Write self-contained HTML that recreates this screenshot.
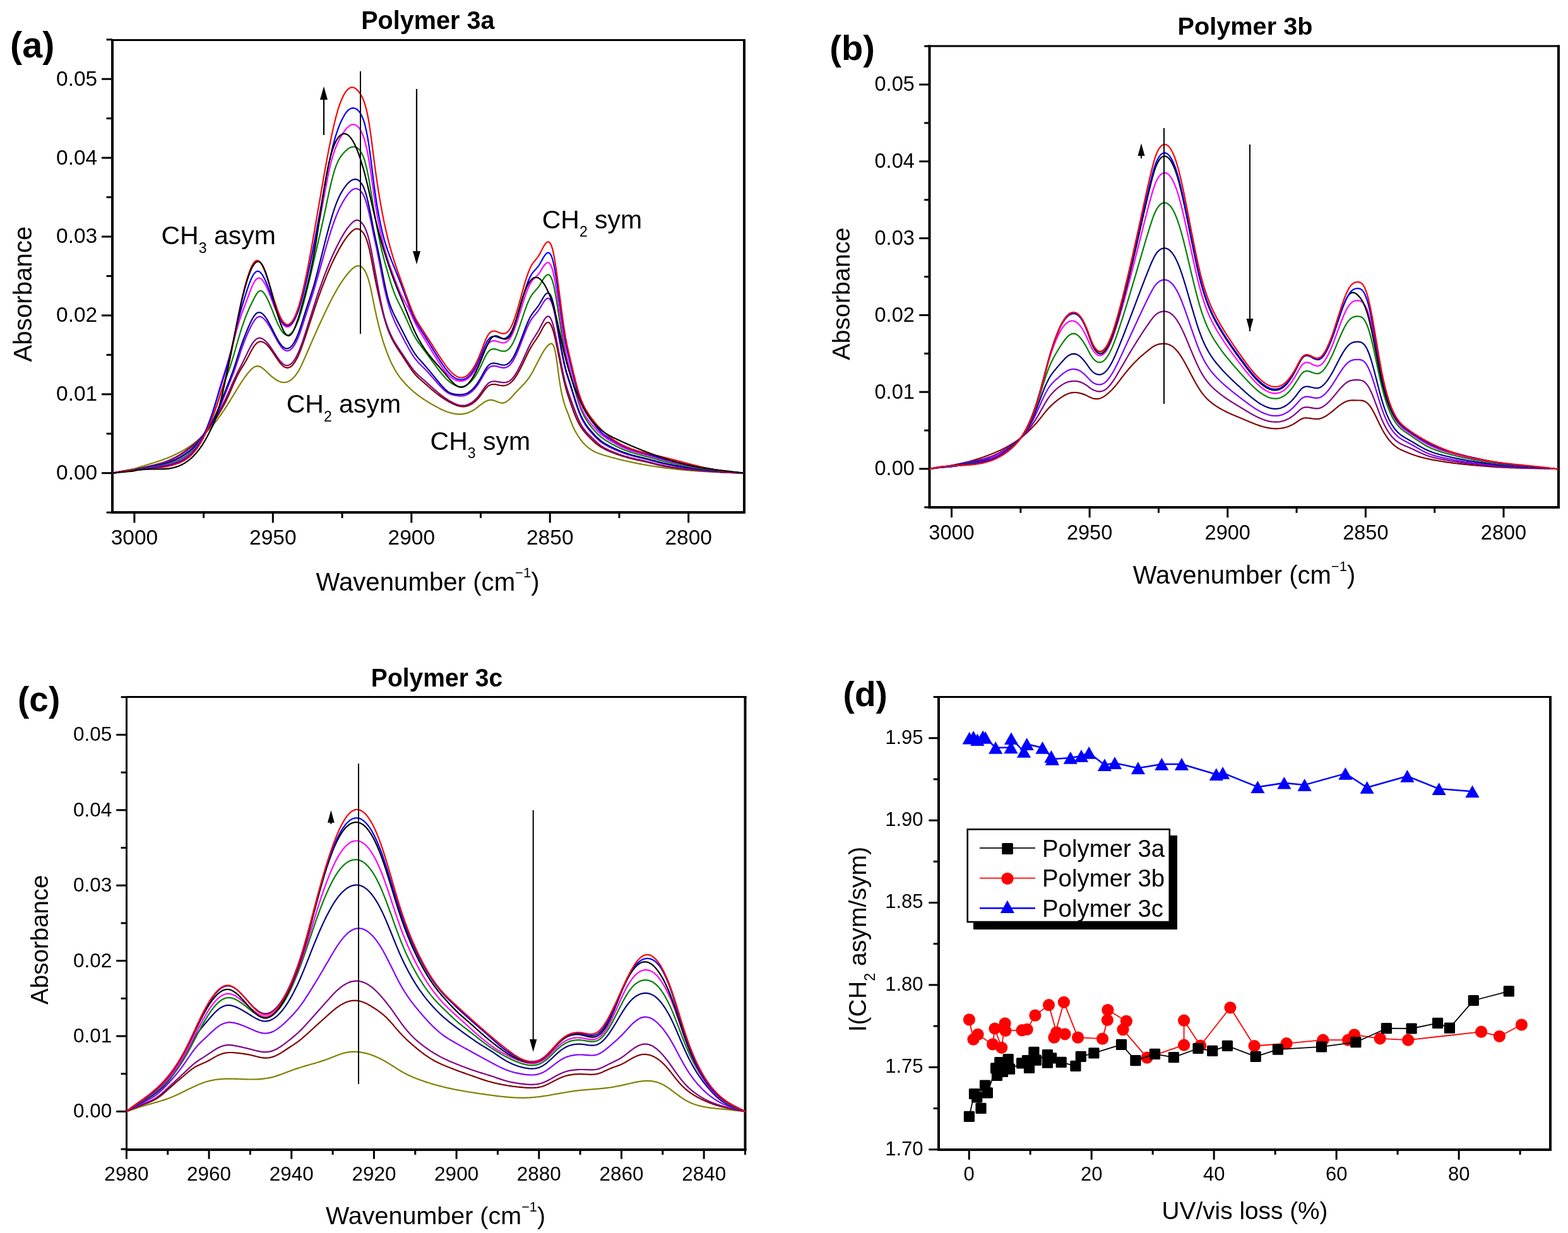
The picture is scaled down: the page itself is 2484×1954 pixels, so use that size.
<!DOCTYPE html><html><head><meta charset="utf-8"><title>Figure</title><style>html,body{margin:0;padding:0;background:#fff;}svg{display:block;}</style></head><body><svg xmlns="http://www.w3.org/2000/svg" width="2484" height="1954" viewBox="0 0 2484 1954" font-family='"Liberation Sans", Arial, Helvetica, sans-serif'><rect width="100%" height="100%" fill="#fff"/><line x1="1090.70" y1="812.00" x2="1090.70" y2="828.50" stroke="#000" stroke-width="3" stroke-linecap="butt"/>
<line x1="980.98" y1="812.00" x2="980.98" y2="821.00" stroke="#000" stroke-width="3" stroke-linecap="butt"/>
<line x1="871.25" y1="812.00" x2="871.25" y2="828.50" stroke="#000" stroke-width="3" stroke-linecap="butt"/>
<line x1="761.52" y1="812.00" x2="761.52" y2="821.00" stroke="#000" stroke-width="3" stroke-linecap="butt"/>
<line x1="651.80" y1="812.00" x2="651.80" y2="828.50" stroke="#000" stroke-width="3" stroke-linecap="butt"/>
<line x1="542.08" y1="812.00" x2="542.08" y2="821.00" stroke="#000" stroke-width="3" stroke-linecap="butt"/>
<line x1="432.35" y1="812.00" x2="432.35" y2="828.50" stroke="#000" stroke-width="3" stroke-linecap="butt"/>
<line x1="322.62" y1="812.00" x2="322.62" y2="821.00" stroke="#000" stroke-width="3" stroke-linecap="butt"/>
<line x1="212.90" y1="812.00" x2="212.90" y2="828.50" stroke="#000" stroke-width="3" stroke-linecap="butt"/>
<line x1="168.60" y1="812.15" x2="178.00" y2="812.15" stroke="#000" stroke-width="3" stroke-linecap="butt"/>
<line x1="161.00" y1="749.70" x2="178.00" y2="749.70" stroke="#000" stroke-width="3" stroke-linecap="butt"/>
<line x1="168.60" y1="687.25" x2="178.00" y2="687.25" stroke="#000" stroke-width="3" stroke-linecap="butt"/>
<line x1="161.00" y1="624.80" x2="178.00" y2="624.80" stroke="#000" stroke-width="3" stroke-linecap="butt"/>
<line x1="168.60" y1="562.35" x2="178.00" y2="562.35" stroke="#000" stroke-width="3" stroke-linecap="butt"/>
<line x1="161.00" y1="499.90" x2="178.00" y2="499.90" stroke="#000" stroke-width="3" stroke-linecap="butt"/>
<line x1="168.60" y1="437.45" x2="178.00" y2="437.45" stroke="#000" stroke-width="3" stroke-linecap="butt"/>
<line x1="161.00" y1="375.00" x2="178.00" y2="375.00" stroke="#000" stroke-width="3" stroke-linecap="butt"/>
<line x1="168.60" y1="312.55" x2="178.00" y2="312.55" stroke="#000" stroke-width="3" stroke-linecap="butt"/>
<line x1="161.00" y1="250.10" x2="178.00" y2="250.10" stroke="#000" stroke-width="3" stroke-linecap="butt"/>
<line x1="168.60" y1="187.65" x2="178.00" y2="187.65" stroke="#000" stroke-width="3" stroke-linecap="butt"/>
<line x1="161.00" y1="125.20" x2="178.00" y2="125.20" stroke="#000" stroke-width="3" stroke-linecap="butt"/>
<line x1="168.60" y1="62.75" x2="178.00" y2="62.75" stroke="#000" stroke-width="3" stroke-linecap="butt"/>
<line x1="176.00" y1="63.50" x2="1181.00" y2="63.50" stroke="#000" stroke-width="3" stroke-linecap="butt"/>
<line x1="176.00" y1="812.00" x2="1181.00" y2="812.00" stroke="#000" stroke-width="4" stroke-linecap="butt"/>
<line x1="178.00" y1="62.00" x2="178.00" y2="814.00" stroke="#000" stroke-width="4" stroke-linecap="butt"/>
<line x1="1179.00" y1="62.00" x2="1179.00" y2="814.00" stroke="#000" stroke-width="4" stroke-linecap="butt"/>
<text transform="translate(1090.70,863.40)" font-size="33.5" text-anchor="middle" fill="#000">2800</text>
<text transform="translate(871.25,863.40)" font-size="33.5" text-anchor="middle" fill="#000">2850</text>
<text transform="translate(651.80,863.40)" font-size="33.5" text-anchor="middle" fill="#000">2900</text>
<text transform="translate(432.35,863.40)" font-size="33.5" text-anchor="middle" fill="#000">2950</text>
<text transform="translate(212.90,863.40)" font-size="33.5" text-anchor="middle" fill="#000">3000</text>
<text transform="translate(154.20,760.10)" font-size="33.5" text-anchor="end" fill="#000">0.00</text>
<text transform="translate(154.20,635.20)" font-size="33.5" text-anchor="end" fill="#000">0.01</text>
<text transform="translate(154.20,510.30)" font-size="33.5" text-anchor="end" fill="#000">0.02</text>
<text transform="translate(154.20,385.40)" font-size="33.5" text-anchor="end" fill="#000">0.03</text>
<text transform="translate(154.20,260.50)" font-size="33.5" text-anchor="end" fill="#000">0.04</text>
<text transform="translate(154.20,135.60)" font-size="33.5" text-anchor="end" fill="#000">0.05</text>
<line x1="2382.00" y1="804.00" x2="2382.00" y2="820.20" stroke="#000" stroke-width="3" stroke-linecap="butt"/>
<line x1="2272.69" y1="804.00" x2="2272.69" y2="812.80" stroke="#000" stroke-width="3" stroke-linecap="butt"/>
<line x1="2163.38" y1="804.00" x2="2163.38" y2="820.20" stroke="#000" stroke-width="3" stroke-linecap="butt"/>
<line x1="2054.06" y1="804.00" x2="2054.06" y2="812.80" stroke="#000" stroke-width="3" stroke-linecap="butt"/>
<line x1="1944.75" y1="804.00" x2="1944.75" y2="820.20" stroke="#000" stroke-width="3" stroke-linecap="butt"/>
<line x1="1835.44" y1="804.00" x2="1835.44" y2="812.80" stroke="#000" stroke-width="3" stroke-linecap="butt"/>
<line x1="1726.12" y1="804.00" x2="1726.12" y2="820.20" stroke="#000" stroke-width="3" stroke-linecap="butt"/>
<line x1="1616.81" y1="804.00" x2="1616.81" y2="812.80" stroke="#000" stroke-width="3" stroke-linecap="butt"/>
<line x1="1507.50" y1="804.00" x2="1507.50" y2="820.20" stroke="#000" stroke-width="3" stroke-linecap="butt"/>
<line x1="1464.20" y1="803.90" x2="1472.50" y2="803.90" stroke="#000" stroke-width="3" stroke-linecap="butt"/>
<line x1="1456.20" y1="743.00" x2="1472.50" y2="743.00" stroke="#000" stroke-width="3" stroke-linecap="butt"/>
<line x1="1464.20" y1="682.10" x2="1472.50" y2="682.10" stroke="#000" stroke-width="3" stroke-linecap="butt"/>
<line x1="1456.20" y1="621.20" x2="1472.50" y2="621.20" stroke="#000" stroke-width="3" stroke-linecap="butt"/>
<line x1="1464.20" y1="560.30" x2="1472.50" y2="560.30" stroke="#000" stroke-width="3" stroke-linecap="butt"/>
<line x1="1456.20" y1="499.40" x2="1472.50" y2="499.40" stroke="#000" stroke-width="3" stroke-linecap="butt"/>
<line x1="1464.20" y1="438.50" x2="1472.50" y2="438.50" stroke="#000" stroke-width="3" stroke-linecap="butt"/>
<line x1="1456.20" y1="377.60" x2="1472.50" y2="377.60" stroke="#000" stroke-width="3" stroke-linecap="butt"/>
<line x1="1464.20" y1="316.70" x2="1472.50" y2="316.70" stroke="#000" stroke-width="3" stroke-linecap="butt"/>
<line x1="1456.20" y1="255.80" x2="1472.50" y2="255.80" stroke="#000" stroke-width="3" stroke-linecap="butt"/>
<line x1="1464.20" y1="194.90" x2="1472.50" y2="194.90" stroke="#000" stroke-width="3" stroke-linecap="butt"/>
<line x1="1456.20" y1="134.00" x2="1472.50" y2="134.00" stroke="#000" stroke-width="3" stroke-linecap="butt"/>
<line x1="1464.20" y1="73.10" x2="1472.50" y2="73.10" stroke="#000" stroke-width="3" stroke-linecap="butt"/>
<line x1="1470.50" y1="73.00" x2="2471.00" y2="73.00" stroke="#000" stroke-width="3" stroke-linecap="butt"/>
<line x1="1470.50" y1="804.00" x2="2471.00" y2="804.00" stroke="#000" stroke-width="4" stroke-linecap="butt"/>
<line x1="1472.50" y1="71.50" x2="1472.50" y2="806.00" stroke="#000" stroke-width="4" stroke-linecap="butt"/>
<line x1="2469.00" y1="71.50" x2="2469.00" y2="806.00" stroke="#000" stroke-width="4" stroke-linecap="butt"/>
<text transform="translate(2382.00,855.00)" font-size="32.5" text-anchor="middle" fill="#000">2800</text>
<text transform="translate(2163.38,855.00)" font-size="32.5" text-anchor="middle" fill="#000">2850</text>
<text transform="translate(1944.75,855.00)" font-size="32.5" text-anchor="middle" fill="#000">2900</text>
<text transform="translate(1726.12,855.00)" font-size="32.5" text-anchor="middle" fill="#000">2950</text>
<text transform="translate(1507.50,855.00)" font-size="32.5" text-anchor="middle" fill="#000">3000</text>
<text transform="translate(1448.80,753.30)" font-size="32.5" text-anchor="end" fill="#000">0.00</text>
<text transform="translate(1448.80,631.50)" font-size="32.5" text-anchor="end" fill="#000">0.01</text>
<text transform="translate(1448.80,509.70)" font-size="32.5" text-anchor="end" fill="#000">0.02</text>
<text transform="translate(1448.80,387.90)" font-size="32.5" text-anchor="end" fill="#000">0.03</text>
<text transform="translate(1448.80,266.10)" font-size="32.5" text-anchor="end" fill="#000">0.04</text>
<text transform="translate(1448.80,144.30)" font-size="32.5" text-anchor="end" fill="#000">0.05</text>
<line x1="1180.50" y1="1822.00" x2="1180.50" y2="1830.00" stroke="#000" stroke-width="3" stroke-linecap="butt"/>
<line x1="1115.16" y1="1822.00" x2="1115.16" y2="1836.70" stroke="#000" stroke-width="3" stroke-linecap="butt"/>
<line x1="1049.82" y1="1822.00" x2="1049.82" y2="1830.00" stroke="#000" stroke-width="3" stroke-linecap="butt"/>
<line x1="984.48" y1="1822.00" x2="984.48" y2="1836.70" stroke="#000" stroke-width="3" stroke-linecap="butt"/>
<line x1="919.14" y1="1822.00" x2="919.14" y2="1830.00" stroke="#000" stroke-width="3" stroke-linecap="butt"/>
<line x1="853.80" y1="1822.00" x2="853.80" y2="1836.70" stroke="#000" stroke-width="3" stroke-linecap="butt"/>
<line x1="788.46" y1="1822.00" x2="788.46" y2="1830.00" stroke="#000" stroke-width="3" stroke-linecap="butt"/>
<line x1="723.12" y1="1822.00" x2="723.12" y2="1836.70" stroke="#000" stroke-width="3" stroke-linecap="butt"/>
<line x1="657.78" y1="1822.00" x2="657.78" y2="1830.00" stroke="#000" stroke-width="3" stroke-linecap="butt"/>
<line x1="592.44" y1="1822.00" x2="592.44" y2="1836.70" stroke="#000" stroke-width="3" stroke-linecap="butt"/>
<line x1="527.10" y1="1822.00" x2="527.10" y2="1830.00" stroke="#000" stroke-width="3" stroke-linecap="butt"/>
<line x1="461.76" y1="1822.00" x2="461.76" y2="1836.70" stroke="#000" stroke-width="3" stroke-linecap="butt"/>
<line x1="396.42" y1="1822.00" x2="396.42" y2="1830.00" stroke="#000" stroke-width="3" stroke-linecap="butt"/>
<line x1="331.08" y1="1822.00" x2="331.08" y2="1836.70" stroke="#000" stroke-width="3" stroke-linecap="butt"/>
<line x1="265.74" y1="1822.00" x2="265.74" y2="1830.00" stroke="#000" stroke-width="3" stroke-linecap="butt"/>
<line x1="200.40" y1="1822.00" x2="200.40" y2="1836.70" stroke="#000" stroke-width="3" stroke-linecap="butt"/>
<line x1="191.60" y1="1821.10" x2="200.50" y2="1821.10" stroke="#000" stroke-width="3" stroke-linecap="butt"/>
<line x1="184.20" y1="1761.40" x2="200.50" y2="1761.40" stroke="#000" stroke-width="3" stroke-linecap="butt"/>
<line x1="191.60" y1="1701.70" x2="200.50" y2="1701.70" stroke="#000" stroke-width="3" stroke-linecap="butt"/>
<line x1="184.20" y1="1642.00" x2="200.50" y2="1642.00" stroke="#000" stroke-width="3" stroke-linecap="butt"/>
<line x1="191.60" y1="1582.30" x2="200.50" y2="1582.30" stroke="#000" stroke-width="3" stroke-linecap="butt"/>
<line x1="184.20" y1="1522.60" x2="200.50" y2="1522.60" stroke="#000" stroke-width="3" stroke-linecap="butt"/>
<line x1="191.60" y1="1462.90" x2="200.50" y2="1462.90" stroke="#000" stroke-width="3" stroke-linecap="butt"/>
<line x1="184.20" y1="1403.20" x2="200.50" y2="1403.20" stroke="#000" stroke-width="3" stroke-linecap="butt"/>
<line x1="191.60" y1="1343.50" x2="200.50" y2="1343.50" stroke="#000" stroke-width="3" stroke-linecap="butt"/>
<line x1="184.20" y1="1283.80" x2="200.50" y2="1283.80" stroke="#000" stroke-width="3" stroke-linecap="butt"/>
<line x1="191.60" y1="1224.10" x2="200.50" y2="1224.10" stroke="#000" stroke-width="3" stroke-linecap="butt"/>
<line x1="184.20" y1="1164.40" x2="200.50" y2="1164.40" stroke="#000" stroke-width="3" stroke-linecap="butt"/>
<line x1="191.60" y1="1104.70" x2="200.50" y2="1104.70" stroke="#000" stroke-width="3" stroke-linecap="butt"/>
<line x1="199.00" y1="1104.50" x2="1182.50" y2="1104.50" stroke="#000" stroke-width="3" stroke-linecap="butt"/>
<line x1="199.00" y1="1822.00" x2="1182.50" y2="1822.00" stroke="#000" stroke-width="4" stroke-linecap="butt"/>
<line x1="200.50" y1="1103.00" x2="200.50" y2="1824.00" stroke="#000" stroke-width="3" stroke-linecap="butt"/>
<line x1="1180.50" y1="1103.00" x2="1180.50" y2="1824.00" stroke="#000" stroke-width="4" stroke-linecap="butt"/>
<text transform="translate(1115.16,1871.00)" font-size="31.5" text-anchor="middle" fill="#000">2840</text>
<text transform="translate(984.48,1871.00)" font-size="31.5" text-anchor="middle" fill="#000">2860</text>
<text transform="translate(853.80,1871.00)" font-size="31.5" text-anchor="middle" fill="#000">2880</text>
<text transform="translate(723.12,1871.00)" font-size="31.5" text-anchor="middle" fill="#000">2900</text>
<text transform="translate(592.44,1871.00)" font-size="31.5" text-anchor="middle" fill="#000">2920</text>
<text transform="translate(461.76,1871.00)" font-size="31.5" text-anchor="middle" fill="#000">2940</text>
<text transform="translate(331.08,1871.00)" font-size="31.5" text-anchor="middle" fill="#000">2960</text>
<text transform="translate(200.40,1871.00)" font-size="31.5" text-anchor="middle" fill="#000">2980</text>
<text transform="translate(177.30,1771.30)" font-size="31.5" text-anchor="end" fill="#000">0.00</text>
<text transform="translate(177.30,1651.90)" font-size="31.5" text-anchor="end" fill="#000">0.01</text>
<text transform="translate(177.30,1532.50)" font-size="31.5" text-anchor="end" fill="#000">0.02</text>
<text transform="translate(177.30,1413.10)" font-size="31.5" text-anchor="end" fill="#000">0.03</text>
<text transform="translate(177.30,1293.70)" font-size="31.5" text-anchor="end" fill="#000">0.04</text>
<text transform="translate(177.30,1174.30)" font-size="31.5" text-anchor="end" fill="#000">0.05</text>
<line x1="1535.20" y1="1822.00" x2="1535.20" y2="1837.80" stroke="#000" stroke-width="3" stroke-linecap="butt"/>
<line x1="1632.19" y1="1822.00" x2="1632.19" y2="1829.90" stroke="#000" stroke-width="3" stroke-linecap="butt"/>
<line x1="1729.18" y1="1822.00" x2="1729.18" y2="1837.80" stroke="#000" stroke-width="3" stroke-linecap="butt"/>
<line x1="1826.17" y1="1822.00" x2="1826.17" y2="1829.90" stroke="#000" stroke-width="3" stroke-linecap="butt"/>
<line x1="1923.16" y1="1822.00" x2="1923.16" y2="1837.80" stroke="#000" stroke-width="3" stroke-linecap="butt"/>
<line x1="2020.15" y1="1822.00" x2="2020.15" y2="1829.90" stroke="#000" stroke-width="3" stroke-linecap="butt"/>
<line x1="2117.14" y1="1822.00" x2="2117.14" y2="1837.80" stroke="#000" stroke-width="3" stroke-linecap="butt"/>
<line x1="2214.13" y1="1822.00" x2="2214.13" y2="1829.90" stroke="#000" stroke-width="3" stroke-linecap="butt"/>
<line x1="2311.12" y1="1822.00" x2="2311.12" y2="1837.80" stroke="#000" stroke-width="3" stroke-linecap="butt"/>
<line x1="2408.11" y1="1822.00" x2="2408.11" y2="1829.90" stroke="#000" stroke-width="3" stroke-linecap="butt"/>
<line x1="1471.30" y1="1821.70" x2="1487.00" y2="1821.70" stroke="#000" stroke-width="3" stroke-linecap="butt"/>
<line x1="1478.70" y1="1756.50" x2="1487.00" y2="1756.50" stroke="#000" stroke-width="3" stroke-linecap="butt"/>
<line x1="1471.30" y1="1691.30" x2="1487.00" y2="1691.30" stroke="#000" stroke-width="3" stroke-linecap="butt"/>
<line x1="1478.70" y1="1626.10" x2="1487.00" y2="1626.10" stroke="#000" stroke-width="3" stroke-linecap="butt"/>
<line x1="1471.30" y1="1560.90" x2="1487.00" y2="1560.90" stroke="#000" stroke-width="3" stroke-linecap="butt"/>
<line x1="1478.70" y1="1495.70" x2="1487.00" y2="1495.70" stroke="#000" stroke-width="3" stroke-linecap="butt"/>
<line x1="1471.30" y1="1430.50" x2="1487.00" y2="1430.50" stroke="#000" stroke-width="3" stroke-linecap="butt"/>
<line x1="1478.70" y1="1365.30" x2="1487.00" y2="1365.30" stroke="#000" stroke-width="3" stroke-linecap="butt"/>
<line x1="1471.30" y1="1300.10" x2="1487.00" y2="1300.10" stroke="#000" stroke-width="3" stroke-linecap="butt"/>
<line x1="1478.70" y1="1234.90" x2="1487.00" y2="1234.90" stroke="#000" stroke-width="3" stroke-linecap="butt"/>
<line x1="1471.30" y1="1169.70" x2="1487.00" y2="1169.70" stroke="#000" stroke-width="3" stroke-linecap="butt"/>
<line x1="1478.70" y1="1104.50" x2="1487.00" y2="1104.50" stroke="#000" stroke-width="3" stroke-linecap="butt"/>
<line x1="1485.00" y1="1104.50" x2="2458.00" y2="1104.50" stroke="#000" stroke-width="3" stroke-linecap="butt"/>
<line x1="1485.00" y1="1822.00" x2="2458.00" y2="1822.00" stroke="#000" stroke-width="4" stroke-linecap="butt"/>
<line x1="1487.00" y1="1103.00" x2="1487.00" y2="1824.00" stroke="#000" stroke-width="4" stroke-linecap="butt"/>
<line x1="2456.00" y1="1103.00" x2="2456.00" y2="1824.00" stroke="#000" stroke-width="4" stroke-linecap="butt"/>
<text transform="translate(1535.20,1870.80)" font-size="31" text-anchor="middle" fill="#000">0</text>
<text transform="translate(1729.18,1870.80)" font-size="31" text-anchor="middle" fill="#000">20</text>
<text transform="translate(1923.16,1870.80)" font-size="31" text-anchor="middle" fill="#000">40</text>
<text transform="translate(2117.14,1870.80)" font-size="31" text-anchor="middle" fill="#000">60</text>
<text transform="translate(2311.12,1870.80)" font-size="31" text-anchor="middle" fill="#000">80</text>
<text transform="translate(1462.60,1830.60)" font-size="31" text-anchor="end" fill="#000">1.70</text>
<text transform="translate(1462.60,1700.20)" font-size="31" text-anchor="end" fill="#000">1.75</text>
<text transform="translate(1462.60,1569.80)" font-size="31" text-anchor="end" fill="#000">1.80</text>
<text transform="translate(1462.60,1439.40)" font-size="31" text-anchor="end" fill="#000">1.85</text>
<text transform="translate(1462.60,1309.00)" font-size="31" text-anchor="end" fill="#000">1.90</text>
<text transform="translate(1462.60,1178.60)" font-size="31" text-anchor="end" fill="#000">1.95</text>
<path d="M178.6,749.7 L180.1,749.4 L181.6,749.1 L183.1,748.8 L184.6,748.5 L186.1,748.2 L187.6,747.9 L189.1,747.6 L190.6,747.3 L192.1,747.0 L193.6,746.7 L195.1,746.4 L196.7,746.1 L198.2,745.8 L199.7,745.5 L201.2,745.2 L202.7,744.9 L204.2,744.6 L205.7,744.3 L207.2,744.0 L208.7,743.7 L210.2,743.4 L211.7,743.2 L213.2,742.7 L214.7,742.2 L216.2,741.7 L217.7,741.3 L219.2,740.8 L220.7,740.3 L222.2,739.9 L223.7,739.4 L225.2,739.0 L226.7,738.5 L228.2,738.1 L229.7,737.6 L231.3,737.2 L232.8,736.7 L234.3,736.3 L235.8,735.8 L237.3,735.3 L238.8,734.9 L240.3,734.4 L241.8,734.0 L243.3,733.5 L244.8,733.0 L246.3,732.5 L247.8,732.0 L249.3,731.6 L250.8,731.1 L252.3,730.5 L253.8,730.0 L255.3,729.5 L256.8,729.0 L258.3,728.4 L259.8,727.9 L261.3,727.3 L262.8,726.8 L264.3,726.2 L265.9,725.6 L267.4,725.0 L268.9,724.3 L270.4,723.7 L271.9,723.1 L273.4,722.4 L274.9,721.7 L276.4,721.0 L277.9,720.3 L279.4,719.6 L280.9,718.8 L282.4,718.1 L283.9,717.3 L285.4,716.5 L286.9,715.7 L288.4,714.8 L289.9,714.0 L291.4,713.1 L292.9,712.2 L294.4,711.3 L295.9,710.3 L297.4,709.4 L298.9,708.4 L300.5,707.4 L302.0,706.3 L303.5,705.3 L305.0,704.2 L306.5,703.1 L308.0,701.9 L309.5,700.7 L311.0,699.5 L312.5,698.3 L314.0,697.1 L315.5,695.8 L317.0,694.5 L318.5,693.1 L320.0,691.7 L321.5,690.3 L323.0,688.9 L324.5,687.4 L326.0,685.9 L327.5,684.4 L329.0,682.8 L330.5,681.2 L332.0,679.6 L333.5,677.9 L335.1,676.2 L336.6,674.5 L338.1,672.7 L339.6,670.8 L341.1,669.0 L342.6,667.1 L344.1,665.2 L345.6,663.2 L347.1,661.2 L348.6,659.1 L350.1,657.0 L351.6,654.9 L353.1,652.7 L354.6,650.5 L356.1,648.2 L357.6,645.9 L359.1,643.5 L360.6,641.1 L362.1,638.7 L363.6,636.3 L365.1,633.8 L366.6,631.3 L368.1,628.9 L369.7,626.4 L371.2,623.9 L372.7,621.4 L374.2,618.9 L375.7,616.5 L377.2,614.0 L378.7,611.6 L380.2,609.3 L381.7,606.9 L383.2,604.6 L384.7,602.4 L386.2,600.2 L387.7,598.0 L389.2,596.0 L390.7,594.0 L392.2,592.0 L393.7,590.2 L395.2,588.4 L396.7,586.8 L398.2,585.2 L399.7,583.9 L401.2,582.7 L402.7,581.7 L404.3,581.0 L405.8,580.5 L407.3,580.2 L408.8,580.3 L410.3,580.6 L411.8,581.1 L413.3,581.8 L414.8,582.7 L416.3,583.8 L417.8,585.0 L419.3,586.3 L420.8,587.7 L422.3,589.1 L423.8,590.6 L425.3,592.0 L426.8,593.4 L428.3,594.8 L429.8,596.1 L431.3,597.4 L432.8,598.6 L434.3,599.7 L435.8,600.8 L437.4,601.8 L438.9,602.7 L440.4,603.5 L441.9,604.2 L443.4,604.8 L444.9,605.3 L446.4,605.7 L447.9,605.9 L449.4,606.1 L450.9,606.0 L452.4,605.9 L453.9,605.6 L455.4,605.1 L456.9,604.5 L458.4,603.8 L459.9,602.9 L461.4,601.8 L462.9,600.5 L464.4,599.1 L465.9,597.5 L467.4,595.8 L468.9,593.8 L470.4,591.7 L472.0,589.4 L473.5,586.8 L475.0,584.1 L476.5,581.2 L478.0,578.1 L479.5,574.8 L481.0,571.4 L482.5,568.0 L484.0,564.5 L485.5,561.1 L487.0,557.7 L488.5,554.2 L490.0,550.8 L491.5,547.3 L493.0,543.9 L494.5,540.4 L496.0,537.0 L497.5,533.6 L499.0,530.2 L500.5,526.8 L502.0,523.4 L503.5,520.0 L505.0,516.7 L506.6,513.3 L508.1,510.0 L509.6,506.7 L511.1,503.5 L512.6,500.3 L514.1,497.1 L515.6,493.9 L517.1,490.8 L518.6,487.7 L520.1,484.6 L521.6,481.6 L523.1,478.6 L524.6,475.7 L526.1,472.8 L527.6,469.9 L529.1,467.2 L530.6,464.4 L532.1,461.7 L533.6,459.1 L535.1,456.5 L536.6,454.0 L538.1,451.6 L539.6,449.2 L541.2,446.9 L542.7,444.7 L544.2,442.5 L545.7,440.4 L547.2,438.3 L548.7,436.4 L550.2,434.5 L551.7,432.7 L553.2,431.0 L554.7,429.4 L556.2,427.8 L557.7,426.4 L559.2,425.1 L560.7,423.9 L562.2,423.0 L563.7,422.2 L565.2,421.6 L566.7,421.3 L568.2,421.3 L569.7,421.5 L571.2,422.0 L572.7,422.9 L574.2,424.2 L575.8,425.8 L577.3,427.9 L578.8,430.5 L580.3,433.6 L581.8,437.3 L583.3,441.7 L584.8,446.9 L586.3,452.8 L587.8,459.6 L589.3,466.9 L590.8,474.4 L592.3,481.9 L593.8,489.1 L595.3,496.1 L596.8,502.7 L598.3,509.2 L599.8,515.3 L601.3,521.2 L602.8,526.8 L604.3,532.2 L605.8,537.3 L607.3,542.2 L608.8,546.9 L610.4,551.4 L611.9,555.6 L613.4,559.6 L614.9,563.5 L616.4,567.1 L617.9,570.6 L619.4,573.9 L620.9,577.0 L622.4,580.0 L623.9,582.8 L625.4,585.5 L626.9,588.1 L628.4,590.5 L629.9,592.8 L631.4,595.0 L632.9,597.1 L634.4,599.1 L635.9,601.0 L637.4,602.9 L638.9,604.6 L640.4,606.3 L641.9,608.0 L643.4,609.6 L645.0,611.1 L646.5,612.7 L648.0,614.1 L649.5,615.6 L651.0,617.0 L652.5,618.3 L654.0,619.7 L655.5,621.0 L657.0,622.2 L658.5,623.4 L660.0,624.6 L661.5,625.8 L663.0,626.9 L664.5,628.1 L666.0,629.1 L667.5,630.2 L669.0,631.2 L670.5,632.3 L672.0,633.2 L673.5,634.2 L675.0,635.2 L676.5,636.1 L678.0,637.0 L679.6,638.0 L681.1,638.9 L682.6,639.7 L684.1,640.6 L685.6,641.5 L687.1,642.3 L688.6,643.2 L690.1,644.0 L691.6,644.8 L693.1,645.6 L694.6,646.4 L696.1,647.2 L697.6,648.0 L699.1,648.7 L700.6,649.4 L702.1,650.1 L703.6,650.7 L705.1,651.3 L706.6,651.9 L708.1,652.5 L709.6,653.0 L711.1,653.5 L712.6,654.0 L714.2,654.4 L715.7,654.8 L717.2,655.2 L718.7,655.5 L720.2,655.7 L721.7,656.0 L723.2,656.1 L724.7,656.3 L726.2,656.4 L727.7,656.4 L729.2,656.4 L730.7,656.3 L732.2,656.2 L733.7,656.0 L735.2,655.7 L736.7,655.4 L738.2,655.1 L739.7,654.6 L741.2,654.2 L742.7,653.6 L744.2,653.0 L745.7,652.3 L747.2,651.5 L748.8,650.7 L750.3,649.8 L751.8,648.8 L753.3,647.8 L754.8,646.7 L756.3,645.5 L757.8,644.4 L759.3,643.2 L760.8,642.0 L762.3,640.9 L763.8,639.8 L765.3,638.7 L766.8,637.7 L768.3,636.8 L769.8,635.9 L771.3,635.2 L772.8,634.6 L774.3,634.2 L775.8,633.9 L777.3,633.8 L778.8,633.8 L780.3,634.1 L781.8,634.5 L783.4,634.9 L784.9,635.5 L786.4,636.1 L787.9,636.7 L789.4,637.3 L790.9,637.8 L792.4,638.2 L793.9,638.5 L795.4,638.7 L796.9,638.6 L798.4,638.4 L799.9,637.8 L801.4,637.1 L802.9,636.2 L804.4,635.0 L805.9,633.8 L807.4,632.4 L808.9,630.9 L810.4,629.3 L811.9,627.7 L813.4,626.0 L814.9,624.3 L816.4,622.6 L818.0,621.0 L819.5,619.4 L821.0,617.8 L822.5,616.3 L824.0,614.8 L825.5,613.3 L827.0,611.8 L828.5,610.2 L830.0,608.6 L831.5,606.9 L833.0,605.2 L834.5,603.4 L836.0,601.4 L837.5,599.4 L839.0,597.2 L840.5,594.8 L842.0,592.3 L843.5,589.7 L845.0,586.9 L846.5,584.1 L848.0,581.2 L849.5,578.2 L851.0,575.3 L852.6,572.3 L854.1,569.4 L855.6,566.5 L857.1,563.6 L858.6,560.9 L860.1,558.3 L861.6,555.9 L863.1,553.6 L864.6,551.5 L866.1,549.6 L867.6,547.9 L869.1,546.5 L870.6,545.4 L872.1,544.7 L873.6,544.5 L875.1,545.3 L876.6,547.4 L878.1,551.2 L879.6,557.1 L881.1,565.5 L882.6,575.9 L884.1,587.4 L885.6,598.8 L887.2,609.0 L888.7,617.8 L890.2,625.3 L891.7,631.6 L893.2,637.1 L894.7,641.8 L896.2,646.1 L897.7,650.0 L899.2,653.8 L900.7,657.7 L902.2,661.8 L903.7,665.9 L905.2,669.9 L906.7,673.6 L908.2,677.0 L909.7,680.2 L911.2,683.1 L912.7,685.8 L914.2,688.3 L915.7,690.8 L917.2,693.0 L918.7,695.2 L920.2,697.2 L921.8,699.2 L923.3,701.0 L924.8,702.7 L926.3,704.3 L927.8,705.8 L929.3,707.2 L930.8,708.5 L932.3,709.7 L933.8,710.8 L935.3,711.9 L936.8,712.9 L938.3,713.8 L939.8,714.7 L941.3,715.5 L942.8,716.2 L944.3,716.9 L945.8,717.6 L947.3,718.2 L948.8,718.7 L950.3,719.3 L951.8,719.8 L953.3,720.3 L954.9,720.8 L956.4,721.2 L957.9,721.7 L959.4,722.1 L960.9,722.5 L962.4,723.0 L963.9,723.4 L965.4,723.8 L966.9,724.2 L968.4,724.7 L969.9,725.1 L971.4,725.5 L972.9,725.9 L974.4,726.3 L975.9,726.7 L977.4,727.0 L978.9,727.4 L980.4,727.8 L981.9,728.2 L983.4,728.6 L984.9,728.9 L986.4,729.3 L987.9,729.6 L989.5,730.0 L991.0,730.3 L992.5,730.7 L994.0,731.0 L995.5,731.4 L997.0,731.7 L998.5,732.0 L1000.0,732.4 L1001.5,732.7 L1003.0,733.0 L1004.5,733.3 L1006.0,733.6 L1007.5,733.9 L1009.0,734.2 L1010.5,734.5 L1012.0,734.8 L1013.5,735.1 L1015.0,735.4 L1016.5,735.7 L1018.0,736.0 L1019.5,736.2 L1021.0,736.5 L1022.5,736.8 L1024.1,737.0 L1025.6,737.3 L1027.1,737.5 L1028.6,737.8 L1030.1,738.0 L1031.6,738.3 L1033.1,738.5 L1034.6,738.8 L1036.1,739.0 L1037.6,739.2 L1039.1,739.5 L1040.6,739.7 L1042.1,739.9 L1043.6,740.1 L1045.1,740.4 L1046.6,740.6 L1048.1,740.8 L1049.6,741.0 L1051.1,741.2 L1052.6,741.4 L1054.1,741.6 L1055.6,741.8 L1057.1,742.0 L1058.7,742.1 L1060.2,742.3 L1061.7,742.5 L1063.2,742.7 L1064.7,742.9 L1066.2,743.0 L1067.7,743.2 L1069.2,743.4 L1070.7,743.5 L1072.2,743.7 L1073.7,743.8 L1075.2,744.0 L1076.7,744.2 L1078.2,744.3 L1079.7,744.4 L1081.2,744.6 L1082.7,744.7 L1084.2,744.9 L1085.7,745.0 L1087.2,745.1 L1088.7,745.3 L1090.2,745.4 L1091.7,745.5 L1093.3,745.6 L1094.8,745.8 L1096.3,745.9 L1097.8,746.0 L1099.3,746.1 L1100.8,746.2 L1102.3,746.3 L1103.8,746.4 L1105.3,746.5 L1106.8,746.6 L1108.3,746.7 L1109.8,746.8 L1111.3,746.9 L1112.8,747.0 L1114.3,747.1 L1115.8,747.2 L1117.3,747.2 L1118.8,747.3 L1120.3,747.4 L1121.8,747.5 L1123.3,747.6 L1124.8,747.6 L1126.3,747.7 L1127.9,747.8 L1129.4,747.8 L1130.9,747.9 L1132.4,748.0 L1133.9,748.0 L1135.4,748.1 L1136.9,748.1 L1138.4,748.2 L1139.9,748.2 L1141.4,748.3 L1142.9,748.3 L1144.4,748.4 L1145.9,748.5 L1147.4,748.6 L1148.9,748.6 L1150.4,748.7 L1151.9,748.7 L1153.4,748.8 L1154.9,748.9 L1156.4,748.9 L1157.9,749.0 L1159.4,749.0 L1160.9,749.1 L1162.5,749.1 L1164.0,749.2 L1165.5,749.2 L1167.0,749.3 L1168.5,749.3 L1170.0,749.4 L1171.5,749.4 L1173.0,749.5 L1174.5,749.5 L1176.0,749.6 L1177.5,749.6 L1179.0,749.7" fill="none" stroke="#808000" stroke-width="2.2" stroke-linejoin="round"/>
<path d="M178.6,749.8 L180.1,749.5 L181.6,749.1 L183.1,748.8 L184.6,748.4 L186.1,748.1 L187.6,747.8 L189.1,747.5 L190.6,747.3 L192.1,747.0 L193.6,746.7 L195.1,746.5 L196.7,746.3 L198.2,746.1 L199.7,745.9 L201.2,745.7 L202.7,745.5 L204.2,745.3 L205.7,745.1 L207.2,744.9 L208.7,744.7 L210.2,744.5 L211.7,744.2 L213.2,744.0 L214.7,743.7 L216.2,743.4 L217.7,743.1 L219.2,742.8 L220.7,742.4 L222.2,742.1 L223.7,741.8 L225.2,741.4 L226.7,741.1 L228.2,740.7 L229.7,740.4 L231.3,740.0 L232.8,739.7 L234.3,739.3 L235.8,738.9 L237.3,738.6 L238.8,738.2 L240.3,737.9 L241.8,737.5 L243.3,737.1 L244.8,736.8 L246.3,736.4 L247.8,736.0 L249.3,735.6 L250.8,735.2 L252.3,734.8 L253.8,734.4 L255.3,733.9 L256.8,733.5 L258.3,733.0 L259.8,732.5 L261.3,732.0 L262.8,731.4 L264.3,730.8 L265.9,730.2 L267.4,729.6 L268.9,728.9 L270.4,728.3 L271.9,727.6 L273.4,726.8 L274.9,726.1 L276.4,725.4 L277.9,724.6 L279.4,723.8 L280.9,723.0 L282.4,722.1 L283.9,721.3 L285.4,720.4 L286.9,719.4 L288.4,718.5 L289.9,717.4 L291.4,716.4 L292.9,715.3 L294.4,714.2 L295.9,713.1 L297.4,711.9 L298.9,710.8 L300.5,709.6 L302.0,708.5 L303.5,707.3 L305.0,706.1 L306.5,704.9 L308.0,703.6 L309.5,702.3 L311.0,700.9 L312.5,699.5 L314.0,698.0 L315.5,696.5 L317.0,694.9 L318.5,693.2 L320.0,691.5 L321.5,689.8 L323.0,688.0 L324.5,686.2 L326.0,684.4 L327.5,682.5 L329.0,680.7 L330.5,678.9 L332.0,677.0 L333.5,675.1 L335.1,673.1 L336.6,671.1 L338.1,669.1 L339.6,666.9 L341.1,664.7 L342.6,662.4 L344.1,660.1 L345.6,657.6 L347.1,655.2 L348.6,652.7 L350.1,650.1 L351.6,647.5 L353.1,644.8 L354.6,642.1 L356.1,639.2 L357.6,636.3 L359.1,633.2 L360.6,630.1 L362.1,626.8 L363.6,623.5 L365.1,620.1 L366.6,616.6 L368.1,613.0 L369.7,609.4 L371.2,605.9 L372.7,602.5 L374.2,599.2 L375.7,596.0 L377.2,593.1 L378.7,590.2 L380.2,587.5 L381.7,585.0 L383.2,582.6 L384.7,580.2 L386.2,577.8 L387.7,575.3 L389.2,572.7 L390.7,570.0 L392.2,567.2 L393.7,564.4 L395.2,561.5 L396.7,558.6 L398.2,555.8 L399.7,553.2 L401.2,550.7 L402.7,548.4 L404.3,546.4 L405.8,544.8 L407.3,543.4 L408.8,542.4 L410.3,541.7 L411.8,541.3 L413.3,541.3 L414.8,541.5 L416.3,542.0 L417.8,542.7 L419.3,543.6 L420.8,544.7 L422.3,546.0 L423.8,547.5 L425.3,549.2 L426.8,551.0 L428.3,553.0 L429.8,555.0 L431.3,557.2 L432.8,559.4 L434.3,561.7 L435.8,564.0 L437.4,566.3 L438.9,568.5 L440.4,570.7 L441.9,572.8 L443.4,574.8 L444.9,576.6 L446.4,578.2 L447.9,579.6 L449.4,580.8 L450.9,581.7 L452.4,582.4 L453.9,582.7 L455.4,582.9 L456.9,582.7 L458.4,582.2 L459.9,581.5 L461.4,580.4 L462.9,579.1 L464.4,577.4 L465.9,575.5 L467.4,573.3 L468.9,570.8 L470.4,568.0 L472.0,565.0 L473.5,561.6 L475.0,558.0 L476.5,554.2 L478.0,550.2 L479.5,546.0 L481.0,541.7 L482.5,537.3 L484.0,532.8 L485.5,528.3 L487.0,523.7 L488.5,519.1 L490.0,514.5 L491.5,509.9 L493.0,505.3 L494.5,500.8 L496.0,496.2 L497.5,491.6 L499.0,487.1 L500.5,482.6 L502.0,478.1 L503.5,473.8 L505.0,469.5 L506.6,465.3 L508.1,461.2 L509.6,457.2 L511.1,453.2 L512.6,449.3 L514.1,445.4 L515.6,441.6 L517.1,437.9 L518.6,434.2 L520.1,430.5 L521.6,427.0 L523.1,423.5 L524.6,420.2 L526.1,416.9 L527.6,413.8 L529.1,410.7 L530.6,407.7 L532.1,404.7 L533.6,401.8 L535.1,398.9 L536.6,396.1 L538.1,393.4 L539.6,390.7 L541.2,388.1 L542.7,385.6 L544.2,383.2 L545.7,380.9 L547.2,378.6 L548.7,376.6 L550.2,374.6 L551.7,372.8 L553.2,371.0 L554.7,369.4 L556.2,367.9 L557.7,366.4 L559.2,365.2 L560.7,364.1 L562.2,363.3 L563.7,362.7 L565.2,362.5 L566.7,362.6 L568.2,363.0 L569.7,363.8 L571.2,364.8 L572.7,366.0 L574.2,367.6 L575.8,369.5 L577.3,372.0 L578.8,374.9 L580.3,378.6 L581.8,382.9 L583.3,388.0 L584.8,393.8 L586.3,400.5 L587.8,407.9 L589.3,415.7 L590.8,423.7 L592.3,431.7 L593.8,439.5 L595.3,447.0 L596.8,454.2 L598.3,461.1 L599.8,467.8 L601.3,474.4 L602.8,480.7 L604.3,487.0 L605.8,493.1 L607.3,498.9 L608.8,504.5 L610.4,509.8 L611.9,514.7 L613.4,519.2 L614.9,523.3 L616.4,527.1 L617.9,530.6 L619.4,533.9 L620.9,536.9 L622.4,539.8 L623.9,542.5 L625.4,545.1 L626.9,547.6 L628.4,550.1 L629.9,552.5 L631.4,554.8 L632.9,557.1 L634.4,559.3 L635.9,561.6 L637.4,563.9 L638.9,566.2 L640.4,568.6 L641.9,570.9 L643.4,573.3 L645.0,575.7 L646.5,578.0 L648.0,580.3 L649.5,582.5 L651.0,584.7 L652.5,586.9 L654.0,588.9 L655.5,590.8 L657.0,592.6 L658.5,594.3 L660.0,595.9 L661.5,597.4 L663.0,598.9 L664.5,600.2 L666.0,601.6 L667.5,602.9 L669.0,604.2 L670.5,605.4 L672.0,606.7 L673.5,608.1 L675.0,609.4 L676.5,610.7 L678.0,612.0 L679.6,613.4 L681.1,614.7 L682.6,616.0 L684.1,617.3 L685.6,618.6 L687.1,619.9 L688.6,621.1 L690.1,622.3 L691.6,623.5 L693.1,624.7 L694.6,625.8 L696.1,626.9 L697.6,628.0 L699.1,629.0 L700.6,630.0 L702.1,631.1 L703.6,632.0 L705.1,633.0 L706.6,634.0 L708.1,634.9 L709.6,635.8 L711.1,636.7 L712.6,637.5 L714.2,638.3 L715.7,639.1 L717.2,639.9 L718.7,640.6 L720.2,641.2 L721.7,641.8 L723.2,642.4 L724.7,642.9 L726.2,643.3 L727.7,643.7 L729.2,644.0 L730.7,644.2 L732.2,644.3 L733.7,644.4 L735.2,644.3 L736.7,644.2 L738.2,643.9 L739.7,643.5 L741.2,643.1 L742.7,642.5 L744.2,641.9 L745.7,641.1 L747.2,640.2 L748.8,639.2 L750.3,638.1 L751.8,636.9 L753.3,635.6 L754.8,634.2 L756.3,632.7 L757.8,631.0 L759.3,629.2 L760.8,627.3 L762.3,625.3 L763.8,623.3 L765.3,621.2 L766.8,619.2 L768.3,617.2 L769.8,615.4 L771.3,613.8 L772.8,612.4 L774.3,611.2 L775.8,610.4 L777.3,609.7 L778.8,609.3 L780.3,609.1 L781.8,609.0 L783.4,609.1 L784.9,609.2 L786.4,609.5 L787.9,609.8 L789.4,610.2 L790.9,610.5 L792.4,610.8 L793.9,611.0 L795.4,611.2 L796.9,611.2 L798.4,611.1 L799.9,610.9 L801.4,610.5 L802.9,610.0 L804.4,609.4 L805.9,608.6 L807.4,607.6 L808.9,606.5 L810.4,605.2 L811.9,603.7 L813.4,602.0 L814.9,600.0 L816.4,597.9 L818.0,595.6 L819.5,593.1 L821.0,590.5 L822.5,587.8 L824.0,585.0 L825.5,582.0 L827.0,579.0 L828.5,575.9 L830.0,572.7 L831.5,569.5 L833.0,566.3 L834.5,563.2 L836.0,560.0 L837.5,557.0 L839.0,554.1 L840.5,551.4 L842.0,548.9 L843.5,546.5 L845.0,544.2 L846.5,542.0 L848.0,539.8 L849.5,537.6 L851.0,535.4 L852.6,533.0 L854.1,530.4 L855.6,527.7 L857.1,524.9 L858.6,522.1 L860.1,519.3 L861.6,516.8 L863.1,514.6 L864.6,512.8 L866.1,511.5 L867.6,510.9 L869.1,511.0 L870.6,511.9 L872.1,513.7 L873.6,516.5 L875.1,520.3 L876.6,525.0 L878.1,530.7 L879.6,537.1 L881.1,544.0 L882.6,551.2 L884.1,558.7 L885.6,566.2 L887.2,573.7 L888.7,581.2 L890.2,588.6 L891.7,595.7 L893.2,602.5 L894.7,608.8 L896.2,614.6 L897.7,619.9 L899.2,624.7 L900.7,629.3 L902.2,633.7 L903.7,638.1 L905.2,642.5 L906.7,646.7 L908.2,650.9 L909.7,654.8 L911.2,658.6 L912.7,662.2 L914.2,665.5 L915.7,668.7 L917.2,671.6 L918.7,674.2 L920.2,676.7 L921.8,678.9 L923.3,681.0 L924.8,683.0 L926.3,684.8 L927.8,686.6 L929.3,688.3 L930.8,689.9 L932.3,691.5 L933.8,693.0 L935.3,694.5 L936.8,696.0 L938.3,697.5 L939.8,698.9 L941.3,700.3 L942.8,701.6 L944.3,702.9 L945.8,704.1 L947.3,705.2 L948.8,706.3 L950.3,707.3 L951.8,708.3 L953.3,709.2 L954.9,710.1 L956.4,710.9 L957.9,711.7 L959.4,712.5 L960.9,713.2 L962.4,713.9 L963.9,714.6 L965.4,715.2 L966.9,715.9 L968.4,716.5 L969.9,717.1 L971.4,717.7 L972.9,718.3 L974.4,718.8 L975.9,719.4 L977.4,719.9 L978.9,720.5 L980.4,721.0 L981.9,721.5 L983.4,722.0 L984.9,722.5 L986.4,723.0 L987.9,723.5 L989.5,723.9 L991.0,724.3 L992.5,724.8 L994.0,725.2 L995.5,725.6 L997.0,726.0 L998.5,726.4 L1000.0,726.7 L1001.5,727.1 L1003.0,727.5 L1004.5,727.8 L1006.0,728.1 L1007.5,728.5 L1009.0,728.8 L1010.5,729.1 L1012.0,729.4 L1013.5,729.7 L1015.0,730.1 L1016.5,730.4 L1018.0,730.7 L1019.5,731.0 L1021.0,731.4 L1022.5,731.7 L1024.1,732.1 L1025.6,732.4 L1027.1,732.8 L1028.6,733.2 L1030.1,733.6 L1031.6,734.0 L1033.1,734.4 L1034.6,734.7 L1036.1,735.1 L1037.6,735.5 L1039.1,735.9 L1040.6,736.3 L1042.1,736.6 L1043.6,737.0 L1045.1,737.3 L1046.6,737.7 L1048.1,738.0 L1049.6,738.3 L1051.1,738.6 L1052.6,738.9 L1054.1,739.1 L1055.6,739.4 L1057.1,739.6 L1058.7,739.9 L1060.2,740.1 L1061.7,740.4 L1063.2,740.6 L1064.7,740.8 L1066.2,741.0 L1067.7,741.3 L1069.2,741.5 L1070.7,741.7 L1072.2,741.9 L1073.7,742.1 L1075.2,742.3 L1076.7,742.5 L1078.2,742.7 L1079.7,742.9 L1081.2,743.1 L1082.7,743.2 L1084.2,743.4 L1085.7,743.6 L1087.2,743.8 L1088.7,743.9 L1090.2,744.1 L1091.7,744.2 L1093.3,744.4 L1094.8,744.5 L1096.3,744.7 L1097.8,744.8 L1099.3,745.0 L1100.8,745.1 L1102.3,745.2 L1103.8,745.4 L1105.3,745.5 L1106.8,745.6 L1108.3,745.8 L1109.8,745.9 L1111.3,746.0 L1112.8,746.2 L1114.3,746.3 L1115.8,746.4 L1117.3,746.5 L1118.8,746.7 L1120.3,746.8 L1121.8,746.9 L1123.3,747.0 L1124.8,747.1 L1126.3,747.2 L1127.9,747.4 L1129.4,747.5 L1130.9,747.6 L1132.4,747.7 L1133.9,747.8 L1135.4,747.9 L1136.9,748.0 L1138.4,748.1 L1139.9,748.2 L1141.4,748.3 L1142.9,748.4 L1144.4,748.4 L1145.9,748.5 L1147.4,748.6 L1148.9,748.7 L1150.4,748.8 L1151.9,748.8 L1153.4,748.9 L1154.9,749.0 L1156.4,749.0 L1157.9,749.1 L1159.4,749.1 L1160.9,749.2 L1162.5,749.2 L1164.0,749.3 L1165.5,749.3 L1167.0,749.3 L1168.5,749.4 L1170.0,749.4 L1171.5,749.4 L1173.0,749.4 L1174.5,749.4 L1176.0,749.5 L1177.5,749.5 L1179.0,749.5" fill="none" stroke="#800000" stroke-width="2.2" stroke-linejoin="round"/>
<path d="M178.6,749.8 L180.1,749.5 L181.6,749.1 L183.1,748.8 L184.6,748.5 L186.1,748.1 L187.6,747.9 L189.1,747.6 L190.6,747.3 L192.1,747.0 L193.6,746.8 L195.1,746.6 L196.7,746.3 L198.2,746.1 L199.7,745.9 L201.2,745.7 L202.7,745.5 L204.2,745.3 L205.7,745.2 L207.2,745.0 L208.7,744.8 L210.2,744.6 L211.7,744.3 L213.2,744.1 L214.7,743.8 L216.2,743.5 L217.7,743.2 L219.2,742.9 L220.7,742.6 L222.2,742.3 L223.7,741.9 L225.2,741.6 L226.7,741.3 L228.2,740.9 L229.7,740.6 L231.3,740.2 L232.8,739.9 L234.3,739.5 L235.8,739.2 L237.3,738.8 L238.8,738.5 L240.3,738.1 L241.8,737.8 L243.3,737.4 L244.8,737.1 L246.3,736.7 L247.8,736.4 L249.3,736.0 L250.8,735.6 L252.3,735.2 L253.8,734.8 L255.3,734.4 L256.8,733.9 L258.3,733.5 L259.8,733.0 L261.3,732.5 L262.8,731.9 L264.3,731.4 L265.9,730.8 L267.4,730.2 L268.9,729.6 L270.4,728.9 L271.9,728.2 L273.4,727.5 L274.9,726.8 L276.4,726.1 L277.9,725.3 L279.4,724.6 L280.9,723.8 L282.4,722.9 L283.9,722.1 L285.4,721.2 L286.9,720.3 L288.4,719.3 L289.9,718.3 L291.4,717.3 L292.9,716.2 L294.4,715.1 L295.9,714.0 L297.4,712.9 L298.9,711.7 L300.5,710.6 L302.0,709.4 L303.5,708.2 L305.0,707.0 L306.5,705.7 L308.0,704.4 L309.5,703.0 L311.0,701.6 L312.5,700.1 L314.0,698.5 L315.5,696.8 L317.0,695.1 L318.5,693.3 L320.0,691.5 L321.5,689.6 L323.0,687.7 L324.5,685.8 L326.0,683.9 L327.5,682.0 L329.0,680.1 L330.5,678.2 L332.0,676.2 L333.5,674.2 L335.1,672.2 L336.6,670.1 L338.1,667.9 L339.6,665.6 L341.1,663.1 L342.6,660.6 L344.1,658.0 L345.6,655.3 L347.1,652.6 L348.6,649.8 L350.1,646.9 L351.6,644.0 L353.1,641.0 L354.6,638.0 L356.1,634.9 L357.6,631.7 L359.1,628.4 L360.6,625.1 L362.1,621.8 L363.6,618.4 L365.1,614.9 L366.6,611.5 L368.1,608.0 L369.7,604.5 L371.2,601.2 L372.7,597.9 L374.2,594.7 L375.7,591.6 L377.2,588.6 L378.7,585.6 L380.2,582.7 L381.7,579.8 L383.2,576.9 L384.7,574.0 L386.2,571.0 L387.7,568.0 L389.2,564.8 L390.7,561.7 L392.2,558.5 L393.7,555.4 L395.2,552.4 L396.7,549.6 L398.2,547.0 L399.7,544.6 L401.2,542.4 L402.7,540.5 L404.3,538.9 L405.8,537.6 L407.3,536.7 L408.8,536.0 L410.3,535.7 L411.8,535.7 L413.3,535.9 L414.8,536.5 L416.3,537.2 L417.8,538.1 L419.3,539.3 L420.8,540.6 L422.3,542.2 L423.8,543.8 L425.3,545.7 L426.8,547.6 L428.3,549.7 L429.8,551.8 L431.3,554.0 L432.8,556.3 L434.3,558.6 L435.8,560.9 L437.4,563.2 L438.9,565.5 L440.4,567.6 L441.9,569.7 L443.4,571.6 L444.9,573.4 L446.4,574.9 L447.9,576.3 L449.4,577.4 L450.9,578.2 L452.4,578.8 L453.9,579.1 L455.4,579.1 L456.9,578.8 L458.4,578.3 L459.9,577.4 L461.4,576.3 L462.9,574.9 L464.4,573.1 L465.9,571.1 L467.4,568.8 L468.9,566.2 L470.4,563.3 L472.0,560.1 L473.5,556.6 L475.0,552.9 L476.5,549.0 L478.0,544.8 L479.5,540.5 L481.0,536.0 L482.5,531.5 L484.0,526.9 L485.5,522.2 L487.0,517.5 L488.5,512.7 L490.0,508.0 L491.5,503.2 L493.0,498.5 L494.5,493.7 L496.0,489.0 L497.5,484.2 L499.0,479.5 L500.5,474.9 L502.0,470.3 L503.5,465.8 L505.0,461.4 L506.6,457.0 L508.1,452.8 L509.6,448.6 L511.1,444.4 L512.6,440.4 L514.1,436.4 L515.6,432.4 L517.1,428.5 L518.6,424.6 L520.1,420.8 L521.6,417.1 L523.1,413.5 L524.6,410.0 L526.1,406.6 L527.6,403.2 L529.1,400.0 L530.6,396.8 L532.1,393.7 L533.6,390.7 L535.1,387.7 L536.6,384.8 L538.1,381.9 L539.6,379.1 L541.2,376.3 L542.7,373.7 L544.2,371.1 L545.7,368.6 L547.2,366.3 L548.7,364.0 L550.2,361.9 L551.7,360.0 L553.2,358.1 L554.7,356.3 L556.2,354.7 L557.7,353.2 L559.2,351.9 L560.7,350.7 L562.2,349.8 L563.7,349.2 L565.2,348.9 L566.7,349.0 L568.2,349.4 L569.7,350.2 L571.2,351.3 L572.7,352.7 L574.2,354.5 L575.8,356.6 L577.3,359.2 L578.8,362.3 L580.3,366.0 L581.8,370.3 L583.3,375.3 L584.8,381.1 L586.3,387.7 L587.8,395.0 L589.3,402.8 L590.8,410.9 L592.3,419.2 L593.8,427.4 L595.3,435.5 L596.8,443.6 L598.3,451.7 L599.8,459.7 L601.3,467.6 L602.8,475.2 L604.3,482.5 L605.8,489.4 L607.3,495.8 L608.8,501.7 L610.4,507.0 L611.9,511.9 L613.4,516.4 L614.9,520.5 L616.4,524.3 L617.9,527.8 L619.4,531.1 L620.9,534.1 L622.4,537.0 L623.9,539.7 L625.4,542.3 L626.9,544.8 L628.4,547.2 L629.9,549.5 L631.4,551.8 L632.9,554.1 L634.4,556.3 L635.9,558.5 L637.4,560.7 L638.9,563.0 L640.4,565.2 L641.9,567.5 L643.4,569.8 L645.0,572.1 L646.5,574.4 L648.0,576.6 L649.5,578.8 L651.0,581.0 L652.5,583.0 L654.0,585.0 L655.5,586.9 L657.0,588.7 L658.5,590.3 L660.0,591.9 L661.5,593.4 L663.0,594.8 L664.5,596.2 L666.0,597.5 L667.5,598.8 L669.0,600.1 L670.5,601.3 L672.0,602.7 L673.5,604.0 L675.0,605.3 L676.5,606.7 L678.0,608.1 L679.6,609.4 L681.1,610.8 L682.6,612.2 L684.1,613.5 L685.6,614.9 L687.1,616.3 L688.6,617.6 L690.1,618.9 L691.6,620.2 L693.1,621.5 L694.6,622.7 L696.1,624.0 L697.6,625.1 L699.1,626.3 L700.6,627.5 L702.1,628.6 L703.6,629.7 L705.1,630.7 L706.6,631.7 L708.1,632.7 L709.6,633.7 L711.1,634.7 L712.6,635.6 L714.2,636.4 L715.7,637.2 L717.2,638.0 L718.7,638.8 L720.2,639.5 L721.7,640.1 L723.2,640.7 L724.7,641.2 L726.2,641.6 L727.7,642.0 L729.2,642.3 L730.7,642.5 L732.2,642.6 L733.7,642.6 L735.2,642.5 L736.7,642.3 L738.2,642.0 L739.7,641.5 L741.2,641.0 L742.7,640.4 L744.2,639.7 L745.7,638.8 L747.2,637.9 L748.8,636.8 L750.3,635.6 L751.8,634.3 L753.3,632.9 L754.8,631.4 L756.3,629.7 L757.8,627.9 L759.3,626.0 L760.8,624.0 L762.3,621.9 L763.8,619.7 L765.3,617.5 L766.8,615.4 L768.3,613.3 L769.8,611.4 L771.3,609.6 L772.8,608.1 L774.3,606.9 L775.8,606.0 L777.3,605.3 L778.8,604.8 L780.3,604.5 L781.8,604.3 L783.4,604.3 L784.9,604.4 L786.4,604.6 L787.9,604.8 L789.4,605.1 L790.9,605.3 L792.4,605.6 L793.9,605.9 L795.4,606.1 L796.9,606.2 L798.4,606.3 L799.9,606.2 L801.4,606.0 L802.9,605.6 L804.4,605.1 L805.9,604.4 L807.4,603.5 L808.9,602.4 L810.4,601.0 L811.9,599.4 L813.4,597.6 L814.9,595.6 L816.4,593.3 L818.0,590.8 L819.5,588.2 L821.0,585.5 L822.5,582.6 L824.0,579.6 L825.5,576.5 L827.0,573.3 L828.5,570.1 L830.0,566.8 L831.5,563.4 L833.0,560.1 L834.5,556.8 L836.0,553.5 L837.5,550.3 L839.0,547.3 L840.5,544.4 L842.0,541.8 L843.5,539.2 L845.0,536.8 L846.5,534.5 L848.0,532.1 L849.5,529.8 L851.0,527.4 L852.6,524.8 L854.1,522.1 L855.6,519.2 L857.1,516.2 L858.6,513.2 L860.1,510.4 L861.6,507.7 L863.1,505.4 L864.6,503.4 L866.1,502.1 L867.6,501.4 L869.1,501.4 L870.6,502.3 L872.1,504.2 L873.6,507.2 L875.1,511.2 L876.6,516.2 L878.1,522.3 L879.6,529.0 L881.1,536.3 L882.6,543.9 L884.1,551.6 L885.6,559.4 L887.2,567.2 L888.7,574.9 L890.2,582.4 L891.7,589.6 L893.2,596.4 L894.7,602.8 L896.2,608.5 L897.7,613.7 L899.2,618.4 L900.7,622.8 L902.2,627.0 L903.7,631.3 L905.2,635.5 L906.7,639.8 L908.2,643.9 L909.7,648.0 L911.2,652.0 L912.7,655.8 L914.2,659.5 L915.7,663.0 L917.2,666.3 L918.7,669.4 L920.2,672.3 L921.8,674.9 L923.3,677.3 L924.8,679.5 L926.3,681.5 L927.8,683.4 L929.3,685.2 L930.8,686.8 L932.3,688.3 L933.8,689.8 L935.3,691.3 L936.8,692.7 L938.3,694.2 L939.8,695.6 L941.3,697.1 L942.8,698.5 L944.3,699.9 L945.8,701.3 L947.3,702.7 L948.8,703.9 L950.3,705.1 L951.8,706.3 L953.3,707.3 L954.9,708.3 L956.4,709.2 L957.9,710.0 L959.4,710.8 L960.9,711.6 L962.4,712.3 L963.9,713.0 L965.4,713.7 L966.9,714.3 L968.4,715.0 L969.9,715.6 L971.4,716.2 L972.9,716.8 L974.4,717.4 L975.9,718.0 L977.4,718.6 L978.9,719.1 L980.4,719.7 L981.9,720.2 L983.4,720.7 L984.9,721.3 L986.4,721.7 L987.9,722.2 L989.5,722.7 L991.0,723.2 L992.5,723.6 L994.0,724.0 L995.5,724.4 L997.0,724.9 L998.5,725.3 L1000.0,725.6 L1001.5,726.0 L1003.0,726.4 L1004.5,726.7 L1006.0,727.1 L1007.5,727.4 L1009.0,727.8 L1010.5,728.1 L1012.0,728.4 L1013.5,728.7 L1015.0,729.0 L1016.5,729.4 L1018.0,729.7 L1019.5,730.0 L1021.0,730.4 L1022.5,730.7 L1024.1,731.1 L1025.6,731.5 L1027.1,731.8 L1028.6,732.2 L1030.1,732.6 L1031.6,733.0 L1033.1,733.4 L1034.6,733.8 L1036.1,734.2 L1037.6,734.6 L1039.1,735.0 L1040.6,735.3 L1042.1,735.7 L1043.6,736.1 L1045.1,736.4 L1046.6,736.8 L1048.1,737.1 L1049.6,737.4 L1051.1,737.7 L1052.6,738.0 L1054.1,738.3 L1055.6,738.6 L1057.1,738.8 L1058.7,739.1 L1060.2,739.3 L1061.7,739.6 L1063.2,739.8 L1064.7,740.1 L1066.2,740.3 L1067.7,740.5 L1069.2,740.8 L1070.7,741.0 L1072.2,741.2 L1073.7,741.4 L1075.2,741.6 L1076.7,741.8 L1078.2,742.1 L1079.7,742.3 L1081.2,742.5 L1082.7,742.6 L1084.2,742.8 L1085.7,743.0 L1087.2,743.2 L1088.7,743.4 L1090.2,743.5 L1091.7,743.7 L1093.3,743.9 L1094.8,744.0 L1096.3,744.2 L1097.8,744.3 L1099.3,744.5 L1100.8,744.7 L1102.3,744.8 L1103.8,744.9 L1105.3,745.1 L1106.8,745.2 L1108.3,745.4 L1109.8,745.5 L1111.3,745.7 L1112.8,745.8 L1114.3,745.9 L1115.8,746.1 L1117.3,746.2 L1118.8,746.3 L1120.3,746.4 L1121.8,746.6 L1123.3,746.7 L1124.8,746.8 L1126.3,746.9 L1127.9,747.0 L1129.4,747.2 L1130.9,747.3 L1132.4,747.4 L1133.9,747.5 L1135.4,747.6 L1136.9,747.7 L1138.4,747.9 L1139.9,748.0 L1141.4,748.1 L1142.9,748.2 L1144.4,748.3 L1145.9,748.4 L1147.4,748.5 L1148.9,748.5 L1150.4,748.6 L1151.9,748.7 L1153.4,748.8 L1154.9,748.9 L1156.4,748.9 L1157.9,749.0 L1159.4,749.1 L1160.9,749.1 L1162.5,749.2 L1164.0,749.2 L1165.5,749.3 L1167.0,749.3 L1168.5,749.3 L1170.0,749.4 L1171.5,749.4 L1173.0,749.4 L1174.5,749.4 L1176.0,749.4 L1177.5,749.4 L1179.0,749.4" fill="none" stroke="#800080" stroke-width="2.2" stroke-linejoin="round"/>
<path d="M178.6,749.8 L180.1,749.5 L181.6,749.1 L183.1,748.8 L184.6,748.5 L186.1,748.2 L187.6,748.0 L189.1,747.7 L190.6,747.4 L192.1,747.2 L193.6,747.0 L195.1,746.8 L196.7,746.5 L198.2,746.3 L199.7,746.2 L201.2,746.0 L202.7,745.8 L204.2,745.6 L205.7,745.4 L207.2,745.3 L208.7,745.1 L210.2,744.9 L211.7,744.7 L213.2,744.4 L214.7,744.2 L216.2,743.9 L217.7,743.7 L219.2,743.4 L220.7,743.1 L222.2,742.8 L223.7,742.5 L225.2,742.2 L226.7,741.9 L228.2,741.6 L229.7,741.3 L231.3,741.0 L232.8,740.7 L234.3,740.4 L235.8,740.1 L237.3,739.8 L238.8,739.5 L240.3,739.1 L241.8,738.8 L243.3,738.5 L244.8,738.2 L246.3,737.9 L247.8,737.5 L249.3,737.2 L250.8,736.9 L252.3,736.5 L253.8,736.1 L255.3,735.8 L256.8,735.4 L258.3,735.0 L259.8,734.5 L261.3,734.1 L262.8,733.6 L264.3,733.1 L265.9,732.6 L267.4,732.1 L268.9,731.6 L270.4,731.0 L271.9,730.4 L273.4,729.8 L274.9,729.2 L276.4,728.5 L277.9,727.9 L279.4,727.2 L280.9,726.5 L282.4,725.7 L283.9,724.9 L285.4,724.1 L286.9,723.3 L288.4,722.4 L289.9,721.4 L291.4,720.4 L292.9,719.4 L294.4,718.3 L295.9,717.2 L297.4,716.1 L298.9,714.9 L300.5,713.8 L302.0,712.5 L303.5,711.3 L305.0,709.9 L306.5,708.5 L308.0,707.1 L309.5,705.5 L311.0,703.9 L312.5,702.2 L314.0,700.3 L315.5,698.4 L317.0,696.4 L318.5,694.3 L320.0,692.2 L321.5,690.1 L323.0,687.9 L324.5,685.8 L326.0,683.8 L327.5,681.8 L329.0,679.9 L330.5,678.0 L332.0,676.1 L333.5,674.2 L335.1,672.1 L336.6,669.8 L338.1,667.4 L339.6,664.7 L341.1,661.8 L342.6,658.7 L344.1,655.4 L345.6,652.0 L347.1,648.5 L348.6,644.8 L350.1,641.2 L351.6,637.4 L353.1,633.6 L354.6,629.7 L356.1,625.9 L357.6,622.0 L359.1,618.2 L360.6,614.3 L362.1,610.6 L363.6,606.8 L365.1,603.1 L366.6,599.3 L368.1,595.4 L369.7,591.4 L371.2,587.3 L372.7,583.1 L374.2,578.8 L375.7,574.3 L377.2,569.7 L378.7,565.1 L380.2,560.5 L381.7,556.0 L383.2,551.6 L384.7,547.5 L386.2,543.5 L387.7,539.6 L389.2,535.8 L390.7,532.2 L392.2,528.7 L393.7,525.3 L395.2,522.0 L396.7,518.9 L398.2,515.9 L399.7,513.1 L401.2,510.6 L402.7,508.2 L404.3,506.2 L405.8,504.5 L407.3,503.2 L408.8,502.4 L410.3,501.9 L411.8,501.8 L413.3,502.1 L414.8,502.8 L416.3,503.7 L417.8,505.0 L419.3,506.5 L420.8,508.2 L422.3,510.1 L423.8,512.3 L425.3,514.6 L426.8,517.1 L428.3,519.7 L429.8,522.4 L431.3,525.2 L432.8,528.0 L434.3,530.9 L435.8,533.7 L437.4,536.5 L438.9,539.3 L440.4,541.9 L441.9,544.4 L443.4,546.7 L444.9,548.8 L446.4,550.7 L447.9,552.3 L449.4,553.6 L450.9,554.6 L452.4,555.4 L453.9,555.8 L455.4,556.0 L456.9,555.8 L458.4,555.3 L459.9,554.4 L461.4,553.2 L462.9,551.7 L464.4,549.9 L465.9,547.7 L467.4,545.2 L468.9,542.4 L470.4,539.3 L472.0,535.8 L473.5,532.1 L475.0,528.1 L476.5,523.9 L478.0,519.4 L479.5,514.9 L481.0,510.2 L482.5,505.5 L484.0,500.9 L485.5,496.2 L487.0,491.6 L488.5,487.1 L490.0,482.5 L491.5,478.0 L493.0,473.4 L494.5,468.7 L496.0,463.9 L497.5,459.0 L499.0,453.9 L500.5,448.8 L502.0,443.5 L503.5,438.2 L505.0,432.8 L506.6,427.4 L508.1,421.9 L509.6,416.5 L511.1,411.1 L512.6,405.7 L514.1,400.3 L515.6,395.0 L517.1,389.7 L518.6,384.6 L520.1,379.5 L521.6,374.5 L523.1,369.7 L524.6,364.9 L526.1,360.4 L527.6,356.0 L529.1,351.7 L530.6,347.6 L532.1,343.6 L533.6,339.9 L535.1,336.3 L536.6,332.8 L538.1,329.6 L539.6,326.6 L541.2,323.7 L542.7,320.9 L544.2,318.3 L545.7,315.9 L547.2,313.5 L548.7,311.3 L550.2,309.2 L551.7,307.2 L553.2,305.4 L554.7,303.7 L556.2,302.3 L557.7,301.1 L559.2,300.2 L560.7,299.5 L562.2,299.0 L563.7,298.9 L565.2,299.0 L566.7,299.5 L568.2,300.2 L569.7,301.2 L571.2,302.6 L572.7,304.4 L574.2,306.6 L575.8,309.3 L577.3,312.6 L578.8,316.5 L580.3,321.1 L581.8,326.2 L583.3,332.0 L584.8,338.2 L586.3,345.0 L587.8,352.1 L589.3,359.4 L590.8,366.7 L592.3,373.8 L593.8,380.9 L595.3,387.8 L596.8,394.8 L598.3,402.0 L599.8,409.5 L601.3,417.2 L602.8,425.1 L604.3,433.1 L605.8,440.9 L607.3,448.6 L608.8,455.9 L610.4,462.8 L611.9,469.3 L613.4,475.2 L614.9,480.7 L616.4,485.8 L617.9,490.5 L619.4,494.8 L620.9,498.9 L622.4,502.7 L623.9,506.4 L625.4,509.8 L626.9,513.1 L628.4,516.2 L629.9,519.2 L631.4,522.2 L632.9,525.1 L634.4,528.0 L635.9,530.8 L637.4,533.6 L638.9,536.5 L640.4,539.3 L641.9,542.2 L643.4,545.0 L645.0,547.8 L646.5,550.6 L648.0,553.3 L649.5,555.9 L651.0,558.5 L652.5,561.0 L654.0,563.3 L655.5,565.5 L657.0,567.6 L658.5,569.5 L660.0,571.3 L661.5,573.0 L663.0,574.7 L664.5,576.2 L666.0,577.7 L667.5,579.2 L669.0,580.7 L670.5,582.2 L672.0,583.7 L673.5,585.3 L675.0,586.9 L676.5,588.5 L678.0,590.1 L679.6,591.8 L681.1,593.5 L682.6,595.2 L684.1,596.9 L685.6,598.6 L687.1,600.4 L688.6,602.1 L690.1,603.8 L691.6,605.5 L693.1,607.2 L694.6,608.9 L696.1,610.5 L697.6,612.2 L699.1,613.7 L700.6,615.3 L702.1,616.8 L703.6,618.1 L705.1,619.4 L706.6,620.6 L708.1,621.7 L709.6,622.6 L711.1,623.5 L712.6,624.2 L714.2,624.8 L715.7,625.4 L717.2,625.8 L718.7,626.2 L720.2,626.5 L721.7,626.8 L723.2,627.0 L724.7,627.2 L726.2,627.4 L727.7,627.5 L729.2,627.6 L730.7,627.6 L732.2,627.5 L733.7,627.3 L735.2,627.1 L736.7,626.7 L738.2,626.2 L739.7,625.6 L741.2,624.9 L742.7,624.0 L744.2,623.0 L745.7,621.9 L747.2,620.7 L748.8,619.3 L750.3,617.9 L751.8,616.2 L753.3,614.5 L754.8,612.6 L756.3,610.5 L757.8,608.4 L759.3,606.1 L760.8,603.6 L762.3,601.0 L763.8,598.4 L765.3,595.7 L766.8,593.1 L768.3,590.6 L769.8,588.3 L771.3,586.2 L772.8,584.4 L774.3,582.9 L775.8,581.8 L777.3,581.0 L778.8,580.4 L780.3,580.1 L781.8,579.9 L783.4,579.9 L784.9,580.1 L786.4,580.4 L787.9,580.7 L789.4,581.1 L790.9,581.6 L792.4,582.0 L793.9,582.3 L795.4,582.6 L796.9,582.8 L798.4,582.8 L799.9,582.7 L801.4,582.3 L802.9,581.8 L804.4,581.0 L805.9,580.0 L807.4,578.7 L808.9,577.1 L810.4,575.3 L811.9,573.1 L813.4,570.6 L814.9,567.9 L816.4,564.9 L818.0,561.7 L819.5,558.3 L821.0,554.8 L822.5,551.1 L824.0,547.3 L825.5,543.5 L827.0,539.6 L828.5,535.7 L830.0,531.8 L831.5,528.0 L833.0,524.2 L834.5,520.6 L836.0,517.2 L837.5,514.0 L839.0,511.0 L840.5,508.3 L842.0,506.0 L843.5,503.8 L845.0,501.9 L846.5,500.1 L848.0,498.3 L849.5,496.5 L851.0,494.7 L852.6,492.7 L854.1,490.5 L855.6,488.1 L857.1,485.6 L858.6,483.0 L860.1,480.5 L861.6,478.2 L863.1,476.1 L864.6,474.5 L866.1,473.3 L867.6,472.7 L869.1,472.8 L870.6,473.8 L872.1,475.7 L873.6,478.7 L875.1,482.9 L876.6,488.2 L878.1,494.7 L879.6,502.1 L881.1,510.2 L882.6,518.7 L884.1,527.3 L885.6,536.0 L887.2,544.5 L888.7,552.8 L890.2,560.7 L891.7,568.2 L893.2,575.2 L894.7,581.7 L896.2,587.5 L897.7,592.7 L899.2,597.5 L900.7,602.1 L902.2,606.7 L903.7,611.5 L905.2,616.3 L906.7,621.2 L908.2,626.1 L909.7,631.0 L911.2,635.8 L912.7,640.4 L914.2,644.8 L915.7,649.1 L917.2,653.1 L918.7,656.9 L920.2,660.4 L921.8,663.6 L923.3,666.6 L924.8,669.3 L926.3,671.8 L927.8,674.1 L929.3,676.3 L930.8,678.3 L932.3,680.3 L933.8,682.1 L935.3,683.9 L936.8,685.6 L938.3,687.3 L939.8,689.0 L941.3,690.6 L942.8,692.2 L944.3,693.7 L945.8,695.1 L947.3,696.5 L948.8,697.9 L950.3,699.1 L951.8,700.3 L953.3,701.4 L954.9,702.5 L956.4,703.4 L957.9,704.4 L959.4,705.3 L960.9,706.1 L962.4,706.9 L963.9,707.7 L965.4,708.5 L966.9,709.2 L968.4,709.9 L969.9,710.6 L971.4,711.3 L972.9,712.0 L974.4,712.7 L975.9,713.3 L977.4,714.0 L978.9,714.6 L980.4,715.2 L981.9,715.8 L983.4,716.4 L984.9,717.0 L986.4,717.6 L987.9,718.1 L989.5,718.6 L991.0,719.1 L992.5,719.6 L994.0,720.1 L995.5,720.6 L997.0,721.0 L998.5,721.5 L1000.0,721.9 L1001.5,722.3 L1003.0,722.7 L1004.5,723.1 L1006.0,723.5 L1007.5,723.9 L1009.0,724.2 L1010.5,724.6 L1012.0,724.9 L1013.5,725.3 L1015.0,725.6 L1016.5,726.0 L1018.0,726.3 L1019.5,726.7 L1021.0,727.1 L1022.5,727.4 L1024.1,727.8 L1025.6,728.2 L1027.1,728.6 L1028.6,729.0 L1030.1,729.4 L1031.6,729.8 L1033.1,730.2 L1034.6,730.6 L1036.1,731.0 L1037.6,731.4 L1039.1,731.8 L1040.6,732.2 L1042.1,732.6 L1043.6,733.0 L1045.1,733.4 L1046.6,733.8 L1048.1,734.1 L1049.6,734.5 L1051.1,734.8 L1052.6,735.1 L1054.1,735.4 L1055.6,735.7 L1057.1,736.0 L1058.7,736.3 L1060.2,736.6 L1061.7,736.9 L1063.2,737.2 L1064.7,737.5 L1066.2,737.8 L1067.7,738.0 L1069.2,738.3 L1070.7,738.6 L1072.2,738.9 L1073.7,739.1 L1075.2,739.4 L1076.7,739.6 L1078.2,739.9 L1079.7,740.1 L1081.2,740.4 L1082.7,740.6 L1084.2,740.9 L1085.7,741.1 L1087.2,741.3 L1088.7,741.5 L1090.2,741.7 L1091.7,742.0 L1093.3,742.2 L1094.8,742.4 L1096.3,742.6 L1097.8,742.8 L1099.3,742.9 L1100.8,743.1 L1102.3,743.3 L1103.8,743.5 L1105.3,743.6 L1106.8,743.8 L1108.3,744.0 L1109.8,744.1 L1111.3,744.3 L1112.8,744.5 L1114.3,744.6 L1115.8,744.8 L1117.3,744.9 L1118.8,745.1 L1120.3,745.2 L1121.8,745.4 L1123.3,745.5 L1124.8,745.7 L1126.3,745.8 L1127.9,746.0 L1129.4,746.1 L1130.9,746.3 L1132.4,746.5 L1133.9,746.6 L1135.4,746.8 L1136.9,746.9 L1138.4,747.1 L1139.9,747.3 L1141.4,747.4 L1142.9,747.5 L1144.4,747.7 L1145.9,747.8 L1147.4,747.9 L1148.9,748.1 L1150.4,748.2 L1151.9,748.3 L1153.4,748.4 L1154.9,748.5 L1156.4,748.6 L1157.9,748.7 L1159.4,748.8 L1160.9,748.9 L1162.5,748.9 L1164.0,749.0 L1165.5,749.1 L1167.0,749.1 L1168.5,749.2 L1170.0,749.2 L1171.5,749.2 L1173.0,749.3 L1174.5,749.3 L1176.0,749.3 L1177.5,749.3 L1179.0,749.3" fill="none" stroke="#8000ff" stroke-width="2.2" stroke-linejoin="round"/>
<path d="M178.6,749.8 L180.1,749.5 L181.6,749.2 L183.1,748.8 L184.6,748.6 L186.1,748.3 L187.6,748.0 L189.1,747.7 L190.6,747.5 L192.1,747.3 L193.6,747.0 L195.1,746.8 L196.7,746.6 L198.2,746.4 L199.7,746.2 L201.2,746.0 L202.7,745.9 L204.2,745.7 L205.7,745.5 L207.2,745.3 L208.7,745.2 L210.2,745.0 L211.7,744.8 L213.2,744.6 L214.7,744.3 L216.2,744.1 L217.7,743.8 L219.2,743.5 L220.7,743.3 L222.2,743.0 L223.7,742.7 L225.2,742.4 L226.7,742.1 L228.2,741.8 L229.7,741.5 L231.3,741.3 L232.8,741.0 L234.3,740.7 L235.8,740.4 L237.3,740.1 L238.8,739.8 L240.3,739.5 L241.8,739.2 L243.3,738.9 L244.8,738.5 L246.3,738.2 L247.8,737.9 L249.3,737.6 L250.8,737.3 L252.3,736.9 L253.8,736.6 L255.3,736.2 L256.8,735.8 L258.3,735.4 L259.8,735.0 L261.3,734.6 L262.8,734.2 L264.3,733.7 L265.9,733.2 L267.4,732.7 L268.9,732.2 L270.4,731.6 L271.9,731.1 L273.4,730.5 L274.9,729.9 L276.4,729.3 L277.9,728.7 L279.4,728.0 L280.9,727.3 L282.4,726.6 L283.9,725.8 L285.4,725.0 L286.9,724.2 L288.4,723.3 L289.9,722.4 L291.4,721.4 L292.9,720.4 L294.4,719.3 L295.9,718.2 L297.4,717.1 L298.9,715.9 L300.5,714.7 L302.0,713.5 L303.5,712.2 L305.0,710.8 L306.5,709.4 L308.0,707.9 L309.5,706.3 L311.0,704.6 L312.5,702.8 L314.0,700.9 L315.5,699.0 L317.0,696.9 L318.5,694.7 L320.0,692.5 L321.5,690.2 L323.0,688.0 L324.5,685.7 L326.0,683.5 L327.5,681.4 L329.0,679.2 L330.5,677.1 L332.0,674.8 L333.5,672.5 L335.1,670.1 L336.6,667.5 L338.1,664.7 L339.6,661.7 L341.1,658.5 L342.6,655.2 L344.1,651.7 L345.6,648.1 L347.1,644.4 L348.6,640.7 L350.1,636.9 L351.6,633.1 L353.1,629.3 L354.6,625.4 L356.1,621.6 L357.6,617.8 L359.1,614.0 L360.6,610.2 L362.1,606.4 L363.6,602.6 L365.1,598.7 L366.6,594.7 L368.1,590.5 L369.7,586.2 L371.2,581.7 L372.7,577.1 L374.2,572.4 L375.7,567.6 L377.2,562.8 L378.7,558.0 L380.2,553.3 L381.7,548.9 L383.2,544.6 L384.7,540.5 L386.2,536.5 L387.7,532.7 L389.2,528.9 L390.7,525.2 L392.2,521.5 L393.7,518.0 L395.2,514.6 L396.7,511.3 L398.2,508.2 L399.7,505.4 L401.2,502.8 L402.7,500.5 L404.3,498.6 L405.8,497.0 L407.3,495.9 L408.8,495.2 L410.3,495.0 L411.8,495.1 L413.3,495.7 L414.8,496.5 L416.3,497.7 L417.8,499.2 L419.3,501.0 L420.8,503.0 L422.3,505.2 L423.8,507.6 L425.3,510.2 L426.8,512.9 L428.3,515.7 L429.8,518.6 L431.3,521.6 L432.8,524.6 L434.3,527.6 L435.8,530.6 L437.4,533.5 L438.9,536.3 L440.4,539.0 L441.9,541.6 L443.4,543.9 L444.9,546.0 L446.4,547.8 L447.9,549.3 L449.4,550.6 L450.9,551.5 L452.4,552.1 L453.9,552.4 L455.4,552.4 L456.9,552.0 L458.4,551.3 L459.9,550.3 L461.4,548.9 L462.9,547.2 L464.4,545.2 L465.9,542.8 L467.4,540.1 L468.9,537.0 L470.4,533.6 L472.0,529.9 L473.5,525.9 L475.0,521.7 L476.5,517.2 L478.0,512.5 L479.5,507.8 L481.0,502.9 L482.5,498.1 L484.0,493.4 L485.5,488.7 L487.0,484.1 L488.5,479.6 L490.0,475.1 L491.5,470.6 L493.0,465.9 L494.5,461.2 L496.0,456.3 L497.5,451.2 L499.0,445.8 L500.5,440.3 L502.0,434.6 L503.5,428.8 L505.0,422.8 L506.6,416.8 L508.1,410.8 L509.6,404.7 L511.1,398.7 L512.6,392.7 L514.1,386.7 L515.6,380.8 L517.1,375.0 L518.6,369.2 L520.1,363.6 L521.6,358.0 L523.1,352.7 L524.6,347.4 L526.1,342.4 L527.6,337.5 L529.1,332.9 L530.6,328.4 L532.1,324.2 L533.6,320.3 L535.1,316.6 L536.6,313.2 L538.1,310.0 L539.6,307.1 L541.2,304.4 L542.7,301.9 L544.2,299.5 L545.7,297.3 L547.2,295.3 L548.7,293.4 L550.2,291.6 L551.7,290.0 L553.2,288.6 L554.7,287.3 L556.2,286.2 L557.7,285.3 L559.2,284.7 L560.7,284.3 L562.2,284.1 L563.7,284.1 L565.2,284.4 L566.7,285.0 L568.2,285.9 L569.7,287.2 L571.2,288.8 L572.7,290.8 L574.2,293.3 L575.8,296.3 L577.3,300.0 L578.8,304.4 L580.3,309.4 L581.8,315.0 L583.3,321.2 L584.8,328.0 L586.3,335.3 L587.8,343.0 L589.3,350.8 L590.8,358.6 L592.3,366.1 L593.8,373.4 L595.3,380.4 L596.8,387.3 L598.3,394.3 L599.8,401.3 L601.3,408.6 L602.8,416.1 L604.3,423.8 L605.8,431.6 L607.3,439.4 L608.8,447.1 L610.4,454.5 L611.9,461.4 L613.4,467.8 L614.9,473.5 L616.4,478.6 L617.9,483.1 L619.4,487.2 L620.9,490.9 L622.4,494.4 L623.9,497.6 L625.4,500.8 L626.9,503.8 L628.4,506.8 L629.9,509.7 L631.4,512.6 L632.9,515.4 L634.4,518.3 L635.9,521.2 L637.4,524.0 L638.9,527.0 L640.4,529.9 L641.9,532.9 L643.4,535.9 L645.0,538.9 L646.5,541.8 L648.0,544.7 L649.5,547.5 L651.0,550.3 L652.5,552.9 L654.0,555.5 L655.5,557.9 L657.0,560.1 L658.5,562.2 L660.0,564.2 L661.5,566.1 L663.0,567.9 L664.5,569.6 L666.0,571.3 L667.5,573.0 L669.0,574.6 L670.5,576.3 L672.0,578.0 L673.5,579.7 L675.0,581.4 L676.5,583.2 L678.0,585.0 L679.6,586.8 L681.1,588.6 L682.6,590.4 L684.1,592.3 L685.6,594.1 L687.1,595.9 L688.6,597.8 L690.1,599.6 L691.6,601.5 L693.1,603.3 L694.6,605.1 L696.1,606.9 L697.6,608.7 L699.1,610.4 L700.6,612.1 L702.1,613.8 L703.6,615.3 L705.1,616.8 L706.6,618.2 L708.1,619.5 L709.6,620.6 L711.1,621.6 L712.6,622.4 L714.2,623.1 L715.7,623.6 L717.2,624.1 L718.7,624.4 L720.2,624.7 L721.7,624.9 L723.2,625.1 L724.7,625.2 L726.2,625.3 L727.7,625.4 L729.2,625.4 L730.7,625.3 L732.2,625.2 L733.7,625.0 L735.2,624.7 L736.7,624.3 L738.2,623.8 L739.7,623.2 L741.2,622.4 L742.7,621.5 L744.2,620.5 L745.7,619.3 L747.2,618.0 L748.8,616.6 L750.3,615.0 L751.8,613.3 L753.3,611.5 L754.8,609.5 L756.3,607.4 L757.8,605.1 L759.3,602.7 L760.8,600.2 L762.3,597.5 L763.8,594.7 L765.3,592.0 L766.8,589.3 L768.3,586.7 L769.8,584.3 L771.3,582.1 L772.8,580.2 L774.3,578.7 L775.8,577.5 L777.3,576.6 L778.8,576.0 L780.3,575.7 L781.8,575.5 L783.4,575.6 L784.9,575.8 L786.4,576.1 L787.9,576.4 L789.4,576.9 L790.9,577.3 L792.4,577.7 L793.9,578.1 L795.4,578.4 L796.9,578.5 L798.4,578.5 L799.9,578.4 L801.4,578.0 L802.9,577.4 L804.4,576.5 L805.9,575.4 L807.4,574.1 L808.9,572.4 L810.4,570.5 L811.9,568.2 L813.4,565.7 L814.9,562.9 L816.4,559.8 L818.0,556.5 L819.5,553.0 L821.0,549.4 L822.5,545.6 L824.0,541.7 L825.5,537.8 L827.0,533.8 L828.5,529.8 L830.0,525.8 L831.5,521.9 L833.0,518.0 L834.5,514.3 L836.0,510.8 L837.5,507.4 L839.0,504.3 L840.5,501.5 L842.0,499.1 L843.5,496.8 L845.0,494.8 L846.5,492.9 L848.0,491.0 L849.5,489.1 L851.0,487.2 L852.6,485.1 L854.1,482.8 L855.6,480.3 L857.1,477.6 L858.6,475.0 L860.1,472.4 L861.6,470.0 L863.1,467.8 L864.6,466.1 L866.1,464.9 L867.6,464.3 L869.1,464.5 L870.6,465.6 L872.1,467.7 L873.6,470.9 L875.1,475.3 L876.6,481.0 L878.1,487.8 L879.6,495.6 L881.1,504.0 L882.6,512.9 L884.1,522.0 L885.6,531.1 L887.2,540.0 L888.7,548.7 L890.2,557.0 L891.7,564.8 L893.2,572.1 L894.7,578.8 L896.2,584.8 L897.7,590.2 L899.2,595.1 L900.7,599.8 L902.2,604.4 L903.7,609.2 L905.2,614.1 L906.7,619.0 L908.2,624.0 L909.7,628.9 L911.2,633.7 L912.7,638.3 L914.2,642.8 L915.7,647.1 L917.2,651.1 L918.7,654.9 L920.2,658.4 L921.8,661.6 L923.3,664.6 L924.8,667.3 L926.3,669.8 L927.8,672.2 L929.3,674.3 L930.8,676.3 L932.3,678.3 L933.8,680.1 L935.3,681.9 L936.8,683.6 L938.3,685.3 L939.8,687.0 L941.3,688.6 L942.8,690.2 L944.3,691.7 L945.8,693.2 L947.3,694.6 L948.8,695.9 L950.3,697.2 L951.8,698.4 L953.3,699.6 L954.9,700.6 L956.4,701.6 L957.9,702.6 L959.4,703.5 L960.9,704.4 L962.4,705.2 L963.9,706.0 L965.4,706.8 L966.9,707.6 L968.4,708.3 L969.9,709.1 L971.4,709.8 L972.9,710.5 L974.4,711.2 L975.9,711.8 L977.4,712.5 L978.9,713.2 L980.4,713.8 L981.9,714.4 L983.4,715.1 L984.9,715.7 L986.4,716.2 L987.9,716.8 L989.5,717.4 L991.0,717.9 L992.5,718.4 L994.0,718.9 L995.5,719.4 L997.0,719.8 L998.5,720.3 L1000.0,720.7 L1001.5,721.2 L1003.0,721.6 L1004.5,722.0 L1006.0,722.4 L1007.5,722.8 L1009.0,723.1 L1010.5,723.5 L1012.0,723.9 L1013.5,724.2 L1015.0,724.6 L1016.5,724.9 L1018.0,725.3 L1019.5,725.6 L1021.0,726.0 L1022.5,726.4 L1024.1,726.8 L1025.6,727.2 L1027.1,727.6 L1028.6,728.0 L1030.1,728.4 L1031.6,728.8 L1033.1,729.2 L1034.6,729.6 L1036.1,730.0 L1037.6,730.4 L1039.1,730.8 L1040.6,731.3 L1042.1,731.6 L1043.6,732.0 L1045.1,732.4 L1046.6,732.8 L1048.1,733.2 L1049.6,733.5 L1051.1,733.9 L1052.6,734.2 L1054.1,734.5 L1055.6,734.9 L1057.1,735.2 L1058.7,735.5 L1060.2,735.8 L1061.7,736.1 L1063.2,736.4 L1064.7,736.7 L1066.2,737.0 L1067.7,737.3 L1069.2,737.6 L1070.7,737.8 L1072.2,738.1 L1073.7,738.4 L1075.2,738.7 L1076.7,738.9 L1078.2,739.2 L1079.7,739.5 L1081.2,739.7 L1082.7,740.0 L1084.2,740.2 L1085.7,740.5 L1087.2,740.7 L1088.7,741.0 L1090.2,741.2 L1091.7,741.4 L1093.3,741.6 L1094.8,741.8 L1096.3,742.0 L1097.8,742.3 L1099.3,742.5 L1100.8,742.6 L1102.3,742.8 L1103.8,743.0 L1105.3,743.2 L1106.8,743.4 L1108.3,743.5 L1109.8,743.7 L1111.3,743.9 L1112.8,744.0 L1114.3,744.2 L1115.8,744.4 L1117.3,744.5 L1118.8,744.7 L1120.3,744.9 L1121.8,745.0 L1123.3,745.2 L1124.8,745.3 L1126.3,745.5 L1127.9,745.7 L1129.4,745.8 L1130.9,746.0 L1132.4,746.2 L1133.9,746.3 L1135.4,746.5 L1136.9,746.7 L1138.4,746.9 L1139.9,747.0 L1141.4,747.2 L1142.9,747.3 L1144.4,747.5 L1145.9,747.6 L1147.4,747.8 L1148.9,747.9 L1150.4,748.0 L1151.9,748.2 L1153.4,748.3 L1154.9,748.4 L1156.4,748.5 L1157.9,748.6 L1159.4,748.7 L1160.9,748.8 L1162.5,748.9 L1164.0,748.9 L1165.5,749.0 L1167.0,749.1 L1168.5,749.1 L1170.0,749.2 L1171.5,749.2 L1173.0,749.2 L1174.5,749.3 L1176.0,749.3 L1177.5,749.3 L1179.0,749.3" fill="none" stroke="#000080" stroke-width="2.2" stroke-linejoin="round"/>
<path d="M178.6,749.8 L180.1,749.5 L181.6,749.2 L183.1,748.9 L184.6,748.6 L186.1,748.4 L187.6,748.1 L189.1,747.9 L190.6,747.6 L192.1,747.4 L193.6,747.2 L195.1,747.0 L196.7,746.8 L198.2,746.6 L199.7,746.5 L201.2,746.3 L202.7,746.1 L204.2,746.0 L205.7,745.8 L207.2,745.6 L208.7,745.5 L210.2,745.3 L211.7,745.1 L213.2,744.9 L214.7,744.7 L216.2,744.5 L217.7,744.3 L219.2,744.0 L220.7,743.8 L222.2,743.6 L223.7,743.3 L225.2,743.1 L226.7,742.8 L228.2,742.6 L229.7,742.3 L231.3,742.1 L232.8,741.8 L234.3,741.5 L235.8,741.3 L237.3,741.0 L238.8,740.8 L240.3,740.5 L241.8,740.2 L243.3,740.0 L244.8,739.7 L246.3,739.4 L247.8,739.2 L249.3,738.9 L250.8,738.6 L252.3,738.3 L253.8,738.0 L255.3,737.7 L256.8,737.3 L258.3,737.0 L259.8,736.7 L261.3,736.3 L262.8,735.9 L264.3,735.5 L265.9,735.1 L267.4,734.7 L268.9,734.3 L270.4,733.8 L271.9,733.4 L273.4,732.9 L274.9,732.4 L276.4,731.8 L277.9,731.3 L279.4,730.7 L280.9,730.1 L282.4,729.4 L283.9,728.7 L285.4,728.0 L286.9,727.2 L288.4,726.4 L289.9,725.5 L291.4,724.6 L292.9,723.6 L294.4,722.6 L295.9,721.6 L297.4,720.4 L298.9,719.2 L300.5,718.0 L302.0,716.7 L303.5,715.3 L305.0,713.9 L306.5,712.3 L308.0,710.7 L309.5,708.9 L311.0,707.1 L312.5,705.1 L314.0,703.0 L315.5,700.8 L317.0,698.4 L318.5,696.0 L320.0,693.5 L321.5,690.9 L323.0,688.3 L324.5,685.7 L326.0,683.1 L327.5,680.4 L329.0,677.7 L330.5,674.9 L332.0,672.0 L333.5,668.9 L335.1,665.5 L336.6,661.9 L338.1,658.0 L339.6,653.8 L341.1,649.4 L342.6,644.8 L344.1,640.0 L345.6,635.2 L347.1,630.5 L348.6,625.7 L350.1,621.1 L351.6,616.7 L353.1,612.3 L354.6,608.1 L356.1,604.1 L357.6,600.1 L359.1,596.1 L360.6,592.1 L362.1,588.0 L363.6,583.8 L365.1,579.3 L366.6,574.6 L368.1,569.7 L369.7,564.7 L371.2,559.5 L372.7,554.3 L374.2,549.0 L375.7,543.8 L377.2,538.6 L378.7,533.5 L380.2,528.5 L381.7,523.7 L383.2,519.0 L384.7,514.6 L386.2,510.3 L387.7,506.1 L389.2,502.1 L390.7,498.3 L392.2,494.6 L393.7,491.1 L395.2,487.8 L396.7,484.6 L398.2,481.5 L399.7,478.5 L401.2,475.5 L402.7,472.5 L404.3,469.6 L405.8,466.9 L407.3,464.6 L408.8,462.8 L410.3,461.5 L411.8,460.9 L413.3,460.9 L414.8,461.4 L416.3,462.5 L417.8,464.1 L419.3,466.1 L420.8,468.5 L422.3,471.1 L423.8,474.1 L425.3,477.3 L426.8,480.7 L428.3,484.2 L429.8,487.9 L431.3,491.7 L432.8,495.5 L434.3,499.3 L435.8,503.0 L437.4,506.7 L438.9,510.3 L440.4,513.7 L441.9,516.8 L443.4,519.8 L444.9,522.4 L446.4,524.8 L447.9,526.7 L449.4,528.4 L450.9,529.6 L452.4,530.5 L453.9,531.0 L455.4,531.2 L456.9,531.0 L458.4,530.5 L459.9,529.5 L461.4,528.2 L462.9,526.6 L464.4,524.6 L465.9,522.2 L467.4,519.5 L468.9,516.4 L470.4,512.9 L472.0,509.1 L473.5,505.0 L475.0,500.5 L476.5,495.8 L478.0,490.8 L479.5,485.5 L481.0,480.1 L482.5,474.4 L484.0,468.7 L485.5,462.8 L487.0,456.8 L488.5,450.7 L490.0,444.5 L491.5,438.2 L493.0,431.8 L494.5,425.4 L496.0,418.9 L497.5,412.3 L499.0,405.7 L500.5,399.1 L502.0,392.4 L503.5,385.8 L505.0,379.1 L506.6,372.4 L508.1,365.7 L509.6,359.0 L511.1,352.2 L512.6,345.4 L514.1,338.4 L515.6,331.4 L517.1,324.2 L518.6,317.1 L520.1,310.0 L521.6,303.1 L523.1,296.3 L524.6,289.8 L526.1,283.7 L527.6,278.0 L529.1,272.8 L530.6,268.0 L532.1,263.7 L533.6,259.9 L535.1,256.5 L536.6,253.5 L538.1,250.8 L539.6,248.5 L541.2,246.3 L542.7,244.4 L544.2,242.6 L545.7,241.0 L547.2,239.5 L548.7,238.1 L550.2,236.8 L551.7,235.7 L553.2,234.7 L554.7,233.9 L556.2,233.3 L557.7,232.9 L559.2,232.7 L560.7,232.6 L562.2,232.9 L563.7,233.3 L565.2,234.0 L566.7,234.9 L568.2,236.2 L569.7,237.8 L571.2,239.7 L572.7,242.2 L574.2,245.2 L575.8,248.8 L577.3,253.2 L578.8,258.4 L580.3,264.3 L581.8,270.9 L583.3,278.3 L584.8,286.3 L586.3,295.1 L587.8,304.4 L589.3,313.9 L590.8,323.5 L592.3,332.8 L593.8,341.7 L595.3,350.1 L596.8,358.2 L598.3,366.0 L599.8,373.5 L601.3,380.7 L602.8,387.7 L604.3,394.4 L605.8,400.7 L607.3,406.8 L608.8,412.6 L610.4,418.2 L611.9,423.6 L613.4,428.9 L614.9,434.2 L616.4,439.3 L617.9,444.3 L619.4,449.2 L620.9,453.8 L622.4,458.2 L623.9,462.3 L625.4,466.2 L626.9,469.8 L628.4,473.2 L629.9,476.4 L631.4,479.5 L632.9,482.5 L634.4,485.5 L635.9,488.5 L637.4,491.6 L638.9,494.7 L640.4,498.0 L641.9,501.3 L643.4,504.7 L645.0,508.1 L646.5,511.5 L648.0,514.9 L649.5,518.3 L651.0,521.6 L652.5,524.8 L654.0,527.9 L655.5,530.8 L657.0,533.6 L658.5,536.1 L660.0,538.6 L661.5,540.9 L663.0,543.0 L664.5,545.1 L666.0,547.2 L667.5,549.2 L669.0,551.1 L670.5,553.1 L672.0,555.1 L673.5,557.1 L675.0,559.2 L676.5,561.2 L678.0,563.2 L679.6,565.3 L681.1,567.4 L682.6,569.4 L684.1,571.5 L685.6,573.6 L687.1,575.6 L688.6,577.7 L690.1,579.7 L691.6,581.8 L693.1,583.8 L694.6,585.8 L696.1,587.7 L697.6,589.6 L699.1,591.5 L700.6,593.4 L702.1,595.1 L703.6,596.8 L705.1,598.4 L706.6,600.0 L708.1,601.5 L709.6,602.9 L711.1,604.2 L712.6,605.4 L714.2,606.6 L715.7,607.6 L717.2,608.6 L718.7,609.5 L720.2,610.2 L721.7,610.9 L723.2,611.5 L724.7,612.0 L726.2,612.4 L727.7,612.7 L729.2,612.8 L730.7,612.8 L732.2,612.7 L733.7,612.5 L735.2,612.1 L736.7,611.6 L738.2,610.9 L739.7,610.0 L741.2,609.1 L742.7,607.9 L744.2,606.7 L745.7,605.2 L747.2,603.6 L748.8,601.9 L750.3,599.9 L751.8,597.9 L753.3,595.6 L754.8,593.3 L756.3,590.7 L757.8,588.0 L759.3,585.1 L760.8,582.0 L762.3,578.9 L763.8,575.6 L765.3,572.3 L766.8,569.2 L768.3,566.1 L769.8,563.3 L771.3,560.7 L772.8,558.5 L774.3,556.7 L775.8,555.3 L777.3,554.3 L778.8,553.6 L780.3,553.2 L781.8,553.1 L783.4,553.1 L784.9,553.4 L786.4,553.7 L787.9,554.2 L789.4,554.7 L790.9,555.2 L792.4,555.7 L793.9,556.2 L795.4,556.5 L796.9,556.7 L798.4,556.7 L799.9,556.6 L801.4,556.1 L802.9,555.4 L804.4,554.4 L805.9,553.2 L807.4,551.6 L808.9,549.7 L810.4,547.5 L811.9,544.9 L813.4,541.9 L814.9,538.7 L816.4,535.2 L818.0,531.4 L819.5,527.4 L821.0,523.2 L822.5,518.9 L824.0,514.5 L825.5,510.0 L827.0,505.5 L828.5,501.0 L830.0,496.5 L831.5,492.2 L833.0,487.9 L834.5,483.9 L836.0,480.1 L837.5,476.6 L839.0,473.4 L840.5,470.6 L842.0,468.2 L843.5,466.0 L845.0,464.2 L846.5,462.4 L848.0,460.8 L849.5,459.1 L851.0,457.4 L852.6,455.5 L854.1,453.4 L855.6,451.0 L857.1,448.5 L858.6,445.9 L860.1,443.4 L861.6,441.0 L863.1,438.9 L864.6,437.2 L866.1,435.9 L867.6,435.2 L869.1,435.2 L870.6,436.1 L872.1,437.9 L873.6,440.8 L875.1,444.9 L876.6,450.3 L878.1,457.0 L879.6,464.8 L881.1,473.4 L882.6,482.8 L884.1,492.6 L885.6,502.6 L887.2,512.7 L888.7,522.7 L890.2,532.5 L891.7,541.8 L893.2,550.6 L894.7,558.6 L896.2,565.9 L897.7,572.2 L899.2,577.9 L900.7,583.3 L902.2,588.5 L903.7,593.7 L905.2,599.1 L906.7,604.5 L908.2,609.9 L909.7,615.2 L911.2,620.5 L912.7,625.7 L914.2,630.7 L915.7,635.5 L917.2,640.1 L918.7,644.4 L920.2,648.3 L921.8,652.0 L923.3,655.3 L924.8,658.4 L926.3,661.3 L927.8,663.9 L929.3,666.3 L930.8,668.6 L932.3,670.8 L933.8,672.8 L935.3,674.7 L936.8,676.6 L938.3,678.5 L939.8,680.2 L941.3,681.9 L942.8,683.6 L944.3,685.2 L945.8,686.7 L947.3,688.2 L948.8,689.6 L950.3,690.9 L951.8,692.2 L953.3,693.5 L954.9,694.6 L956.4,695.7 L957.9,696.8 L959.4,697.8 L960.9,698.7 L962.4,699.6 L963.9,700.5 L965.4,701.4 L966.9,702.2 L968.4,703.1 L969.9,703.9 L971.4,704.7 L972.9,705.4 L974.4,706.2 L975.9,707.0 L977.4,707.7 L978.9,708.5 L980.4,709.2 L981.9,709.9 L983.4,710.6 L984.9,711.3 L986.4,711.9 L987.9,712.5 L989.5,713.1 L991.0,713.7 L992.5,714.3 L994.0,714.8 L995.5,715.4 L997.0,715.9 L998.5,716.4 L1000.0,716.9 L1001.5,717.3 L1003.0,717.8 L1004.5,718.2 L1006.0,718.7 L1007.5,719.1 L1009.0,719.5 L1010.5,719.9 L1012.0,720.3 L1013.5,720.6 L1015.0,721.0 L1016.5,721.4 L1018.0,721.8 L1019.5,722.2 L1021.0,722.6 L1022.5,723.0 L1024.1,723.4 L1025.6,723.8 L1027.1,724.2 L1028.6,724.6 L1030.1,725.0 L1031.6,725.5 L1033.1,725.9 L1034.6,726.3 L1036.1,726.7 L1037.6,727.2 L1039.1,727.6 L1040.6,728.0 L1042.1,728.4 L1043.6,728.9 L1045.1,729.3 L1046.6,729.7 L1048.1,730.1 L1049.6,730.5 L1051.1,730.8 L1052.6,731.2 L1054.1,731.6 L1055.6,731.9 L1057.1,732.3 L1058.7,732.6 L1060.2,733.0 L1061.7,733.3 L1063.2,733.7 L1064.7,734.0 L1066.2,734.4 L1067.7,734.7 L1069.2,735.0 L1070.7,735.4 L1072.2,735.7 L1073.7,736.0 L1075.2,736.3 L1076.7,736.7 L1078.2,737.0 L1079.7,737.3 L1081.2,737.6 L1082.7,737.9 L1084.2,738.2 L1085.7,738.5 L1087.2,738.8 L1088.7,739.0 L1090.2,739.3 L1091.7,739.6 L1093.3,739.9 L1094.8,740.1 L1096.3,740.4 L1097.8,740.6 L1099.3,740.8 L1100.8,741.1 L1102.3,741.3 L1103.8,741.5 L1105.3,741.7 L1106.8,741.9 L1108.3,742.1 L1109.8,742.3 L1111.3,742.5 L1112.8,742.7 L1114.3,742.9 L1115.8,743.0 L1117.3,743.2 L1118.8,743.4 L1120.3,743.6 L1121.8,743.8 L1123.3,744.0 L1124.8,744.2 L1126.3,744.4 L1127.9,744.6 L1129.4,744.8 L1130.9,745.0 L1132.4,745.2 L1133.9,745.4 L1135.4,745.6 L1136.9,745.9 L1138.4,746.1 L1139.9,746.3 L1141.4,746.5 L1142.9,746.7 L1144.4,746.9 L1145.9,747.1 L1147.4,747.3 L1148.9,747.4 L1150.4,747.6 L1151.9,747.7 L1153.4,747.9 L1154.9,748.0 L1156.4,748.2 L1157.9,748.3 L1159.4,748.4 L1160.9,748.5 L1162.5,748.6 L1164.0,748.7 L1165.5,748.8 L1167.0,748.9 L1168.5,749.0 L1170.0,749.0 L1171.5,749.1 L1173.0,749.1 L1174.5,749.1 L1176.0,749.2 L1177.5,749.2 L1179.0,749.2" fill="none" stroke="#008000" stroke-width="2.2" stroke-linejoin="round"/>
<path d="M178.6,749.8 L180.1,749.5 L181.6,749.2 L183.1,748.9 L184.6,748.7 L186.1,748.4 L187.6,748.2 L189.1,748.0 L190.6,747.7 L192.1,747.5 L193.6,747.3 L195.1,747.1 L196.7,747.0 L198.2,746.8 L199.7,746.6 L201.2,746.5 L202.7,746.3 L204.2,746.2 L205.7,746.0 L207.2,745.9 L208.7,745.7 L210.2,745.5 L211.7,745.4 L213.2,745.2 L214.7,745.0 L216.2,744.8 L217.7,744.6 L219.2,744.4 L220.7,744.2 L222.2,744.0 L223.7,743.7 L225.2,743.5 L226.7,743.3 L228.2,743.1 L229.7,742.8 L231.3,742.6 L232.8,742.4 L234.3,742.2 L235.8,741.9 L237.3,741.7 L238.8,741.5 L240.3,741.2 L241.8,741.0 L243.3,740.8 L244.8,740.5 L246.3,740.3 L247.8,740.0 L249.3,739.8 L250.8,739.5 L252.3,739.2 L253.8,739.0 L255.3,738.7 L256.8,738.4 L258.3,738.1 L259.8,737.8 L261.3,737.5 L262.8,737.2 L264.3,736.9 L265.9,736.5 L267.4,736.2 L268.9,735.8 L270.4,735.4 L271.9,735.0 L273.4,734.5 L274.9,734.1 L276.4,733.6 L277.9,733.1 L279.4,732.6 L280.9,732.0 L282.4,731.4 L283.9,730.8 L285.4,730.1 L286.9,729.4 L288.4,728.6 L289.9,727.8 L291.4,726.9 L292.9,725.9 L294.4,724.9 L295.9,723.9 L297.4,722.8 L298.9,721.6 L300.5,720.3 L302.0,719.0 L303.5,717.5 L305.0,716.0 L306.5,714.4 L308.0,712.7 L309.5,710.8 L311.0,708.8 L312.5,706.7 L314.0,704.5 L315.5,702.1 L317.0,699.6 L318.5,696.9 L320.0,694.2 L321.5,691.4 L323.0,688.4 L324.5,685.5 L326.0,682.4 L327.5,679.3 L329.0,676.0 L330.5,672.6 L332.0,668.9 L333.5,665.0 L335.1,660.7 L336.6,656.1 L338.1,651.1 L339.6,645.9 L341.1,640.4 L342.6,634.9 L344.1,629.3 L345.6,623.8 L347.1,618.4 L348.6,613.3 L350.1,608.3 L351.6,603.4 L353.1,598.6 L354.6,593.9 L356.1,589.2 L357.6,584.4 L359.1,579.5 L360.6,574.6 L362.1,569.6 L363.6,564.5 L365.1,559.2 L366.6,553.8 L368.1,548.2 L369.7,542.6 L371.2,537.0 L372.7,531.4 L374.2,525.8 L375.7,520.4 L377.2,515.1 L378.7,510.1 L380.2,505.3 L381.7,500.8 L383.2,496.5 L384.7,492.5 L386.2,488.6 L387.7,484.7 L389.2,480.7 L390.7,476.7 L392.2,472.6 L393.7,468.5 L395.2,464.4 L396.7,460.4 L398.2,456.6 L399.7,453.1 L401.2,449.9 L402.7,447.1 L404.3,444.7 L405.8,442.8 L407.3,441.4 L408.8,440.7 L410.3,440.5 L411.8,440.9 L413.3,441.7 L414.8,443.0 L416.3,444.8 L417.8,446.9 L419.3,449.3 L420.8,452.1 L422.3,455.1 L423.8,458.4 L425.3,461.9 L426.8,465.6 L428.3,469.4 L429.8,473.3 L431.3,477.2 L432.8,481.2 L434.3,485.2 L435.8,489.1 L437.4,492.9 L438.9,496.6 L440.4,500.1 L441.9,503.4 L443.4,506.4 L444.9,509.1 L446.4,511.5 L447.9,513.5 L449.4,515.2 L450.9,516.5 L452.4,517.4 L453.9,517.9 L455.4,518.0 L456.9,517.8 L458.4,517.1 L459.9,516.1 L461.4,514.7 L462.9,512.9 L464.4,510.7 L465.9,508.1 L467.4,505.1 L468.9,501.7 L470.4,497.9 L472.0,493.8 L473.5,489.2 L475.0,484.4 L476.5,479.2 L478.0,473.7 L479.5,468.0 L481.0,462.1 L482.5,456.0 L484.0,449.8 L485.5,443.5 L487.0,437.1 L488.5,430.6 L490.0,424.0 L491.5,417.4 L493.0,410.7 L494.5,403.9 L496.0,397.1 L497.5,390.2 L499.0,383.2 L500.5,376.2 L502.0,369.1 L503.5,362.0 L505.0,354.7 L506.6,347.3 L508.1,339.7 L509.6,332.0 L511.1,324.1 L512.6,316.0 L514.1,307.9 L515.6,299.8 L517.1,291.7 L518.6,283.9 L520.1,276.4 L521.6,269.3 L523.1,262.7 L524.6,256.7 L526.1,251.1 L527.6,246.0 L529.1,241.4 L530.6,237.2 L532.1,233.2 L533.6,229.6 L535.1,226.2 L536.6,223.0 L538.1,220.0 L539.6,217.2 L541.2,214.6 L542.7,212.1 L544.2,209.8 L545.7,207.7 L547.2,205.8 L548.7,204.0 L550.2,202.3 L551.7,200.9 L553.2,199.7 L554.7,198.7 L556.2,197.9 L557.7,197.5 L559.2,197.3 L560.7,197.3 L562.2,197.7 L563.7,198.3 L565.2,199.3 L566.7,200.5 L568.2,202.1 L569.7,204.1 L571.2,206.4 L572.7,209.2 L574.2,212.5 L575.8,216.5 L577.3,221.2 L578.8,226.7 L580.3,232.9 L581.8,239.8 L583.3,247.6 L584.8,256.2 L586.3,265.7 L587.8,275.9 L589.3,286.6 L590.8,297.4 L592.3,308.0 L593.8,318.2 L595.3,327.7 L596.8,336.7 L598.3,345.2 L599.8,353.1 L601.3,360.6 L602.8,367.7 L604.3,374.4 L605.8,380.8 L607.3,386.8 L608.8,392.6 L610.4,398.1 L611.9,403.4 L613.4,408.4 L614.9,413.2 L616.4,417.8 L617.9,422.1 L619.4,426.3 L620.9,430.4 L622.4,434.5 L623.9,438.5 L625.4,442.4 L626.9,446.4 L628.4,450.4 L629.9,454.2 L631.4,458.0 L632.9,461.5 L634.4,464.9 L635.9,468.0 L637.4,471.0 L638.9,473.8 L640.4,476.5 L641.9,479.1 L643.4,481.9 L645.0,484.7 L646.5,487.6 L648.0,490.7 L649.5,493.9 L651.0,497.2 L652.5,500.6 L654.0,503.9 L655.5,507.2 L657.0,510.3 L658.5,513.3 L660.0,516.2 L661.5,518.9 L663.0,521.5 L664.5,524.1 L666.0,526.6 L667.5,529.0 L669.0,531.4 L670.5,533.9 L672.0,536.3 L673.5,538.8 L675.0,541.3 L676.5,543.8 L678.0,546.3 L679.6,548.8 L681.1,551.3 L682.6,553.9 L684.1,556.4 L685.6,558.9 L687.1,561.3 L688.6,563.8 L690.1,566.2 L691.6,568.6 L693.1,571.0 L694.6,573.4 L696.1,575.7 L697.6,577.9 L699.1,580.2 L700.6,582.3 L702.1,584.5 L703.6,586.5 L705.1,588.5 L706.6,590.3 L708.1,592.1 L709.6,593.7 L711.1,595.2 L712.6,596.6 L714.2,597.9 L715.7,599.0 L717.2,600.0 L718.7,600.9 L720.2,601.7 L721.7,602.4 L723.2,602.9 L724.7,603.4 L726.2,603.7 L727.7,603.9 L729.2,604.0 L730.7,604.0 L732.2,603.9 L733.7,603.6 L735.2,603.2 L736.7,602.6 L738.2,601.9 L739.7,601.0 L741.2,599.9 L742.7,598.7 L744.2,597.3 L745.7,595.8 L747.2,594.1 L748.8,592.2 L750.3,590.2 L751.8,588.0 L753.3,585.6 L754.8,583.0 L756.3,580.3 L757.8,577.4 L759.3,574.3 L760.8,571.1 L762.3,567.7 L763.8,564.2 L765.3,560.7 L766.8,557.3 L768.3,554.1 L769.8,551.1 L771.3,548.3 L772.8,546.0 L774.3,544.0 L775.8,542.5 L777.3,541.4 L778.8,540.7 L780.3,540.3 L781.8,540.1 L783.4,540.1 L784.9,540.3 L786.4,540.7 L787.9,541.1 L789.4,541.6 L790.9,542.0 L792.4,542.5 L793.9,542.9 L795.4,543.2 L796.9,543.3 L798.4,543.2 L799.9,542.9 L801.4,542.4 L802.9,541.5 L804.4,540.3 L805.9,538.8 L807.4,536.9 L808.9,534.7 L810.4,532.1 L811.9,529.0 L813.4,525.6 L814.9,521.8 L816.4,517.8 L818.0,513.5 L819.5,508.9 L821.0,504.2 L822.5,499.4 L824.0,494.5 L825.5,489.6 L827.0,484.7 L828.5,479.8 L830.0,475.1 L831.5,470.5 L833.0,466.1 L834.5,461.9 L836.0,458.1 L837.5,454.5 L839.0,451.4 L840.5,448.6 L842.0,446.3 L843.5,444.3 L845.0,442.6 L846.5,441.1 L848.0,439.6 L849.5,438.2 L851.0,436.7 L852.6,435.0 L854.1,433.0 L855.6,430.8 L857.1,428.4 L858.6,425.9 L860.1,423.5 L861.6,421.2 L863.1,419.3 L864.6,417.7 L866.1,416.5 L867.6,416.0 L869.1,416.2 L870.6,417.3 L872.1,419.3 L873.6,422.4 L875.1,426.8 L876.6,432.6 L878.1,439.7 L879.6,448.0 L881.1,457.2 L882.6,467.1 L884.1,477.5 L885.6,488.3 L887.2,499.1 L888.7,509.8 L890.2,520.3 L891.7,530.5 L893.2,540.1 L894.7,549.1 L896.2,557.2 L897.7,564.4 L899.2,570.9 L900.7,577.0 L902.2,582.8 L903.7,588.7 L905.2,594.6 L906.7,600.4 L908.2,606.1 L909.7,611.7 L911.2,617.1 L912.7,622.3 L914.2,627.4 L915.7,632.2 L917.2,636.7 L918.7,640.9 L920.2,644.8 L921.8,648.3 L923.3,651.6 L924.8,654.6 L926.3,657.3 L927.8,659.8 L929.3,662.2 L930.8,664.3 L932.3,666.4 L933.8,668.4 L935.3,670.3 L936.8,672.1 L938.3,673.9 L939.8,675.6 L941.3,677.3 L942.8,679.0 L944.3,680.6 L945.8,682.2 L947.3,683.7 L948.8,685.1 L950.3,686.5 L951.8,687.9 L953.3,689.1 L954.9,690.4 L956.4,691.5 L957.9,692.7 L959.4,693.7 L960.9,694.8 L962.4,695.7 L963.9,696.7 L965.4,697.6 L966.9,698.5 L968.4,699.4 L969.9,700.2 L971.4,701.1 L972.9,701.9 L974.4,702.7 L975.9,703.6 L977.4,704.4 L978.9,705.2 L980.4,705.9 L981.9,706.7 L983.4,707.4 L984.9,708.2 L986.4,708.9 L987.9,709.5 L989.5,710.2 L991.0,710.8 L992.5,711.4 L994.0,712.0 L995.5,712.6 L997.0,713.1 L998.5,713.7 L1000.0,714.2 L1001.5,714.7 L1003.0,715.1 L1004.5,715.6 L1006.0,716.1 L1007.5,716.5 L1009.0,716.9 L1010.5,717.3 L1012.0,717.8 L1013.5,718.2 L1015.0,718.5 L1016.5,718.9 L1018.0,719.3 L1019.5,719.7 L1021.0,720.1 L1022.5,720.5 L1024.1,721.0 L1025.6,721.4 L1027.1,721.8 L1028.6,722.2 L1030.1,722.7 L1031.6,723.1 L1033.1,723.5 L1034.6,724.0 L1036.1,724.4 L1037.6,724.9 L1039.1,725.3 L1040.6,725.7 L1042.1,726.2 L1043.6,726.6 L1045.1,727.0 L1046.6,727.5 L1048.1,727.9 L1049.6,728.3 L1051.1,728.7 L1052.6,729.1 L1054.1,729.5 L1055.6,729.9 L1057.1,730.3 L1058.7,730.6 L1060.2,731.0 L1061.7,731.4 L1063.2,731.8 L1064.7,732.1 L1066.2,732.5 L1067.7,732.9 L1069.2,733.3 L1070.7,733.6 L1072.2,734.0 L1073.7,734.3 L1075.2,734.7 L1076.7,735.0 L1078.2,735.4 L1079.7,735.7 L1081.2,736.1 L1082.7,736.4 L1084.2,736.7 L1085.7,737.1 L1087.2,737.4 L1088.7,737.7 L1090.2,738.0 L1091.7,738.3 L1093.3,738.6 L1094.8,738.9 L1096.3,739.2 L1097.8,739.4 L1099.3,739.7 L1100.8,739.9 L1102.3,740.2 L1103.8,740.4 L1105.3,740.6 L1106.8,740.9 L1108.3,741.1 L1109.8,741.3 L1111.3,741.5 L1112.8,741.7 L1114.3,741.9 L1115.8,742.1 L1117.3,742.3 L1118.8,742.5 L1120.3,742.7 L1121.8,742.9 L1123.3,743.1 L1124.8,743.4 L1126.3,743.6 L1127.9,743.8 L1129.4,744.0 L1130.9,744.3 L1132.4,744.5 L1133.9,744.8 L1135.4,745.0 L1136.9,745.3 L1138.4,745.5 L1139.9,745.8 L1141.4,746.0 L1142.9,746.2 L1144.4,746.5 L1145.9,746.7 L1147.4,746.9 L1148.9,747.1 L1150.4,747.3 L1151.9,747.5 L1153.4,747.6 L1154.9,747.8 L1156.4,747.9 L1157.9,748.1 L1159.4,748.2 L1160.9,748.4 L1162.5,748.5 L1164.0,748.6 L1165.5,748.7 L1167.0,748.8 L1168.5,748.8 L1170.0,748.9 L1171.5,749.0 L1173.0,749.0 L1174.5,749.1 L1176.0,749.1 L1177.5,749.1 L1179.0,749.1" fill="none" stroke="#ff00ff" stroke-width="2.2" stroke-linejoin="round"/>
<path d="M178.6,749.8 L180.1,749.5 L181.6,749.2 L183.1,749.0 L184.6,748.7 L186.1,748.5 L187.6,748.3 L189.1,748.0 L190.6,747.8 L192.1,747.6 L193.6,747.4 L195.1,747.2 L196.7,747.1 L198.2,746.9 L199.7,746.7 L201.2,746.6 L202.7,746.4 L204.2,746.3 L205.7,746.1 L207.2,746.0 L208.7,745.9 L210.2,745.7 L211.7,745.5 L213.2,745.4 L214.7,745.2 L216.2,745.0 L217.7,744.8 L219.2,744.6 L220.7,744.4 L222.2,744.2 L223.7,744.0 L225.2,743.8 L226.7,743.6 L228.2,743.4 L229.7,743.2 L231.3,743.0 L232.8,742.8 L234.3,742.6 L235.8,742.4 L237.3,742.2 L238.8,742.0 L240.3,741.8 L241.8,741.5 L243.3,741.3 L244.8,741.1 L246.3,740.9 L247.8,740.6 L249.3,740.4 L250.8,740.2 L252.3,739.9 L253.8,739.7 L255.3,739.4 L256.8,739.2 L258.3,738.9 L259.8,738.7 L261.3,738.4 L262.8,738.1 L264.3,737.8 L265.9,737.5 L267.4,737.2 L268.9,736.8 L270.4,736.5 L271.9,736.1 L273.4,735.7 L274.9,735.3 L276.4,734.9 L277.9,734.4 L279.4,733.9 L280.9,733.4 L282.4,732.8 L283.9,732.2 L285.4,731.6 L286.9,730.9 L288.4,730.1 L289.9,729.3 L291.4,728.5 L292.9,727.5 L294.4,726.5 L295.9,725.5 L297.4,724.4 L298.9,723.2 L300.5,721.9 L302.0,720.5 L303.5,719.0 L305.0,717.5 L306.5,715.8 L308.0,714.0 L309.5,712.1 L311.0,710.1 L312.5,707.9 L314.0,705.7 L315.5,703.2 L317.0,700.7 L318.5,698.0 L320.0,695.2 L321.5,692.2 L323.0,689.0 L324.5,685.7 L326.0,682.3 L327.5,678.6 L329.0,674.9 L330.5,670.9 L332.0,666.9 L333.5,662.6 L335.1,658.3 L336.6,653.8 L338.1,649.1 L339.6,644.4 L341.1,639.7 L342.6,634.8 L344.1,630.0 L345.6,625.1 L347.1,620.3 L348.6,615.6 L350.1,610.8 L351.6,606.2 L353.1,601.5 L354.6,596.8 L356.1,592.0 L357.6,587.1 L359.1,582.1 L360.6,576.9 L362.1,571.4 L363.6,565.7 L365.1,559.7 L366.6,553.4 L368.1,546.9 L369.7,540.2 L371.2,533.5 L372.7,526.9 L374.2,520.4 L375.7,514.1 L377.2,508.0 L378.7,502.2 L380.2,496.6 L381.7,491.2 L383.2,486.1 L384.7,481.1 L386.2,476.3 L387.7,471.4 L389.2,466.6 L390.7,461.9 L392.2,457.3 L393.7,452.9 L395.2,448.8 L396.7,445.0 L398.2,441.5 L399.7,438.4 L401.2,435.7 L402.7,433.5 L404.3,431.8 L405.8,430.6 L407.3,429.9 L408.8,429.8 L410.3,430.3 L411.8,431.2 L413.3,432.6 L414.8,434.5 L416.3,436.7 L417.8,439.4 L419.3,442.3 L420.8,445.5 L422.3,449.0 L423.8,452.7 L425.3,456.6 L426.8,460.6 L428.3,464.8 L429.8,469.0 L431.3,473.3 L432.8,477.5 L434.3,481.7 L435.8,485.9 L437.4,489.9 L438.9,493.8 L440.4,497.5 L441.9,500.9 L443.4,504.1 L444.9,506.9 L446.4,509.4 L447.9,511.5 L449.4,513.2 L450.9,514.6 L452.4,515.5 L453.9,516.1 L455.4,516.3 L456.9,516.1 L458.4,515.6 L459.9,514.6 L461.4,513.3 L462.9,511.7 L464.4,509.6 L465.9,507.2 L467.4,504.4 L468.9,501.3 L470.4,497.8 L472.0,493.9 L473.5,489.6 L475.0,485.1 L476.5,480.2 L478.0,474.9 L479.5,469.4 L481.0,463.7 L482.5,457.6 L484.0,451.4 L485.5,444.9 L487.0,438.1 L488.5,431.2 L490.0,424.2 L491.5,416.9 L493.0,409.5 L494.5,402.0 L496.0,394.3 L497.5,386.5 L499.0,378.6 L500.5,370.6 L502.0,362.5 L503.5,354.3 L505.0,346.0 L506.6,337.7 L508.1,329.4 L509.6,321.0 L511.1,312.5 L512.6,304.1 L514.1,295.8 L515.6,287.6 L517.1,279.5 L518.6,271.6 L520.1,263.9 L521.6,256.5 L523.1,249.4 L524.6,242.7 L526.1,236.3 L527.6,230.3 L529.1,224.7 L530.6,219.4 L532.1,214.4 L533.6,209.8 L535.1,205.5 L536.6,201.5 L538.1,197.7 L539.6,194.1 L541.2,190.8 L542.7,187.7 L544.2,184.9 L545.7,182.2 L547.2,179.9 L548.7,177.8 L550.2,176.1 L551.7,174.6 L553.2,173.4 L554.7,172.5 L556.2,171.8 L557.7,171.4 L559.2,171.2 L560.7,171.3 L562.2,171.7 L563.7,172.3 L565.2,173.2 L566.7,174.4 L568.2,176.0 L569.7,177.9 L571.2,180.1 L572.7,182.9 L574.2,186.2 L575.8,190.2 L577.3,194.9 L578.8,200.5 L580.3,207.1 L581.8,214.6 L583.3,223.1 L584.8,232.8 L586.3,243.5 L587.8,255.1 L589.3,267.1 L590.8,279.3 L592.3,291.1 L593.8,302.2 L595.3,312.6 L596.8,322.3 L598.3,331.3 L599.8,339.7 L601.3,347.6 L602.8,355.0 L604.3,362.0 L605.8,368.4 L607.3,374.5 L608.8,380.1 L610.4,385.3 L611.9,390.1 L613.4,394.7 L614.9,399.0 L616.4,403.1 L617.9,407.0 L619.4,410.9 L620.9,414.6 L622.4,418.3 L623.9,422.0 L625.4,425.6 L626.9,429.3 L628.4,433.0 L629.9,436.8 L631.4,440.5 L632.9,444.4 L634.4,448.2 L635.9,452.1 L637.4,456.1 L638.9,460.1 L640.4,464.2 L641.9,468.3 L643.4,472.4 L645.0,476.5 L646.5,480.6 L648.0,484.6 L649.5,488.5 L651.0,492.3 L652.5,495.9 L654.0,499.4 L655.5,502.8 L657.0,505.9 L658.5,508.9 L660.0,511.6 L661.5,514.3 L663.0,516.8 L664.5,519.3 L666.0,521.7 L667.5,524.0 L669.0,526.3 L670.5,528.7 L672.0,531.0 L673.5,533.4 L675.0,535.9 L676.5,538.3 L678.0,540.8 L679.6,543.2 L681.1,545.7 L682.6,548.2 L684.1,550.6 L685.6,553.1 L687.1,555.6 L688.6,558.0 L690.1,560.5 L691.6,562.9 L693.1,565.3 L694.6,567.7 L696.1,570.0 L697.6,572.4 L699.1,574.6 L700.6,576.9 L702.1,579.1 L703.6,581.2 L705.1,583.3 L706.6,585.3 L708.1,587.2 L709.6,589.1 L711.1,590.8 L712.6,592.4 L714.2,593.9 L715.7,595.3 L717.2,596.5 L718.7,597.6 L720.2,598.6 L721.7,599.4 L723.2,600.2 L724.7,600.7 L726.2,601.2 L727.7,601.5 L729.2,601.7 L730.7,601.7 L732.2,601.6 L733.7,601.3 L735.2,600.8 L736.7,600.2 L738.2,599.4 L739.7,598.5 L741.2,597.3 L742.7,596.0 L744.2,594.6 L745.7,592.9 L747.2,591.0 L748.8,589.0 L750.3,586.8 L751.8,584.4 L753.3,581.9 L754.8,579.1 L756.3,576.2 L757.8,573.1 L759.3,569.8 L760.8,566.3 L762.3,562.7 L763.8,559.0 L765.3,555.2 L766.8,551.6 L768.3,548.1 L769.8,544.9 L771.3,541.9 L772.8,539.4 L774.3,537.3 L775.8,535.7 L777.3,534.5 L778.8,533.7 L780.3,533.2 L781.8,533.0 L783.4,533.0 L784.9,533.2 L786.4,533.6 L787.9,534.1 L789.4,534.6 L790.9,535.1 L792.4,535.7 L793.9,536.1 L795.4,536.4 L796.9,536.6 L798.4,536.6 L799.9,536.3 L801.4,535.7 L802.9,534.8 L804.4,533.6 L805.9,532.0 L807.4,530.1 L808.9,527.7 L810.4,525.0 L811.9,521.9 L813.4,518.3 L814.9,514.4 L816.4,510.2 L818.0,505.6 L819.5,500.9 L821.0,496.0 L822.5,491.0 L824.0,485.9 L825.5,480.7 L827.0,475.6 L828.5,470.5 L830.0,465.5 L831.5,460.7 L833.0,456.0 L834.5,451.6 L836.0,447.5 L837.5,443.7 L839.0,440.4 L840.5,437.4 L842.0,434.9 L843.5,432.7 L845.0,430.8 L846.5,429.1 L848.0,427.4 L849.5,425.8 L851.0,424.1 L852.6,422.2 L854.1,420.0 L855.6,417.5 L857.1,414.8 L858.6,412.1 L860.1,409.4 L861.6,406.9 L863.1,404.6 L864.6,402.7 L866.1,401.3 L867.6,400.5 L869.1,400.4 L870.6,401.2 L872.1,403.0 L873.6,406.0 L875.1,410.2 L876.6,415.8 L878.1,422.9 L879.6,431.2 L881.1,440.5 L882.6,450.5 L884.1,461.1 L885.6,472.1 L887.2,483.2 L888.7,494.3 L890.2,505.2 L891.7,515.7 L893.2,525.8 L894.7,535.1 L896.2,543.6 L897.7,551.2 L899.2,558.0 L900.7,564.4 L902.2,570.7 L903.7,576.9 L905.2,583.1 L906.7,589.3 L908.2,595.3 L909.7,601.3 L911.2,607.1 L912.7,612.7 L914.2,618.1 L915.7,623.2 L917.2,628.1 L918.7,632.6 L920.2,636.8 L921.8,640.6 L923.3,644.1 L924.8,647.3 L926.3,650.3 L927.8,653.0 L929.3,655.6 L930.8,657.9 L932.3,660.2 L933.8,662.3 L935.3,664.4 L936.8,666.5 L938.3,668.5 L939.8,670.5 L941.3,672.4 L942.8,674.3 L944.3,676.2 L945.8,678.0 L947.3,679.8 L948.8,681.4 L950.3,683.0 L951.8,684.6 L953.3,686.0 L954.9,687.3 L956.4,688.6 L957.9,689.8 L959.4,690.9 L960.9,692.0 L962.4,693.0 L963.9,694.0 L965.4,694.9 L966.9,695.9 L968.4,696.8 L969.9,697.7 L971.4,698.6 L972.9,699.4 L974.4,700.3 L975.9,701.2 L977.4,702.0 L978.9,702.8 L980.4,703.6 L981.9,704.4 L983.4,705.2 L984.9,705.9 L986.4,706.7 L987.9,707.4 L989.5,708.0 L991.0,708.7 L992.5,709.3 L994.0,709.9 L995.5,710.5 L997.0,711.1 L998.5,711.7 L1000.0,712.2 L1001.5,712.7 L1003.0,713.2 L1004.5,713.7 L1006.0,714.2 L1007.5,714.6 L1009.0,715.1 L1010.5,715.5 L1012.0,716.0 L1013.5,716.4 L1015.0,716.8 L1016.5,717.2 L1018.0,717.6 L1019.5,718.0 L1021.0,718.4 L1022.5,718.9 L1024.1,719.3 L1025.6,719.7 L1027.1,720.2 L1028.6,720.6 L1030.1,721.0 L1031.6,721.5 L1033.1,721.9 L1034.6,722.4 L1036.1,722.8 L1037.6,723.3 L1039.1,723.7 L1040.6,724.2 L1042.1,724.6 L1043.6,725.0 L1045.1,725.5 L1046.6,725.9 L1048.1,726.4 L1049.6,726.8 L1051.1,727.2 L1052.6,727.6 L1054.1,728.0 L1055.6,728.4 L1057.1,728.8 L1058.7,729.2 L1060.2,729.6 L1061.7,730.0 L1063.2,730.4 L1064.7,730.8 L1066.2,731.2 L1067.7,731.6 L1069.2,732.0 L1070.7,732.4 L1072.2,732.8 L1073.7,733.2 L1075.2,733.5 L1076.7,733.9 L1078.2,734.3 L1079.7,734.6 L1081.2,735.0 L1082.7,735.4 L1084.2,735.7 L1085.7,736.1 L1087.2,736.4 L1088.7,736.8 L1090.2,737.1 L1091.7,737.4 L1093.3,737.7 L1094.8,738.0 L1096.3,738.3 L1097.8,738.6 L1099.3,738.9 L1100.8,739.2 L1102.3,739.4 L1103.8,739.7 L1105.3,739.9 L1106.8,740.1 L1108.3,740.4 L1109.8,740.6 L1111.3,740.8 L1112.8,741.0 L1114.3,741.2 L1115.8,741.5 L1117.3,741.7 L1118.8,741.9 L1120.3,742.1 L1121.8,742.3 L1123.3,742.5 L1124.8,742.8 L1126.3,743.0 L1127.9,743.3 L1129.4,743.5 L1130.9,743.8 L1132.4,744.0 L1133.9,744.3 L1135.4,744.6 L1136.9,744.9 L1138.4,745.1 L1139.9,745.4 L1141.4,745.7 L1142.9,745.9 L1144.4,746.2 L1145.9,746.4 L1147.4,746.6 L1148.9,746.8 L1150.4,747.0 L1151.9,747.2 L1153.4,747.4 L1154.9,747.6 L1156.4,747.8 L1157.9,747.9 L1159.4,748.1 L1160.9,748.2 L1162.5,748.4 L1164.0,748.5 L1165.5,748.6 L1167.0,748.7 L1168.5,748.8 L1170.0,748.8 L1171.5,748.9 L1173.0,749.0 L1174.5,749.0 L1176.0,749.0 L1177.5,749.0 L1179.0,749.0" fill="none" stroke="#0000ff" stroke-width="2.2" stroke-linejoin="round"/>
<path d="M178.6,749.8 L180.1,749.5 L181.6,749.2 L183.1,748.9 L184.6,748.7 L186.1,748.4 L187.6,748.2 L189.1,747.9 L190.6,747.7 L192.1,747.5 L193.6,747.3 L195.1,747.1 L196.7,746.9 L198.2,746.7 L199.7,746.6 L201.2,746.4 L202.7,746.2 L204.2,746.1 L205.7,745.9 L207.2,745.8 L208.7,745.7 L210.2,745.5 L211.7,745.4 L213.2,745.3 L214.7,745.2 L216.2,745.0 L217.7,744.9 L219.2,744.8 L220.7,744.7 L222.2,744.6 L223.7,744.5 L225.2,744.3 L226.7,744.2 L228.2,744.1 L229.7,744.0 L231.3,743.9 L232.8,743.7 L234.3,743.6 L235.8,743.5 L237.3,743.3 L238.8,743.2 L240.3,743.0 L241.8,742.9 L243.3,742.7 L244.8,742.5 L246.3,742.3 L247.8,742.1 L249.3,742.0 L250.8,741.7 L252.3,741.5 L253.8,741.3 L255.3,741.1 L256.8,740.8 L258.3,740.5 L259.8,740.3 L261.3,740.0 L262.8,739.7 L264.3,739.4 L265.9,739.0 L267.4,738.7 L268.9,738.3 L270.4,738.0 L271.9,737.6 L273.4,737.2 L274.9,736.7 L276.4,736.3 L277.9,735.8 L279.4,735.3 L280.9,734.8 L282.4,734.3 L283.9,733.7 L285.4,733.0 L286.9,732.4 L288.4,731.6 L289.9,730.9 L291.4,730.0 L292.9,729.1 L294.4,728.2 L295.9,727.1 L297.4,726.0 L298.9,724.8 L300.5,723.6 L302.0,722.2 L303.5,720.8 L305.0,719.3 L306.5,717.6 L308.0,715.9 L309.5,714.1 L311.0,712.1 L312.5,710.1 L314.0,707.9 L315.5,705.6 L317.0,703.2 L318.5,700.7 L320.0,698.0 L321.5,695.2 L323.0,692.3 L324.5,689.3 L326.0,686.1 L327.5,682.8 L329.0,679.4 L330.5,676.0 L332.0,672.4 L333.5,668.7 L335.1,664.9 L336.6,661.0 L338.1,657.0 L339.6,652.9 L341.1,648.8 L342.6,644.5 L344.1,640.2 L345.6,635.8 L347.1,631.4 L348.6,626.8 L350.1,622.2 L351.6,617.5 L353.1,612.6 L354.6,607.6 L356.1,602.4 L357.6,597.0 L359.1,591.3 L360.6,585.4 L362.1,579.1 L363.6,572.6 L365.1,565.7 L366.6,558.4 L368.1,550.8 L369.7,543.0 L371.2,535.0 L372.7,526.9 L374.2,518.7 L375.7,510.6 L377.2,502.6 L378.7,494.9 L380.2,487.3 L381.7,480.2 L383.2,473.4 L384.7,466.9 L386.2,460.9 L387.7,455.1 L389.2,449.6 L390.7,444.3 L392.2,439.4 L393.7,434.8 L395.2,430.5 L396.7,426.6 L398.2,423.2 L399.7,420.1 L401.2,417.6 L402.7,415.6 L404.3,414.0 L405.8,413.1 L407.3,412.7 L408.8,413.0 L410.3,413.8 L411.8,415.2 L413.3,417.2 L414.8,419.6 L416.3,422.5 L417.8,425.7 L419.3,429.3 L420.8,433.2 L422.3,437.4 L423.8,441.8 L425.3,446.4 L426.8,451.1 L428.3,456.0 L429.8,460.9 L431.3,465.8 L432.8,470.7 L434.3,475.5 L435.8,480.2 L437.4,484.8 L438.9,489.2 L440.4,493.3 L441.9,497.1 L443.4,500.7 L444.9,503.9 L446.4,506.6 L447.9,509.0 L449.4,510.9 L450.9,512.4 L452.4,513.4 L453.9,514.1 L455.4,514.3 L456.9,514.1 L458.4,513.5 L459.9,512.4 L461.4,511.0 L462.9,509.1 L464.4,506.8 L465.9,504.1 L467.4,501.0 L468.9,497.5 L470.4,493.5 L472.0,489.2 L473.5,484.5 L475.0,479.4 L476.5,473.9 L478.0,468.1 L479.5,462.0 L481.0,455.5 L482.5,448.8 L484.0,441.8 L485.5,434.6 L487.0,427.1 L488.5,419.4 L490.0,411.5 L491.5,403.4 L493.0,395.2 L494.5,386.8 L496.0,378.3 L497.5,369.7 L499.0,361.0 L500.5,352.3 L502.0,343.5 L503.5,334.7 L505.0,325.8 L506.6,317.0 L508.1,308.2 L509.6,299.5 L511.1,290.8 L512.6,282.1 L514.1,273.6 L515.6,265.2 L517.1,257.0 L518.6,248.9 L520.1,240.9 L521.6,233.2 L523.1,225.7 L524.6,218.3 L526.1,211.3 L527.6,204.5 L529.1,197.9 L530.6,191.7 L532.1,185.8 L533.6,180.2 L535.1,175.0 L536.6,170.2 L538.1,165.7 L539.6,161.6 L541.2,157.8 L542.7,154.4 L544.2,151.3 L545.7,148.6 L547.2,146.2 L548.7,144.1 L550.2,142.4 L551.7,141.0 L553.2,139.9 L554.7,139.1 L556.2,138.6 L557.7,138.4 L559.2,138.5 L560.7,138.9 L562.2,139.6 L563.7,140.6 L565.2,141.8 L566.7,143.3 L568.2,145.1 L569.7,147.1 L571.2,149.4 L572.7,152.0 L574.2,155.1 L575.8,158.6 L577.3,162.7 L578.8,167.6 L580.3,173.2 L581.8,179.8 L583.3,187.3 L584.8,196.0 L586.3,205.8 L587.8,216.6 L589.3,228.1 L590.8,240.0 L592.3,251.8 L593.8,263.2 L595.3,274.2 L596.8,284.6 L598.3,294.6 L599.8,304.2 L601.3,313.4 L602.8,322.2 L604.3,330.5 L605.8,338.6 L607.3,346.3 L608.8,353.6 L610.4,360.6 L611.9,367.3 L613.4,373.7 L614.9,379.9 L616.4,385.7 L617.9,391.4 L619.4,396.8 L620.9,401.9 L622.4,406.9 L623.9,411.7 L625.4,416.3 L626.9,420.9 L628.4,425.3 L629.9,429.6 L631.4,433.8 L632.9,438.0 L634.4,442.2 L635.9,446.4 L637.4,450.6 L638.9,454.8 L640.4,459.1 L641.9,463.3 L643.4,467.6 L645.0,471.8 L646.5,476.0 L648.0,480.1 L649.5,484.1 L651.0,488.0 L652.5,491.7 L654.0,495.3 L655.5,498.7 L657.0,501.9 L658.5,504.9 L660.0,507.7 L661.5,510.4 L663.0,512.9 L664.5,515.3 L666.0,517.7 L667.5,520.0 L669.0,522.2 L670.5,524.5 L672.0,526.8 L673.5,529.1 L675.0,531.5 L676.5,533.8 L678.0,536.2 L679.6,538.6 L681.1,541.0 L682.6,543.3 L684.1,545.7 L685.6,548.1 L687.1,550.5 L688.6,552.9 L690.1,555.3 L691.6,557.6 L693.1,560.0 L694.6,562.3 L696.1,564.6 L697.6,566.9 L699.1,569.2 L700.6,571.4 L702.1,573.6 L703.6,575.7 L705.1,577.8 L706.6,579.9 L708.1,581.9 L709.6,583.8 L711.1,585.6 L712.6,587.3 L714.2,588.9 L715.7,590.5 L717.2,591.9 L718.7,593.2 L720.2,594.4 L721.7,595.4 L723.2,596.3 L724.7,597.1 L726.2,597.7 L727.7,598.1 L729.2,598.4 L730.7,598.5 L732.2,598.4 L733.7,598.1 L735.2,597.6 L736.7,597.0 L738.2,596.1 L739.7,595.1 L741.2,593.9 L742.7,592.4 L744.2,590.8 L745.7,589.0 L747.2,587.1 L748.8,584.9 L750.3,582.5 L751.8,579.9 L753.3,577.2 L754.8,574.2 L756.3,571.1 L757.8,567.7 L759.3,564.2 L760.8,560.5 L762.3,556.6 L763.8,552.6 L765.3,548.6 L766.8,544.7 L768.3,541.0 L769.8,537.5 L771.3,534.3 L772.8,531.6 L774.3,529.3 L775.8,527.6 L777.3,526.3 L778.8,525.4 L780.3,524.8 L781.8,524.6 L783.4,524.6 L784.9,524.9 L786.4,525.3 L787.9,525.8 L789.4,526.4 L790.9,527.0 L792.4,527.6 L793.9,528.1 L795.4,528.5 L796.9,528.7 L798.4,528.7 L799.9,528.5 L801.4,527.9 L802.9,527.0 L804.4,525.7 L805.9,524.0 L807.4,522.0 L808.9,519.5 L810.4,516.7 L811.9,513.3 L813.4,509.6 L814.9,505.5 L816.4,501.0 L818.0,496.2 L819.5,491.2 L821.0,486.0 L822.5,480.7 L824.0,475.3 L825.5,469.8 L827.0,464.3 L828.5,458.9 L830.0,453.6 L831.5,448.4 L833.0,443.5 L834.5,438.8 L836.0,434.4 L837.5,430.3 L839.0,426.6 L840.5,423.4 L842.0,420.6 L843.5,418.2 L845.0,416.1 L846.5,414.2 L848.0,412.3 L849.5,410.5 L851.0,408.6 L852.6,406.5 L854.1,404.1 L855.6,401.4 L857.1,398.5 L858.6,395.6 L860.1,392.7 L861.6,390.0 L863.1,387.5 L864.6,385.5 L866.1,384.1 L867.6,383.3 L869.1,383.3 L870.6,384.2 L872.1,386.2 L873.6,389.5 L875.1,394.1 L876.6,400.3 L878.1,407.9 L879.6,416.9 L881.1,426.8 L882.6,437.6 L884.1,448.9 L885.6,460.6 L887.2,472.4 L888.7,484.1 L890.2,495.6 L891.7,506.7 L893.2,517.3 L894.7,527.0 L896.2,535.9 L897.7,543.8 L899.2,550.9 L900.7,557.5 L902.2,564.0 L903.7,570.4 L905.2,576.8 L906.7,583.2 L908.2,589.5 L909.7,595.6 L911.2,601.6 L912.7,607.4 L914.2,612.9 L915.7,618.2 L917.2,623.2 L918.7,627.9 L920.2,632.2 L921.8,636.1 L923.3,639.7 L924.8,642.9 L926.3,646.0 L927.8,648.8 L929.3,651.3 L930.8,653.7 L932.3,656.0 L933.8,658.2 L935.3,660.3 L936.8,662.3 L938.3,664.3 L939.8,666.2 L941.3,668.1 L942.8,670.0 L944.3,671.8 L945.8,673.5 L947.3,675.2 L948.8,676.8 L950.3,678.4 L951.8,680.0 L953.3,681.5 L954.9,683.0 L956.4,684.4 L957.9,685.8 L959.4,687.1 L960.9,688.5 L962.4,689.7 L963.9,691.0 L965.4,692.2 L966.9,693.3 L968.4,694.4 L969.9,695.5 L971.4,696.6 L972.9,697.6 L974.4,698.6 L975.9,699.5 L977.4,700.5 L978.9,701.4 L980.4,702.2 L981.9,703.1 L983.4,703.9 L984.9,704.6 L986.4,705.4 L987.9,706.1 L989.5,706.8 L991.0,707.5 L992.5,708.2 L994.0,708.8 L995.5,709.4 L997.0,710.0 L998.5,710.6 L1000.0,711.2 L1001.5,711.7 L1003.0,712.2 L1004.5,712.7 L1006.0,713.2 L1007.5,713.7 L1009.0,714.2 L1010.5,714.6 L1012.0,715.0 L1013.5,715.5 L1015.0,715.9 L1016.5,716.3 L1018.0,716.7 L1019.5,717.1 L1021.0,717.4 L1022.5,717.8 L1024.1,718.2 L1025.6,718.5 L1027.1,718.9 L1028.6,719.2 L1030.1,719.6 L1031.6,719.9 L1033.1,720.3 L1034.6,720.6 L1036.1,720.9 L1037.6,721.3 L1039.1,721.6 L1040.6,722.0 L1042.1,722.3 L1043.6,722.7 L1045.1,723.0 L1046.6,723.4 L1048.1,723.8 L1049.6,724.1 L1051.1,724.5 L1052.6,724.9 L1054.1,725.3 L1055.6,725.6 L1057.1,726.0 L1058.7,726.4 L1060.2,726.8 L1061.7,727.2 L1063.2,727.6 L1064.7,728.0 L1066.2,728.4 L1067.7,728.7 L1069.2,729.1 L1070.7,729.5 L1072.2,729.9 L1073.7,730.3 L1075.2,730.7 L1076.7,731.1 L1078.2,731.5 L1079.7,731.9 L1081.2,732.3 L1082.7,732.7 L1084.2,733.1 L1085.7,733.5 L1087.2,733.9 L1088.7,734.3 L1090.2,734.7 L1091.7,735.1 L1093.3,735.5 L1094.8,735.9 L1096.3,736.3 L1097.8,736.6 L1099.3,737.0 L1100.8,737.4 L1102.3,737.8 L1103.8,738.1 L1105.3,738.5 L1106.8,738.9 L1108.3,739.2 L1109.8,739.6 L1111.3,739.9 L1112.8,740.3 L1114.3,740.6 L1115.8,741.0 L1117.3,741.3 L1118.8,741.7 L1120.3,742.0 L1121.8,742.3 L1123.3,742.6 L1124.8,742.9 L1126.3,743.2 L1127.9,743.5 L1129.4,743.8 L1130.9,744.1 L1132.4,744.4 L1133.9,744.7 L1135.4,745.0 L1136.9,745.2 L1138.4,745.5 L1139.9,745.7 L1141.4,746.0 L1142.9,746.2 L1144.4,746.4 L1145.9,746.6 L1147.4,746.8 L1148.9,747.0 L1150.4,747.2 L1151.9,747.4 L1153.4,747.6 L1154.9,747.8 L1156.4,747.9 L1157.9,748.1 L1159.4,748.2 L1160.9,748.3 L1162.5,748.5 L1164.0,748.6 L1165.5,748.7 L1167.0,748.8 L1168.5,748.8 L1170.0,748.9 L1171.5,749.0 L1173.0,749.0 L1174.5,749.0 L1176.0,749.1 L1177.5,749.1 L1179.0,749.1" fill="none" stroke="#ff0000" stroke-width="2.2" stroke-linejoin="round"/>
<path d="M178.6,749.7 L180.1,749.6 L181.6,749.4 L183.1,749.3 L184.6,749.1 L186.1,749.0 L187.6,748.8 L189.1,748.7 L190.6,748.5 L192.1,748.4 L193.6,748.2 L195.1,748.1 L196.7,747.9 L198.2,747.8 L199.7,747.6 L201.2,747.5 L202.7,747.3 L204.2,747.2 L205.7,747.1 L207.2,746.9 L208.7,746.8 L210.2,746.6 L211.7,746.4 L213.2,746.0 L214.7,745.6 L216.2,745.3 L217.7,745.0 L219.2,744.7 L220.7,744.5 L222.2,744.3 L223.7,744.2 L225.2,744.0 L226.7,743.9 L228.2,743.8 L229.7,743.7 L231.3,743.6 L232.8,743.6 L234.3,743.5 L235.8,743.5 L237.3,743.5 L238.8,743.5 L240.3,743.5 L241.8,743.5 L243.3,743.5 L244.8,743.5 L246.3,743.5 L247.8,743.5 L249.3,743.5 L250.8,743.5 L252.3,743.5 L253.8,743.5 L255.3,743.5 L256.8,743.4 L258.3,743.4 L259.8,743.3 L261.3,743.2 L262.8,743.1 L264.3,742.9 L265.9,742.8 L267.4,742.6 L268.9,742.3 L270.4,742.1 L271.9,741.8 L273.4,741.5 L274.9,741.2 L276.4,740.8 L277.9,740.4 L279.4,739.9 L280.9,739.4 L282.4,738.9 L283.9,738.3 L285.4,737.6 L286.9,736.9 L288.4,736.2 L289.9,735.4 L291.4,734.6 L292.9,733.7 L294.4,732.7 L295.9,731.7 L297.4,730.6 L298.9,729.4 L300.5,728.2 L302.0,727.0 L303.5,725.6 L305.0,724.2 L306.5,722.7 L308.0,721.1 L309.5,719.5 L311.0,717.8 L312.5,716.0 L314.0,714.1 L315.5,712.2 L317.0,710.1 L318.5,708.0 L320.0,705.8 L321.5,703.4 L323.0,701.0 L324.5,698.5 L326.0,695.9 L327.5,693.3 L329.0,690.5 L330.5,687.6 L332.0,684.7 L333.5,681.6 L335.1,678.5 L336.6,675.4 L338.1,672.0 L339.6,668.4 L341.1,664.4 L342.6,660.1 L344.1,655.4 L345.6,650.3 L347.1,644.9 L348.6,639.2 L350.1,633.2 L351.6,626.9 L353.1,620.5 L354.6,613.8 L356.1,606.9 L357.6,599.8 L359.1,592.6 L360.6,585.2 L362.1,577.8 L363.6,570.3 L365.1,562.7 L366.6,555.1 L368.1,547.5 L369.7,539.9 L371.2,532.3 L372.7,524.8 L374.2,517.3 L375.7,510.0 L377.2,502.8 L378.7,495.7 L380.2,488.8 L381.7,482.1 L383.2,475.6 L384.7,469.4 L386.2,463.4 L387.7,457.6 L389.2,452.2 L390.7,447.0 L392.2,442.2 L393.7,437.6 L395.2,433.5 L396.7,429.7 L398.2,426.3 L399.7,423.2 L401.2,420.6 L402.7,418.5 L404.3,416.8 L405.8,415.5 L407.3,414.7 L408.8,414.5 L410.3,414.7 L411.8,415.5 L413.3,416.8 L414.8,418.7 L416.3,421.2 L417.8,424.3 L419.3,427.8 L420.8,431.7 L422.3,436.1 L423.8,440.8 L425.3,445.8 L426.8,451.0 L428.3,456.4 L429.8,461.9 L431.3,467.6 L432.8,473.2 L434.3,478.9 L435.8,484.5 L437.4,489.9 L438.9,495.3 L440.4,500.4 L441.9,505.2 L443.4,509.8 L444.9,514.0 L446.4,517.9 L447.9,521.4 L449.4,524.5 L450.9,527.1 L452.4,529.2 L453.9,530.8 L455.4,531.8 L456.9,532.2 L458.4,531.9 L459.9,531.0 L461.4,529.5 L462.9,527.5 L464.4,525.0 L465.9,521.9 L467.4,518.5 L468.9,514.7 L470.4,510.5 L472.0,506.0 L473.5,501.2 L475.0,496.2 L476.5,491.1 L478.0,485.7 L479.5,480.3 L481.0,474.8 L482.5,469.3 L484.0,463.6 L485.5,457.8 L487.0,451.8 L488.5,445.6 L490.0,439.1 L491.5,432.4 L493.0,425.3 L494.5,417.9 L496.0,410.1 L497.5,401.9 L499.0,393.2 L500.5,384.1 L502.0,374.6 L503.5,364.8 L505.0,354.7 L506.6,344.6 L508.1,334.5 L509.6,324.4 L511.1,314.4 L512.6,304.7 L514.1,295.4 L515.6,286.4 L517.1,277.9 L518.6,270.1 L520.1,262.8 L521.6,256.1 L523.1,250.0 L524.6,244.4 L526.1,239.4 L527.6,234.9 L529.1,230.8 L530.6,227.2 L532.1,224.0 L533.6,221.3 L535.1,218.9 L536.6,217.0 L538.1,215.3 L539.6,214.1 L541.2,213.1 L542.7,212.4 L544.2,212.0 L545.7,211.9 L547.2,212.1 L548.7,212.6 L550.2,213.4 L551.7,214.4 L553.2,215.8 L554.7,217.4 L556.2,219.3 L557.7,221.4 L559.2,223.8 L560.7,226.6 L562.2,229.5 L563.7,232.8 L565.2,236.3 L566.7,240.1 L568.2,244.1 L569.7,248.4 L571.2,252.9 L572.7,257.7 L574.2,262.7 L575.8,268.0 L577.3,273.5 L578.8,279.3 L580.3,285.2 L581.8,291.4 L583.3,297.8 L584.8,304.3 L586.3,310.8 L587.8,317.4 L589.3,324.0 L590.8,330.6 L592.3,337.0 L593.8,343.4 L595.3,349.5 L596.8,355.6 L598.3,361.5 L599.8,367.2 L601.3,372.8 L602.8,378.3 L604.3,383.6 L605.8,388.9 L607.3,394.0 L608.8,399.0 L610.4,403.9 L611.9,408.6 L613.4,413.3 L614.9,417.9 L616.4,422.3 L617.9,426.7 L619.4,431.0 L620.9,435.2 L622.4,439.3 L623.9,443.3 L625.4,447.3 L626.9,451.2 L628.4,455.0 L629.9,458.8 L631.4,462.5 L632.9,466.2 L634.4,469.8 L635.9,473.4 L637.4,477.0 L638.9,480.7 L640.4,484.4 L641.9,488.2 L643.4,492.0 L645.0,495.8 L646.5,499.7 L648.0,503.5 L649.5,507.3 L651.0,511.1 L652.5,514.7 L654.0,518.3 L655.5,521.7 L657.0,525.0 L658.5,528.2 L660.0,531.2 L661.5,534.2 L663.0,537.0 L664.5,539.8 L666.0,542.4 L667.5,544.9 L669.0,547.4 L670.5,549.7 L672.0,552.0 L673.5,554.2 L675.0,556.4 L676.5,558.4 L678.0,560.4 L679.6,562.4 L681.1,564.3 L682.6,566.2 L684.1,568.0 L685.6,569.8 L687.1,571.6 L688.6,573.3 L690.1,575.0 L691.6,576.7 L693.1,578.4 L694.6,580.1 L696.1,581.8 L697.6,583.5 L699.1,585.2 L700.6,586.9 L702.1,588.6 L703.6,590.4 L705.1,592.2 L706.6,594.0 L708.1,595.8 L709.6,597.6 L711.1,599.4 L712.6,601.2 L714.2,602.8 L715.7,604.5 L717.2,606.0 L718.7,607.5 L720.2,608.8 L721.7,610.0 L723.2,611.1 L724.7,612.0 L726.2,612.7 L727.7,613.3 L729.2,613.6 L730.7,613.7 L732.2,613.6 L733.7,613.3 L735.2,612.8 L736.7,612.0 L738.2,611.0 L739.7,609.8 L741.2,608.4 L742.7,606.8 L744.2,605.0 L745.7,603.0 L747.2,600.8 L748.8,598.5 L750.3,595.9 L751.8,593.3 L753.3,590.4 L754.8,587.4 L756.3,584.2 L757.8,580.9 L759.3,577.5 L760.8,573.9 L762.3,570.2 L763.8,566.4 L765.3,562.6 L766.8,558.9 L768.3,555.2 L769.8,551.6 L771.3,548.3 L772.8,545.1 L774.3,542.2 L775.8,539.5 L777.3,537.3 L778.8,535.4 L780.3,534.0 L781.8,533.0 L783.4,532.5 L784.9,532.3 L786.4,532.4 L787.9,532.8 L789.4,533.3 L790.9,534.0 L792.4,534.7 L793.9,535.5 L795.4,536.2 L796.9,536.8 L798.4,537.2 L799.9,537.4 L801.4,537.3 L802.9,536.9 L804.4,536.1 L805.9,534.9 L807.4,533.1 L808.9,530.7 L810.4,527.8 L811.9,524.2 L813.4,520.3 L814.9,515.9 L816.4,511.1 L818.0,506.2 L819.5,501.0 L821.0,495.7 L822.5,490.4 L824.0,485.1 L825.5,479.9 L827.0,474.9 L828.5,470.2 L830.0,465.8 L831.5,461.7 L833.0,458.0 L834.5,454.6 L836.0,451.6 L837.5,448.9 L839.0,446.6 L840.5,444.6 L842.0,443.0 L843.5,441.6 L845.0,440.6 L846.5,440.0 L848.0,439.6 L849.5,439.6 L851.0,439.8 L852.6,440.4 L854.1,441.2 L855.6,442.4 L857.1,443.8 L858.6,445.4 L860.1,447.4 L861.6,449.6 L863.1,452.0 L864.6,454.7 L866.1,457.6 L867.6,460.7 L869.1,464.0 L870.6,467.6 L872.1,471.4 L873.6,475.5 L875.1,480.0 L876.6,484.8 L878.1,490.2 L879.6,495.9 L881.1,502.2 L882.6,508.8 L884.1,515.7 L885.6,522.7 L887.2,529.8 L888.7,536.9 L890.2,543.8 L891.7,550.5 L893.2,556.9 L894.7,563.1 L896.2,569.0 L897.7,574.7 L899.2,580.1 L900.7,585.3 L902.2,590.3 L903.7,595.2 L905.2,599.8 L906.7,604.3 L908.2,608.6 L909.7,612.8 L911.2,616.8 L912.7,620.6 L914.2,624.4 L915.7,627.9 L917.2,631.4 L918.7,634.7 L920.2,637.9 L921.8,641.0 L923.3,643.9 L924.8,646.8 L926.3,649.5 L927.8,652.1 L929.3,654.6 L930.8,657.0 L932.3,659.3 L933.8,661.5 L935.3,663.6 L936.8,665.6 L938.3,667.5 L939.8,669.3 L941.3,671.0 L942.8,672.7 L944.3,674.3 L945.8,675.8 L947.3,677.2 L948.8,678.6 L950.3,679.9 L951.8,681.2 L953.3,682.4 L954.9,683.5 L956.4,684.6 L957.9,685.6 L959.4,686.6 L960.9,687.6 L962.4,688.5 L963.9,689.4 L965.4,690.2 L966.9,691.0 L968.4,691.8 L969.9,692.6 L971.4,693.4 L972.9,694.1 L974.4,694.8 L975.9,695.5 L977.4,696.2 L978.9,696.9 L980.4,697.6 L981.9,698.3 L983.4,699.0 L984.9,699.7 L986.4,700.4 L987.9,701.1 L989.5,701.7 L991.0,702.4 L992.5,703.1 L994.0,703.7 L995.5,704.4 L997.0,705.1 L998.5,705.7 L1000.0,706.4 L1001.5,707.0 L1003.0,707.7 L1004.5,708.3 L1006.0,708.9 L1007.5,709.6 L1009.0,710.2 L1010.5,710.8 L1012.0,711.4 L1013.5,712.0 L1015.0,712.6 L1016.5,713.3 L1018.0,713.9 L1019.5,714.4 L1021.0,715.0 L1022.5,715.6 L1024.1,716.2 L1025.6,716.8 L1027.1,717.4 L1028.6,717.9 L1030.1,718.5 L1031.6,719.1 L1033.1,719.6 L1034.6,720.2 L1036.1,720.7 L1037.6,721.2 L1039.1,721.8 L1040.6,722.3 L1042.1,722.8 L1043.6,723.4 L1045.1,723.9 L1046.6,724.4 L1048.1,724.9 L1049.6,725.4 L1051.1,725.9 L1052.6,726.4 L1054.1,726.9 L1055.6,727.3 L1057.1,727.8 L1058.7,728.3 L1060.2,728.8 L1061.7,729.2 L1063.2,729.7 L1064.7,730.1 L1066.2,730.6 L1067.7,731.0 L1069.2,731.4 L1070.7,731.8 L1072.2,732.3 L1073.7,732.7 L1075.2,733.1 L1076.7,733.5 L1078.2,733.9 L1079.7,734.3 L1081.2,734.7 L1082.7,735.0 L1084.2,735.4 L1085.7,735.8 L1087.2,736.1 L1088.7,736.5 L1090.2,736.9 L1091.7,737.2 L1093.3,737.5 L1094.8,737.9 L1096.3,738.2 L1097.8,738.5 L1099.3,738.8 L1100.8,739.1 L1102.3,739.4 L1103.8,739.7 L1105.3,740.0 L1106.8,740.3 L1108.3,740.6 L1109.8,740.8 L1111.3,741.1 L1112.8,741.3 L1114.3,741.6 L1115.8,741.8 L1117.3,742.1 L1118.8,742.3 L1120.3,742.5 L1121.8,742.7 L1123.3,742.9 L1124.8,743.1 L1126.3,743.3 L1127.9,743.5 L1129.4,743.7 L1130.9,744.1 L1132.4,744.3 L1133.9,744.5 L1135.4,744.6 L1136.9,744.8 L1138.4,745.0 L1139.9,745.2 L1141.4,745.3 L1142.9,745.5 L1144.4,745.7 L1145.9,745.9 L1147.4,746.0 L1148.9,746.2 L1150.4,746.4 L1151.9,746.6 L1153.4,746.7 L1154.9,746.9 L1156.4,747.1 L1157.9,747.3 L1159.4,747.4 L1160.9,747.6 L1162.5,747.8 L1164.0,748.0 L1165.5,748.1 L1167.0,748.3 L1168.5,748.5 L1170.0,748.7 L1171.5,748.8 L1173.0,749.0 L1174.5,749.2 L1176.0,749.4 L1177.5,749.5 L1179.0,749.7" fill="none" stroke="#000000" stroke-width="2.2" stroke-linejoin="round"/>
<path d="M1472.6,743.0 L1474.1,742.8 L1475.6,742.6 L1477.1,742.4 L1478.6,742.3 L1480.1,742.1 L1481.6,741.9 L1483.1,741.7 L1484.6,741.4 L1486.1,741.2 L1487.6,741.0 L1489.1,740.8 L1490.6,740.6 L1492.1,740.3 L1493.6,740.1 L1495.1,739.9 L1496.6,739.6 L1498.1,739.4 L1499.6,739.1 L1501.2,738.8 L1502.7,738.6 L1504.2,738.3 L1505.7,738.0 L1507.2,737.7 L1508.7,737.4 L1510.2,737.2 L1511.7,736.8 L1513.2,736.5 L1514.7,736.2 L1516.2,735.9 L1517.7,735.6 L1519.2,735.3 L1520.7,734.9 L1522.2,734.6 L1523.7,734.2 L1525.2,733.9 L1526.7,733.5 L1528.2,733.1 L1529.7,732.7 L1531.2,732.4 L1532.7,732.0 L1534.2,731.6 L1535.7,731.2 L1537.2,730.7 L1538.7,730.3 L1540.2,729.9 L1541.7,729.5 L1543.2,729.0 L1544.7,728.6 L1546.2,728.1 L1547.7,727.6 L1549.2,727.2 L1550.7,726.7 L1552.2,726.2 L1553.7,725.7 L1555.2,725.2 L1556.8,724.7 L1558.3,724.2 L1559.8,723.6 L1561.3,723.1 L1562.8,722.5 L1564.3,722.0 L1565.8,721.4 L1567.3,720.8 L1568.8,720.3 L1570.3,719.7 L1571.8,719.1 L1573.3,718.4 L1574.8,717.8 L1576.3,717.2 L1577.8,716.6 L1579.3,715.9 L1580.8,715.2 L1582.3,714.6 L1583.8,713.9 L1585.3,713.2 L1586.8,712.5 L1588.3,711.7 L1589.8,711.0 L1591.3,710.2 L1592.8,709.5 L1594.3,708.7 L1595.8,707.8 L1597.3,707.0 L1598.8,706.2 L1600.3,705.3 L1601.8,704.4 L1603.3,703.5 L1604.8,702.5 L1606.3,701.6 L1607.8,700.6 L1609.3,699.6 L1610.8,698.6 L1612.4,697.5 L1613.9,696.4 L1615.4,695.3 L1616.9,694.1 L1618.4,693.0 L1619.9,691.8 L1621.4,690.5 L1622.9,689.3 L1624.4,687.9 L1625.9,686.6 L1627.4,685.2 L1628.9,683.8 L1630.4,682.3 L1631.9,680.9 L1633.4,679.4 L1634.9,677.8 L1636.4,676.2 L1637.9,674.7 L1639.4,673.0 L1640.9,671.4 L1642.4,669.7 L1643.9,668.0 L1645.4,666.2 L1646.9,664.4 L1648.4,662.5 L1649.9,660.6 L1651.4,658.7 L1652.9,656.7 L1654.4,654.9 L1655.9,653.0 L1657.4,651.2 L1658.9,649.5 L1660.4,647.8 L1661.9,646.1 L1663.4,644.6 L1664.9,643.1 L1666.5,641.6 L1668.0,640.2 L1669.5,638.9 L1671.0,637.6 L1672.5,636.3 L1674.0,635.1 L1675.5,633.9 L1677.0,632.8 L1678.5,631.7 L1680.0,630.6 L1681.5,629.6 L1683.0,628.6 L1684.5,627.7 L1686.0,626.8 L1687.5,626.0 L1689.0,625.2 L1690.5,624.6 L1692.0,624.0 L1693.5,623.4 L1695.0,623.0 L1696.5,622.7 L1698.0,622.4 L1699.5,622.2 L1701.0,622.1 L1702.5,622.0 L1704.0,622.0 L1705.5,622.1 L1707.0,622.3 L1708.5,622.5 L1710.0,622.8 L1711.5,623.2 L1713.0,623.6 L1714.5,624.1 L1716.0,624.6 L1717.5,625.1 L1719.0,625.8 L1720.5,626.4 L1722.1,627.1 L1723.6,627.9 L1725.1,628.7 L1726.6,629.4 L1728.1,630.1 L1729.6,630.8 L1731.1,631.3 L1732.6,631.7 L1734.1,631.9 L1735.6,632.1 L1737.1,632.2 L1738.6,632.1 L1740.1,631.9 L1741.6,631.6 L1743.1,631.2 L1744.6,630.6 L1746.1,629.9 L1747.6,629.1 L1749.1,628.2 L1750.6,627.2 L1752.1,626.1 L1753.6,624.9 L1755.1,623.6 L1756.6,622.3 L1758.1,620.9 L1759.6,619.5 L1761.1,618.0 L1762.6,616.5 L1764.1,614.8 L1765.6,613.2 L1767.1,611.4 L1768.6,609.6 L1770.1,607.7 L1771.6,605.8 L1773.1,603.8 L1774.6,601.8 L1776.1,599.8 L1777.7,597.8 L1779.2,595.8 L1780.7,593.9 L1782.2,592.0 L1783.7,590.1 L1785.2,588.2 L1786.7,586.4 L1788.2,584.6 L1789.7,582.9 L1791.2,581.2 L1792.7,579.5 L1794.2,577.9 L1795.7,576.3 L1797.2,574.7 L1798.7,573.2 L1800.2,571.7 L1801.7,570.3 L1803.2,568.8 L1804.7,567.4 L1806.2,566.0 L1807.7,564.7 L1809.2,563.4 L1810.7,562.1 L1812.2,560.8 L1813.7,559.5 L1815.2,558.3 L1816.7,557.1 L1818.2,555.9 L1819.7,554.7 L1821.2,553.5 L1822.7,552.4 L1824.2,551.2 L1825.7,550.1 L1827.2,549.1 L1828.7,548.2 L1830.2,547.4 L1831.7,546.7 L1833.3,546.2 L1834.8,545.7 L1836.3,545.4 L1837.8,545.1 L1839.3,544.9 L1840.8,544.8 L1842.3,544.7 L1843.8,544.7 L1845.3,544.7 L1846.8,544.9 L1848.3,545.1 L1849.8,545.5 L1851.3,545.9 L1852.8,546.5 L1854.3,547.2 L1855.8,548.1 L1857.3,549.1 L1858.8,550.2 L1860.3,551.5 L1861.8,552.9 L1863.3,554.5 L1864.8,556.2 L1866.3,558.0 L1867.8,560.0 L1869.3,562.2 L1870.8,564.4 L1872.3,566.8 L1873.8,569.3 L1875.3,571.8 L1876.8,574.5 L1878.3,577.2 L1879.8,580.0 L1881.3,582.8 L1882.8,585.6 L1884.3,588.5 L1885.8,591.4 L1887.3,594.2 L1888.9,597.1 L1890.4,599.9 L1891.9,602.7 L1893.4,605.5 L1894.9,608.2 L1896.4,610.8 L1897.9,613.3 L1899.4,615.7 L1900.9,618.0 L1902.4,620.2 L1903.9,622.3 L1905.4,624.3 L1906.9,626.1 L1908.4,627.9 L1909.9,629.6 L1911.4,631.2 L1912.9,632.7 L1914.4,634.1 L1915.9,635.5 L1917.4,636.7 L1918.9,638.0 L1920.4,639.1 L1921.9,640.3 L1923.4,641.3 L1924.9,642.4 L1926.4,643.4 L1927.9,644.3 L1929.4,645.3 L1930.9,646.2 L1932.4,647.1 L1933.9,648.0 L1935.4,648.8 L1936.9,649.6 L1938.4,650.4 L1939.9,651.2 L1941.4,652.0 L1942.9,652.7 L1944.5,653.5 L1946.0,654.2 L1947.5,654.9 L1949.0,655.5 L1950.5,656.2 L1952.0,656.9 L1953.5,657.5 L1955.0,658.2 L1956.5,658.8 L1958.0,659.4 L1959.5,660.1 L1961.0,660.7 L1962.5,661.3 L1964.0,661.9 L1965.5,662.6 L1967.0,663.2 L1968.5,663.8 L1970.0,664.5 L1971.5,665.1 L1973.0,665.7 L1974.5,666.4 L1976.0,667.0 L1977.5,667.6 L1979.0,668.3 L1980.5,668.9 L1982.0,669.5 L1983.5,670.1 L1985.0,670.7 L1986.5,671.3 L1988.0,671.9 L1989.5,672.5 L1991.0,673.0 L1992.5,673.6 L1994.0,674.1 L1995.5,674.6 L1997.0,675.1 L1998.6,675.5 L2000.1,676.0 L2001.6,676.4 L2003.1,676.8 L2004.6,677.2 L2006.1,677.5 L2007.6,677.8 L2009.1,678.1 L2010.6,678.4 L2012.1,678.6 L2013.6,678.8 L2015.1,679.0 L2016.6,679.1 L2018.1,679.2 L2019.6,679.3 L2021.1,679.3 L2022.6,679.3 L2024.1,679.2 L2025.6,679.1 L2027.1,679.0 L2028.6,678.9 L2030.1,678.7 L2031.6,678.4 L2033.1,678.1 L2034.6,677.8 L2036.1,677.4 L2037.6,677.0 L2039.1,676.5 L2040.6,676.0 L2042.1,675.4 L2043.6,674.8 L2045.1,674.1 L2046.6,673.4 L2048.1,672.6 L2049.6,671.7 L2051.1,670.8 L2052.6,669.9 L2054.2,668.8 L2055.7,667.8 L2057.2,666.8 L2058.7,665.8 L2060.2,664.8 L2061.7,664.0 L2063.2,663.4 L2064.7,662.9 L2066.2,662.5 L2067.7,662.4 L2069.2,662.3 L2070.7,662.3 L2072.2,662.5 L2073.7,662.6 L2075.2,662.8 L2076.7,663.0 L2078.2,663.3 L2079.7,663.5 L2081.2,663.7 L2082.7,663.8 L2084.2,664.0 L2085.7,664.0 L2087.2,664.0 L2088.7,663.9 L2090.2,663.6 L2091.7,663.3 L2093.2,662.8 L2094.7,662.2 L2096.2,661.6 L2097.7,660.8 L2099.2,660.0 L2100.7,659.1 L2102.2,658.2 L2103.7,657.1 L2105.2,656.1 L2106.7,654.9 L2108.2,653.8 L2109.8,652.6 L2111.3,651.3 L2112.8,650.1 L2114.3,648.8 L2115.8,647.5 L2117.3,646.3 L2118.8,645.1 L2120.3,643.9 L2121.8,642.7 L2123.3,641.6 L2124.8,640.6 L2126.3,639.6 L2127.8,638.7 L2129.3,637.8 L2130.8,637.1 L2132.3,636.4 L2133.8,635.8 L2135.3,635.3 L2136.8,635.0 L2138.3,634.7 L2139.8,634.5 L2141.3,634.4 L2142.8,634.4 L2144.3,634.3 L2145.8,634.4 L2147.3,634.4 L2148.8,634.5 L2150.3,634.5 L2151.8,634.5 L2153.3,634.5 L2154.8,634.5 L2156.3,634.6 L2157.8,634.8 L2159.3,635.1 L2160.8,635.5 L2162.3,636.2 L2163.8,637.1 L2165.4,638.2 L2166.9,639.6 L2168.4,641.2 L2169.9,643.0 L2171.4,645.1 L2172.9,647.4 L2174.4,650.0 L2175.9,652.7 L2177.4,655.5 L2178.9,658.5 L2180.4,661.6 L2181.9,664.7 L2183.4,667.9 L2184.9,671.0 L2186.4,674.1 L2187.9,677.1 L2189.4,680.0 L2190.9,682.7 L2192.4,685.3 L2193.9,687.8 L2195.4,690.2 L2196.9,692.4 L2198.4,694.5 L2199.9,696.5 L2201.4,698.3 L2202.9,700.1 L2204.4,701.7 L2205.9,703.2 L2207.4,704.6 L2208.9,705.9 L2210.4,707.1 L2211.9,708.2 L2213.4,709.3 L2214.9,710.2 L2216.4,711.1 L2217.9,711.9 L2219.4,712.7 L2221.0,713.5 L2222.5,714.1 L2224.0,714.8 L2225.5,715.5 L2227.0,716.1 L2228.5,716.7 L2230.0,717.3 L2231.5,717.9 L2233.0,718.5 L2234.5,719.1 L2236.0,719.7 L2237.5,720.2 L2239.0,720.8 L2240.5,721.3 L2242.0,721.8 L2243.5,722.3 L2245.0,722.8 L2246.5,723.2 L2248.0,723.6 L2249.5,724.1 L2251.0,724.5 L2252.5,724.9 L2254.0,725.2 L2255.5,725.6 L2257.0,726.0 L2258.5,726.3 L2260.0,726.7 L2261.5,727.0 L2263.0,727.3 L2264.5,727.6 L2266.0,728.0 L2267.5,728.3 L2269.0,728.6 L2270.5,728.9 L2272.0,729.1 L2273.5,729.4 L2275.0,729.7 L2276.6,730.0 L2278.1,730.2 L2279.6,730.5 L2281.1,730.7 L2282.6,731.0 L2284.1,731.2 L2285.6,731.5 L2287.1,731.7 L2288.6,731.9 L2290.1,732.1 L2291.6,732.4 L2293.1,732.6 L2294.6,732.8 L2296.1,733.0 L2297.6,733.2 L2299.1,733.4 L2300.6,733.6 L2302.1,733.8 L2303.6,734.0 L2305.1,734.2 L2306.6,734.4 L2308.1,734.5 L2309.6,734.7 L2311.1,734.9 L2312.6,735.1 L2314.1,735.2 L2315.6,735.4 L2317.1,735.6 L2318.6,735.7 L2320.1,735.9 L2321.6,736.0 L2323.1,736.2 L2324.6,736.3 L2326.1,736.5 L2327.6,736.6 L2329.1,736.8 L2330.7,736.9 L2332.2,737.1 L2333.7,737.2 L2335.2,737.3 L2336.7,737.5 L2338.2,737.6 L2339.7,737.7 L2341.2,737.8 L2342.7,738.0 L2344.2,738.1 L2345.7,738.2 L2347.2,738.4 L2348.7,738.5 L2350.2,738.6 L2351.7,738.7 L2353.2,738.9 L2354.7,739.0 L2356.2,739.1 L2357.7,739.2 L2359.2,739.3 L2360.7,739.4 L2362.2,739.6 L2363.7,739.7 L2365.2,739.8 L2366.7,739.9 L2368.2,740.0 L2369.7,740.1 L2371.2,740.2 L2372.7,740.3 L2374.2,740.3 L2375.7,740.4 L2377.2,740.5 L2378.7,740.6 L2380.2,740.7 L2381.7,740.7 L2383.2,740.8 L2384.7,740.9 L2386.3,741.0 L2387.8,741.0 L2389.3,741.1 L2390.8,741.1 L2392.3,741.2 L2393.8,741.3 L2395.3,741.3 L2396.8,741.4 L2398.3,741.4 L2399.8,741.5 L2401.3,741.6 L2402.8,741.6 L2404.3,741.7 L2405.8,741.7 L2407.3,741.7 L2408.8,741.8 L2410.3,741.8 L2411.8,741.9 L2413.3,741.9 L2414.8,741.9 L2416.3,742.0 L2417.8,742.0 L2419.3,742.0 L2420.8,742.1 L2422.3,742.1 L2423.8,742.1 L2425.3,742.1 L2426.8,742.2 L2428.3,742.2 L2429.8,742.2 L2431.3,742.3 L2432.8,742.3 L2434.3,742.3 L2435.8,742.4 L2437.3,742.4 L2438.8,742.4 L2440.3,742.4 L2441.9,742.5 L2443.4,742.5 L2444.9,742.5 L2446.4,742.6 L2447.9,742.6 L2449.4,742.6 L2450.9,742.7 L2452.4,742.7 L2453.9,742.7 L2455.4,742.8 L2456.9,742.8 L2458.4,742.9 L2459.9,742.9 L2461.4,742.9 L2462.9,743.0 L2464.4,743.0 L2465.9,743.0 L2467.4,743.1 L2468.9,743.1" fill="none" stroke="#800000" stroke-width="2.2" stroke-linejoin="round"/>
<path d="M1472.6,743.4 L1474.1,743.0 L1475.6,742.6 L1477.1,742.2 L1478.6,741.9 L1480.1,741.6 L1481.6,741.2 L1483.1,740.9 L1484.6,740.7 L1486.1,740.4 L1487.6,740.2 L1489.1,739.9 L1490.6,739.7 L1492.1,739.5 L1493.6,739.4 L1495.1,739.2 L1496.6,739.0 L1498.1,738.8 L1499.6,738.7 L1501.2,738.5 L1502.7,738.3 L1504.2,738.1 L1505.7,737.9 L1507.2,737.6 L1508.7,737.4 L1510.2,737.1 L1511.7,736.8 L1513.2,736.5 L1514.7,736.1 L1516.2,735.8 L1517.7,735.5 L1519.2,735.2 L1520.7,734.9 L1522.2,734.6 L1523.7,734.3 L1525.2,734.0 L1526.7,733.7 L1528.2,733.4 L1529.7,733.1 L1531.2,732.8 L1532.7,732.6 L1534.2,732.3 L1535.7,732.0 L1537.2,731.7 L1538.7,731.4 L1540.2,731.1 L1541.7,730.9 L1543.2,730.6 L1544.7,730.3 L1546.2,730.0 L1547.7,729.7 L1549.2,729.3 L1550.7,729.0 L1552.2,728.7 L1553.7,728.3 L1555.2,727.9 L1556.8,727.6 L1558.3,727.2 L1559.8,726.7 L1561.3,726.3 L1562.8,725.9 L1564.3,725.4 L1565.8,724.9 L1567.3,724.4 L1568.8,723.8 L1570.3,723.3 L1571.8,722.7 L1573.3,722.1 L1574.8,721.4 L1576.3,720.8 L1577.8,720.1 L1579.3,719.4 L1580.8,718.6 L1582.3,717.9 L1583.8,717.1 L1585.3,716.3 L1586.8,715.5 L1588.3,714.7 L1589.8,713.8 L1591.3,712.9 L1592.8,712.1 L1594.3,711.2 L1595.8,710.2 L1597.3,709.3 L1598.8,708.3 L1600.3,707.4 L1601.8,706.4 L1603.3,705.3 L1604.8,704.3 L1606.3,703.2 L1607.8,702.0 L1609.3,700.8 L1610.8,699.6 L1612.4,698.3 L1613.9,697.0 L1615.4,695.6 L1616.9,694.2 L1618.4,692.8 L1619.9,691.2 L1621.4,689.7 L1622.9,688.0 L1624.4,686.4 L1625.9,684.7 L1627.4,682.9 L1628.9,681.1 L1630.4,679.2 L1631.9,677.3 L1633.4,675.3 L1634.9,673.3 L1636.4,671.2 L1637.9,669.0 L1639.4,666.8 L1640.9,664.5 L1642.4,662.1 L1643.9,659.7 L1645.4,657.1 L1646.9,654.5 L1648.4,651.8 L1649.9,649.1 L1651.4,646.4 L1652.9,643.7 L1654.4,641.1 L1655.9,638.5 L1657.4,636.1 L1658.9,633.7 L1660.4,631.4 L1661.9,629.3 L1663.4,627.2 L1664.9,625.4 L1666.5,623.6 L1668.0,622.0 L1669.5,620.4 L1671.0,618.9 L1672.5,617.6 L1674.0,616.2 L1675.5,615.0 L1677.0,613.8 L1678.5,612.6 L1680.0,611.6 L1681.5,610.5 L1683.0,609.6 L1684.5,608.6 L1686.0,607.8 L1687.5,607.1 L1689.0,606.4 L1690.5,605.8 L1692.0,605.3 L1693.5,604.9 L1695.0,604.6 L1696.5,604.3 L1698.0,604.1 L1699.5,604.0 L1701.0,604.0 L1702.5,604.0 L1704.0,604.0 L1705.5,604.2 L1707.0,604.4 L1708.5,604.7 L1710.0,605.1 L1711.5,605.6 L1713.0,606.1 L1714.5,606.8 L1716.0,607.5 L1717.5,608.3 L1719.0,609.2 L1720.5,610.1 L1722.1,611.2 L1723.6,612.3 L1725.1,613.5 L1726.6,614.6 L1728.1,615.7 L1729.6,616.7 L1731.1,617.5 L1732.6,618.2 L1734.1,618.8 L1735.6,619.3 L1737.1,619.7 L1738.6,620.1 L1740.1,620.3 L1741.6,620.4 L1743.1,620.4 L1744.6,620.2 L1746.1,619.8 L1747.6,619.3 L1749.1,618.6 L1750.6,617.8 L1752.1,616.7 L1753.6,615.5 L1755.1,614.1 L1756.6,612.6 L1758.1,610.8 L1759.6,609.0 L1761.1,607.0 L1762.6,604.9 L1764.1,602.7 L1765.6,600.3 L1767.1,598.0 L1768.6,595.5 L1770.1,593.0 L1771.6,590.4 L1773.1,587.8 L1774.6,585.2 L1776.1,582.6 L1777.7,580.0 L1779.2,577.4 L1780.7,574.8 L1782.2,572.2 L1783.7,569.6 L1785.2,567.0 L1786.7,564.5 L1788.2,561.9 L1789.7,559.4 L1791.2,556.9 L1792.7,554.5 L1794.2,552.0 L1795.7,549.5 L1797.2,547.1 L1798.7,544.7 L1800.2,542.3 L1801.7,539.9 L1803.2,537.5 L1804.7,535.2 L1806.2,532.8 L1807.7,530.5 L1809.2,528.2 L1810.7,525.9 L1812.2,523.6 L1813.7,521.4 L1815.2,519.2 L1816.7,517.0 L1818.2,514.8 L1819.7,512.6 L1821.2,510.5 L1822.7,508.4 L1824.2,506.4 L1825.7,504.4 L1827.2,502.5 L1828.7,500.8 L1830.2,499.3 L1831.7,498.0 L1833.3,496.9 L1834.8,496.0 L1836.3,495.2 L1837.8,494.6 L1839.3,494.1 L1840.8,493.8 L1842.3,493.5 L1843.8,493.4 L1845.3,493.4 L1846.8,493.6 L1848.3,493.9 L1849.8,494.3 L1851.3,494.9 L1852.8,495.6 L1854.3,496.5 L1855.8,497.6 L1857.3,498.9 L1858.8,500.3 L1860.3,501.9 L1861.8,503.7 L1863.3,505.7 L1864.8,507.9 L1866.3,510.3 L1867.8,512.8 L1869.3,515.5 L1870.8,518.4 L1872.3,521.4 L1873.8,524.6 L1875.3,527.8 L1876.8,531.2 L1878.3,534.6 L1879.8,538.1 L1881.3,541.7 L1882.8,545.3 L1884.3,549.0 L1885.8,552.6 L1887.3,556.3 L1888.9,559.9 L1890.4,563.5 L1891.9,567.0 L1893.4,570.5 L1894.9,573.9 L1896.4,577.3 L1897.9,580.5 L1899.4,583.5 L1900.9,586.5 L1902.4,589.3 L1903.9,591.9 L1905.4,594.4 L1906.9,596.8 L1908.4,599.1 L1909.9,601.2 L1911.4,603.3 L1912.9,605.2 L1914.4,607.0 L1915.9,608.8 L1917.4,610.4 L1918.9,612.0 L1920.4,613.5 L1921.9,615.0 L1923.4,616.4 L1924.9,617.7 L1926.4,619.0 L1927.9,620.3 L1929.4,621.5 L1930.9,622.7 L1932.4,623.9 L1933.9,625.1 L1935.4,626.2 L1936.9,627.3 L1938.4,628.4 L1939.9,629.5 L1941.4,630.5 L1942.9,631.6 L1944.5,632.6 L1946.0,633.6 L1947.5,634.6 L1949.0,635.6 L1950.5,636.5 L1952.0,637.5 L1953.5,638.4 L1955.0,639.3 L1956.5,640.3 L1958.0,641.2 L1959.5,642.1 L1961.0,643.0 L1962.5,643.9 L1964.0,644.9 L1965.5,645.8 L1967.0,646.7 L1968.5,647.6 L1970.0,648.5 L1971.5,649.4 L1973.0,650.3 L1974.5,651.2 L1976.0,652.1 L1977.5,653.0 L1979.0,653.9 L1980.5,654.8 L1982.0,655.6 L1983.5,656.5 L1985.0,657.3 L1986.5,658.1 L1988.0,658.9 L1989.5,659.7 L1991.0,660.4 L1992.5,661.2 L1994.0,661.9 L1995.5,662.6 L1997.0,663.2 L1998.6,663.8 L2000.1,664.4 L2001.6,665.0 L2003.1,665.5 L2004.6,666.0 L2006.1,666.5 L2007.6,666.9 L2009.1,667.3 L2010.6,667.6 L2012.1,667.9 L2013.6,668.2 L2015.1,668.4 L2016.6,668.5 L2018.1,668.6 L2019.6,668.7 L2021.1,668.7 L2022.6,668.7 L2024.1,668.6 L2025.6,668.5 L2027.1,668.3 L2028.6,668.0 L2030.1,667.7 L2031.6,667.4 L2033.1,667.0 L2034.6,666.5 L2036.1,665.9 L2037.6,665.3 L2039.1,664.6 L2040.6,663.9 L2042.1,663.1 L2043.6,662.2 L2045.1,661.3 L2046.6,660.2 L2048.1,659.2 L2049.6,658.0 L2051.1,656.8 L2052.6,655.5 L2054.2,654.1 L2055.7,652.8 L2057.2,651.4 L2058.7,650.0 L2060.2,648.8 L2061.7,647.7 L2063.2,646.8 L2064.7,646.1 L2066.2,645.7 L2067.7,645.4 L2069.2,645.3 L2070.7,645.3 L2072.2,645.4 L2073.7,645.6 L2075.2,645.8 L2076.7,646.1 L2078.2,646.4 L2079.7,646.7 L2081.2,646.9 L2082.7,647.1 L2084.2,647.3 L2085.7,647.4 L2087.2,647.3 L2088.7,647.2 L2090.2,646.9 L2091.7,646.4 L2093.2,645.8 L2094.7,645.1 L2096.2,644.2 L2097.7,643.2 L2099.2,642.1 L2100.7,640.9 L2102.2,639.6 L2103.7,638.2 L2105.2,636.7 L2106.7,635.1 L2108.2,633.5 L2109.8,631.8 L2111.3,630.1 L2112.8,628.3 L2114.3,626.4 L2115.8,624.6 L2117.3,622.7 L2118.8,620.9 L2120.3,619.1 L2121.8,617.3 L2123.3,615.6 L2124.8,614.0 L2126.3,612.4 L2127.8,610.9 L2129.3,609.5 L2130.8,608.2 L2132.3,607.0 L2133.8,606.0 L2135.3,605.0 L2136.8,604.3 L2138.3,603.6 L2139.8,603.1 L2141.3,602.8 L2142.8,602.5 L2144.3,602.3 L2145.8,602.2 L2147.3,602.2 L2148.8,602.2 L2150.3,602.2 L2151.8,602.2 L2153.3,602.3 L2154.8,602.5 L2156.3,602.8 L2157.8,603.2 L2159.3,603.8 L2160.8,604.7 L2162.3,605.9 L2163.8,607.4 L2165.4,609.2 L2166.9,611.3 L2168.4,613.8 L2169.9,616.5 L2171.4,619.5 L2172.9,622.8 L2174.4,626.3 L2175.9,630.0 L2177.4,633.9 L2178.9,637.9 L2180.4,642.0 L2181.9,646.0 L2183.4,650.1 L2184.9,654.1 L2186.4,658.1 L2187.9,661.8 L2189.4,665.4 L2190.9,668.8 L2192.4,672.0 L2193.9,674.9 L2195.4,677.8 L2196.9,680.4 L2198.4,682.9 L2199.9,685.2 L2201.4,687.3 L2202.9,689.3 L2204.4,691.2 L2205.9,692.9 L2207.4,694.5 L2208.9,696.0 L2210.4,697.3 L2211.9,698.6 L2213.4,699.7 L2214.9,700.8 L2216.4,701.8 L2217.9,702.7 L2219.4,703.5 L2221.0,704.3 L2222.5,705.0 L2224.0,705.7 L2225.5,706.4 L2227.0,707.0 L2228.5,707.6 L2230.0,708.3 L2231.5,708.9 L2233.0,709.6 L2234.5,710.3 L2236.0,710.9 L2237.5,711.6 L2239.0,712.3 L2240.5,713.0 L2242.0,713.8 L2243.5,714.5 L2245.0,715.2 L2246.5,715.9 L2248.0,716.6 L2249.5,717.3 L2251.0,718.0 L2252.5,718.6 L2254.0,719.3 L2255.5,719.9 L2257.0,720.5 L2258.5,721.1 L2260.0,721.7 L2261.5,722.2 L2263.0,722.7 L2264.5,723.2 L2266.0,723.7 L2267.5,724.1 L2269.0,724.5 L2270.5,724.9 L2272.0,725.3 L2273.5,725.6 L2275.0,726.0 L2276.6,726.3 L2278.1,726.6 L2279.6,727.0 L2281.1,727.3 L2282.6,727.6 L2284.1,727.9 L2285.6,728.1 L2287.1,728.4 L2288.6,728.7 L2290.1,729.0 L2291.6,729.2 L2293.1,729.5 L2294.6,729.8 L2296.1,730.0 L2297.6,730.3 L2299.1,730.5 L2300.6,730.8 L2302.1,731.0 L2303.6,731.2 L2305.1,731.5 L2306.6,731.7 L2308.1,731.9 L2309.6,732.1 L2311.1,732.3 L2312.6,732.5 L2314.1,732.8 L2315.6,733.0 L2317.1,733.2 L2318.6,733.4 L2320.1,733.6 L2321.6,733.8 L2323.1,733.9 L2324.6,734.1 L2326.1,734.3 L2327.6,734.5 L2329.1,734.7 L2330.7,734.9 L2332.2,735.0 L2333.7,735.2 L2335.2,735.4 L2336.7,735.5 L2338.2,735.7 L2339.7,735.8 L2341.2,736.0 L2342.7,736.2 L2344.2,736.3 L2345.7,736.5 L2347.2,736.6 L2348.7,736.8 L2350.2,737.0 L2351.7,737.1 L2353.2,737.3 L2354.7,737.4 L2356.2,737.6 L2357.7,737.7 L2359.2,737.9 L2360.7,738.0 L2362.2,738.1 L2363.7,738.3 L2365.2,738.4 L2366.7,738.6 L2368.2,738.7 L2369.7,738.8 L2371.2,738.9 L2372.7,739.1 L2374.2,739.2 L2375.7,739.3 L2377.2,739.4 L2378.7,739.5 L2380.2,739.6 L2381.7,739.7 L2383.2,739.8 L2384.7,739.9 L2386.3,740.0 L2387.8,740.1 L2389.3,740.1 L2390.8,740.2 L2392.3,740.3 L2393.8,740.4 L2395.3,740.5 L2396.8,740.5 L2398.3,740.6 L2399.8,740.7 L2401.3,740.8 L2402.8,740.8 L2404.3,740.9 L2405.8,741.0 L2407.3,741.0 L2408.8,741.1 L2410.3,741.2 L2411.8,741.2 L2413.3,741.3 L2414.8,741.3 L2416.3,741.4 L2417.8,741.4 L2419.3,741.5 L2420.8,741.5 L2422.3,741.6 L2423.8,741.6 L2425.3,741.6 L2426.8,741.7 L2428.3,741.7 L2429.8,741.8 L2431.3,741.8 L2432.8,741.9 L2434.3,741.9 L2435.8,742.0 L2437.3,742.0 L2438.8,742.1 L2440.3,742.1 L2441.9,742.2 L2443.4,742.2 L2444.9,742.3 L2446.4,742.3 L2447.9,742.4 L2449.4,742.4 L2450.9,742.5 L2452.4,742.5 L2453.9,742.6 L2455.4,742.6 L2456.9,742.7 L2458.4,742.8 L2459.9,742.8 L2461.4,742.9 L2462.9,742.9 L2464.4,743.0 L2465.9,743.1 L2467.4,743.1 L2468.9,743.2" fill="none" stroke="#800080" stroke-width="2.2" stroke-linejoin="round"/>
<path d="M1472.6,743.4 L1474.1,743.0 L1475.6,742.6 L1477.1,742.3 L1478.6,741.9 L1480.1,741.6 L1481.6,741.3 L1483.1,741.1 L1484.6,740.8 L1486.1,740.5 L1487.6,740.3 L1489.1,740.1 L1490.6,739.9 L1492.1,739.7 L1493.6,739.5 L1495.1,739.4 L1496.6,739.2 L1498.1,739.1 L1499.6,738.9 L1501.2,738.7 L1502.7,738.5 L1504.2,738.4 L1505.7,738.1 L1507.2,737.9 L1508.7,737.6 L1510.2,737.4 L1511.7,737.1 L1513.2,736.8 L1514.7,736.5 L1516.2,736.2 L1517.7,735.9 L1519.2,735.6 L1520.7,735.3 L1522.2,735.1 L1523.7,734.8 L1525.2,734.5 L1526.7,734.2 L1528.2,734.0 L1529.7,733.7 L1531.2,733.4 L1532.7,733.2 L1534.2,732.9 L1535.7,732.7 L1537.2,732.4 L1538.7,732.2 L1540.2,731.9 L1541.7,731.6 L1543.2,731.4 L1544.7,731.1 L1546.2,730.9 L1547.7,730.6 L1549.2,730.4 L1550.7,730.1 L1552.2,729.8 L1553.7,729.5 L1555.2,729.3 L1556.8,729.0 L1558.3,728.7 L1559.8,728.3 L1561.3,728.0 L1562.8,727.7 L1564.3,727.3 L1565.8,726.9 L1567.3,726.5 L1568.8,726.0 L1570.3,725.6 L1571.8,725.1 L1573.3,724.5 L1574.8,723.9 L1576.3,723.3 L1577.8,722.6 L1579.3,721.9 L1580.8,721.2 L1582.3,720.4 L1583.8,719.6 L1585.3,718.7 L1586.8,717.8 L1588.3,716.9 L1589.8,715.9 L1591.3,714.9 L1592.8,713.9 L1594.3,712.9 L1595.8,711.8 L1597.3,710.7 L1598.8,709.6 L1600.3,708.5 L1601.8,707.3 L1603.3,706.2 L1604.8,705.0 L1606.3,703.8 L1607.8,702.5 L1609.3,701.3 L1610.8,699.9 L1612.4,698.6 L1613.9,697.2 L1615.4,695.7 L1616.9,694.2 L1618.4,692.6 L1619.9,690.9 L1621.4,689.2 L1622.9,687.3 L1624.4,685.3 L1625.9,683.3 L1627.4,681.1 L1628.9,678.8 L1630.4,676.4 L1631.9,673.9 L1633.4,671.2 L1634.9,668.5 L1636.4,665.7 L1637.9,662.7 L1639.4,659.7 L1640.9,656.5 L1642.4,653.3 L1643.9,650.1 L1645.4,646.7 L1646.9,643.4 L1648.4,640.0 L1649.9,636.6 L1651.4,633.3 L1652.9,630.1 L1654.4,627.0 L1655.9,624.0 L1657.4,621.2 L1658.9,618.5 L1660.4,616.0 L1661.9,613.7 L1663.4,611.6 L1664.9,609.7 L1666.5,607.9 L1668.0,606.3 L1669.5,604.8 L1671.0,603.3 L1672.5,601.9 L1674.0,600.6 L1675.5,599.3 L1677.0,598.0 L1678.5,596.7 L1680.0,595.4 L1681.5,594.2 L1683.0,592.9 L1684.5,591.7 L1686.0,590.6 L1687.5,589.6 L1689.0,588.6 L1690.5,587.8 L1692.0,587.0 L1693.5,586.4 L1695.0,585.9 L1696.5,585.5 L1698.0,585.2 L1699.5,585.0 L1701.0,585.0 L1702.5,585.1 L1704.0,585.3 L1705.5,585.6 L1707.0,586.1 L1708.5,586.6 L1710.0,587.4 L1711.5,588.2 L1713.0,589.2 L1714.5,590.3 L1716.0,591.5 L1717.5,592.8 L1719.0,594.2 L1720.5,595.7 L1722.1,597.2 L1723.6,598.9 L1725.1,600.5 L1726.6,602.1 L1728.1,603.6 L1729.6,604.9 L1731.1,606.1 L1732.6,607.0 L1734.1,607.8 L1735.6,608.4 L1737.1,608.9 L1738.6,609.2 L1740.1,609.4 L1741.6,609.4 L1743.1,609.3 L1744.6,609.1 L1746.1,608.6 L1747.6,607.9 L1749.1,607.1 L1750.6,606.0 L1752.1,604.8 L1753.6,603.3 L1755.1,601.7 L1756.6,599.8 L1758.1,597.7 L1759.6,595.5 L1761.1,593.2 L1762.6,590.7 L1764.1,588.0 L1765.6,585.2 L1767.1,582.4 L1768.6,579.4 L1770.1,576.4 L1771.6,573.3 L1773.1,570.1 L1774.6,566.9 L1776.1,563.7 L1777.7,560.4 L1779.2,557.2 L1780.7,553.9 L1782.2,550.7 L1783.7,547.4 L1785.2,544.1 L1786.7,540.8 L1788.2,537.6 L1789.7,534.3 L1791.2,531.0 L1792.7,527.8 L1794.2,524.5 L1795.7,521.3 L1797.2,518.0 L1798.7,514.8 L1800.2,511.5 L1801.7,508.3 L1803.2,505.0 L1804.7,501.8 L1806.2,498.6 L1807.7,495.4 L1809.2,492.2 L1810.7,489.0 L1812.2,485.9 L1813.7,482.8 L1815.2,479.7 L1816.7,476.6 L1818.2,473.6 L1819.7,470.6 L1821.2,467.6 L1822.7,464.7 L1824.2,461.8 L1825.7,459.1 L1827.2,456.5 L1828.7,454.1 L1830.2,452.0 L1831.7,450.2 L1833.3,448.6 L1834.8,447.2 L1836.3,446.1 L1837.8,445.2 L1839.3,444.5 L1840.8,444.0 L1842.3,443.6 L1843.8,443.5 L1845.3,443.4 L1846.8,443.6 L1848.3,443.9 L1849.8,444.5 L1851.3,445.2 L1852.8,446.1 L1854.3,447.3 L1855.8,448.6 L1857.3,450.2 L1858.8,452.0 L1860.3,454.0 L1861.8,456.2 L1863.3,458.7 L1864.8,461.4 L1866.3,464.3 L1867.8,467.4 L1869.3,470.8 L1870.8,474.3 L1872.3,478.0 L1873.8,481.8 L1875.3,485.8 L1876.8,489.9 L1878.3,494.2 L1879.8,498.5 L1881.3,502.8 L1882.8,507.2 L1884.3,511.7 L1885.8,516.1 L1887.3,520.6 L1888.9,525.0 L1890.4,529.4 L1891.9,533.7 L1893.4,538.0 L1894.9,542.1 L1896.4,546.1 L1897.9,550.0 L1899.4,553.8 L1900.9,557.4 L1902.4,560.8 L1903.9,564.0 L1905.4,567.1 L1906.9,570.0 L1908.4,572.8 L1909.9,575.4 L1911.4,577.9 L1912.9,580.2 L1914.4,582.5 L1915.9,584.6 L1917.4,586.7 L1918.9,588.6 L1920.4,590.5 L1921.9,592.2 L1923.4,594.0 L1924.9,595.6 L1926.4,597.2 L1927.9,598.8 L1929.4,600.3 L1930.9,601.8 L1932.4,603.3 L1933.9,604.7 L1935.4,606.1 L1936.9,607.5 L1938.4,608.9 L1939.9,610.2 L1941.4,611.6 L1942.9,612.9 L1944.5,614.1 L1946.0,615.4 L1947.5,616.7 L1949.0,617.9 L1950.5,619.1 L1952.0,620.3 L1953.5,621.5 L1955.0,622.7 L1956.5,623.9 L1958.0,625.0 L1959.5,626.2 L1961.0,627.4 L1962.5,628.5 L1964.0,629.7 L1965.5,630.8 L1967.0,632.0 L1968.5,633.1 L1970.0,634.3 L1971.5,635.4 L1973.0,636.5 L1974.5,637.7 L1976.0,638.8 L1977.5,639.9 L1979.0,641.0 L1980.5,642.1 L1982.0,643.1 L1983.5,644.2 L1985.0,645.2 L1986.5,646.2 L1988.0,647.1 L1989.5,648.1 L1991.0,649.0 L1992.5,649.9 L1994.0,650.8 L1995.5,651.6 L1997.0,652.4 L1998.6,653.2 L2000.1,653.9 L2001.6,654.6 L2003.1,655.2 L2004.6,655.8 L2006.1,656.3 L2007.6,656.8 L2009.1,657.3 L2010.6,657.7 L2012.1,658.1 L2013.6,658.4 L2015.1,658.6 L2016.6,658.8 L2018.1,658.9 L2019.6,659.0 L2021.1,659.0 L2022.6,658.9 L2024.1,658.8 L2025.6,658.6 L2027.1,658.3 L2028.6,658.0 L2030.1,657.6 L2031.6,657.1 L2033.1,656.5 L2034.6,655.9 L2036.1,655.1 L2037.6,654.3 L2039.1,653.4 L2040.6,652.5 L2042.1,651.4 L2043.6,650.3 L2045.1,649.0 L2046.6,647.7 L2048.1,646.3 L2049.6,644.9 L2051.1,643.3 L2052.6,641.7 L2054.2,640.0 L2055.7,638.2 L2057.2,636.5 L2058.7,634.8 L2060.2,633.3 L2061.7,631.9 L2063.2,630.7 L2064.7,629.9 L2066.2,629.2 L2067.7,628.8 L2069.2,628.6 L2070.7,628.6 L2072.2,628.7 L2073.7,628.9 L2075.2,629.1 L2076.7,629.4 L2078.2,629.8 L2079.7,630.1 L2081.2,630.4 L2082.7,630.6 L2084.2,630.7 L2085.7,630.8 L2087.2,630.7 L2088.7,630.5 L2090.2,630.2 L2091.7,629.6 L2093.2,628.9 L2094.7,627.9 L2096.2,626.8 L2097.7,625.6 L2099.2,624.2 L2100.7,622.7 L2102.2,621.0 L2103.7,619.2 L2105.2,617.3 L2106.7,615.3 L2108.2,613.2 L2109.8,611.0 L2111.3,608.8 L2112.8,606.4 L2114.3,604.0 L2115.8,601.6 L2117.3,599.2 L2118.8,596.7 L2120.3,594.3 L2121.8,591.9 L2123.3,589.6 L2124.8,587.4 L2126.3,585.2 L2127.8,583.1 L2129.3,581.1 L2130.8,579.3 L2132.3,577.6 L2133.8,576.1 L2135.3,574.7 L2136.8,573.5 L2138.3,572.5 L2139.8,571.7 L2141.3,571.1 L2142.8,570.6 L2144.3,570.3 L2145.8,570.0 L2147.3,569.8 L2148.8,569.8 L2150.3,569.8 L2151.8,569.8 L2153.3,569.9 L2154.8,570.1 L2156.3,570.4 L2157.8,571.0 L2159.3,571.8 L2160.8,572.9 L2162.3,574.4 L2163.8,576.3 L2165.4,578.6 L2166.9,581.3 L2168.4,584.4 L2169.9,587.8 L2171.4,591.6 L2172.9,595.7 L2174.4,600.1 L2175.9,604.7 L2177.4,609.5 L2178.9,614.5 L2180.4,619.5 L2181.9,624.6 L2183.4,629.7 L2184.9,634.6 L2186.4,639.5 L2187.9,644.1 L2189.4,648.6 L2190.9,652.7 L2192.4,656.6 L2193.9,660.3 L2195.4,663.8 L2196.9,667.0 L2198.4,670.1 L2199.9,672.9 L2201.4,675.6 L2202.9,678.0 L2204.4,680.3 L2205.9,682.4 L2207.4,684.4 L2208.9,686.2 L2210.4,687.8 L2211.9,689.4 L2213.4,690.8 L2214.9,692.1 L2216.4,693.3 L2217.9,694.4 L2219.4,695.4 L2221.0,696.4 L2222.5,697.2 L2224.0,698.1 L2225.5,698.9 L2227.0,699.7 L2228.5,700.4 L2230.0,701.2 L2231.5,702.0 L2233.0,702.8 L2234.5,703.6 L2236.0,704.5 L2237.5,705.3 L2239.0,706.2 L2240.5,707.0 L2242.0,707.9 L2243.5,708.8 L2245.0,709.7 L2246.5,710.5 L2248.0,711.4 L2249.5,712.2 L2251.0,713.1 L2252.5,713.9 L2254.0,714.7 L2255.5,715.4 L2257.0,716.2 L2258.5,716.9 L2260.0,717.6 L2261.5,718.2 L2263.0,718.9 L2264.5,719.4 L2266.0,720.0 L2267.5,720.5 L2269.0,721.0 L2270.5,721.5 L2272.0,721.9 L2273.5,722.4 L2275.0,722.8 L2276.6,723.1 L2278.1,723.5 L2279.6,723.9 L2281.1,724.2 L2282.6,724.6 L2284.1,724.9 L2285.6,725.2 L2287.1,725.6 L2288.6,725.9 L2290.1,726.2 L2291.6,726.5 L2293.1,726.8 L2294.6,727.1 L2296.1,727.4 L2297.6,727.7 L2299.1,728.0 L2300.6,728.2 L2302.1,728.5 L2303.6,728.8 L2305.1,729.1 L2306.6,729.3 L2308.1,729.6 L2309.6,729.9 L2311.1,730.1 L2312.6,730.4 L2314.1,730.6 L2315.6,730.8 L2317.1,731.1 L2318.6,731.3 L2320.1,731.6 L2321.6,731.8 L2323.1,732.0 L2324.6,732.2 L2326.1,732.4 L2327.6,732.6 L2329.1,732.9 L2330.7,733.1 L2332.2,733.3 L2333.7,733.5 L2335.2,733.6 L2336.7,733.8 L2338.2,734.0 L2339.7,734.2 L2341.2,734.4 L2342.7,734.6 L2344.2,734.8 L2345.7,735.0 L2347.2,735.1 L2348.7,735.3 L2350.2,735.5 L2351.7,735.7 L2353.2,735.9 L2354.7,736.0 L2356.2,736.2 L2357.7,736.4 L2359.2,736.6 L2360.7,736.8 L2362.2,736.9 L2363.7,737.1 L2365.2,737.3 L2366.7,737.4 L2368.2,737.6 L2369.7,737.7 L2371.2,737.9 L2372.7,738.0 L2374.2,738.1 L2375.7,738.3 L2377.2,738.4 L2378.7,738.5 L2380.2,738.6 L2381.7,738.8 L2383.2,738.9 L2384.7,739.0 L2386.3,739.1 L2387.8,739.2 L2389.3,739.3 L2390.8,739.4 L2392.3,739.5 L2393.8,739.6 L2395.3,739.7 L2396.8,739.8 L2398.3,739.9 L2399.8,740.0 L2401.3,740.1 L2402.8,740.2 L2404.3,740.3 L2405.8,740.3 L2407.3,740.4 L2408.8,740.5 L2410.3,740.6 L2411.8,740.6 L2413.3,740.7 L2414.8,740.8 L2416.3,740.8 L2417.8,740.9 L2419.3,741.0 L2420.8,741.0 L2422.3,741.1 L2423.8,741.2 L2425.3,741.2 L2426.8,741.3 L2428.3,741.3 L2429.8,741.4 L2431.3,741.5 L2432.8,741.5 L2434.3,741.6 L2435.8,741.6 L2437.3,741.7 L2438.8,741.8 L2440.3,741.8 L2441.9,741.9 L2443.4,742.0 L2444.9,742.0 L2446.4,742.1 L2447.9,742.2 L2449.4,742.2 L2450.9,742.3 L2452.4,742.4 L2453.9,742.5 L2455.4,742.5 L2456.9,742.6 L2458.4,742.7 L2459.9,742.8 L2461.4,742.8 L2462.9,742.9 L2464.4,743.0 L2465.9,743.1 L2467.4,743.2 L2468.9,743.3" fill="none" stroke="#8000ff" stroke-width="2.2" stroke-linejoin="round"/>
<path d="M1472.6,743.4 L1474.1,743.0 L1475.6,742.7 L1477.1,742.3 L1478.6,742.0 L1480.1,741.7 L1481.6,741.4 L1483.1,741.2 L1484.6,740.9 L1486.1,740.7 L1487.6,740.5 L1489.1,740.3 L1490.6,740.1 L1492.1,740.0 L1493.6,739.8 L1495.1,739.6 L1496.6,739.5 L1498.1,739.3 L1499.6,739.2 L1501.2,739.0 L1502.7,738.9 L1504.2,738.7 L1505.7,738.5 L1507.2,738.3 L1508.7,738.0 L1510.2,737.8 L1511.7,737.5 L1513.2,737.3 L1514.7,737.0 L1516.2,736.7 L1517.7,736.5 L1519.2,736.2 L1520.7,736.0 L1522.2,735.7 L1523.7,735.4 L1525.2,735.2 L1526.7,735.0 L1528.2,734.7 L1529.7,734.5 L1531.2,734.2 L1532.7,734.0 L1534.2,733.8 L1535.7,733.5 L1537.2,733.3 L1538.7,733.1 L1540.2,732.8 L1541.7,732.6 L1543.2,732.4 L1544.7,732.2 L1546.2,732.0 L1547.7,731.7 L1549.2,731.5 L1550.7,731.3 L1552.2,731.1 L1553.7,730.9 L1555.2,730.6 L1556.8,730.4 L1558.3,730.2 L1559.8,729.9 L1561.3,729.6 L1562.8,729.3 L1564.3,729.0 L1565.8,728.7 L1567.3,728.3 L1568.8,727.9 L1570.3,727.5 L1571.8,727.0 L1573.3,726.4 L1574.8,725.9 L1576.3,725.2 L1577.8,724.6 L1579.3,723.9 L1580.8,723.1 L1582.3,722.3 L1583.8,721.4 L1585.3,720.5 L1586.8,719.6 L1588.3,718.6 L1589.8,717.6 L1591.3,716.6 L1592.8,715.5 L1594.3,714.4 L1595.8,713.2 L1597.3,712.1 L1598.8,710.9 L1600.3,709.7 L1601.8,708.4 L1603.3,707.1 L1604.8,705.8 L1606.3,704.5 L1607.8,703.2 L1609.3,701.8 L1610.8,700.4 L1612.4,698.9 L1613.9,697.4 L1615.4,695.8 L1616.9,694.1 L1618.4,692.4 L1619.9,690.5 L1621.4,688.6 L1622.9,686.5 L1624.4,684.3 L1625.9,682.0 L1627.4,679.5 L1628.9,676.9 L1630.4,674.1 L1631.9,671.2 L1633.4,668.1 L1634.9,665.0 L1636.4,661.6 L1637.9,658.2 L1639.4,654.6 L1640.9,650.9 L1642.4,647.1 L1643.9,643.2 L1645.4,639.2 L1646.9,635.2 L1648.4,631.2 L1649.9,627.1 L1651.4,623.2 L1652.9,619.3 L1654.4,615.5 L1655.9,612.0 L1657.4,608.6 L1658.9,605.4 L1660.4,602.4 L1661.9,599.6 L1663.4,597.0 L1664.9,594.6 L1666.5,592.5 L1668.0,590.4 L1669.5,588.5 L1671.0,586.7 L1672.5,584.9 L1674.0,583.1 L1675.5,581.4 L1677.0,579.6 L1678.5,577.9 L1680.0,576.1 L1681.5,574.4 L1683.0,572.7 L1684.5,571.0 L1686.0,569.4 L1687.5,567.8 L1689.0,566.4 L1690.5,565.2 L1692.0,564.0 L1693.5,563.0 L1695.0,562.2 L1696.5,561.6 L1698.0,561.1 L1699.5,560.8 L1701.0,560.7 L1702.5,560.8 L1704.0,561.1 L1705.5,561.6 L1707.0,562.3 L1708.5,563.1 L1710.0,564.2 L1711.5,565.4 L1713.0,566.8 L1714.5,568.3 L1716.0,570.0 L1717.5,571.8 L1719.0,573.7 L1720.5,575.7 L1722.1,577.8 L1723.6,580.0 L1725.1,582.1 L1726.6,584.2 L1728.1,586.1 L1729.6,587.8 L1731.1,589.3 L1732.6,590.5 L1734.1,591.5 L1735.6,592.3 L1737.1,592.9 L1738.6,593.3 L1740.1,593.6 L1741.6,593.7 L1743.1,593.6 L1744.6,593.3 L1746.1,592.7 L1747.6,592.0 L1749.1,591.0 L1750.6,589.8 L1752.1,588.3 L1753.6,586.6 L1755.1,584.7 L1756.6,582.6 L1758.1,580.2 L1759.6,577.6 L1761.1,574.9 L1762.6,572.0 L1764.1,568.9 L1765.6,565.7 L1767.1,562.4 L1768.6,558.9 L1770.1,555.4 L1771.6,551.7 L1773.1,548.0 L1774.6,544.3 L1776.1,540.5 L1777.7,536.6 L1779.2,532.8 L1780.7,528.9 L1782.2,525.0 L1783.7,521.1 L1785.2,517.2 L1786.7,513.3 L1788.2,509.3 L1789.7,505.4 L1791.2,501.4 L1792.7,497.5 L1794.2,493.5 L1795.7,489.6 L1797.2,485.6 L1798.7,481.7 L1800.2,477.7 L1801.7,473.7 L1803.2,469.7 L1804.7,465.8 L1806.2,461.8 L1807.7,457.8 L1809.2,453.9 L1810.7,450.0 L1812.2,446.1 L1813.7,442.2 L1815.2,438.4 L1816.7,434.6 L1818.2,430.8 L1819.7,427.1 L1821.2,423.4 L1822.7,419.8 L1824.2,416.3 L1825.7,412.9 L1827.2,409.7 L1828.7,406.8 L1830.2,404.1 L1831.7,401.8 L1833.3,399.8 L1834.8,398.1 L1836.3,396.7 L1837.8,395.6 L1839.3,394.7 L1840.8,394.0 L1842.3,393.6 L1843.8,393.4 L1845.3,393.3 L1846.8,393.5 L1848.3,393.9 L1849.8,394.5 L1851.3,395.4 L1852.8,396.5 L1854.3,397.9 L1855.8,399.5 L1857.3,401.3 L1858.8,403.5 L1860.3,405.8 L1861.8,408.5 L1863.3,411.4 L1864.8,414.6 L1866.3,418.0 L1867.8,421.7 L1869.3,425.7 L1870.8,429.9 L1872.3,434.2 L1873.8,438.8 L1875.3,443.5 L1876.8,448.3 L1878.3,453.3 L1879.8,458.4 L1881.3,463.5 L1882.8,468.7 L1884.3,473.9 L1885.8,479.2 L1887.3,484.4 L1888.9,489.6 L1890.4,494.8 L1891.9,499.8 L1893.4,504.8 L1894.9,509.7 L1896.4,514.5 L1897.9,519.1 L1899.4,523.5 L1900.9,527.7 L1902.4,531.7 L1903.9,535.5 L1905.4,539.1 L1906.9,542.5 L1908.4,545.8 L1909.9,548.9 L1911.4,551.8 L1912.9,554.6 L1914.4,557.2 L1915.9,559.8 L1917.4,562.2 L1918.9,564.5 L1920.4,566.7 L1921.9,568.8 L1923.4,570.8 L1924.9,572.8 L1926.4,574.7 L1927.9,576.5 L1929.4,578.3 L1930.9,580.1 L1932.4,581.8 L1933.9,583.5 L1935.4,585.2 L1936.9,586.9 L1938.4,588.5 L1939.9,590.1 L1941.4,591.7 L1942.9,593.2 L1944.5,594.7 L1946.0,596.3 L1947.5,597.8 L1949.0,599.2 L1950.5,600.7 L1952.0,602.1 L1953.5,603.6 L1955.0,605.0 L1956.5,606.4 L1958.0,607.8 L1959.5,609.2 L1961.0,610.6 L1962.5,611.9 L1964.0,613.3 L1965.5,614.7 L1967.0,616.1 L1968.5,617.4 L1970.0,618.8 L1971.5,620.2 L1973.0,621.5 L1974.5,622.8 L1976.0,624.2 L1977.5,625.5 L1979.0,626.8 L1980.5,628.0 L1982.0,629.3 L1983.5,630.5 L1985.0,631.7 L1986.5,632.9 L1988.0,634.0 L1989.5,635.1 L1991.0,636.2 L1992.5,637.3 L1994.0,638.3 L1995.5,639.3 L1997.0,640.2 L1998.6,641.1 L2000.1,641.9 L2001.6,642.7 L2003.1,643.5 L2004.6,644.2 L2006.1,644.8 L2007.6,645.4 L2009.1,645.9 L2010.6,646.4 L2012.1,646.8 L2013.6,647.1 L2015.1,647.4 L2016.6,647.6 L2018.1,647.8 L2019.6,647.8 L2021.1,647.8 L2022.6,647.8 L2024.1,647.6 L2025.6,647.4 L2027.1,647.1 L2028.6,646.7 L2030.1,646.2 L2031.6,645.6 L2033.1,644.9 L2034.6,644.2 L2036.1,643.3 L2037.6,642.4 L2039.1,641.3 L2040.6,640.2 L2042.1,639.0 L2043.6,637.6 L2045.1,636.2 L2046.6,634.7 L2048.1,633.1 L2049.6,631.4 L2051.1,629.6 L2052.6,627.7 L2054.2,625.7 L2055.7,623.7 L2057.2,621.7 L2058.7,619.7 L2060.2,617.9 L2061.7,616.3 L2063.2,615.0 L2064.7,614.0 L2066.2,613.2 L2067.7,612.8 L2069.2,612.5 L2070.7,612.5 L2072.2,612.6 L2073.7,612.8 L2075.2,613.1 L2076.7,613.5 L2078.2,613.8 L2079.7,614.2 L2081.2,614.5 L2082.7,614.8 L2084.2,615.0 L2085.7,615.1 L2087.2,615.0 L2088.7,614.8 L2090.2,614.4 L2091.7,613.7 L2093.2,612.8 L2094.7,611.8 L2096.2,610.5 L2097.7,609.0 L2099.2,607.4 L2100.7,605.6 L2102.2,603.7 L2103.7,601.6 L2105.2,599.3 L2106.7,597.0 L2108.2,594.5 L2109.8,591.9 L2111.3,589.2 L2112.8,586.4 L2114.3,583.6 L2115.8,580.7 L2117.3,577.8 L2118.8,574.8 L2120.3,571.9 L2121.8,569.1 L2123.3,566.3 L2124.8,563.6 L2126.3,560.9 L2127.8,558.4 L2129.3,556.0 L2130.8,553.8 L2132.3,551.7 L2133.8,549.8 L2135.3,548.1 L2136.8,546.6 L2138.3,545.4 L2139.8,544.4 L2141.3,543.5 L2142.8,542.9 L2144.3,542.4 L2145.8,542.1 L2147.3,541.8 L2148.8,541.7 L2150.3,541.7 L2151.8,541.7 L2153.3,541.8 L2154.8,542.1 L2156.3,542.5 L2157.8,543.3 L2159.3,544.3 L2160.8,545.7 L2162.3,547.5 L2163.8,549.8 L2165.4,552.6 L2166.9,555.8 L2168.4,559.5 L2169.9,563.6 L2171.4,568.1 L2172.9,573.0 L2174.4,578.2 L2175.9,583.7 L2177.4,589.3 L2178.9,595.2 L2180.4,601.1 L2181.9,607.1 L2183.4,613.0 L2184.9,618.8 L2186.4,624.5 L2187.9,629.9 L2189.4,635.1 L2190.9,639.9 L2192.4,644.5 L2193.9,648.8 L2195.4,652.8 L2196.9,656.6 L2198.4,660.1 L2199.9,663.4 L2201.4,666.5 L2202.9,669.3 L2204.4,672.0 L2205.9,674.4 L2207.4,676.7 L2208.9,678.8 L2210.4,680.7 L2211.9,682.5 L2213.4,684.1 L2214.9,685.6 L2216.4,687.0 L2217.9,688.2 L2219.4,689.4 L2221.0,690.5 L2222.5,691.5 L2224.0,692.5 L2225.5,693.4 L2227.0,694.3 L2228.5,695.1 L2230.0,696.0 L2231.5,696.8 L2233.0,697.7 L2234.5,698.6 L2236.0,699.4 L2237.5,700.3 L2239.0,701.2 L2240.5,702.1 L2242.0,703.0 L2243.5,703.9 L2245.0,704.8 L2246.5,705.7 L2248.0,706.6 L2249.5,707.4 L2251.0,708.3 L2252.5,709.1 L2254.0,709.9 L2255.5,710.7 L2257.0,711.5 L2258.5,712.2 L2260.0,712.9 L2261.5,713.6 L2263.0,714.3 L2264.5,714.9 L2266.0,715.5 L2267.5,716.1 L2269.0,716.7 L2270.5,717.2 L2272.0,717.7 L2273.5,718.2 L2275.0,718.6 L2276.6,719.1 L2278.1,719.5 L2279.6,720.0 L2281.1,720.4 L2282.6,720.8 L2284.1,721.2 L2285.6,721.5 L2287.1,721.9 L2288.6,722.3 L2290.1,722.6 L2291.6,723.0 L2293.1,723.3 L2294.6,723.7 L2296.1,724.0 L2297.6,724.4 L2299.1,724.7 L2300.6,725.0 L2302.1,725.4 L2303.6,725.7 L2305.1,726.0 L2306.6,726.3 L2308.1,726.6 L2309.6,726.9 L2311.1,727.2 L2312.6,727.5 L2314.1,727.8 L2315.6,728.1 L2317.1,728.4 L2318.6,728.7 L2320.1,729.0 L2321.6,729.2 L2323.1,729.5 L2324.6,729.8 L2326.1,730.0 L2327.6,730.3 L2329.1,730.5 L2330.7,730.7 L2332.2,731.0 L2333.7,731.2 L2335.2,731.4 L2336.7,731.7 L2338.2,731.9 L2339.7,732.1 L2341.2,732.3 L2342.7,732.5 L2344.2,732.8 L2345.7,733.0 L2347.2,733.2 L2348.7,733.4 L2350.2,733.6 L2351.7,733.9 L2353.2,734.1 L2354.7,734.3 L2356.2,734.5 L2357.7,734.7 L2359.2,734.9 L2360.7,735.1 L2362.2,735.3 L2363.7,735.5 L2365.2,735.7 L2366.7,735.9 L2368.2,736.1 L2369.7,736.3 L2371.2,736.5 L2372.7,736.7 L2374.2,736.8 L2375.7,737.0 L2377.2,737.1 L2378.7,737.3 L2380.2,737.4 L2381.7,737.6 L2383.2,737.7 L2384.7,737.9 L2386.3,738.0 L2387.8,738.1 L2389.3,738.3 L2390.8,738.4 L2392.3,738.5 L2393.8,738.6 L2395.3,738.7 L2396.8,738.9 L2398.3,739.0 L2399.8,739.1 L2401.3,739.2 L2402.8,739.3 L2404.3,739.4 L2405.8,739.5 L2407.3,739.6 L2408.8,739.7 L2410.3,739.8 L2411.8,739.9 L2413.3,740.0 L2414.8,740.1 L2416.3,740.2 L2417.8,740.2 L2419.3,740.3 L2420.8,740.4 L2422.3,740.5 L2423.8,740.6 L2425.3,740.6 L2426.8,740.7 L2428.3,740.8 L2429.8,740.9 L2431.3,741.0 L2432.8,741.0 L2434.3,741.1 L2435.8,741.2 L2437.3,741.3 L2438.8,741.4 L2440.3,741.5 L2441.9,741.6 L2443.4,741.6 L2444.9,741.7 L2446.4,741.8 L2447.9,741.9 L2449.4,742.0 L2450.9,742.1 L2452.4,742.2 L2453.9,742.3 L2455.4,742.4 L2456.9,742.5 L2458.4,742.6 L2459.9,742.7 L2461.4,742.8 L2462.9,742.9 L2464.4,743.0 L2465.9,743.1 L2467.4,743.2 L2468.9,743.4" fill="none" stroke="#000080" stroke-width="2.2" stroke-linejoin="round"/>
<path d="M1472.6,743.3 L1474.1,743.0 L1475.6,742.7 L1477.1,742.4 L1478.6,742.1 L1480.1,741.8 L1481.6,741.6 L1483.1,741.4 L1484.6,741.1 L1486.1,740.9 L1487.6,740.7 L1489.1,740.6 L1490.6,740.4 L1492.1,740.2 L1493.6,740.1 L1495.1,740.0 L1496.6,739.8 L1498.1,739.7 L1499.6,739.6 L1501.2,739.4 L1502.7,739.3 L1504.2,739.1 L1505.7,738.9 L1507.2,738.8 L1508.7,738.6 L1510.2,738.3 L1511.7,738.1 L1513.2,737.9 L1514.7,737.7 L1516.2,737.4 L1517.7,737.2 L1519.2,737.0 L1520.7,736.7 L1522.2,736.5 L1523.7,736.3 L1525.2,736.1 L1526.7,735.9 L1528.2,735.7 L1529.7,735.5 L1531.2,735.3 L1532.7,735.0 L1534.2,734.8 L1535.7,734.6 L1537.2,734.4 L1538.7,734.2 L1540.2,734.0 L1541.7,733.8 L1543.2,733.6 L1544.7,733.4 L1546.2,733.2 L1547.7,733.0 L1549.2,732.9 L1550.7,732.7 L1552.2,732.5 L1553.7,732.2 L1555.2,732.0 L1556.8,731.8 L1558.3,731.6 L1559.8,731.3 L1561.3,731.1 L1562.8,730.8 L1564.3,730.5 L1565.8,730.2 L1567.3,729.8 L1568.8,729.4 L1570.3,729.0 L1571.8,728.5 L1573.3,728.0 L1574.8,727.4 L1576.3,726.8 L1577.8,726.1 L1579.3,725.4 L1580.8,724.6 L1582.3,723.8 L1583.8,723.0 L1585.3,722.1 L1586.8,721.1 L1588.3,720.2 L1589.8,719.2 L1591.3,718.1 L1592.8,717.0 L1594.3,715.9 L1595.8,714.7 L1597.3,713.5 L1598.8,712.2 L1600.3,711.0 L1601.8,709.7 L1603.3,708.3 L1604.8,706.9 L1606.3,705.5 L1607.8,704.1 L1609.3,702.6 L1610.8,701.0 L1612.4,699.4 L1613.9,697.8 L1615.4,696.0 L1616.9,694.2 L1618.4,692.2 L1619.9,690.2 L1621.4,688.0 L1622.9,685.7 L1624.4,683.2 L1625.9,680.6 L1627.4,677.8 L1628.9,674.9 L1630.4,671.8 L1631.9,668.6 L1633.4,665.2 L1634.9,661.6 L1636.4,657.9 L1637.9,654.0 L1639.4,650.0 L1640.9,645.8 L1642.4,641.5 L1643.9,637.0 L1645.4,632.4 L1646.9,627.6 L1648.4,622.8 L1649.9,617.9 L1651.4,613.1 L1652.9,608.3 L1654.4,603.6 L1655.9,599.0 L1657.4,594.5 L1658.9,590.3 L1660.4,586.2 L1661.9,582.3 L1663.4,578.7 L1664.9,575.3 L1666.5,572.1 L1668.0,569.0 L1669.5,566.1 L1671.0,563.4 L1672.5,560.7 L1674.0,558.2 L1675.5,555.7 L1677.0,553.2 L1678.5,550.8 L1680.0,548.5 L1681.5,546.2 L1683.0,544.0 L1684.5,541.8 L1686.0,539.7 L1687.5,537.8 L1689.0,536.0 L1690.5,534.3 L1692.0,532.9 L1693.5,531.6 L1695.0,530.5 L1696.5,529.7 L1698.0,529.1 L1699.5,528.8 L1701.0,528.7 L1702.5,528.9 L1704.0,529.3 L1705.5,530.1 L1707.0,531.0 L1708.5,532.2 L1710.0,533.7 L1711.5,535.4 L1713.0,537.2 L1714.5,539.3 L1716.0,541.5 L1717.5,543.9 L1719.0,546.4 L1720.5,549.0 L1722.1,551.8 L1723.6,554.7 L1725.1,557.6 L1726.6,560.3 L1728.1,563.0 L1729.6,565.4 L1731.1,567.4 L1732.6,569.2 L1734.1,570.7 L1735.6,571.9 L1737.1,572.9 L1738.6,573.6 L1740.1,574.0 L1741.6,574.2 L1743.1,574.2 L1744.6,573.8 L1746.1,573.2 L1747.6,572.4 L1749.1,571.2 L1750.6,569.8 L1752.1,568.0 L1753.6,566.0 L1755.1,563.7 L1756.6,561.2 L1758.1,558.4 L1759.6,555.3 L1761.1,552.1 L1762.6,548.6 L1764.1,544.9 L1765.6,541.1 L1767.1,537.1 L1768.6,532.9 L1770.1,528.6 L1771.6,524.2 L1773.1,519.7 L1774.6,515.1 L1776.1,510.5 L1777.7,505.8 L1779.2,501.1 L1780.7,496.3 L1782.2,491.5 L1783.7,486.6 L1785.2,481.7 L1786.7,476.8 L1788.2,471.9 L1789.7,466.9 L1791.2,461.9 L1792.7,456.9 L1794.2,451.9 L1795.7,446.8 L1797.2,441.7 L1798.7,436.7 L1800.2,431.6 L1801.7,426.4 L1803.2,421.3 L1804.7,416.2 L1806.2,411.0 L1807.7,405.9 L1809.2,400.7 L1810.7,395.6 L1812.2,390.6 L1813.7,385.5 L1815.2,380.5 L1816.7,375.5 L1818.2,370.6 L1819.7,365.7 L1821.2,360.9 L1822.7,356.2 L1824.2,351.6 L1825.7,347.2 L1827.2,343.0 L1828.7,339.2 L1830.2,335.7 L1831.7,332.7 L1833.3,330.0 L1834.8,327.8 L1836.3,325.9 L1837.8,324.4 L1839.3,323.2 L1840.8,322.3 L1842.3,321.7 L1843.8,321.4 L1845.3,321.3 L1846.8,321.5 L1848.3,322.0 L1849.8,322.8 L1851.3,323.9 L1852.8,325.3 L1854.3,326.9 L1855.8,328.9 L1857.3,331.2 L1858.8,333.8 L1860.3,336.8 L1861.8,340.0 L1863.3,343.6 L1864.8,347.5 L1866.3,351.8 L1867.8,356.3 L1869.3,361.2 L1870.8,366.3 L1872.3,371.6 L1873.8,377.2 L1875.3,382.9 L1876.8,388.9 L1878.3,394.9 L1879.8,401.1 L1881.3,407.4 L1882.8,413.7 L1884.3,420.1 L1885.8,426.5 L1887.3,432.9 L1888.9,439.2 L1890.4,445.5 L1891.9,451.7 L1893.4,457.8 L1894.9,463.7 L1896.4,469.5 L1897.9,475.1 L1899.4,480.4 L1900.9,485.6 L1902.4,490.5 L1903.9,495.1 L1905.4,499.5 L1906.9,503.7 L1908.4,507.6 L1909.9,511.4 L1911.4,515.0 L1912.9,518.4 L1914.4,521.6 L1915.9,524.7 L1917.4,527.6 L1918.9,530.4 L1920.4,533.1 L1921.9,535.7 L1923.4,538.2 L1924.9,540.6 L1926.4,542.9 L1927.9,545.1 L1929.4,547.3 L1930.9,549.5 L1932.4,551.6 L1933.9,553.7 L1935.4,555.8 L1936.9,557.8 L1938.4,559.8 L1939.9,561.8 L1941.4,563.7 L1942.9,565.6 L1944.5,567.5 L1946.0,569.3 L1947.5,571.1 L1949.0,572.9 L1950.5,574.7 L1952.0,576.5 L1953.5,578.3 L1955.0,580.0 L1956.5,581.7 L1958.0,583.4 L1959.5,585.1 L1961.0,586.8 L1962.5,588.5 L1964.0,590.2 L1965.5,591.8 L1967.0,593.5 L1968.5,595.2 L1970.0,596.8 L1971.5,598.5 L1973.0,600.1 L1974.5,601.7 L1976.0,603.3 L1977.5,604.9 L1979.0,606.4 L1980.5,608.0 L1982.0,609.5 L1983.5,611.0 L1985.0,612.4 L1986.5,613.8 L1988.0,615.2 L1989.5,616.5 L1991.0,617.8 L1992.5,619.1 L1994.0,620.3 L1995.5,621.5 L1997.0,622.6 L1998.6,623.7 L2000.1,624.7 L2001.6,625.6 L2003.1,626.5 L2004.6,627.3 L2006.1,628.1 L2007.6,628.8 L2009.1,629.4 L2010.6,630.0 L2012.1,630.5 L2013.6,630.9 L2015.1,631.2 L2016.6,631.5 L2018.1,631.6 L2019.6,631.7 L2021.1,631.7 L2022.6,631.6 L2024.1,631.4 L2025.6,631.1 L2027.1,630.7 L2028.6,630.2 L2030.1,629.6 L2031.6,628.8 L2033.1,628.0 L2034.6,627.1 L2036.1,626.0 L2037.6,624.8 L2039.1,623.5 L2040.6,622.1 L2042.1,620.6 L2043.6,618.9 L2045.1,617.2 L2046.6,615.3 L2048.1,613.3 L2049.6,611.2 L2051.1,609.0 L2052.6,606.7 L2054.2,604.2 L2055.7,601.7 L2057.2,599.3 L2058.7,596.9 L2060.2,594.7 L2061.7,592.7 L2063.2,591.1 L2064.7,589.8 L2066.2,588.9 L2067.7,588.3 L2069.2,588.0 L2070.7,588.0 L2072.2,588.2 L2073.7,588.5 L2075.2,588.9 L2076.7,589.4 L2078.2,590.0 L2079.7,590.5 L2081.2,591.1 L2082.7,591.5 L2084.2,591.8 L2085.7,592.0 L2087.2,592.1 L2088.7,591.9 L2090.2,591.4 L2091.7,590.7 L2093.2,589.6 L2094.7,588.4 L2096.2,586.9 L2097.7,585.1 L2099.2,583.2 L2100.7,581.0 L2102.2,578.6 L2103.7,576.1 L2105.2,573.4 L2106.7,570.5 L2108.2,567.4 L2109.8,564.3 L2111.3,561.0 L2112.8,557.6 L2114.3,554.1 L2115.8,550.5 L2117.3,546.9 L2118.8,543.3 L2120.3,539.7 L2121.8,536.2 L2123.3,532.7 L2124.8,529.3 L2126.3,526.0 L2127.8,522.9 L2129.3,519.8 L2130.8,517.0 L2132.3,514.4 L2133.8,512.0 L2135.3,509.8 L2136.8,507.9 L2138.3,506.3 L2139.8,505.0 L2141.3,503.9 L2142.8,503.0 L2144.3,502.4 L2145.8,501.9 L2147.3,501.6 L2148.8,501.4 L2150.3,501.3 L2151.8,501.3 L2153.3,501.5 L2154.8,501.8 L2156.3,502.3 L2157.8,503.2 L2159.3,504.4 L2160.8,506.2 L2162.3,508.4 L2163.8,511.2 L2165.4,514.6 L2166.9,518.5 L2168.4,522.9 L2169.9,527.9 L2171.4,533.4 L2172.9,539.3 L2174.4,545.6 L2175.9,552.2 L2177.4,559.1 L2178.9,566.1 L2180.4,573.3 L2181.9,580.4 L2183.4,587.6 L2184.9,594.6 L2186.4,601.4 L2187.9,608.0 L2189.4,614.2 L2190.9,620.0 L2192.4,625.5 L2193.9,630.7 L2195.4,635.5 L2196.9,640.0 L2198.4,644.3 L2199.9,648.2 L2201.4,651.9 L2202.9,655.3 L2204.4,658.5 L2205.9,661.4 L2207.4,664.1 L2208.9,666.6 L2210.4,668.9 L2211.9,671.1 L2213.4,673.0 L2214.9,674.8 L2216.4,676.5 L2217.9,678.0 L2219.4,679.4 L2221.0,680.7 L2222.5,681.9 L2224.0,683.0 L2225.5,684.1 L2227.0,685.1 L2228.5,686.2 L2230.0,687.2 L2231.5,688.2 L2233.0,689.2 L2234.5,690.2 L2236.0,691.2 L2237.5,692.2 L2239.0,693.3 L2240.5,694.3 L2242.0,695.3 L2243.5,696.4 L2245.0,697.4 L2246.5,698.4 L2248.0,699.4 L2249.5,700.4 L2251.0,701.3 L2252.5,702.3 L2254.0,703.2 L2255.5,704.1 L2257.0,705.0 L2258.5,705.8 L2260.0,706.7 L2261.5,707.5 L2263.0,708.2 L2264.5,709.0 L2266.0,709.7 L2267.5,710.4 L2269.0,711.0 L2270.5,711.6 L2272.0,712.2 L2273.5,712.8 L2275.0,713.4 L2276.6,713.9 L2278.1,714.4 L2279.6,714.9 L2281.1,715.4 L2282.6,715.9 L2284.1,716.4 L2285.6,716.8 L2287.1,717.3 L2288.6,717.7 L2290.1,718.1 L2291.6,718.6 L2293.1,719.0 L2294.6,719.4 L2296.1,719.8 L2297.6,720.2 L2299.1,720.6 L2300.6,720.9 L2302.1,721.3 L2303.6,721.7 L2305.1,722.1 L2306.6,722.5 L2308.1,722.8 L2309.6,723.2 L2311.1,723.6 L2312.6,723.9 L2314.1,724.3 L2315.6,724.6 L2317.1,724.9 L2318.6,725.3 L2320.1,725.6 L2321.6,725.9 L2323.1,726.2 L2324.6,726.5 L2326.1,726.9 L2327.6,727.2 L2329.1,727.4 L2330.7,727.7 L2332.2,728.0 L2333.7,728.3 L2335.2,728.6 L2336.7,728.9 L2338.2,729.1 L2339.7,729.4 L2341.2,729.7 L2342.7,729.9 L2344.2,730.2 L2345.7,730.5 L2347.2,730.8 L2348.7,731.0 L2350.2,731.3 L2351.7,731.6 L2353.2,731.8 L2354.7,732.1 L2356.2,732.3 L2357.7,732.6 L2359.2,732.9 L2360.7,733.1 L2362.2,733.3 L2363.7,733.6 L2365.2,733.8 L2366.7,734.1 L2368.2,734.3 L2369.7,734.5 L2371.2,734.7 L2372.7,734.9 L2374.2,735.1 L2375.7,735.3 L2377.2,735.5 L2378.7,735.7 L2380.2,735.9 L2381.7,736.1 L2383.2,736.2 L2384.7,736.4 L2386.3,736.6 L2387.8,736.7 L2389.3,736.9 L2390.8,737.1 L2392.3,737.2 L2393.8,737.4 L2395.3,737.5 L2396.8,737.7 L2398.3,737.8 L2399.8,737.9 L2401.3,738.1 L2402.8,738.2 L2404.3,738.4 L2405.8,738.5 L2407.3,738.6 L2408.8,738.7 L2410.3,738.9 L2411.8,739.0 L2413.3,739.1 L2414.8,739.2 L2416.3,739.3 L2417.8,739.4 L2419.3,739.5 L2420.8,739.6 L2422.3,739.7 L2423.8,739.8 L2425.3,739.9 L2426.8,740.0 L2428.3,740.1 L2429.8,740.2 L2431.3,740.3 L2432.8,740.5 L2434.3,740.6 L2435.8,740.7 L2437.3,740.8 L2438.8,740.9 L2440.3,741.0 L2441.9,741.1 L2443.4,741.2 L2444.9,741.3 L2446.4,741.5 L2447.9,741.6 L2449.4,741.7 L2450.9,741.8 L2452.4,741.9 L2453.9,742.1 L2455.4,742.2 L2456.9,742.3 L2458.4,742.5 L2459.9,742.6 L2461.4,742.7 L2462.9,742.9 L2464.4,743.0 L2465.9,743.2 L2467.4,743.3 L2468.9,743.5" fill="none" stroke="#008000" stroke-width="2.2" stroke-linejoin="round"/>
<path d="M1472.6,743.3 L1474.1,743.0 L1475.6,742.7 L1477.1,742.4 L1478.6,742.2 L1480.1,741.9 L1481.6,741.7 L1483.1,741.5 L1484.6,741.3 L1486.1,741.1 L1487.6,740.9 L1489.1,740.7 L1490.6,740.6 L1492.1,740.4 L1493.6,740.3 L1495.1,740.2 L1496.6,740.0 L1498.1,739.9 L1499.6,739.8 L1501.2,739.7 L1502.7,739.5 L1504.2,739.4 L1505.7,739.2 L1507.2,739.1 L1508.7,738.9 L1510.2,738.7 L1511.7,738.5 L1513.2,738.3 L1514.7,738.1 L1516.2,737.9 L1517.7,737.7 L1519.2,737.5 L1520.7,737.3 L1522.2,737.1 L1523.7,736.9 L1525.2,736.7 L1526.7,736.5 L1528.2,736.3 L1529.7,736.1 L1531.2,735.9 L1532.7,735.7 L1534.2,735.5 L1535.7,735.3 L1537.2,735.1 L1538.7,734.9 L1540.2,734.7 L1541.7,734.5 L1543.2,734.3 L1544.7,734.0 L1546.2,733.8 L1547.7,733.5 L1549.2,733.3 L1550.7,733.0 L1552.2,732.7 L1553.7,732.4 L1555.2,732.1 L1556.8,731.7 L1558.3,731.3 L1559.8,730.9 L1561.3,730.5 L1562.8,730.1 L1564.3,729.7 L1565.8,729.2 L1567.3,728.7 L1568.8,728.2 L1570.3,727.6 L1571.8,727.0 L1573.3,726.4 L1574.8,725.8 L1576.3,725.2 L1577.8,724.5 L1579.3,723.8 L1580.8,723.1 L1582.3,722.4 L1583.8,721.6 L1585.3,720.8 L1586.8,720.0 L1588.3,719.2 L1589.8,718.3 L1591.3,717.4 L1592.8,716.5 L1594.3,715.6 L1595.8,714.6 L1597.3,713.5 L1598.8,712.5 L1600.3,711.3 L1601.8,710.2 L1603.3,708.9 L1604.8,707.6 L1606.3,706.2 L1607.8,704.8 L1609.3,703.3 L1610.8,701.7 L1612.4,700.0 L1613.9,698.2 L1615.4,696.4 L1616.9,694.4 L1618.4,692.3 L1619.9,690.1 L1621.4,687.7 L1622.9,685.3 L1624.4,682.6 L1625.9,679.9 L1627.4,677.0 L1628.9,673.9 L1630.4,670.7 L1631.9,667.3 L1633.4,663.8 L1634.9,660.0 L1636.4,656.2 L1637.9,652.1 L1639.4,647.9 L1640.9,643.5 L1642.4,638.9 L1643.9,634.1 L1645.4,629.2 L1646.9,624.1 L1648.4,618.8 L1649.9,613.4 L1651.4,607.9 L1652.9,602.4 L1654.4,596.9 L1655.9,591.4 L1657.4,585.9 L1658.9,580.5 L1660.4,575.3 L1661.9,570.2 L1663.4,565.2 L1664.9,560.5 L1666.5,556.0 L1668.0,551.6 L1669.5,547.5 L1671.0,543.6 L1672.5,539.9 L1674.0,536.4 L1675.5,533.1 L1677.0,530.0 L1678.5,527.1 L1680.0,524.5 L1681.5,522.0 L1683.0,519.7 L1684.5,517.7 L1686.0,515.8 L1687.5,514.2 L1689.0,512.7 L1690.5,511.5 L1692.0,510.5 L1693.5,509.6 L1695.0,509.0 L1696.5,508.6 L1698.0,508.4 L1699.5,508.5 L1701.0,508.7 L1702.5,509.2 L1704.0,509.9 L1705.5,510.9 L1707.0,512.0 L1708.5,513.4 L1710.0,515.0 L1711.5,516.9 L1713.0,518.9 L1714.5,521.2 L1716.0,523.7 L1717.5,526.3 L1719.0,529.2 L1720.5,532.2 L1722.1,535.5 L1723.6,538.9 L1725.1,542.3 L1726.6,545.7 L1728.1,548.9 L1729.6,551.8 L1731.1,554.5 L1732.6,556.7 L1734.1,558.6 L1735.6,560.2 L1737.1,561.5 L1738.6,562.4 L1740.1,563.1 L1741.6,563.4 L1743.1,563.4 L1744.6,563.1 L1746.1,562.5 L1747.6,561.5 L1749.1,560.2 L1750.6,558.7 L1752.1,556.8 L1753.6,554.5 L1755.1,552.0 L1756.6,549.2 L1758.1,546.1 L1759.6,542.8 L1761.1,539.1 L1762.6,535.3 L1764.1,531.2 L1765.6,527.0 L1767.1,522.5 L1768.6,517.9 L1770.1,513.1 L1771.6,508.2 L1773.1,503.2 L1774.6,498.1 L1776.1,492.9 L1777.7,487.6 L1779.2,482.3 L1780.7,476.9 L1782.2,471.4 L1783.7,465.9 L1785.2,460.3 L1786.7,454.8 L1788.2,449.1 L1789.7,443.4 L1791.2,437.7 L1792.7,432.0 L1794.2,426.2 L1795.7,420.4 L1797.2,414.5 L1798.7,408.6 L1800.2,402.7 L1801.7,396.8 L1803.2,390.8 L1804.7,384.8 L1806.2,378.9 L1807.7,372.9 L1809.2,366.9 L1810.7,360.9 L1812.2,355.0 L1813.7,349.1 L1815.2,343.3 L1816.7,337.5 L1818.2,331.7 L1819.7,326.0 L1821.2,320.4 L1822.7,314.9 L1824.2,309.5 L1825.7,304.4 L1827.2,299.5 L1828.7,295.0 L1830.2,290.9 L1831.7,287.4 L1833.3,284.3 L1834.8,281.6 L1836.3,279.4 L1837.8,277.6 L1839.3,276.2 L1840.8,275.2 L1842.3,274.4 L1843.8,274.0 L1845.3,273.9 L1846.8,274.1 L1848.3,274.7 L1849.8,275.5 L1851.3,276.7 L1852.8,278.2 L1854.3,280.1 L1855.8,282.3 L1857.3,284.9 L1858.8,287.8 L1860.3,291.1 L1861.8,294.7 L1863.3,298.7 L1864.8,303.0 L1866.3,307.7 L1867.8,312.8 L1869.3,318.2 L1870.8,323.9 L1872.3,329.8 L1873.8,336.0 L1875.3,342.5 L1876.8,349.1 L1878.3,355.8 L1879.8,362.7 L1881.3,369.7 L1882.8,376.8 L1884.3,383.9 L1885.8,391.0 L1887.3,398.1 L1888.9,405.2 L1890.4,412.2 L1891.9,419.1 L1893.4,425.9 L1894.9,432.5 L1896.4,438.9 L1897.9,445.2 L1899.4,451.2 L1900.9,456.9 L1902.4,462.4 L1903.9,467.5 L1905.4,472.5 L1906.9,477.1 L1908.4,481.6 L1909.9,485.8 L1911.4,489.8 L1912.9,493.6 L1914.4,497.2 L1915.9,500.7 L1917.4,504.0 L1918.9,507.1 L1920.4,510.2 L1921.9,513.1 L1923.4,515.9 L1924.9,518.6 L1926.4,521.2 L1927.9,523.8 L1929.4,526.3 L1930.9,528.7 L1932.4,531.1 L1933.9,533.5 L1935.4,535.9 L1936.9,538.2 L1938.4,540.5 L1939.9,542.7 L1941.4,545.0 L1942.9,547.2 L1944.5,549.3 L1946.0,551.5 L1947.5,553.6 L1949.0,555.7 L1950.5,557.8 L1952.0,559.8 L1953.5,561.9 L1955.0,563.9 L1956.5,565.9 L1958.0,567.9 L1959.5,569.9 L1961.0,571.9 L1962.5,573.8 L1964.0,575.8 L1965.5,577.7 L1967.0,579.7 L1968.5,581.6 L1970.0,583.5 L1971.5,585.4 L1973.0,587.3 L1974.5,589.2 L1976.0,591.0 L1977.5,592.8 L1979.0,594.6 L1980.5,596.4 L1982.0,598.1 L1983.5,599.8 L1985.0,601.5 L1986.5,603.1 L1988.0,604.7 L1989.5,606.2 L1991.0,607.7 L1992.5,609.1 L1994.0,610.5 L1995.5,611.8 L1997.0,613.1 L1998.6,614.3 L2000.1,615.5 L2001.6,616.5 L2003.1,617.6 L2004.6,618.5 L2006.1,619.4 L2007.6,620.1 L2009.1,620.9 L2010.6,621.5 L2012.1,622.0 L2013.6,622.5 L2015.1,622.8 L2016.6,623.1 L2018.1,623.3 L2019.6,623.4 L2021.1,623.3 L2022.6,623.2 L2024.1,623.0 L2025.6,622.6 L2027.1,622.2 L2028.6,621.6 L2030.1,620.9 L2031.6,620.1 L2033.1,619.1 L2034.6,618.0 L2036.1,616.8 L2037.6,615.5 L2039.1,614.0 L2040.6,612.4 L2042.1,610.7 L2043.6,608.9 L2045.1,606.9 L2046.6,604.8 L2048.1,602.6 L2049.6,600.2 L2051.1,597.8 L2052.6,595.2 L2054.2,592.5 L2055.7,589.7 L2057.2,587.0 L2058.7,584.3 L2060.2,581.9 L2061.7,579.7 L2063.2,577.8 L2064.7,576.4 L2066.2,575.4 L2067.7,574.8 L2069.2,574.5 L2070.7,574.4 L2072.2,574.6 L2073.7,575.0 L2075.2,575.6 L2076.7,576.2 L2078.2,577.0 L2079.7,577.7 L2081.2,578.4 L2082.7,579.0 L2084.2,579.5 L2085.7,579.8 L2087.2,580.0 L2088.7,579.8 L2090.2,579.4 L2091.7,578.7 L2093.2,577.6 L2094.7,576.3 L2096.2,574.7 L2097.7,572.8 L2099.2,570.6 L2100.7,568.2 L2102.2,565.6 L2103.7,562.8 L2105.2,559.7 L2106.7,556.5 L2108.2,553.1 L2109.8,549.5 L2111.3,545.8 L2112.8,541.9 L2114.3,537.9 L2115.8,533.9 L2117.3,529.8 L2118.8,525.7 L2120.3,521.6 L2121.8,517.5 L2123.3,513.5 L2124.8,509.5 L2126.3,505.7 L2127.8,502.0 L2129.3,498.5 L2130.8,495.2 L2132.3,492.1 L2133.8,489.2 L2135.3,486.7 L2136.8,484.4 L2138.3,482.4 L2139.8,480.8 L2141.3,479.4 L2142.8,478.4 L2144.3,477.6 L2145.8,477.0 L2147.3,476.6 L2148.8,476.3 L2150.3,476.3 L2151.8,476.3 L2153.3,476.5 L2154.8,476.9 L2156.3,477.6 L2157.8,478.5 L2159.3,479.8 L2160.8,481.6 L2162.3,483.8 L2163.8,486.6 L2165.4,490.0 L2166.9,494.0 L2168.4,498.6 L2169.9,503.8 L2171.4,509.6 L2172.9,516.1 L2174.4,523.1 L2175.9,530.6 L2177.4,538.4 L2178.9,546.5 L2180.4,554.7 L2181.9,563.0 L2183.4,571.2 L2184.9,579.3 L2186.4,587.1 L2187.9,594.6 L2189.4,601.7 L2190.9,608.4 L2192.4,614.7 L2193.9,620.6 L2195.4,626.1 L2196.9,631.3 L2198.4,636.1 L2199.9,640.6 L2201.4,644.8 L2202.9,648.6 L2204.4,652.2 L2205.9,655.5 L2207.4,658.6 L2208.9,661.4 L2210.4,664.0 L2211.9,666.4 L2213.4,668.6 L2214.9,670.6 L2216.4,672.4 L2217.9,674.1 L2219.4,675.6 L2221.0,677.1 L2222.5,678.4 L2224.0,679.6 L2225.5,680.8 L2227.0,681.9 L2228.5,683.0 L2230.0,684.1 L2231.5,685.1 L2233.0,686.1 L2234.5,687.2 L2236.0,688.2 L2237.5,689.2 L2239.0,690.2 L2240.5,691.2 L2242.0,692.2 L2243.5,693.2 L2245.0,694.2 L2246.5,695.2 L2248.0,696.1 L2249.5,697.1 L2251.0,698.0 L2252.5,698.9 L2254.0,699.8 L2255.5,700.7 L2257.0,701.5 L2258.5,702.4 L2260.0,703.2 L2261.5,704.0 L2263.0,704.8 L2264.5,705.5 L2266.0,706.3 L2267.5,707.0 L2269.0,707.7 L2270.5,708.3 L2272.0,709.0 L2273.5,709.6 L2275.0,710.2 L2276.6,710.8 L2278.1,711.4 L2279.6,711.9 L2281.1,712.4 L2282.6,713.0 L2284.1,713.5 L2285.6,714.0 L2287.1,714.4 L2288.6,714.9 L2290.1,715.4 L2291.6,715.8 L2293.1,716.3 L2294.6,716.7 L2296.1,717.2 L2297.6,717.6 L2299.1,718.0 L2300.6,718.5 L2302.1,718.9 L2303.6,719.3 L2305.1,719.7 L2306.6,720.1 L2308.1,720.5 L2309.6,720.9 L2311.1,721.3 L2312.6,721.7 L2314.1,722.1 L2315.6,722.5 L2317.1,722.8 L2318.6,723.2 L2320.1,723.6 L2321.6,723.9 L2323.1,724.3 L2324.6,724.6 L2326.1,724.9 L2327.6,725.3 L2329.1,725.6 L2330.7,725.9 L2332.2,726.2 L2333.7,726.5 L2335.2,726.9 L2336.7,727.2 L2338.2,727.5 L2339.7,727.8 L2341.2,728.1 L2342.7,728.4 L2344.2,728.7 L2345.7,729.0 L2347.2,729.3 L2348.7,729.6 L2350.2,729.9 L2351.7,730.1 L2353.2,730.4 L2354.7,730.7 L2356.2,731.0 L2357.7,731.3 L2359.2,731.6 L2360.7,731.9 L2362.2,732.1 L2363.7,732.4 L2365.2,732.7 L2366.7,732.9 L2368.2,733.2 L2369.7,733.4 L2371.2,733.7 L2372.7,733.9 L2374.2,734.1 L2375.7,734.3 L2377.2,734.5 L2378.7,734.7 L2380.2,735.0 L2381.7,735.1 L2383.2,735.3 L2384.7,735.5 L2386.3,735.7 L2387.8,735.9 L2389.3,736.1 L2390.8,736.3 L2392.3,736.4 L2393.8,736.6 L2395.3,736.8 L2396.8,736.9 L2398.3,737.1 L2399.8,737.2 L2401.3,737.4 L2402.8,737.6 L2404.3,737.7 L2405.8,737.8 L2407.3,738.0 L2408.8,738.1 L2410.3,738.3 L2411.8,738.4 L2413.3,738.5 L2414.8,738.7 L2416.3,738.8 L2417.8,738.9 L2419.3,739.0 L2420.8,739.1 L2422.3,739.3 L2423.8,739.4 L2425.3,739.5 L2426.8,739.6 L2428.3,739.7 L2429.8,739.8 L2431.3,740.0 L2432.8,740.1 L2434.3,740.2 L2435.8,740.3 L2437.3,740.5 L2438.8,740.6 L2440.3,740.7 L2441.9,740.8 L2443.4,741.0 L2444.9,741.1 L2446.4,741.2 L2447.9,741.4 L2449.4,741.5 L2450.9,741.7 L2452.4,741.8 L2453.9,741.9 L2455.4,742.1 L2456.9,742.2 L2458.4,742.4 L2459.9,742.5 L2461.4,742.7 L2462.9,742.9 L2464.4,743.0 L2465.9,743.2 L2467.4,743.4 L2468.9,743.5" fill="none" stroke="#ff00ff" stroke-width="2.2" stroke-linejoin="round"/>
<path d="M1472.6,743.3 L1474.1,743.0 L1475.6,742.7 L1477.1,742.5 L1478.6,742.2 L1480.1,742.0 L1481.6,741.7 L1483.1,741.5 L1484.6,741.3 L1486.1,741.2 L1487.6,741.0 L1489.1,740.8 L1490.6,740.7 L1492.1,740.5 L1493.6,740.4 L1495.1,740.3 L1496.6,740.2 L1498.1,740.1 L1499.6,739.9 L1501.2,739.8 L1502.7,739.7 L1504.2,739.6 L1505.7,739.4 L1507.2,739.3 L1508.7,739.1 L1510.2,738.9 L1511.7,738.7 L1513.2,738.6 L1514.7,738.4 L1516.2,738.2 L1517.7,738.0 L1519.2,737.8 L1520.7,737.6 L1522.2,737.4 L1523.7,737.2 L1525.2,737.0 L1526.7,736.8 L1528.2,736.7 L1529.7,736.5 L1531.2,736.3 L1532.7,736.1 L1534.2,735.9 L1535.7,735.7 L1537.2,735.6 L1538.7,735.4 L1540.2,735.2 L1541.7,735.0 L1543.2,734.8 L1544.7,734.5 L1546.2,734.3 L1547.7,734.1 L1549.2,733.8 L1550.7,733.6 L1552.2,733.3 L1553.7,733.0 L1555.2,732.7 L1556.8,732.3 L1558.3,732.0 L1559.8,731.6 L1561.3,731.2 L1562.8,730.8 L1564.3,730.4 L1565.8,730.0 L1567.3,729.5 L1568.8,729.0 L1570.3,728.4 L1571.8,727.9 L1573.3,727.3 L1574.8,726.7 L1576.3,726.1 L1577.8,725.4 L1579.3,724.8 L1580.8,724.0 L1582.3,723.3 L1583.8,722.5 L1585.3,721.8 L1586.8,720.9 L1588.3,720.1 L1589.8,719.2 L1591.3,718.3 L1592.8,717.3 L1594.3,716.3 L1595.8,715.3 L1597.3,714.2 L1598.8,713.1 L1600.3,711.9 L1601.8,710.7 L1603.3,709.4 L1604.8,708.0 L1606.3,706.6 L1607.8,705.1 L1609.3,703.5 L1610.8,701.8 L1612.4,700.1 L1613.9,698.2 L1615.4,696.3 L1616.9,694.3 L1618.4,692.1 L1619.9,689.8 L1621.4,687.4 L1622.9,684.9 L1624.4,682.2 L1625.9,679.4 L1627.4,676.5 L1628.9,673.4 L1630.4,670.1 L1631.9,666.7 L1633.4,663.1 L1634.9,659.4 L1636.4,655.4 L1637.9,651.3 L1639.4,647.1 L1640.9,642.6 L1642.4,638.0 L1643.9,633.2 L1645.4,628.1 L1646.9,623.0 L1648.4,617.6 L1649.9,612.1 L1651.4,606.5 L1652.9,600.9 L1654.4,595.2 L1655.9,589.5 L1657.4,583.8 L1658.9,578.2 L1660.4,572.6 L1661.9,567.2 L1663.4,561.9 L1664.9,556.9 L1666.5,552.0 L1668.0,547.3 L1669.5,542.7 L1671.0,538.4 L1672.5,534.3 L1674.0,530.3 L1675.5,526.6 L1677.0,523.0 L1678.5,519.6 L1680.0,516.5 L1681.5,513.5 L1683.0,510.8 L1684.5,508.3 L1686.0,506.0 L1687.5,503.9 L1689.0,502.0 L1690.5,500.3 L1692.0,498.9 L1693.5,497.7 L1695.0,496.7 L1696.5,496.0 L1698.0,495.6 L1699.5,495.3 L1701.0,495.4 L1702.5,495.6 L1704.0,496.2 L1705.5,497.0 L1707.0,498.1 L1708.5,499.4 L1710.0,501.1 L1711.5,503.0 L1713.0,505.2 L1714.5,507.6 L1716.0,510.4 L1717.5,513.4 L1719.0,516.7 L1720.5,520.4 L1722.1,524.3 L1723.6,528.4 L1725.1,532.6 L1726.6,536.8 L1728.1,540.9 L1729.6,544.6 L1731.1,548.0 L1732.6,551.0 L1734.1,553.6 L1735.6,555.7 L1737.1,557.5 L1738.6,558.8 L1740.1,559.8 L1741.6,560.4 L1743.1,560.6 L1744.6,560.4 L1746.1,559.9 L1747.6,559.0 L1749.1,557.7 L1750.6,556.1 L1752.1,554.2 L1753.6,551.9 L1755.1,549.3 L1756.6,546.4 L1758.1,543.2 L1759.6,539.7 L1761.1,536.0 L1762.6,531.9 L1764.1,527.7 L1765.6,523.3 L1767.1,518.6 L1768.6,513.8 L1770.1,508.7 L1771.6,503.6 L1773.1,498.3 L1774.6,492.9 L1776.1,487.3 L1777.7,481.7 L1779.2,476.0 L1780.7,470.2 L1782.2,464.4 L1783.7,458.5 L1785.2,452.5 L1786.7,446.5 L1788.2,440.4 L1789.7,434.3 L1791.2,428.1 L1792.7,421.8 L1794.2,415.5 L1795.7,409.1 L1797.2,402.7 L1798.7,396.3 L1800.2,389.8 L1801.7,383.3 L1803.2,376.8 L1804.7,370.2 L1806.2,363.6 L1807.7,357.0 L1809.2,350.4 L1810.7,343.8 L1812.2,337.3 L1813.7,330.7 L1815.2,324.3 L1816.7,317.8 L1818.2,311.5 L1819.7,305.2 L1821.2,299.0 L1822.7,292.9 L1824.2,287.0 L1825.7,281.3 L1827.2,275.9 L1828.7,270.9 L1830.2,266.4 L1831.7,262.4 L1833.3,259.0 L1834.8,256.1 L1836.3,253.6 L1837.8,251.6 L1839.3,250.0 L1840.8,248.9 L1842.3,248.1 L1843.8,247.6 L1845.3,247.5 L1846.8,247.7 L1848.3,248.3 L1849.8,249.3 L1851.3,250.6 L1852.8,252.2 L1854.3,254.2 L1855.8,256.6 L1857.3,259.4 L1858.8,262.5 L1860.3,266.0 L1861.8,269.9 L1863.3,274.2 L1864.8,278.8 L1866.3,283.9 L1867.8,289.3 L1869.3,295.1 L1870.8,301.2 L1872.3,307.5 L1873.8,314.1 L1875.3,321.0 L1876.8,328.0 L1878.3,335.2 L1879.8,342.5 L1881.3,350.0 L1882.8,357.5 L1884.3,365.0 L1885.8,372.6 L1887.3,380.1 L1888.9,387.7 L1890.4,395.1 L1891.9,402.4 L1893.4,409.6 L1894.9,416.6 L1896.4,423.5 L1897.9,430.1 L1899.4,436.5 L1900.9,442.5 L1902.4,448.3 L1903.9,453.8 L1905.4,459.0 L1906.9,464.0 L1908.4,468.7 L1909.9,473.1 L1911.4,477.4 L1912.9,481.4 L1914.4,485.3 L1915.9,488.9 L1917.4,492.4 L1918.9,495.8 L1920.4,499.0 L1921.9,502.1 L1923.4,505.0 L1924.9,507.9 L1926.4,510.7 L1927.9,513.4 L1929.4,516.0 L1930.9,518.6 L1932.4,521.2 L1933.9,523.7 L1935.4,526.2 L1936.9,528.6 L1938.4,531.0 L1939.9,533.4 L1941.4,535.8 L1942.9,538.1 L1944.5,540.4 L1946.0,542.6 L1947.5,544.9 L1949.0,547.1 L1950.5,549.3 L1952.0,551.5 L1953.5,553.6 L1955.0,555.8 L1956.5,557.9 L1958.0,560.0 L1959.5,562.1 L1961.0,564.2 L1962.5,566.2 L1964.0,568.3 L1965.5,570.3 L1967.0,572.4 L1968.5,574.4 L1970.0,576.4 L1971.5,578.5 L1973.0,580.4 L1974.5,582.4 L1976.0,584.4 L1977.5,586.3 L1979.0,588.2 L1980.5,590.0 L1982.0,591.9 L1983.5,593.7 L1985.0,595.4 L1986.5,597.1 L1988.0,598.8 L1989.5,600.4 L1991.0,601.9 L1992.5,603.5 L1994.0,604.9 L1995.5,606.3 L1997.0,607.6 L1998.6,608.9 L2000.1,610.1 L2001.6,611.3 L2003.1,612.3 L2004.6,613.3 L2006.1,614.2 L2007.6,615.0 L2009.1,615.8 L2010.6,616.5 L2012.1,617.0 L2013.6,617.5 L2015.1,617.9 L2016.6,618.2 L2018.1,618.3 L2019.6,618.4 L2021.1,618.4 L2022.6,618.2 L2024.1,617.9 L2025.6,617.5 L2027.1,617.0 L2028.6,616.3 L2030.1,615.5 L2031.6,614.6 L2033.1,613.5 L2034.6,612.3 L2036.1,610.9 L2037.6,609.4 L2039.1,607.7 L2040.6,605.9 L2042.1,604.0 L2043.6,601.9 L2045.1,599.7 L2046.6,597.4 L2048.1,594.9 L2049.6,592.3 L2051.1,589.5 L2052.6,586.6 L2054.2,583.6 L2055.7,580.6 L2057.2,577.5 L2058.7,574.6 L2060.2,571.9 L2061.7,569.5 L2063.2,567.4 L2064.7,565.8 L2066.2,564.7 L2067.7,563.9 L2069.2,563.6 L2070.7,563.5 L2072.2,563.7 L2073.7,564.2 L2075.2,564.8 L2076.7,565.5 L2078.2,566.3 L2079.7,567.2 L2081.2,568.0 L2082.7,568.7 L2084.2,569.3 L2085.7,569.8 L2087.2,570.0 L2088.7,569.9 L2090.2,569.5 L2091.7,568.7 L2093.2,567.7 L2094.7,566.2 L2096.2,564.5 L2097.7,562.5 L2099.2,560.1 L2100.7,557.5 L2102.2,554.7 L2103.7,551.6 L2105.2,548.3 L2106.7,544.7 L2108.2,541.0 L2109.8,537.1 L2111.3,533.0 L2112.8,528.8 L2114.3,524.4 L2115.8,520.0 L2117.3,515.5 L2118.8,510.9 L2120.3,506.4 L2121.8,501.9 L2123.3,497.5 L2124.8,493.2 L2126.3,489.1 L2127.8,485.1 L2129.3,481.4 L2130.8,477.9 L2132.3,474.6 L2133.8,471.8 L2135.3,469.3 L2136.8,467.2 L2138.3,465.6 L2139.8,464.5 L2141.3,463.8 L2142.8,463.6 L2144.3,463.7 L2145.8,464.1 L2147.3,464.9 L2148.8,465.9 L2150.3,467.2 L2151.8,468.6 L2153.3,470.1 L2154.8,471.9 L2156.3,474.0 L2157.8,476.3 L2159.3,479.0 L2160.8,482.2 L2162.3,485.7 L2163.8,489.8 L2165.4,494.4 L2166.9,499.4 L2168.4,504.8 L2169.9,510.7 L2171.4,517.0 L2172.9,523.7 L2174.4,530.8 L2175.9,538.2 L2177.4,545.8 L2178.9,553.5 L2180.4,561.4 L2181.9,569.2 L2183.4,577.0 L2184.9,584.5 L2186.4,591.9 L2187.9,598.9 L2189.4,605.5 L2190.9,611.7 L2192.4,617.6 L2193.9,623.0 L2195.4,628.1 L2196.9,632.9 L2198.4,637.3 L2199.9,641.4 L2201.4,645.2 L2202.9,648.8 L2204.4,652.1 L2205.9,655.1 L2207.4,657.9 L2208.9,660.5 L2210.4,662.9 L2211.9,665.1 L2213.4,667.1 L2214.9,669.0 L2216.4,670.7 L2217.9,672.2 L2219.4,673.7 L2221.0,675.0 L2222.5,676.3 L2224.0,677.5 L2225.5,678.6 L2227.0,679.7 L2228.5,680.8 L2230.0,681.8 L2231.5,682.8 L2233.0,683.9 L2234.5,684.9 L2236.0,685.9 L2237.5,687.0 L2239.0,688.0 L2240.5,689.0 L2242.0,690.0 L2243.5,691.0 L2245.0,692.0 L2246.5,692.9 L2248.0,693.9 L2249.5,694.8 L2251.0,695.7 L2252.5,696.6 L2254.0,697.5 L2255.5,698.4 L2257.0,699.3 L2258.5,700.1 L2260.0,700.9 L2261.5,701.7 L2263.0,702.5 L2264.5,703.3 L2266.0,704.0 L2267.5,704.8 L2269.0,705.5 L2270.5,706.2 L2272.0,706.9 L2273.5,707.5 L2275.0,708.1 L2276.6,708.8 L2278.1,709.4 L2279.6,709.9 L2281.1,710.5 L2282.6,711.1 L2284.1,711.6 L2285.6,712.1 L2287.1,712.6 L2288.6,713.1 L2290.1,713.6 L2291.6,714.1 L2293.1,714.6 L2294.6,715.0 L2296.1,715.5 L2297.6,716.0 L2299.1,716.4 L2300.6,716.9 L2302.1,717.3 L2303.6,717.7 L2305.1,718.2 L2306.6,718.6 L2308.1,719.0 L2309.6,719.5 L2311.1,719.9 L2312.6,720.3 L2314.1,720.7 L2315.6,721.1 L2317.1,721.5 L2318.6,721.9 L2320.1,722.2 L2321.6,722.6 L2323.1,723.0 L2324.6,723.3 L2326.1,723.7 L2327.6,724.1 L2329.1,724.4 L2330.7,724.7 L2332.2,725.1 L2333.7,725.4 L2335.2,725.7 L2336.7,726.1 L2338.2,726.4 L2339.7,726.7 L2341.2,727.0 L2342.7,727.4 L2344.2,727.7 L2345.7,728.0 L2347.2,728.3 L2348.7,728.6 L2350.2,728.9 L2351.7,729.2 L2353.2,729.6 L2354.7,729.9 L2356.2,730.2 L2357.7,730.5 L2359.2,730.8 L2360.7,731.1 L2362.2,731.4 L2363.7,731.6 L2365.2,731.9 L2366.7,732.2 L2368.2,732.5 L2369.7,732.7 L2371.2,733.0 L2372.7,733.2 L2374.2,733.4 L2375.7,733.7 L2377.2,733.9 L2378.7,734.1 L2380.2,734.3 L2381.7,734.6 L2383.2,734.8 L2384.7,735.0 L2386.3,735.2 L2387.8,735.4 L2389.3,735.5 L2390.8,735.7 L2392.3,735.9 L2393.8,736.1 L2395.3,736.3 L2396.8,736.5 L2398.3,736.6 L2399.8,736.8 L2401.3,737.0 L2402.8,737.1 L2404.3,737.3 L2405.8,737.4 L2407.3,737.6 L2408.8,737.7 L2410.3,737.9 L2411.8,738.0 L2413.3,738.2 L2414.8,738.3 L2416.3,738.4 L2417.8,738.6 L2419.3,738.7 L2420.8,738.8 L2422.3,739.0 L2423.8,739.1 L2425.3,739.2 L2426.8,739.3 L2428.3,739.5 L2429.8,739.6 L2431.3,739.7 L2432.8,739.9 L2434.3,740.0 L2435.8,740.1 L2437.3,740.3 L2438.8,740.4 L2440.3,740.5 L2441.9,740.7 L2443.4,740.8 L2444.9,741.0 L2446.4,741.1 L2447.9,741.2 L2449.4,741.4 L2450.9,741.5 L2452.4,741.7 L2453.9,741.9 L2455.4,742.0 L2456.9,742.2 L2458.4,742.3 L2459.9,742.5 L2461.4,742.7 L2462.9,742.9 L2464.4,743.0 L2465.9,743.2 L2467.4,743.4 L2468.9,743.6" fill="none" stroke="#000000" stroke-width="2.2" stroke-linejoin="round"/>
<path d="M1472.6,743.3 L1474.1,743.0 L1475.6,742.7 L1477.1,742.5 L1478.6,742.2 L1480.1,742.0 L1481.6,741.8 L1483.1,741.6 L1484.6,741.4 L1486.1,741.2 L1487.6,741.0 L1489.1,740.8 L1490.6,740.7 L1492.1,740.6 L1493.6,740.4 L1495.1,740.3 L1496.6,740.2 L1498.1,740.1 L1499.6,740.0 L1501.2,739.8 L1502.7,739.7 L1504.2,739.6 L1505.7,739.5 L1507.2,739.3 L1508.7,739.1 L1510.2,739.0 L1511.7,738.8 L1513.2,738.6 L1514.7,738.4 L1516.2,738.2 L1517.7,738.0 L1519.2,737.8 L1520.7,737.6 L1522.2,737.5 L1523.7,737.3 L1525.2,737.1 L1526.7,736.9 L1528.2,736.7 L1529.7,736.5 L1531.2,736.4 L1532.7,736.2 L1534.2,736.0 L1535.7,735.8 L1537.2,735.6 L1538.7,735.4 L1540.2,735.3 L1541.7,735.1 L1543.2,734.8 L1544.7,734.6 L1546.2,734.4 L1547.7,734.2 L1549.2,733.9 L1550.7,733.7 L1552.2,733.4 L1553.7,733.1 L1555.2,732.8 L1556.8,732.5 L1558.3,732.1 L1559.8,731.8 L1561.3,731.4 L1562.8,731.0 L1564.3,730.5 L1565.8,730.1 L1567.3,729.6 L1568.8,729.1 L1570.3,728.6 L1571.8,728.1 L1573.3,727.5 L1574.8,726.9 L1576.3,726.3 L1577.8,725.6 L1579.3,724.9 L1580.8,724.2 L1582.3,723.5 L1583.8,722.7 L1585.3,721.9 L1586.8,721.1 L1588.3,720.2 L1589.8,719.3 L1591.3,718.4 L1592.8,717.5 L1594.3,716.5 L1595.8,715.4 L1597.3,714.3 L1598.8,713.2 L1600.3,712.0 L1601.8,710.8 L1603.3,709.5 L1604.8,708.1 L1606.3,706.7 L1607.8,705.1 L1609.3,703.5 L1610.8,701.9 L1612.4,700.1 L1613.9,698.2 L1615.4,696.3 L1616.9,694.2 L1618.4,692.1 L1619.9,689.8 L1621.4,687.4 L1622.9,684.8 L1624.4,682.2 L1625.9,679.4 L1627.4,676.4 L1628.9,673.3 L1630.4,670.0 L1631.9,666.6 L1633.4,663.0 L1634.9,659.3 L1636.4,655.4 L1637.9,651.3 L1639.4,647.0 L1640.9,642.6 L1642.4,638.0 L1643.9,633.1 L1645.4,628.1 L1646.9,623.0 L1648.4,617.6 L1649.9,612.2 L1651.4,606.6 L1652.9,601.0 L1654.4,595.3 L1655.9,589.6 L1657.4,584.0 L1658.9,578.4 L1660.4,573.0 L1661.9,567.6 L1663.4,562.5 L1664.9,557.5 L1666.5,552.7 L1668.0,548.0 L1669.5,543.6 L1671.0,539.4 L1672.5,535.3 L1674.0,531.5 L1675.5,527.8 L1677.0,524.4 L1678.5,521.1 L1680.0,518.0 L1681.5,515.2 L1683.0,512.5 L1684.5,510.0 L1686.0,507.8 L1687.5,505.7 L1689.0,503.9 L1690.5,502.3 L1692.0,500.8 L1693.5,499.6 L1695.0,498.7 L1696.5,497.9 L1698.0,497.4 L1699.5,497.1 L1701.0,497.0 L1702.5,497.2 L1704.0,497.6 L1705.5,498.2 L1707.0,499.1 L1708.5,500.3 L1710.0,501.7 L1711.5,503.4 L1713.0,505.3 L1714.5,507.6 L1716.0,510.1 L1717.5,512.9 L1719.0,516.0 L1720.5,519.4 L1722.1,523.0 L1723.6,527.0 L1725.1,531.0 L1726.6,535.0 L1728.1,538.9 L1729.6,542.5 L1731.1,545.8 L1732.6,548.6 L1734.1,551.1 L1735.6,553.1 L1737.1,554.8 L1738.6,556.0 L1740.1,556.9 L1741.6,557.4 L1743.1,557.5 L1744.6,557.3 L1746.1,556.6 L1747.6,555.7 L1749.1,554.3 L1750.6,552.7 L1752.1,550.7 L1753.6,548.3 L1755.1,545.6 L1756.6,542.7 L1758.1,539.4 L1759.6,535.8 L1761.1,532.0 L1762.6,527.9 L1764.1,523.5 L1765.6,519.0 L1767.1,514.3 L1768.6,509.3 L1770.1,504.2 L1771.6,499.0 L1773.1,493.6 L1774.6,488.1 L1776.1,482.5 L1777.7,476.8 L1779.2,471.0 L1780.7,465.2 L1782.2,459.3 L1783.7,453.3 L1785.2,447.3 L1786.7,441.2 L1788.2,435.1 L1789.7,428.9 L1791.2,422.6 L1792.7,416.3 L1794.2,410.0 L1795.7,403.6 L1797.2,397.2 L1798.7,390.7 L1800.2,384.2 L1801.7,377.7 L1803.2,371.1 L1804.7,364.6 L1806.2,358.0 L1807.7,351.4 L1809.2,344.8 L1810.7,338.2 L1812.2,331.6 L1813.7,325.1 L1815.2,318.7 L1816.7,312.2 L1818.2,305.9 L1819.7,299.6 L1821.2,293.4 L1822.7,287.4 L1824.2,281.4 L1825.7,275.8 L1827.2,270.4 L1828.7,265.4 L1830.2,261.0 L1831.7,257.0 L1833.3,253.6 L1834.8,250.7 L1836.3,248.3 L1837.8,246.3 L1839.3,244.8 L1840.8,243.6 L1842.3,242.8 L1843.8,242.4 L1845.3,242.3 L1846.8,242.6 L1848.3,243.2 L1849.8,244.2 L1851.3,245.5 L1852.8,247.2 L1854.3,249.3 L1855.8,251.7 L1857.3,254.5 L1858.8,257.7 L1860.3,261.3 L1861.8,265.2 L1863.3,269.5 L1864.8,274.3 L1866.3,279.4 L1867.8,284.9 L1869.3,290.7 L1870.8,296.9 L1872.3,303.3 L1873.8,310.0 L1875.3,316.9 L1876.8,324.0 L1878.3,331.3 L1879.8,338.7 L1881.3,346.3 L1882.8,353.8 L1884.3,361.5 L1885.8,369.1 L1887.3,376.8 L1888.9,384.4 L1890.4,391.9 L1891.9,399.3 L1893.4,406.5 L1894.9,413.7 L1896.4,420.6 L1897.9,427.2 L1899.4,433.7 L1900.9,439.8 L1902.4,445.6 L1903.9,451.2 L1905.4,456.4 L1906.9,461.4 L1908.4,466.2 L1909.9,470.7 L1911.4,475.0 L1912.9,479.1 L1914.4,482.9 L1915.9,486.6 L1917.4,490.2 L1918.9,493.5 L1920.4,496.8 L1921.9,499.9 L1923.4,502.8 L1924.9,505.7 L1926.4,508.5 L1927.9,511.2 L1929.4,513.9 L1930.9,516.5 L1932.4,519.1 L1933.9,521.6 L1935.4,524.1 L1936.9,526.6 L1938.4,529.0 L1939.9,531.4 L1941.4,533.7 L1942.9,536.1 L1944.5,538.4 L1946.0,540.6 L1947.5,542.9 L1949.0,545.1 L1950.5,547.3 L1952.0,549.5 L1953.5,551.6 L1955.0,553.8 L1956.5,555.9 L1958.0,558.0 L1959.5,560.1 L1961.0,562.2 L1962.5,564.3 L1964.0,566.3 L1965.5,568.4 L1967.0,570.4 L1968.5,572.5 L1970.0,574.5 L1971.5,576.5 L1973.0,578.5 L1974.5,580.5 L1976.0,582.4 L1977.5,584.4 L1979.0,586.3 L1980.5,588.1 L1982.0,590.0 L1983.5,591.8 L1985.0,593.5 L1986.5,595.2 L1988.0,596.9 L1989.5,598.5 L1991.0,600.1 L1992.5,601.6 L1994.0,603.1 L1995.5,604.5 L1997.0,605.8 L1998.6,607.1 L2000.1,608.3 L2001.6,609.4 L2003.1,610.5 L2004.6,611.5 L2006.1,612.4 L2007.6,613.2 L2009.1,614.0 L2010.6,614.7 L2012.1,615.2 L2013.6,615.7 L2015.1,616.1 L2016.6,616.4 L2018.1,616.6 L2019.6,616.6 L2021.1,616.6 L2022.6,616.5 L2024.1,616.2 L2025.6,615.8 L2027.1,615.3 L2028.6,614.6 L2030.1,613.9 L2031.6,613.0 L2033.1,611.9 L2034.6,610.7 L2036.1,609.4 L2037.6,608.0 L2039.1,606.3 L2040.6,604.6 L2042.1,602.7 L2043.6,600.7 L2045.1,598.5 L2046.6,596.2 L2048.1,593.8 L2049.6,591.2 L2051.1,588.6 L2052.6,585.7 L2054.2,582.8 L2055.7,579.8 L2057.2,576.8 L2058.7,573.9 L2060.2,571.3 L2061.7,568.9 L2063.2,566.9 L2064.7,565.3 L2066.2,564.2 L2067.7,563.5 L2069.2,563.2 L2070.7,563.1 L2072.2,563.4 L2073.7,563.8 L2075.2,564.4 L2076.7,565.2 L2078.2,566.0 L2079.7,566.8 L2081.2,567.6 L2082.7,568.4 L2084.2,569.0 L2085.7,569.4 L2087.2,569.6 L2088.7,569.5 L2090.2,569.2 L2091.7,568.4 L2093.2,567.3 L2094.7,565.9 L2096.2,564.2 L2097.7,562.2 L2099.2,559.9 L2100.7,557.4 L2102.2,554.6 L2103.7,551.6 L2105.2,548.3 L2106.7,544.8 L2108.2,541.2 L2109.8,537.3 L2111.3,533.3 L2112.8,529.2 L2114.3,524.9 L2115.8,520.5 L2117.3,516.1 L2118.8,511.6 L2120.3,507.1 L2121.8,502.7 L2123.3,498.3 L2124.8,494.0 L2126.3,489.9 L2127.8,485.8 L2129.3,482.0 L2130.8,478.4 L2132.3,474.9 L2133.8,471.8 L2135.3,469.0 L2136.8,466.4 L2138.3,464.2 L2139.8,462.4 L2141.3,460.9 L2142.8,459.7 L2144.3,458.7 L2145.8,458.0 L2147.3,457.5 L2148.8,457.2 L2150.3,457.1 L2151.8,457.1 L2153.3,457.3 L2154.8,457.8 L2156.3,458.6 L2157.8,459.8 L2159.3,461.5 L2160.8,463.7 L2162.3,466.6 L2163.8,470.3 L2165.4,474.6 L2166.9,479.5 L2168.4,485.1 L2169.9,491.4 L2171.4,498.2 L2172.9,505.5 L2174.4,513.3 L2175.9,521.4 L2177.4,529.8 L2178.9,538.4 L2180.4,547.0 L2181.9,555.7 L2183.4,564.3 L2184.9,572.7 L2186.4,580.9 L2187.9,588.8 L2189.4,596.2 L2190.9,603.1 L2192.4,609.7 L2193.9,615.8 L2195.4,621.6 L2196.9,626.9 L2198.4,631.9 L2199.9,636.6 L2201.4,640.9 L2202.9,645.0 L2204.4,648.7 L2205.9,652.1 L2207.4,655.3 L2208.9,658.2 L2210.4,660.9 L2211.9,663.4 L2213.4,665.7 L2214.9,667.7 L2216.4,669.7 L2217.9,671.4 L2219.4,673.0 L2221.0,674.5 L2222.5,675.9 L2224.0,677.2 L2225.5,678.4 L2227.0,679.5 L2228.5,680.6 L2230.0,681.7 L2231.5,682.8 L2233.0,683.8 L2234.5,684.9 L2236.0,685.9 L2237.5,686.9 L2239.0,687.9 L2240.5,688.9 L2242.0,689.9 L2243.5,690.8 L2245.0,691.8 L2246.5,692.7 L2248.0,693.7 L2249.5,694.6 L2251.0,695.5 L2252.5,696.4 L2254.0,697.2 L2255.5,698.1 L2257.0,698.9 L2258.5,699.8 L2260.0,700.6 L2261.5,701.4 L2263.0,702.2 L2264.5,702.9 L2266.0,703.7 L2267.5,704.4 L2269.0,705.1 L2270.5,705.8 L2272.0,706.5 L2273.5,707.1 L2275.0,707.8 L2276.6,708.4 L2278.1,709.0 L2279.6,709.6 L2281.1,710.2 L2282.6,710.7 L2284.1,711.3 L2285.6,711.8 L2287.1,712.3 L2288.6,712.8 L2290.1,713.3 L2291.6,713.8 L2293.1,714.3 L2294.6,714.7 L2296.1,715.2 L2297.6,715.7 L2299.1,716.1 L2300.6,716.6 L2302.1,717.0 L2303.6,717.5 L2305.1,717.9 L2306.6,718.3 L2308.1,718.8 L2309.6,719.2 L2311.1,719.6 L2312.6,720.0 L2314.1,720.4 L2315.6,720.8 L2317.1,721.2 L2318.6,721.6 L2320.1,722.0 L2321.6,722.4 L2323.1,722.8 L2324.6,723.1 L2326.1,723.5 L2327.6,723.8 L2329.1,724.2 L2330.7,724.5 L2332.2,724.9 L2333.7,725.2 L2335.2,725.5 L2336.7,725.9 L2338.2,726.2 L2339.7,726.5 L2341.2,726.8 L2342.7,727.2 L2344.2,727.5 L2345.7,727.8 L2347.2,728.1 L2348.7,728.4 L2350.2,728.8 L2351.7,729.1 L2353.2,729.4 L2354.7,729.7 L2356.2,730.0 L2357.7,730.3 L2359.2,730.6 L2360.7,730.9 L2362.2,731.2 L2363.7,731.5 L2365.2,731.8 L2366.7,732.1 L2368.2,732.3 L2369.7,732.6 L2371.2,732.8 L2372.7,733.1 L2374.2,733.3 L2375.7,733.6 L2377.2,733.8 L2378.7,734.0 L2380.2,734.2 L2381.7,734.5 L2383.2,734.7 L2384.7,734.9 L2386.3,735.1 L2387.8,735.3 L2389.3,735.5 L2390.8,735.6 L2392.3,735.8 L2393.8,736.0 L2395.3,736.2 L2396.8,736.4 L2398.3,736.5 L2399.8,736.7 L2401.3,736.9 L2402.8,737.0 L2404.3,737.2 L2405.8,737.4 L2407.3,737.5 L2408.8,737.7 L2410.3,737.8 L2411.8,738.0 L2413.3,738.1 L2414.8,738.2 L2416.3,738.4 L2417.8,738.5 L2419.3,738.6 L2420.8,738.8 L2422.3,738.9 L2423.8,739.0 L2425.3,739.2 L2426.8,739.3 L2428.3,739.4 L2429.8,739.5 L2431.3,739.7 L2432.8,739.8 L2434.3,739.9 L2435.8,740.1 L2437.3,740.2 L2438.8,740.4 L2440.3,740.5 L2441.9,740.6 L2443.4,740.8 L2444.9,740.9 L2446.4,741.1 L2447.9,741.2 L2449.4,741.4 L2450.9,741.5 L2452.4,741.7 L2453.9,741.8 L2455.4,742.0 L2456.9,742.2 L2458.4,742.3 L2459.9,742.5 L2461.4,742.7 L2462.9,742.8 L2464.4,743.0 L2465.9,743.2 L2467.4,743.4 L2468.9,743.6" fill="none" stroke="#0000ff" stroke-width="2.2" stroke-linejoin="round"/>
<path d="M1472.6,743.4 L1474.1,743.0 L1475.6,742.6 L1477.1,742.3 L1478.6,741.9 L1480.1,741.6 L1481.6,741.3 L1483.1,741.0 L1484.6,740.7 L1486.1,740.5 L1487.6,740.2 L1489.1,740.0 L1490.6,739.8 L1492.1,739.6 L1493.6,739.5 L1495.1,739.3 L1496.6,739.1 L1498.1,739.0 L1499.6,738.9 L1501.2,738.7 L1502.7,738.6 L1504.2,738.5 L1505.7,738.4 L1507.2,738.3 L1508.7,738.3 L1510.2,738.2 L1511.7,738.1 L1513.2,738.0 L1514.7,738.0 L1516.2,737.9 L1517.7,737.8 L1519.2,737.8 L1520.7,737.7 L1522.2,737.6 L1523.7,737.6 L1525.2,737.5 L1526.7,737.4 L1528.2,737.3 L1529.7,737.2 L1531.2,737.1 L1532.7,737.0 L1534.2,736.9 L1535.7,736.8 L1537.2,736.7 L1538.7,736.5 L1540.2,736.4 L1541.7,736.2 L1543.2,736.1 L1544.7,735.9 L1546.2,735.7 L1547.7,735.5 L1549.2,735.2 L1550.7,735.0 L1552.2,734.7 L1553.7,734.5 L1555.2,734.1 L1556.8,733.8 L1558.3,733.5 L1559.8,733.1 L1561.3,732.7 L1562.8,732.3 L1564.3,731.9 L1565.8,731.5 L1567.3,731.0 L1568.8,730.5 L1570.3,729.9 L1571.8,729.4 L1573.3,728.8 L1574.8,728.2 L1576.3,727.5 L1577.8,726.9 L1579.3,726.2 L1580.8,725.4 L1582.3,724.6 L1583.8,723.8 L1585.3,723.0 L1586.8,722.1 L1588.3,721.2 L1589.8,720.3 L1591.3,719.3 L1592.8,718.2 L1594.3,717.2 L1595.8,716.1 L1597.3,714.9 L1598.8,713.7 L1600.3,712.5 L1601.8,711.2 L1603.3,709.9 L1604.8,708.4 L1606.3,707.0 L1607.8,705.4 L1609.3,703.8 L1610.8,702.1 L1612.4,700.3 L1613.9,698.4 L1615.4,696.4 L1616.9,694.3 L1618.4,692.1 L1619.9,689.8 L1621.4,687.4 L1622.9,684.8 L1624.4,682.2 L1625.9,679.4 L1627.4,676.4 L1628.9,673.4 L1630.4,670.1 L1631.9,666.8 L1633.4,663.3 L1634.9,659.6 L1636.4,655.7 L1637.9,651.7 L1639.4,647.5 L1640.9,643.2 L1642.4,638.6 L1643.9,633.9 L1645.4,629.0 L1646.9,623.9 L1648.4,618.6 L1649.9,613.1 L1651.4,607.6 L1652.9,602.0 L1654.4,596.3 L1655.9,590.6 L1657.4,585.0 L1658.9,579.4 L1660.4,573.8 L1661.9,568.4 L1663.4,563.2 L1664.9,558.1 L1666.5,553.2 L1668.0,548.5 L1669.5,543.9 L1671.0,539.5 L1672.5,535.4 L1674.0,531.4 L1675.5,527.6 L1677.0,524.0 L1678.5,520.6 L1680.0,517.3 L1681.5,514.3 L1683.0,511.5 L1684.5,508.9 L1686.0,506.5 L1687.5,504.3 L1689.0,502.4 L1690.5,500.6 L1692.0,499.1 L1693.5,497.8 L1695.0,496.7 L1696.5,495.9 L1698.0,495.3 L1699.5,495.0 L1701.0,494.9 L1702.5,495.1 L1704.0,495.5 L1705.5,496.2 L1707.0,497.1 L1708.5,498.3 L1710.0,499.8 L1711.5,501.5 L1713.0,503.5 L1714.5,505.8 L1716.0,508.4 L1717.5,511.3 L1719.0,514.5 L1720.5,518.0 L1722.1,521.7 L1723.6,525.7 L1725.1,529.8 L1726.6,533.9 L1728.1,537.9 L1729.6,541.6 L1731.1,544.9 L1732.6,547.8 L1734.1,550.3 L1735.6,552.3 L1737.1,554.0 L1738.6,555.3 L1740.1,556.2 L1741.6,556.7 L1743.1,556.8 L1744.6,556.5 L1746.1,555.9 L1747.6,554.9 L1749.1,553.5 L1750.6,551.8 L1752.1,549.8 L1753.6,547.4 L1755.1,544.7 L1756.6,541.6 L1758.1,538.3 L1759.6,534.6 L1761.1,530.7 L1762.6,526.5 L1764.1,522.1 L1765.6,517.4 L1767.1,512.6 L1768.6,507.5 L1770.1,502.3 L1771.6,496.9 L1773.1,491.4 L1774.6,485.7 L1776.1,479.9 L1777.7,474.1 L1779.2,468.1 L1780.7,462.1 L1782.2,456.0 L1783.7,449.8 L1785.2,443.6 L1786.7,437.3 L1788.2,430.9 L1789.7,424.5 L1791.2,418.0 L1792.7,411.5 L1794.2,404.9 L1795.7,398.2 L1797.2,391.6 L1798.7,384.8 L1800.2,378.0 L1801.7,371.2 L1803.2,364.4 L1804.7,357.5 L1806.2,350.6 L1807.7,343.7 L1809.2,336.8 L1810.7,329.9 L1812.2,323.0 L1813.7,316.2 L1815.2,309.4 L1816.7,302.7 L1818.2,296.0 L1819.7,289.4 L1821.2,283.0 L1822.7,276.6 L1824.2,270.4 L1825.7,264.4 L1827.2,258.8 L1828.7,253.5 L1830.2,248.8 L1831.7,244.6 L1833.3,241.0 L1834.8,238.0 L1836.3,235.4 L1837.8,233.3 L1839.3,231.6 L1840.8,230.3 L1842.3,229.5 L1843.8,229.0 L1845.3,228.9 L1846.8,229.1 L1848.3,229.7 L1849.8,230.6 L1851.3,231.9 L1852.8,233.6 L1854.3,235.7 L1855.8,238.2 L1857.3,241.0 L1858.8,244.3 L1860.3,247.9 L1861.8,251.9 L1863.3,256.3 L1864.8,261.2 L1866.3,266.4 L1867.8,272.0 L1869.3,278.0 L1870.8,284.3 L1872.3,290.9 L1873.8,297.7 L1875.3,304.8 L1876.8,312.1 L1878.3,319.6 L1879.8,327.2 L1881.3,334.9 L1882.8,342.7 L1884.3,350.5 L1885.8,358.4 L1887.3,366.2 L1888.9,374.0 L1890.4,381.7 L1891.9,389.3 L1893.4,396.8 L1894.9,404.1 L1896.4,411.2 L1897.9,418.0 L1899.4,424.6 L1900.9,430.9 L1902.4,436.9 L1903.9,442.6 L1905.4,448.0 L1906.9,453.2 L1908.4,458.1 L1909.9,462.7 L1911.4,467.1 L1912.9,471.3 L1914.4,475.3 L1915.9,479.1 L1917.4,482.7 L1918.9,486.2 L1920.4,489.5 L1921.9,492.7 L1923.4,495.7 L1924.9,498.7 L1926.4,501.6 L1927.9,504.4 L1929.4,507.1 L1930.9,509.8 L1932.4,512.4 L1933.9,515.1 L1935.4,517.6 L1936.9,520.1 L1938.4,522.6 L1939.9,525.1 L1941.4,527.5 L1942.9,529.9 L1944.5,532.3 L1946.0,534.6 L1947.5,536.9 L1949.0,539.2 L1950.5,541.5 L1952.0,543.7 L1953.5,546.0 L1955.0,548.2 L1956.5,550.4 L1958.0,552.5 L1959.5,554.7 L1961.0,556.8 L1962.5,559.0 L1964.0,561.1 L1965.5,563.2 L1967.0,565.3 L1968.5,567.4 L1970.0,569.5 L1971.5,571.6 L1973.0,573.7 L1974.5,575.7 L1976.0,577.7 L1977.5,579.7 L1979.0,581.6 L1980.5,583.6 L1982.0,585.4 L1983.5,587.3 L1985.0,589.1 L1986.5,590.9 L1988.0,592.6 L1989.5,594.3 L1991.0,595.9 L1992.5,597.4 L1994.0,598.9 L1995.5,600.4 L1997.0,601.8 L1998.6,603.1 L2000.1,604.3 L2001.6,605.5 L2003.1,606.6 L2004.6,607.6 L2006.1,608.6 L2007.6,609.4 L2009.1,610.2 L2010.6,610.9 L2012.1,611.5 L2013.6,612.0 L2015.1,612.4 L2016.6,612.7 L2018.1,612.9 L2019.6,613.0 L2021.1,613.0 L2022.6,612.9 L2024.1,612.7 L2025.6,612.3 L2027.1,611.8 L2028.6,611.2 L2030.1,610.5 L2031.6,609.7 L2033.1,608.7 L2034.6,607.6 L2036.1,606.4 L2037.6,605.0 L2039.1,603.5 L2040.6,601.8 L2042.1,600.0 L2043.6,598.1 L2045.1,596.0 L2046.6,593.8 L2048.1,591.5 L2049.6,589.1 L2051.1,586.5 L2052.6,583.8 L2054.2,580.9 L2055.7,578.0 L2057.2,575.1 L2058.7,572.4 L2060.2,569.8 L2061.7,567.5 L2063.2,565.6 L2064.7,564.1 L2066.2,563.1 L2067.7,562.4 L2069.2,562.1 L2070.7,562.1 L2072.2,562.3 L2073.7,562.7 L2075.2,563.3 L2076.7,564.0 L2078.2,564.7 L2079.7,565.5 L2081.2,566.2 L2082.7,566.8 L2084.2,567.3 L2085.7,567.6 L2087.2,567.6 L2088.7,567.4 L2090.2,566.9 L2091.7,566.0 L2093.2,564.8 L2094.7,563.3 L2096.2,561.4 L2097.7,559.2 L2099.2,556.8 L2100.7,554.1 L2102.2,551.1 L2103.7,547.8 L2105.2,544.4 L2106.7,540.7 L2108.2,536.8 L2109.8,532.7 L2111.3,528.5 L2112.8,524.1 L2114.3,519.5 L2115.8,514.9 L2117.3,510.2 L2118.8,505.4 L2120.3,500.7 L2121.8,496.0 L2123.3,491.3 L2124.8,486.7 L2126.3,482.3 L2127.8,478.0 L2129.3,473.9 L2130.8,470.0 L2132.3,466.3 L2133.8,462.9 L2135.3,459.9 L2136.8,457.1 L2138.3,454.8 L2139.8,452.8 L2141.3,451.1 L2142.8,449.8 L2144.3,448.7 L2145.8,447.9 L2147.3,447.4 L2148.8,447.0 L2150.3,446.9 L2151.8,446.9 L2153.3,447.1 L2154.8,447.6 L2156.3,448.4 L2157.8,449.7 L2159.3,451.4 L2160.8,453.8 L2162.3,456.9 L2163.8,460.7 L2165.4,465.2 L2166.9,470.4 L2168.4,476.2 L2169.9,482.7 L2171.4,489.8 L2172.9,497.4 L2174.4,505.5 L2175.9,513.9 L2177.4,522.7 L2178.9,531.6 L2180.4,540.6 L2181.9,549.6 L2183.4,558.5 L2184.9,567.3 L2186.4,575.8 L2187.9,583.9 L2189.4,591.6 L2190.9,598.8 L2192.4,605.6 L2193.9,611.9 L2195.4,617.9 L2196.9,623.4 L2198.4,628.6 L2199.9,633.5 L2201.4,638.0 L2202.9,642.1 L2204.4,646.0 L2205.9,649.5 L2207.4,652.8 L2208.9,655.9 L2210.4,658.6 L2211.9,661.2 L2213.4,663.5 L2214.9,665.7 L2216.4,667.7 L2217.9,669.5 L2219.4,671.1 L2221.0,672.7 L2222.5,674.1 L2224.0,675.4 L2225.5,676.7 L2227.0,677.8 L2228.5,679.0 L2230.0,680.1 L2231.5,681.1 L2233.0,682.2 L2234.5,683.3 L2236.0,684.3 L2237.5,685.3 L2239.0,686.3 L2240.5,687.3 L2242.0,688.3 L2243.5,689.3 L2245.0,690.2 L2246.5,691.1 L2248.0,692.1 L2249.5,693.0 L2251.0,693.9 L2252.5,694.8 L2254.0,695.6 L2255.5,696.5 L2257.0,697.3 L2258.5,698.2 L2260.0,699.0 L2261.5,699.8 L2263.0,700.6 L2264.5,701.3 L2266.0,702.1 L2267.5,702.9 L2269.0,703.6 L2270.5,704.3 L2272.0,705.1 L2273.5,705.8 L2275.0,706.5 L2276.6,707.1 L2278.1,707.8 L2279.6,708.5 L2281.1,709.1 L2282.6,709.8 L2284.1,710.4 L2285.6,711.0 L2287.1,711.6 L2288.6,712.2 L2290.1,712.8 L2291.6,713.4 L2293.1,713.9 L2294.6,714.5 L2296.1,715.0 L2297.6,715.6 L2299.1,716.1 L2300.6,716.6 L2302.1,717.1 L2303.6,717.6 L2305.1,718.1 L2306.6,718.6 L2308.1,719.1 L2309.6,719.5 L2311.1,720.0 L2312.6,720.4 L2314.1,720.9 L2315.6,721.3 L2317.1,721.7 L2318.6,722.1 L2320.1,722.5 L2321.6,722.9 L2323.1,723.3 L2324.6,723.7 L2326.1,724.1 L2327.6,724.4 L2329.1,724.8 L2330.7,725.1 L2332.2,725.5 L2333.7,725.8 L2335.2,726.2 L2336.7,726.5 L2338.2,726.8 L2339.7,727.1 L2341.2,727.4 L2342.7,727.7 L2344.2,728.0 L2345.7,728.3 L2347.2,728.6 L2348.7,728.9 L2350.2,729.1 L2351.7,729.4 L2353.2,729.7 L2354.7,729.9 L2356.2,730.2 L2357.7,730.4 L2359.2,730.6 L2360.7,730.9 L2362.2,731.1 L2363.7,731.3 L2365.2,731.6 L2366.7,731.8 L2368.2,732.0 L2369.7,732.2 L2371.2,732.4 L2372.7,732.6 L2374.2,732.8 L2375.7,733.0 L2377.2,733.2 L2378.7,733.4 L2380.2,733.6 L2381.7,733.8 L2383.2,734.0 L2384.7,734.1 L2386.3,734.3 L2387.8,734.5 L2389.3,734.7 L2390.8,734.8 L2392.3,735.0 L2393.8,735.2 L2395.3,735.3 L2396.8,735.5 L2398.3,735.7 L2399.8,735.8 L2401.3,736.0 L2402.8,736.1 L2404.3,736.3 L2405.8,736.4 L2407.3,736.6 L2408.8,736.7 L2410.3,736.9 L2411.8,737.1 L2413.3,737.2 L2414.8,737.4 L2416.3,737.5 L2417.8,737.7 L2419.3,737.8 L2420.8,738.0 L2422.3,738.1 L2423.8,738.3 L2425.3,738.4 L2426.8,738.6 L2428.3,738.7 L2429.8,738.9 L2431.3,739.0 L2432.8,739.2 L2434.3,739.4 L2435.8,739.5 L2437.3,739.7 L2438.8,739.9 L2440.3,740.0 L2441.9,740.2 L2443.4,740.4 L2444.9,740.5 L2446.4,740.7 L2447.9,740.9 L2449.4,741.1 L2450.9,741.2 L2452.4,741.4 L2453.9,741.6 L2455.4,741.8 L2456.9,742.0 L2458.4,742.2 L2459.9,742.4 L2461.4,742.6 L2462.9,742.8 L2464.4,743.0 L2465.9,743.2 L2467.4,743.5 L2468.9,743.7" fill="none" stroke="#ff0000" stroke-width="2.2" stroke-linejoin="round"/>
<path d="M200.5,1761.4 L202.0,1760.9 L203.5,1760.4 L205.0,1759.9 L206.5,1759.4 L208.0,1758.9 L209.5,1758.4 L211.0,1757.9 L212.5,1757.4 L214.0,1756.9 L215.5,1756.4 L217.0,1755.8 L218.5,1755.3 L220.0,1754.8 L221.5,1754.3 L223.0,1753.8 L224.5,1753.4 L226.1,1752.9 L227.6,1752.5 L229.1,1752.0 L230.6,1751.6 L232.1,1751.1 L233.6,1750.7 L235.1,1750.3 L236.6,1749.9 L238.1,1749.5 L239.6,1749.1 L241.1,1748.6 L242.6,1748.2 L244.1,1747.8 L245.6,1747.4 L247.1,1747.0 L248.6,1746.6 L250.1,1746.1 L251.6,1745.7 L253.1,1745.2 L254.6,1744.8 L256.1,1744.3 L257.6,1743.9 L259.1,1743.4 L260.6,1742.9 L262.1,1742.4 L263.6,1741.9 L265.1,1741.3 L266.6,1740.8 L268.1,1740.2 L269.6,1739.6 L271.1,1739.0 L272.6,1738.4 L274.2,1737.7 L275.7,1737.1 L277.2,1736.4 L278.7,1735.8 L280.2,1735.1 L281.7,1734.4 L283.2,1733.7 L284.7,1732.9 L286.2,1732.2 L287.7,1731.5 L289.2,1730.8 L290.7,1730.0 L292.2,1729.3 L293.7,1728.5 L295.2,1727.8 L296.7,1727.1 L298.2,1726.3 L299.7,1725.6 L301.2,1724.9 L302.7,1724.2 L304.2,1723.4 L305.7,1722.7 L307.2,1722.0 L308.7,1721.4 L310.2,1720.7 L311.7,1720.0 L313.2,1719.4 L314.7,1718.7 L316.2,1718.1 L317.7,1717.5 L319.2,1716.9 L320.7,1716.4 L322.2,1715.8 L323.8,1715.3 L325.3,1714.8 L326.8,1714.3 L328.3,1713.9 L329.8,1713.5 L331.3,1713.1 L332.8,1712.7 L334.3,1712.4 L335.8,1712.0 L337.3,1711.8 L338.8,1711.5 L340.3,1711.2 L341.8,1711.0 L343.3,1710.8 L344.8,1710.6 L346.3,1710.4 L347.8,1710.3 L349.3,1710.2 L350.8,1710.1 L352.3,1710.0 L353.8,1709.9 L355.3,1709.8 L356.8,1709.7 L358.3,1709.7 L359.8,1709.7 L361.3,1709.7 L362.8,1709.6 L364.3,1709.6 L365.8,1709.7 L367.3,1709.7 L368.8,1709.7 L370.3,1709.7 L371.8,1709.8 L373.4,1709.8 L374.9,1709.9 L376.4,1709.9 L377.9,1710.0 L379.4,1710.0 L380.9,1710.1 L382.4,1710.1 L383.9,1710.2 L385.4,1710.2 L386.9,1710.3 L388.4,1710.3 L389.9,1710.4 L391.4,1710.4 L392.9,1710.5 L394.4,1710.5 L395.9,1710.5 L397.4,1710.5 L398.9,1710.5 L400.4,1710.5 L401.9,1710.5 L403.4,1710.5 L404.9,1710.4 L406.4,1710.4 L407.9,1710.3 L409.4,1710.3 L410.9,1710.2 L412.4,1710.1 L413.9,1709.9 L415.4,1709.8 L416.9,1709.6 L418.4,1709.4 L419.9,1709.2 L421.5,1709.0 L423.0,1708.8 L424.5,1708.5 L426.0,1708.2 L427.5,1707.9 L429.0,1707.6 L430.5,1707.2 L432.0,1706.9 L433.5,1706.5 L435.0,1706.0 L436.5,1705.6 L438.0,1705.1 L439.5,1704.6 L441.0,1704.1 L442.5,1703.6 L444.0,1703.1 L445.5,1702.5 L447.0,1702.0 L448.5,1701.4 L450.0,1700.9 L451.5,1700.3 L453.0,1699.7 L454.5,1699.1 L456.0,1698.6 L457.5,1698.0 L459.0,1697.4 L460.5,1696.9 L462.0,1696.3 L463.5,1695.7 L465.0,1695.2 L466.5,1694.7 L468.0,1694.1 L469.5,1693.6 L471.1,1693.1 L472.6,1692.6 L474.1,1692.2 L475.6,1691.7 L477.1,1691.2 L478.6,1690.8 L480.1,1690.3 L481.6,1689.9 L483.1,1689.4 L484.6,1689.0 L486.1,1688.6 L487.6,1688.1 L489.1,1687.7 L490.6,1687.3 L492.1,1686.8 L493.6,1686.4 L495.1,1686.0 L496.6,1685.5 L498.1,1685.1 L499.6,1684.7 L501.1,1684.2 L502.6,1683.8 L504.1,1683.3 L505.6,1682.9 L507.1,1682.4 L508.6,1681.9 L510.1,1681.4 L511.6,1680.9 L513.1,1680.4 L514.6,1679.9 L516.1,1679.4 L517.6,1678.8 L519.2,1678.3 L520.7,1677.7 L522.2,1677.1 L523.7,1676.5 L525.2,1675.9 L526.7,1675.3 L528.2,1674.7 L529.7,1674.2 L531.2,1673.6 L532.7,1673.0 L534.2,1672.4 L535.7,1671.8 L537.2,1671.3 L538.7,1670.8 L540.2,1670.3 L541.7,1669.8 L543.2,1669.3 L544.7,1668.9 L546.2,1668.5 L547.7,1668.2 L549.2,1667.9 L550.7,1667.6 L552.2,1667.3 L553.7,1667.1 L555.2,1667.0 L556.7,1666.9 L558.2,1666.8 L559.7,1666.8 L561.2,1666.7 L562.7,1666.8 L564.2,1666.8 L565.7,1666.9 L567.2,1667.1 L568.8,1667.2 L570.3,1667.4 L571.8,1667.6 L573.3,1667.9 L574.8,1668.1 L576.3,1668.4 L577.8,1668.8 L579.3,1669.1 L580.8,1669.5 L582.3,1669.9 L583.8,1670.4 L585.3,1670.8 L586.8,1671.3 L588.3,1671.8 L589.8,1672.4 L591.3,1672.9 L592.8,1673.5 L594.3,1674.1 L595.8,1674.7 L597.3,1675.4 L598.8,1676.1 L600.3,1676.8 L601.8,1677.5 L603.3,1678.3 L604.8,1679.0 L606.3,1679.8 L607.8,1680.6 L609.3,1681.5 L610.8,1682.3 L612.3,1683.2 L613.8,1684.1 L615.3,1685.0 L616.8,1685.9 L618.4,1686.8 L619.9,1687.8 L621.4,1688.8 L622.9,1689.7 L624.4,1690.7 L625.9,1691.7 L627.4,1692.6 L628.9,1693.6 L630.4,1694.6 L631.9,1695.5 L633.4,1696.4 L634.9,1697.3 L636.4,1698.2 L637.9,1699.1 L639.4,1699.9 L640.9,1700.7 L642.4,1701.5 L643.9,1702.3 L645.4,1703.0 L646.9,1703.7 L648.4,1704.4 L649.9,1705.1 L651.4,1705.8 L652.9,1706.4 L654.4,1707.1 L655.9,1707.7 L657.4,1708.3 L658.9,1708.9 L660.4,1709.5 L661.9,1710.1 L663.4,1710.6 L664.9,1711.2 L666.5,1711.7 L668.0,1712.3 L669.5,1712.8 L671.0,1713.3 L672.5,1713.9 L674.0,1714.4 L675.5,1714.9 L677.0,1715.3 L678.5,1715.8 L680.0,1716.3 L681.5,1716.8 L683.0,1717.2 L684.5,1717.7 L686.0,1718.1 L687.5,1718.6 L689.0,1719.0 L690.5,1719.4 L692.0,1719.8 L693.5,1720.2 L695.0,1720.6 L696.5,1721.0 L698.0,1721.4 L699.5,1721.8 L701.0,1722.2 L702.5,1722.5 L704.0,1722.9 L705.5,1723.2 L707.0,1723.6 L708.5,1723.9 L710.0,1724.3 L711.5,1724.6 L713.0,1724.9 L714.5,1725.2 L716.1,1725.6 L717.6,1725.9 L719.1,1726.2 L720.6,1726.5 L722.1,1726.8 L723.6,1727.1 L725.1,1727.4 L726.6,1727.6 L728.1,1727.9 L729.6,1728.2 L731.1,1728.5 L732.6,1728.7 L734.1,1729.0 L735.6,1729.3 L737.1,1729.5 L738.6,1729.8 L740.1,1730.0 L741.6,1730.3 L743.1,1730.5 L744.6,1730.8 L746.1,1731.0 L747.6,1731.2 L749.1,1731.5 L750.6,1731.7 L752.1,1731.9 L753.6,1732.1 L755.1,1732.4 L756.6,1732.6 L758.1,1732.8 L759.6,1733.0 L761.1,1733.3 L762.6,1733.5 L764.2,1733.7 L765.7,1733.9 L767.2,1734.1 L768.7,1734.3 L770.2,1734.5 L771.7,1734.8 L773.2,1735.0 L774.7,1735.2 L776.2,1735.4 L777.7,1735.6 L779.2,1735.8 L780.7,1736.0 L782.2,1736.2 L783.7,1736.4 L785.2,1736.6 L786.7,1736.8 L788.2,1737.0 L789.7,1737.1 L791.2,1737.3 L792.7,1737.5 L794.2,1737.7 L795.7,1737.8 L797.2,1738.0 L798.7,1738.1 L800.2,1738.3 L801.7,1738.4 L803.2,1738.6 L804.7,1738.7 L806.2,1738.8 L807.7,1738.9 L809.2,1739.1 L810.7,1739.2 L812.2,1739.3 L813.8,1739.4 L815.3,1739.4 L816.8,1739.5 L818.3,1739.6 L819.8,1739.6 L821.3,1739.7 L822.8,1739.7 L824.3,1739.7 L825.8,1739.8 L827.3,1739.8 L828.8,1739.8 L830.3,1739.8 L831.8,1739.7 L833.3,1739.7 L834.8,1739.6 L836.3,1739.6 L837.8,1739.5 L839.3,1739.4 L840.8,1739.3 L842.3,1739.2 L843.8,1739.1 L845.3,1739.0 L846.8,1738.9 L848.3,1738.7 L849.8,1738.5 L851.3,1738.4 L852.8,1738.2 L854.3,1738.0 L855.8,1737.8 L857.3,1737.6 L858.8,1737.4 L860.3,1737.2 L861.8,1737.0 L863.4,1736.7 L864.9,1736.5 L866.4,1736.3 L867.9,1736.0 L869.4,1735.8 L870.9,1735.5 L872.4,1735.2 L873.9,1735.0 L875.4,1734.7 L876.9,1734.5 L878.4,1734.2 L879.9,1733.9 L881.4,1733.7 L882.9,1733.4 L884.4,1733.1 L885.9,1732.8 L887.4,1732.6 L888.9,1732.3 L890.4,1732.0 L891.9,1731.8 L893.4,1731.5 L894.9,1731.3 L896.4,1731.0 L897.9,1730.8 L899.4,1730.5 L900.9,1730.3 L902.4,1730.0 L903.9,1729.8 L905.4,1729.6 L906.9,1729.4 L908.4,1729.1 L909.9,1728.9 L911.5,1728.7 L913.0,1728.6 L914.5,1728.4 L916.0,1728.2 L917.5,1728.0 L919.0,1727.9 L920.5,1727.7 L922.0,1727.6 L923.5,1727.4 L925.0,1727.3 L926.5,1727.2 L928.0,1727.1 L929.5,1726.9 L931.0,1726.8 L932.5,1726.7 L934.0,1726.6 L935.5,1726.5 L937.0,1726.3 L938.5,1726.2 L940.0,1726.1 L941.5,1726.0 L943.0,1725.9 L944.5,1725.8 L946.0,1725.6 L947.5,1725.5 L949.0,1725.4 L950.5,1725.2 L952.0,1725.1 L953.5,1724.9 L955.0,1724.8 L956.5,1724.6 L958.0,1724.4 L959.5,1724.3 L961.1,1724.1 L962.6,1723.9 L964.1,1723.7 L965.6,1723.5 L967.1,1723.3 L968.6,1723.0 L970.1,1722.8 L971.6,1722.5 L973.1,1722.3 L974.6,1722.0 L976.1,1721.7 L977.6,1721.5 L979.1,1721.2 L980.6,1720.9 L982.1,1720.6 L983.6,1720.3 L985.1,1719.9 L986.6,1719.6 L988.1,1719.3 L989.6,1718.9 L991.1,1718.6 L992.6,1718.2 L994.1,1717.9 L995.6,1717.5 L997.1,1717.2 L998.6,1716.8 L1000.1,1716.5 L1001.6,1716.1 L1003.1,1715.8 L1004.6,1715.5 L1006.1,1715.1 L1007.6,1714.8 L1009.2,1714.6 L1010.7,1714.3 L1012.2,1714.0 L1013.7,1713.8 L1015.2,1713.6 L1016.7,1713.4 L1018.2,1713.3 L1019.7,1713.1 L1021.2,1713.0 L1022.7,1713.0 L1024.2,1712.9 L1025.7,1712.9 L1027.2,1712.9 L1028.7,1713.0 L1030.2,1713.1 L1031.7,1713.2 L1033.2,1713.4 L1034.7,1713.7 L1036.2,1713.9 L1037.7,1714.3 L1039.2,1714.6 L1040.7,1715.0 L1042.2,1715.5 L1043.7,1716.0 L1045.2,1716.6 L1046.7,1717.2 L1048.2,1717.9 L1049.7,1718.6 L1051.2,1719.4 L1052.7,1720.3 L1054.2,1721.2 L1055.7,1722.1 L1057.2,1723.1 L1058.8,1724.1 L1060.3,1725.2 L1061.8,1726.2 L1063.3,1727.4 L1064.8,1728.5 L1066.3,1729.6 L1067.8,1730.8 L1069.3,1731.9 L1070.8,1733.0 L1072.3,1734.2 L1073.8,1735.3 L1075.3,1736.4 L1076.8,1737.5 L1078.3,1738.6 L1079.8,1739.6 L1081.3,1740.6 L1082.8,1741.6 L1084.3,1742.5 L1085.8,1743.4 L1087.3,1744.3 L1088.8,1745.1 L1090.3,1745.8 L1091.8,1746.6 L1093.3,1747.3 L1094.8,1747.9 L1096.3,1748.6 L1097.8,1749.2 L1099.3,1749.7 L1100.8,1750.3 L1102.3,1750.8 L1103.8,1751.2 L1105.3,1751.7 L1106.8,1752.1 L1108.4,1752.5 L1109.9,1752.9 L1111.4,1753.3 L1112.9,1753.6 L1114.4,1753.9 L1115.9,1754.2 L1117.4,1754.5 L1118.9,1754.7 L1120.4,1755.0 L1121.9,1755.2 L1123.4,1755.4 L1124.9,1755.6 L1126.4,1755.8 L1127.9,1756.0 L1129.4,1756.2 L1130.9,1756.3 L1132.4,1756.5 L1133.9,1756.6 L1135.4,1756.8 L1136.9,1756.9 L1138.4,1757.0 L1139.9,1757.2 L1141.4,1757.3 L1142.9,1757.4 L1144.4,1757.6 L1145.9,1757.7 L1147.4,1757.8 L1148.9,1758.0 L1150.4,1758.1 L1151.9,1758.3 L1153.4,1758.4 L1154.9,1758.6 L1156.5,1758.8 L1158.0,1759.0 L1159.5,1759.2 L1161.0,1759.4 L1162.5,1759.6 L1164.0,1759.8 L1165.5,1759.9 L1167.0,1760.1 L1168.5,1760.2 L1170.0,1760.4 L1171.5,1760.5 L1173.0,1760.7 L1174.5,1760.8 L1176.0,1761.0 L1177.5,1761.1 L1179.0,1761.3 L1180.5,1761.4" fill="none" stroke="#808000" stroke-width="2.2" stroke-linejoin="round"/>
<path d="M200.5,1761.4 L202.0,1760.7 L203.5,1760.0 L205.0,1759.4 L206.5,1758.7 L208.0,1758.1 L209.5,1757.5 L211.0,1756.8 L212.5,1756.2 L214.0,1755.6 L215.5,1755.0 L217.0,1754.4 L218.5,1753.8 L220.0,1753.2 L221.5,1752.6 L223.0,1752.0 L224.5,1751.4 L226.1,1750.8 L227.6,1750.2 L229.1,1749.6 L230.6,1749.0 L232.1,1748.5 L233.6,1747.9 L235.1,1747.3 L236.6,1746.7 L238.1,1746.1 L239.6,1745.5 L241.1,1744.8 L242.6,1744.1 L244.1,1743.3 L245.6,1742.5 L247.1,1741.7 L248.6,1740.7 L250.1,1739.8 L251.6,1738.7 L253.1,1737.6 L254.6,1736.5 L256.1,1735.3 L257.6,1734.1 L259.1,1732.8 L260.6,1731.5 L262.1,1730.2 L263.6,1728.8 L265.1,1727.5 L266.6,1726.1 L268.1,1724.8 L269.6,1723.4 L271.1,1722.1 L272.6,1720.8 L274.2,1719.5 L275.7,1718.1 L277.2,1716.8 L278.7,1715.5 L280.2,1714.2 L281.7,1713.0 L283.2,1711.7 L284.7,1710.4 L286.2,1709.1 L287.7,1707.8 L289.2,1706.5 L290.7,1705.3 L292.2,1704.0 L293.7,1702.7 L295.2,1701.4 L296.7,1700.2 L298.2,1698.9 L299.7,1697.7 L301.2,1696.5 L302.7,1695.3 L304.2,1694.2 L305.7,1693.2 L307.2,1692.2 L308.7,1691.2 L310.2,1690.3 L311.7,1689.5 L313.2,1688.8 L314.7,1688.0 L316.2,1687.4 L317.7,1686.7 L319.2,1686.1 L320.7,1685.4 L322.2,1684.8 L323.8,1684.1 L325.3,1683.4 L326.8,1682.7 L328.3,1681.9 L329.8,1681.2 L331.3,1680.3 L332.8,1679.5 L334.3,1678.6 L335.8,1677.8 L337.3,1676.9 L338.8,1676.0 L340.3,1675.2 L341.8,1674.4 L343.3,1673.6 L344.8,1672.8 L346.3,1672.1 L347.8,1671.5 L349.3,1670.9 L350.8,1670.3 L352.3,1669.9 L353.8,1669.4 L355.3,1669.0 L356.8,1668.7 L358.3,1668.5 L359.8,1668.3 L361.3,1668.1 L362.8,1668.0 L364.3,1668.0 L365.8,1668.0 L367.3,1668.0 L368.8,1668.1 L370.3,1668.2 L371.8,1668.3 L373.4,1668.5 L374.9,1668.6 L376.4,1668.8 L377.9,1668.9 L379.4,1669.1 L380.9,1669.3 L382.4,1669.5 L383.9,1669.7 L385.4,1669.9 L386.9,1670.1 L388.4,1670.3 L389.9,1670.6 L391.4,1670.8 L392.9,1671.1 L394.4,1671.4 L395.9,1671.7 L397.4,1672.0 L398.9,1672.4 L400.4,1672.8 L401.9,1673.1 L403.4,1673.5 L404.9,1673.9 L406.4,1674.3 L407.9,1674.7 L409.4,1675.0 L410.9,1675.4 L412.4,1675.7 L413.9,1676.0 L415.4,1676.2 L416.9,1676.4 L418.4,1676.6 L419.9,1676.7 L421.5,1676.7 L423.0,1676.6 L424.5,1676.5 L426.0,1676.3 L427.5,1676.0 L429.0,1675.7 L430.5,1675.3 L432.0,1674.9 L433.5,1674.4 L435.0,1673.8 L436.5,1673.2 L438.0,1672.5 L439.5,1671.7 L441.0,1671.0 L442.5,1670.1 L444.0,1669.3 L445.5,1668.3 L447.0,1667.4 L448.5,1666.5 L450.0,1665.5 L451.5,1664.5 L453.0,1663.5 L454.5,1662.5 L456.0,1661.5 L457.5,1660.5 L459.0,1659.5 L460.5,1658.5 L462.0,1657.6 L463.5,1656.6 L465.0,1655.6 L466.5,1654.6 L468.0,1653.5 L469.5,1652.5 L471.1,1651.4 L472.6,1650.3 L474.1,1649.1 L475.6,1648.0 L477.1,1646.8 L478.6,1645.5 L480.1,1644.2 L481.6,1642.9 L483.1,1641.6 L484.6,1640.3 L486.1,1638.9 L487.6,1637.6 L489.1,1636.2 L490.6,1634.8 L492.1,1633.5 L493.6,1632.1 L495.1,1630.7 L496.6,1629.3 L498.1,1628.0 L499.6,1626.6 L501.1,1625.2 L502.6,1623.9 L504.1,1622.5 L505.6,1621.2 L507.1,1619.8 L508.6,1618.5 L510.1,1617.1 L511.6,1615.8 L513.1,1614.4 L514.6,1613.1 L516.1,1611.7 L517.6,1610.3 L519.2,1609.0 L520.7,1607.6 L522.2,1606.3 L523.7,1605.0 L525.2,1603.7 L526.7,1602.4 L528.2,1601.1 L529.7,1599.9 L531.2,1598.7 L532.7,1597.5 L534.2,1596.4 L535.7,1595.4 L537.2,1594.3 L538.7,1593.4 L540.2,1592.4 L541.7,1591.6 L543.2,1590.7 L544.7,1590.0 L546.2,1589.2 L547.7,1588.6 L549.2,1588.0 L550.7,1587.5 L552.2,1587.0 L553.7,1586.6 L555.2,1586.2 L556.7,1586.0 L558.2,1585.8 L559.7,1585.6 L561.2,1585.6 L562.7,1585.6 L564.2,1585.6 L565.7,1585.8 L567.2,1586.0 L568.8,1586.3 L570.3,1586.6 L571.8,1587.0 L573.3,1587.5 L574.8,1588.0 L576.3,1588.5 L577.8,1589.2 L579.3,1589.9 L580.8,1590.6 L582.3,1591.4 L583.8,1592.2 L585.3,1593.0 L586.8,1593.9 L588.3,1594.8 L589.8,1595.8 L591.3,1596.7 L592.8,1597.7 L594.3,1598.7 L595.8,1599.7 L597.3,1600.7 L598.8,1601.7 L600.3,1602.8 L601.8,1603.9 L603.3,1605.0 L604.8,1606.2 L606.3,1607.4 L607.8,1608.7 L609.3,1610.0 L610.8,1611.4 L612.3,1612.8 L613.8,1614.3 L615.3,1615.9 L616.8,1617.5 L618.4,1619.2 L619.9,1620.9 L621.4,1622.6 L622.9,1624.3 L624.4,1626.1 L625.9,1627.9 L627.4,1629.6 L628.9,1631.4 L630.4,1633.1 L631.9,1634.8 L633.4,1636.5 L634.9,1638.1 L636.4,1639.7 L637.9,1641.3 L639.4,1642.8 L640.9,1644.3 L642.4,1645.8 L643.9,1647.2 L645.4,1648.6 L646.9,1650.0 L648.4,1651.4 L649.9,1652.7 L651.4,1654.0 L652.9,1655.3 L654.4,1656.6 L655.9,1657.9 L657.4,1659.2 L658.9,1660.4 L660.4,1661.7 L661.9,1662.9 L663.4,1664.1 L664.9,1665.3 L666.5,1666.5 L668.0,1667.7 L669.5,1668.8 L671.0,1670.0 L672.5,1671.1 L674.0,1672.1 L675.5,1673.2 L677.0,1674.2 L678.5,1675.2 L680.0,1676.2 L681.5,1677.1 L683.0,1678.1 L684.5,1678.9 L686.0,1679.8 L687.5,1680.7 L689.0,1681.5 L690.5,1682.3 L692.0,1683.0 L693.5,1683.8 L695.0,1684.5 L696.5,1685.2 L698.0,1685.9 L699.5,1686.6 L701.0,1687.3 L702.5,1687.9 L704.0,1688.6 L705.5,1689.2 L707.0,1689.8 L708.5,1690.4 L710.0,1691.0 L711.5,1691.6 L713.0,1692.2 L714.5,1692.8 L716.1,1693.4 L717.6,1694.0 L719.1,1694.6 L720.6,1695.2 L722.1,1695.7 L723.6,1696.3 L725.1,1696.9 L726.6,1697.4 L728.1,1698.0 L729.6,1698.5 L731.1,1699.0 L732.6,1699.6 L734.1,1700.1 L735.6,1700.6 L737.1,1701.1 L738.6,1701.7 L740.1,1702.2 L741.6,1702.7 L743.1,1703.2 L744.6,1703.8 L746.1,1704.3 L747.6,1704.8 L749.1,1705.4 L750.6,1705.9 L752.1,1706.4 L753.6,1707.0 L755.1,1707.5 L756.6,1708.0 L758.1,1708.5 L759.6,1709.1 L761.1,1709.6 L762.6,1710.1 L764.2,1710.6 L765.7,1711.1 L767.2,1711.6 L768.7,1712.1 L770.2,1712.6 L771.7,1713.0 L773.2,1713.5 L774.7,1713.9 L776.2,1714.3 L777.7,1714.7 L779.2,1715.1 L780.7,1715.5 L782.2,1715.9 L783.7,1716.3 L785.2,1716.6 L786.7,1716.9 L788.2,1717.3 L789.7,1717.6 L791.2,1717.9 L792.7,1718.2 L794.2,1718.5 L795.7,1718.8 L797.2,1719.1 L798.7,1719.4 L800.2,1719.7 L801.7,1720.0 L803.2,1720.2 L804.7,1720.5 L806.2,1720.7 L807.7,1720.9 L809.2,1721.1 L810.7,1721.4 L812.2,1721.6 L813.8,1721.8 L815.3,1721.9 L816.8,1722.1 L818.3,1722.3 L819.8,1722.5 L821.3,1722.6 L822.8,1722.8 L824.3,1722.9 L825.8,1723.1 L827.3,1723.2 L828.8,1723.3 L830.3,1723.5 L831.8,1723.6 L833.3,1723.7 L834.8,1723.8 L836.3,1723.9 L837.8,1723.9 L839.3,1724.0 L840.8,1724.0 L842.3,1724.0 L843.8,1724.0 L845.3,1723.9 L846.8,1723.9 L848.3,1723.7 L849.8,1723.6 L851.3,1723.4 L852.8,1723.1 L854.3,1722.8 L855.8,1722.5 L857.3,1722.1 L858.8,1721.7 L860.3,1721.2 L861.8,1720.7 L863.4,1720.1 L864.9,1719.4 L866.4,1718.8 L867.9,1718.1 L869.4,1717.4 L870.9,1716.6 L872.4,1715.9 L873.9,1715.1 L875.4,1714.3 L876.9,1713.5 L878.4,1712.7 L879.9,1711.9 L881.4,1711.2 L882.9,1710.4 L884.4,1709.7 L885.9,1709.0 L887.4,1708.3 L888.9,1707.7 L890.4,1707.0 L891.9,1706.5 L893.4,1706.0 L894.9,1705.5 L896.4,1705.0 L897.9,1704.6 L899.4,1704.2 L900.9,1703.9 L902.4,1703.6 L903.9,1703.3 L905.4,1703.1 L906.9,1702.9 L908.4,1702.7 L909.9,1702.6 L911.5,1702.4 L913.0,1702.3 L914.5,1702.3 L916.0,1702.2 L917.5,1702.2 L919.0,1702.2 L920.5,1702.2 L922.0,1702.2 L923.5,1702.3 L925.0,1702.3 L926.5,1702.4 L928.0,1702.5 L929.5,1702.6 L931.0,1702.6 L932.5,1702.7 L934.0,1702.8 L935.5,1702.8 L937.0,1702.8 L938.5,1702.8 L940.0,1702.7 L941.5,1702.6 L943.0,1702.4 L944.5,1702.2 L946.0,1701.9 L947.5,1701.5 L949.0,1701.1 L950.5,1700.5 L952.0,1700.0 L953.5,1699.4 L955.0,1698.7 L956.5,1698.0 L958.0,1697.3 L959.5,1696.6 L961.1,1695.9 L962.6,1695.2 L964.1,1694.5 L965.6,1693.9 L967.1,1693.2 L968.6,1692.6 L970.1,1692.1 L971.6,1691.5 L973.1,1691.0 L974.6,1690.5 L976.1,1690.0 L977.6,1689.4 L979.1,1688.9 L980.6,1688.3 L982.1,1687.7 L983.6,1687.1 L985.1,1686.4 L986.6,1685.6 L988.1,1684.9 L989.6,1684.1 L991.1,1683.2 L992.6,1682.3 L994.1,1681.4 L995.6,1680.5 L997.1,1679.6 L998.6,1678.7 L1000.1,1677.9 L1001.6,1677.0 L1003.1,1676.2 L1004.6,1675.4 L1006.1,1674.7 L1007.6,1674.0 L1009.2,1673.4 L1010.7,1672.8 L1012.2,1672.3 L1013.7,1671.9 L1015.2,1671.5 L1016.7,1671.2 L1018.2,1671.0 L1019.7,1670.9 L1021.2,1670.9 L1022.7,1670.9 L1024.2,1671.1 L1025.7,1671.3 L1027.2,1671.5 L1028.7,1671.9 L1030.2,1672.3 L1031.7,1672.8 L1033.2,1673.4 L1034.7,1674.1 L1036.2,1674.8 L1037.7,1675.6 L1039.2,1676.5 L1040.7,1677.4 L1042.2,1678.4 L1043.7,1679.5 L1045.2,1680.7 L1046.7,1681.9 L1048.2,1683.2 L1049.7,1684.6 L1051.2,1686.0 L1052.7,1687.6 L1054.2,1689.2 L1055.7,1690.8 L1057.2,1692.6 L1058.8,1694.3 L1060.3,1696.2 L1061.8,1698.0 L1063.3,1699.9 L1064.8,1701.9 L1066.3,1703.8 L1067.8,1705.7 L1069.3,1707.6 L1070.8,1709.5 L1072.3,1711.4 L1073.8,1713.2 L1075.3,1715.0 L1076.8,1716.7 L1078.3,1718.3 L1079.8,1719.9 L1081.3,1721.5 L1082.8,1722.9 L1084.3,1724.3 L1085.8,1725.7 L1087.3,1726.9 L1088.8,1728.2 L1090.3,1729.3 L1091.8,1730.5 L1093.3,1731.5 L1094.8,1732.6 L1096.3,1733.6 L1097.8,1734.6 L1099.3,1735.5 L1100.8,1736.4 L1102.3,1737.3 L1103.8,1738.2 L1105.3,1739.0 L1106.8,1739.8 L1108.4,1740.6 L1109.9,1741.4 L1111.4,1742.1 L1112.9,1742.8 L1114.4,1743.5 L1115.9,1744.2 L1117.4,1744.9 L1118.9,1745.5 L1120.4,1746.2 L1121.9,1746.8 L1123.4,1747.4 L1124.9,1748.0 L1126.4,1748.5 L1127.9,1749.1 L1129.4,1749.6 L1130.9,1750.1 L1132.4,1750.6 L1133.9,1751.1 L1135.4,1751.6 L1136.9,1752.0 L1138.4,1752.5 L1139.9,1752.9 L1141.4,1753.3 L1142.9,1753.7 L1144.4,1754.1 L1145.9,1754.5 L1147.4,1754.8 L1148.9,1755.2 L1150.4,1755.5 L1151.9,1755.9 L1153.4,1756.2 L1154.9,1756.5 L1156.5,1756.8 L1158.0,1757.2 L1159.5,1757.5 L1161.0,1757.8 L1162.5,1758.1 L1164.0,1758.3 L1165.5,1758.6 L1167.0,1758.9 L1168.5,1759.2 L1170.0,1759.5 L1171.5,1759.7 L1173.0,1760.0 L1174.5,1760.3 L1176.0,1760.6 L1177.5,1760.8 L1179.0,1761.1 L1180.5,1761.4" fill="none" stroke="#800000" stroke-width="2.2" stroke-linejoin="round"/>
<path d="M200.5,1761.4 L202.0,1760.6 L203.5,1759.9 L205.0,1759.2 L206.5,1758.5 L208.0,1757.8 L209.5,1757.1 L211.0,1756.5 L212.5,1755.8 L214.0,1755.1 L215.5,1754.5 L217.0,1753.8 L218.5,1753.2 L220.0,1752.5 L221.5,1751.9 L223.0,1751.2 L224.5,1750.6 L226.1,1749.9 L227.6,1749.3 L229.1,1748.7 L230.6,1748.0 L232.1,1747.4 L233.6,1746.8 L235.1,1746.1 L236.6,1745.5 L238.1,1744.8 L239.6,1744.1 L241.1,1743.3 L242.6,1742.6 L244.1,1741.7 L245.6,1740.9 L247.1,1740.0 L248.6,1739.0 L250.1,1737.9 L251.6,1736.8 L253.1,1735.7 L254.6,1734.5 L256.1,1733.2 L257.6,1731.9 L259.1,1730.6 L260.6,1729.2 L262.1,1727.8 L263.6,1726.4 L265.1,1725.0 L266.6,1723.6 L268.1,1722.1 L269.6,1720.7 L271.1,1719.3 L272.6,1717.9 L274.2,1716.5 L275.7,1715.1 L277.2,1713.7 L278.7,1712.3 L280.2,1710.9 L281.7,1709.5 L283.2,1708.1 L284.7,1706.7 L286.2,1705.3 L287.7,1703.9 L289.2,1702.5 L290.7,1701.1 L292.2,1699.7 L293.7,1698.3 L295.2,1696.9 L296.7,1695.4 L298.2,1694.0 L299.7,1692.6 L301.2,1691.2 L302.7,1689.9 L304.2,1688.5 L305.7,1687.2 L307.2,1686.0 L308.7,1684.8 L310.2,1683.6 L311.7,1682.5 L313.2,1681.5 L314.7,1680.4 L316.2,1679.4 L317.7,1678.5 L319.2,1677.5 L320.7,1676.6 L322.2,1675.6 L323.8,1674.7 L325.3,1673.7 L326.8,1672.7 L328.3,1671.7 L329.8,1670.7 L331.3,1669.7 L332.8,1668.6 L334.3,1667.6 L335.8,1666.6 L337.3,1665.5 L338.8,1664.6 L340.3,1663.6 L341.8,1662.7 L343.3,1661.8 L344.8,1661.0 L346.3,1660.2 L347.8,1659.5 L349.3,1658.9 L350.8,1658.3 L352.3,1657.8 L353.8,1657.3 L355.3,1656.9 L356.8,1656.6 L358.3,1656.4 L359.8,1656.2 L361.3,1656.1 L362.8,1656.1 L364.3,1656.1 L365.8,1656.2 L367.3,1656.4 L368.8,1656.6 L370.3,1656.8 L371.8,1657.1 L373.4,1657.3 L374.9,1657.6 L376.4,1658.0 L377.9,1658.3 L379.4,1658.6 L380.9,1658.9 L382.4,1659.3 L383.9,1659.6 L385.4,1660.0 L386.9,1660.3 L388.4,1660.7 L389.9,1661.0 L391.4,1661.4 L392.9,1661.8 L394.4,1662.1 L395.9,1662.5 L397.4,1662.9 L398.9,1663.3 L400.4,1663.7 L401.9,1664.1 L403.4,1664.5 L404.9,1664.8 L406.4,1665.2 L407.9,1665.6 L409.4,1665.9 L410.9,1666.2 L412.4,1666.5 L413.9,1666.8 L415.4,1667.0 L416.9,1667.1 L418.4,1667.2 L419.9,1667.3 L421.5,1667.2 L423.0,1667.1 L424.5,1667.0 L426.0,1666.7 L427.5,1666.4 L429.0,1666.1 L430.5,1665.6 L432.0,1665.1 L433.5,1664.6 L435.0,1663.9 L436.5,1663.3 L438.0,1662.5 L439.5,1661.7 L441.0,1660.8 L442.5,1659.9 L444.0,1659.0 L445.5,1658.0 L447.0,1656.9 L448.5,1655.9 L450.0,1654.8 L451.5,1653.6 L453.0,1652.5 L454.5,1651.3 L456.0,1650.2 L457.5,1649.0 L459.0,1647.8 L460.5,1646.6 L462.0,1645.4 L463.5,1644.2 L465.0,1642.9 L466.5,1641.6 L468.0,1640.3 L469.5,1639.0 L471.1,1637.7 L472.6,1636.3 L474.1,1634.8 L475.6,1633.4 L477.1,1631.9 L478.6,1630.4 L480.1,1628.8 L481.6,1627.2 L483.1,1625.6 L484.6,1624.0 L486.1,1622.3 L487.6,1620.6 L489.1,1619.0 L490.6,1617.3 L492.1,1615.6 L493.6,1613.9 L495.1,1612.2 L496.6,1610.5 L498.1,1608.8 L499.6,1607.2 L501.1,1605.5 L502.6,1603.8 L504.1,1602.1 L505.6,1600.4 L507.1,1598.7 L508.6,1597.1 L510.1,1595.4 L511.6,1593.7 L513.1,1592.0 L514.6,1590.3 L516.1,1588.6 L517.6,1586.9 L519.2,1585.2 L520.7,1583.5 L522.2,1581.8 L523.7,1580.2 L525.2,1578.5 L526.7,1576.9 L528.2,1575.3 L529.7,1573.8 L531.2,1572.3 L532.7,1570.8 L534.2,1569.4 L535.7,1568.1 L537.2,1566.8 L538.7,1565.5 L540.2,1564.4 L541.7,1563.2 L543.2,1562.2 L544.7,1561.2 L546.2,1560.3 L547.7,1559.4 L549.2,1558.6 L550.7,1557.8 L552.2,1557.2 L553.7,1556.6 L555.2,1556.1 L556.7,1555.6 L558.2,1555.3 L559.7,1555.0 L561.2,1554.8 L562.7,1554.6 L564.2,1554.6 L565.7,1554.6 L567.2,1554.7 L568.8,1554.9 L570.3,1555.1 L571.8,1555.5 L573.3,1555.9 L574.8,1556.4 L576.3,1556.9 L577.8,1557.5 L579.3,1558.2 L580.8,1559.0 L582.3,1559.9 L583.8,1560.8 L585.3,1561.8 L586.8,1562.8 L588.3,1563.9 L589.8,1565.1 L591.3,1566.4 L592.8,1567.7 L594.3,1569.1 L595.8,1570.5 L597.3,1572.0 L598.8,1573.5 L600.3,1575.1 L601.8,1576.7 L603.3,1578.4 L604.8,1580.1 L606.3,1581.9 L607.8,1583.6 L609.3,1585.5 L610.8,1587.3 L612.3,1589.2 L613.8,1591.1 L615.3,1593.1 L616.8,1595.0 L618.4,1597.0 L619.9,1599.1 L621.4,1601.2 L622.9,1603.3 L624.4,1605.4 L625.9,1607.6 L627.4,1609.8 L628.9,1611.9 L630.4,1614.1 L631.9,1616.2 L633.4,1618.4 L634.9,1620.4 L636.4,1622.5 L637.9,1624.5 L639.4,1626.5 L640.9,1628.4 L642.4,1630.3 L643.9,1632.1 L645.4,1633.9 L646.9,1635.6 L648.4,1637.3 L649.9,1638.9 L651.4,1640.5 L652.9,1642.0 L654.4,1643.5 L655.9,1645.0 L657.4,1646.4 L658.9,1647.8 L660.4,1649.1 L661.9,1650.4 L663.4,1651.7 L664.9,1653.0 L666.5,1654.2 L668.0,1655.4 L669.5,1656.6 L671.0,1657.7 L672.5,1658.8 L674.0,1659.9 L675.5,1661.0 L677.0,1662.1 L678.5,1663.1 L680.0,1664.1 L681.5,1665.1 L683.0,1666.1 L684.5,1667.0 L686.0,1668.0 L687.5,1668.9 L689.0,1669.8 L690.5,1670.7 L692.0,1671.5 L693.5,1672.4 L695.0,1673.2 L696.5,1674.1 L698.0,1674.9 L699.5,1675.7 L701.0,1676.4 L702.5,1677.2 L704.0,1677.9 L705.5,1678.6 L707.0,1679.3 L708.5,1680.0 L710.0,1680.7 L711.5,1681.4 L713.0,1682.0 L714.5,1682.7 L716.1,1683.3 L717.6,1683.9 L719.1,1684.6 L720.6,1685.2 L722.1,1685.8 L723.6,1686.4 L725.1,1687.0 L726.6,1687.6 L728.1,1688.2 L729.6,1688.8 L731.1,1689.4 L732.6,1690.0 L734.1,1690.5 L735.6,1691.1 L737.1,1691.7 L738.6,1692.2 L740.1,1692.8 L741.6,1693.3 L743.1,1693.9 L744.6,1694.4 L746.1,1695.0 L747.6,1695.5 L749.1,1696.0 L750.6,1696.5 L752.1,1697.0 L753.6,1697.5 L755.1,1698.0 L756.6,1698.5 L758.1,1699.0 L759.6,1699.5 L761.1,1699.9 L762.6,1700.4 L764.2,1700.9 L765.7,1701.3 L767.2,1701.8 L768.7,1702.2 L770.2,1702.7 L771.7,1703.2 L773.2,1703.6 L774.7,1704.1 L776.2,1704.6 L777.7,1705.0 L779.2,1705.5 L780.7,1706.0 L782.2,1706.5 L783.7,1707.0 L785.2,1707.6 L786.7,1708.1 L788.2,1708.6 L789.7,1709.1 L791.2,1709.6 L792.7,1710.1 L794.2,1710.6 L795.7,1711.1 L797.2,1711.6 L798.7,1712.0 L800.2,1712.5 L801.7,1712.9 L803.2,1713.3 L804.7,1713.7 L806.2,1714.1 L807.7,1714.4 L809.2,1714.8 L810.7,1715.1 L812.2,1715.4 L813.8,1715.7 L815.3,1716.0 L816.8,1716.2 L818.3,1716.5 L819.8,1716.7 L821.3,1716.9 L822.8,1717.1 L824.3,1717.3 L825.8,1717.5 L827.3,1717.7 L828.8,1717.9 L830.3,1718.1 L831.8,1718.2 L833.3,1718.3 L834.8,1718.5 L836.3,1718.6 L837.8,1718.6 L839.3,1718.7 L840.8,1718.8 L842.3,1718.8 L843.8,1718.7 L845.3,1718.7 L846.8,1718.6 L848.3,1718.5 L849.8,1718.3 L851.3,1718.1 L852.8,1717.8 L854.3,1717.5 L855.8,1717.1 L857.3,1716.7 L858.8,1716.2 L860.3,1715.7 L861.8,1715.1 L863.4,1714.5 L864.9,1713.8 L866.4,1713.1 L867.9,1712.3 L869.4,1711.5 L870.9,1710.7 L872.4,1709.9 L873.9,1709.0 L875.4,1708.2 L876.9,1707.3 L878.4,1706.5 L879.9,1705.6 L881.4,1704.8 L882.9,1704.0 L884.4,1703.2 L885.9,1702.4 L887.4,1701.7 L888.9,1701.0 L890.4,1700.4 L891.9,1699.8 L893.4,1699.2 L894.9,1698.7 L896.4,1698.2 L897.9,1697.8 L899.4,1697.4 L900.9,1697.0 L902.4,1696.7 L903.9,1696.4 L905.4,1696.2 L906.9,1696.0 L908.4,1695.8 L909.9,1695.6 L911.5,1695.4 L913.0,1695.3 L914.5,1695.2 L916.0,1695.1 L917.5,1695.0 L919.0,1695.0 L920.5,1695.0 L922.0,1695.0 L923.5,1695.0 L925.0,1695.0 L926.5,1695.1 L928.0,1695.1 L929.5,1695.2 L931.0,1695.2 L932.5,1695.3 L934.0,1695.3 L935.5,1695.4 L937.0,1695.4 L938.5,1695.3 L940.0,1695.3 L941.5,1695.2 L943.0,1695.0 L944.5,1694.8 L946.0,1694.5 L947.5,1694.1 L949.0,1693.6 L950.5,1693.1 L952.0,1692.5 L953.5,1691.9 L955.0,1691.2 L956.5,1690.5 L958.0,1689.7 L959.5,1689.0 L961.1,1688.2 L962.6,1687.4 L964.1,1686.6 L965.6,1685.9 L967.1,1685.1 L968.6,1684.4 L970.1,1683.7 L971.6,1683.0 L973.1,1682.2 L974.6,1681.5 L976.1,1680.8 L977.6,1680.1 L979.1,1679.3 L980.6,1678.5 L982.1,1677.6 L983.6,1676.7 L985.1,1675.7 L986.6,1674.7 L988.1,1673.6 L989.6,1672.5 L991.1,1671.3 L992.6,1670.2 L994.1,1669.0 L995.6,1667.8 L997.1,1666.6 L998.6,1665.4 L1000.1,1664.3 L1001.6,1663.1 L1003.1,1662.1 L1004.6,1661.0 L1006.1,1660.1 L1007.6,1659.2 L1009.2,1658.3 L1010.7,1657.5 L1012.2,1656.8 L1013.7,1656.2 L1015.2,1655.7 L1016.7,1655.3 L1018.2,1654.9 L1019.7,1654.7 L1021.2,1654.6 L1022.7,1654.6 L1024.2,1654.6 L1025.7,1654.8 L1027.2,1655.2 L1028.7,1655.6 L1030.2,1656.1 L1031.7,1656.8 L1033.2,1657.5 L1034.7,1658.4 L1036.2,1659.3 L1037.7,1660.4 L1039.2,1661.5 L1040.7,1662.7 L1042.2,1664.0 L1043.7,1665.4 L1045.2,1666.8 L1046.7,1668.3 L1048.2,1669.9 L1049.7,1671.5 L1051.2,1673.3 L1052.7,1675.0 L1054.2,1676.9 L1055.7,1678.8 L1057.2,1680.7 L1058.8,1682.7 L1060.3,1684.8 L1061.8,1686.9 L1063.3,1689.0 L1064.8,1691.1 L1066.3,1693.3 L1067.8,1695.4 L1069.3,1697.6 L1070.8,1699.7 L1072.3,1701.8 L1073.8,1703.9 L1075.3,1705.9 L1076.8,1707.9 L1078.3,1709.8 L1079.8,1711.7 L1081.3,1713.5 L1082.8,1715.2 L1084.3,1716.9 L1085.8,1718.6 L1087.3,1720.1 L1088.8,1721.6 L1090.3,1723.1 L1091.8,1724.5 L1093.3,1725.8 L1094.8,1727.1 L1096.3,1728.4 L1097.8,1729.6 L1099.3,1730.8 L1100.8,1731.9 L1102.3,1733.0 L1103.8,1734.1 L1105.3,1735.1 L1106.8,1736.2 L1108.4,1737.1 L1109.9,1738.1 L1111.4,1739.0 L1112.9,1739.9 L1114.4,1740.7 L1115.9,1741.6 L1117.4,1742.4 L1118.9,1743.2 L1120.4,1743.9 L1121.9,1744.6 L1123.4,1745.3 L1124.9,1746.0 L1126.4,1746.6 L1127.9,1747.3 L1129.4,1747.9 L1130.9,1748.4 L1132.4,1749.0 L1133.9,1749.5 L1135.4,1750.1 L1136.9,1750.6 L1138.4,1751.0 L1139.9,1751.5 L1141.4,1752.0 L1142.9,1752.4 L1144.4,1752.8 L1145.9,1753.3 L1147.4,1753.7 L1148.9,1754.1 L1150.4,1754.5 L1151.9,1754.9 L1153.4,1755.3 L1154.9,1755.6 L1156.5,1756.0 L1158.0,1756.4 L1159.5,1756.7 L1161.0,1757.1 L1162.5,1757.4 L1164.0,1757.8 L1165.5,1758.1 L1167.0,1758.5 L1168.5,1758.8 L1170.0,1759.1 L1171.5,1759.4 L1173.0,1759.8 L1174.5,1760.1 L1176.0,1760.4 L1177.5,1760.7 L1179.0,1761.1 L1180.5,1761.4" fill="none" stroke="#800080" stroke-width="2.2" stroke-linejoin="round"/>
<path d="M200.5,1761.4 L202.0,1760.5 L203.5,1759.6 L205.0,1758.8 L206.5,1757.9 L208.0,1757.1 L209.5,1756.3 L211.0,1755.4 L212.5,1754.6 L214.0,1753.8 L215.5,1753.0 L217.0,1752.3 L218.5,1751.5 L220.0,1750.7 L221.5,1749.9 L223.0,1749.1 L224.5,1748.4 L226.1,1747.6 L227.6,1746.8 L229.1,1746.1 L230.6,1745.3 L232.1,1744.5 L233.6,1743.7 L235.1,1742.9 L236.6,1742.1 L238.1,1741.2 L239.6,1740.4 L241.1,1739.5 L242.6,1738.5 L244.1,1737.5 L245.6,1736.5 L247.1,1735.4 L248.6,1734.3 L250.1,1733.1 L251.6,1731.8 L253.1,1730.5 L254.6,1729.2 L256.1,1727.8 L257.6,1726.4 L259.1,1724.9 L260.6,1723.3 L262.1,1721.8 L263.6,1720.2 L265.1,1718.6 L266.6,1717.0 L268.1,1715.3 L269.6,1713.7 L271.1,1712.0 L272.6,1710.3 L274.2,1708.5 L275.7,1706.8 L277.2,1705.0 L278.7,1703.2 L280.2,1701.4 L281.7,1699.5 L283.2,1697.6 L284.7,1695.7 L286.2,1693.7 L287.7,1691.7 L289.2,1689.6 L290.7,1687.5 L292.2,1685.4 L293.7,1683.3 L295.2,1681.1 L296.7,1678.9 L298.2,1676.7 L299.7,1674.5 L301.2,1672.3 L302.7,1670.2 L304.2,1668.0 L305.7,1666.0 L307.2,1664.0 L308.7,1662.1 L310.2,1660.2 L311.7,1658.4 L313.2,1656.7 L314.7,1655.1 L316.2,1653.6 L317.7,1652.1 L319.2,1650.6 L320.7,1649.2 L322.2,1647.7 L323.8,1646.3 L325.3,1644.9 L326.8,1643.5 L328.3,1642.1 L329.8,1640.7 L331.3,1639.3 L332.8,1637.9 L334.3,1636.4 L335.8,1635.0 L337.3,1633.6 L338.8,1632.3 L340.3,1631.0 L341.8,1629.7 L343.3,1628.5 L344.8,1627.4 L346.3,1626.3 L347.8,1625.3 L349.3,1624.4 L350.8,1623.6 L352.3,1622.9 L353.8,1622.2 L355.3,1621.7 L356.8,1621.2 L358.3,1620.8 L359.8,1620.5 L361.3,1620.3 L362.8,1620.2 L364.3,1620.2 L365.8,1620.3 L367.3,1620.4 L368.8,1620.6 L370.3,1620.9 L371.8,1621.2 L373.4,1621.6 L374.9,1622.0 L376.4,1622.4 L377.9,1622.9 L379.4,1623.3 L380.9,1623.9 L382.4,1624.4 L383.9,1625.0 L385.4,1625.5 L386.9,1626.1 L388.4,1626.7 L389.9,1627.4 L391.4,1628.0 L392.9,1628.7 L394.4,1629.3 L395.9,1630.0 L397.4,1630.7 L398.9,1631.3 L400.4,1632.0 L401.9,1632.6 L403.4,1633.3 L404.9,1633.9 L406.4,1634.5 L407.9,1635.0 L409.4,1635.6 L410.9,1636.0 L412.4,1636.5 L413.9,1636.8 L415.4,1637.1 L416.9,1637.4 L418.4,1637.5 L419.9,1637.6 L421.5,1637.5 L423.0,1637.4 L424.5,1637.2 L426.0,1636.9 L427.5,1636.6 L429.0,1636.1 L430.5,1635.6 L432.0,1634.9 L433.5,1634.2 L435.0,1633.4 L436.5,1632.6 L438.0,1631.6 L439.5,1630.6 L441.0,1629.5 L442.5,1628.4 L444.0,1627.2 L445.5,1626.0 L447.0,1624.7 L448.5,1623.3 L450.0,1622.0 L451.5,1620.6 L453.0,1619.1 L454.5,1617.7 L456.0,1616.2 L457.5,1614.7 L459.0,1613.2 L460.5,1611.7 L462.0,1610.1 L463.5,1608.6 L465.0,1607.0 L466.5,1605.3 L468.0,1603.6 L469.5,1601.8 L471.1,1600.0 L472.6,1598.2 L474.1,1596.2 L475.6,1594.2 L477.1,1592.2 L478.6,1590.1 L480.1,1588.0 L481.6,1585.8 L483.1,1583.5 L484.6,1581.2 L486.1,1578.9 L487.6,1576.6 L489.1,1574.2 L490.6,1571.8 L492.1,1569.4 L493.6,1567.0 L495.1,1564.6 L496.6,1562.1 L498.1,1559.7 L499.6,1557.2 L501.1,1554.7 L502.6,1552.3 L504.1,1549.8 L505.6,1547.3 L507.1,1544.8 L508.6,1542.3 L510.1,1539.7 L511.6,1537.2 L513.1,1534.6 L514.6,1532.0 L516.1,1529.4 L517.6,1526.8 L519.2,1524.2 L520.7,1521.6 L522.2,1519.0 L523.7,1516.4 L525.2,1513.8 L526.7,1511.3 L528.2,1508.8 L529.7,1506.3 L531.2,1503.9 L532.7,1501.5 L534.2,1499.2 L535.7,1497.0 L537.2,1494.8 L538.7,1492.7 L540.2,1490.7 L541.7,1488.7 L543.2,1486.9 L544.7,1485.1 L546.2,1483.4 L547.7,1481.8 L549.2,1480.4 L550.7,1479.0 L552.2,1477.7 L553.7,1476.5 L555.2,1475.5 L556.7,1474.5 L558.2,1473.7 L559.7,1473.0 L561.2,1472.4 L562.7,1471.9 L564.2,1471.5 L565.7,1471.3 L567.2,1471.2 L568.8,1471.2 L570.3,1471.3 L571.8,1471.5 L573.3,1471.9 L574.8,1472.3 L576.3,1472.9 L577.8,1473.5 L579.3,1474.3 L580.8,1475.2 L582.3,1476.2 L583.8,1477.3 L585.3,1478.5 L586.8,1479.8 L588.3,1481.2 L589.8,1482.7 L591.3,1484.3 L592.8,1486.0 L594.3,1487.9 L595.8,1489.8 L597.3,1491.8 L598.8,1493.9 L600.3,1496.1 L601.8,1498.4 L603.3,1500.8 L604.8,1503.3 L606.3,1505.8 L607.8,1508.5 L609.3,1511.3 L610.8,1514.1 L612.3,1516.9 L613.8,1519.9 L615.3,1522.9 L616.8,1525.9 L618.4,1528.9 L619.9,1532.0 L621.4,1535.0 L622.9,1538.1 L624.4,1541.1 L625.9,1544.2 L627.4,1547.2 L628.9,1550.1 L630.4,1553.0 L631.9,1555.9 L633.4,1558.7 L634.9,1561.4 L636.4,1564.0 L637.9,1566.6 L639.4,1569.1 L640.9,1571.5 L642.4,1573.9 L643.9,1576.2 L645.4,1578.4 L646.9,1580.6 L648.4,1582.7 L649.9,1584.8 L651.4,1586.8 L652.9,1588.8 L654.4,1590.7 L655.9,1592.6 L657.4,1594.5 L658.9,1596.4 L660.4,1598.2 L661.9,1600.0 L663.4,1601.9 L664.9,1603.7 L666.5,1605.4 L668.0,1607.2 L669.5,1608.9 L671.0,1610.7 L672.5,1612.4 L674.0,1614.1 L675.5,1615.7 L677.0,1617.4 L678.5,1619.0 L680.0,1620.6 L681.5,1622.1 L683.0,1623.7 L684.5,1625.2 L686.0,1626.7 L687.5,1628.1 L689.0,1629.6 L690.5,1631.0 L692.0,1632.4 L693.5,1633.7 L695.0,1635.0 L696.5,1636.3 L698.0,1637.5 L699.5,1638.7 L701.0,1639.8 L702.5,1640.9 L704.0,1642.0 L705.5,1643.0 L707.0,1644.0 L708.5,1645.0 L710.0,1645.9 L711.5,1646.9 L713.0,1647.8 L714.5,1648.7 L716.1,1649.6 L717.6,1650.5 L719.1,1651.3 L720.6,1652.2 L722.1,1653.0 L723.6,1653.9 L725.1,1654.7 L726.6,1655.6 L728.1,1656.4 L729.6,1657.3 L731.1,1658.1 L732.6,1658.9 L734.1,1659.7 L735.6,1660.6 L737.1,1661.4 L738.6,1662.2 L740.1,1663.0 L741.6,1663.9 L743.1,1664.7 L744.6,1665.5 L746.1,1666.3 L747.6,1667.2 L749.1,1668.0 L750.6,1668.8 L752.1,1669.7 L753.6,1670.5 L755.1,1671.3 L756.6,1672.2 L758.1,1673.0 L759.6,1673.8 L761.1,1674.6 L762.6,1675.5 L764.2,1676.3 L765.7,1677.1 L767.2,1678.0 L768.7,1678.8 L770.2,1679.6 L771.7,1680.4 L773.2,1681.2 L774.7,1682.0 L776.2,1682.8 L777.7,1683.6 L779.2,1684.4 L780.7,1685.2 L782.2,1686.0 L783.7,1686.8 L785.2,1687.6 L786.7,1688.4 L788.2,1689.1 L789.7,1689.9 L791.2,1690.6 L792.7,1691.4 L794.2,1692.1 L795.7,1692.8 L797.2,1693.4 L798.7,1694.1 L800.2,1694.7 L801.7,1695.3 L803.2,1695.9 L804.7,1696.5 L806.2,1697.0 L807.7,1697.5 L809.2,1698.0 L810.7,1698.5 L812.2,1698.9 L813.8,1699.3 L815.3,1699.7 L816.8,1700.1 L818.3,1700.4 L819.8,1700.7 L821.3,1701.0 L822.8,1701.3 L824.3,1701.6 L825.8,1701.9 L827.3,1702.1 L828.8,1702.4 L830.3,1702.6 L831.8,1702.8 L833.3,1703.0 L834.8,1703.1 L836.3,1703.3 L837.8,1703.4 L839.3,1703.5 L840.8,1703.5 L842.3,1703.6 L843.8,1703.5 L845.3,1703.5 L846.8,1703.3 L848.3,1703.2 L849.8,1702.9 L851.3,1702.6 L852.8,1702.3 L854.3,1701.8 L855.8,1701.3 L857.3,1700.8 L858.8,1700.1 L860.3,1699.4 L861.8,1698.6 L863.4,1697.7 L864.9,1696.8 L866.4,1695.8 L867.9,1694.8 L869.4,1693.7 L870.9,1692.6 L872.4,1691.5 L873.9,1690.3 L875.4,1689.2 L876.9,1688.0 L878.4,1686.8 L879.9,1685.7 L881.4,1684.6 L882.9,1683.4 L884.4,1682.4 L885.9,1681.3 L887.4,1680.3 L888.9,1679.4 L890.4,1678.5 L891.9,1677.7 L893.4,1676.9 L894.9,1676.2 L896.4,1675.6 L897.9,1675.0 L899.4,1674.4 L900.9,1674.0 L902.4,1673.5 L903.9,1673.2 L905.4,1672.8 L906.9,1672.5 L908.4,1672.3 L909.9,1672.1 L911.5,1671.9 L913.0,1671.7 L914.5,1671.6 L916.0,1671.5 L917.5,1671.5 L919.0,1671.5 L920.5,1671.5 L922.0,1671.5 L923.5,1671.6 L925.0,1671.7 L926.5,1671.8 L928.0,1672.0 L929.5,1672.1 L931.0,1672.2 L932.5,1672.3 L934.0,1672.4 L935.5,1672.5 L937.0,1672.5 L938.5,1672.5 L940.0,1672.4 L941.5,1672.2 L943.0,1672.0 L944.5,1671.7 L946.0,1671.2 L947.5,1670.7 L949.0,1670.0 L950.5,1669.3 L952.0,1668.4 L953.5,1667.5 L955.0,1666.5 L956.5,1665.4 L958.0,1664.3 L959.5,1663.1 L961.1,1661.9 L962.6,1660.6 L964.1,1659.3 L965.6,1658.1 L967.1,1656.8 L968.6,1655.5 L970.1,1654.2 L971.6,1652.9 L973.1,1651.6 L974.6,1650.3 L976.1,1648.9 L977.6,1647.6 L979.1,1646.2 L980.6,1644.8 L982.1,1643.4 L983.6,1641.9 L985.1,1640.4 L986.6,1638.8 L988.1,1637.2 L989.6,1635.6 L991.1,1634.0 L992.6,1632.3 L994.1,1630.7 L995.6,1629.0 L997.1,1627.4 L998.6,1625.9 L1000.1,1624.3 L1001.6,1622.8 L1003.1,1621.4 L1004.6,1620.1 L1006.1,1618.8 L1007.6,1617.6 L1009.2,1616.5 L1010.7,1615.5 L1012.2,1614.6 L1013.7,1613.8 L1015.2,1613.1 L1016.7,1612.6 L1018.2,1612.2 L1019.7,1611.9 L1021.2,1611.7 L1022.7,1611.7 L1024.2,1611.8 L1025.7,1612.0 L1027.2,1612.3 L1028.7,1612.7 L1030.2,1613.3 L1031.7,1614.0 L1033.2,1614.8 L1034.7,1615.7 L1036.2,1616.7 L1037.7,1617.8 L1039.2,1619.0 L1040.7,1620.3 L1042.2,1621.7 L1043.7,1623.2 L1045.2,1624.8 L1046.7,1626.4 L1048.2,1628.1 L1049.7,1629.9 L1051.2,1631.8 L1052.7,1633.8 L1054.2,1635.9 L1055.7,1638.0 L1057.2,1640.2 L1058.8,1642.5 L1060.3,1644.9 L1061.8,1647.3 L1063.3,1649.8 L1064.8,1652.4 L1066.3,1655.1 L1067.8,1657.8 L1069.3,1660.6 L1070.8,1663.4 L1072.3,1666.2 L1073.8,1669.1 L1075.3,1671.9 L1076.8,1674.7 L1078.3,1677.6 L1079.8,1680.3 L1081.3,1683.1 L1082.8,1685.8 L1084.3,1688.4 L1085.8,1691.0 L1087.3,1693.5 L1088.8,1695.9 L1090.3,1698.2 L1091.8,1700.5 L1093.3,1702.7 L1094.8,1704.8 L1096.3,1706.9 L1097.8,1708.9 L1099.3,1710.9 L1100.8,1712.8 L1102.3,1714.6 L1103.8,1716.4 L1105.3,1718.2 L1106.8,1719.9 L1108.4,1721.5 L1109.9,1723.1 L1111.4,1724.7 L1112.9,1726.2 L1114.4,1727.6 L1115.9,1729.1 L1117.4,1730.4 L1118.9,1731.8 L1120.4,1733.1 L1121.9,1734.3 L1123.4,1735.6 L1124.9,1736.8 L1126.4,1737.9 L1127.9,1739.0 L1129.4,1740.1 L1130.9,1741.2 L1132.4,1742.2 L1133.9,1743.2 L1135.4,1744.1 L1136.9,1745.0 L1138.4,1745.9 L1139.9,1746.7 L1141.4,1747.5 L1142.9,1748.3 L1144.4,1749.0 L1145.9,1749.7 L1147.4,1750.3 L1148.9,1751.0 L1150.4,1751.6 L1151.9,1752.2 L1153.4,1752.7 L1154.9,1753.3 L1156.5,1753.8 L1158.0,1754.3 L1159.5,1754.8 L1161.0,1755.3 L1162.5,1755.8 L1164.0,1756.3 L1165.5,1756.8 L1167.0,1757.3 L1168.5,1757.7 L1170.0,1758.2 L1171.5,1758.6 L1173.0,1759.1 L1174.5,1759.6 L1176.0,1760.0 L1177.5,1760.5 L1179.0,1760.9 L1180.5,1761.4" fill="none" stroke="#8000ff" stroke-width="2.2" stroke-linejoin="round"/>
<path d="M200.5,1761.4 L202.0,1760.3 L203.5,1759.4 L205.0,1758.4 L206.5,1757.4 L208.0,1756.5 L209.5,1755.5 L211.0,1754.6 L212.5,1753.7 L214.0,1752.8 L215.5,1751.9 L217.0,1751.0 L218.5,1750.1 L220.0,1749.2 L221.5,1748.3 L223.0,1747.4 L224.5,1746.6 L226.1,1745.7 L227.6,1744.8 L229.1,1743.9 L230.6,1743.0 L232.1,1742.1 L233.6,1741.2 L235.1,1740.2 L236.6,1739.3 L238.1,1738.3 L239.6,1737.3 L241.1,1736.3 L242.6,1735.3 L244.1,1734.2 L245.6,1733.1 L247.1,1732.0 L248.6,1730.8 L250.1,1729.6 L251.6,1728.4 L253.1,1727.1 L254.6,1725.7 L256.1,1724.4 L257.6,1722.9 L259.1,1721.4 L260.6,1719.9 L262.1,1718.3 L263.6,1716.7 L265.1,1714.9 L266.6,1713.2 L268.1,1711.4 L269.6,1709.5 L271.1,1707.5 L272.6,1705.5 L274.2,1703.4 L275.7,1701.3 L277.2,1699.1 L278.7,1696.8 L280.2,1694.5 L281.7,1692.1 L283.2,1689.7 L284.7,1687.2 L286.2,1684.6 L287.7,1682.0 L289.2,1679.4 L290.7,1676.7 L292.2,1674.0 L293.7,1671.2 L295.2,1668.4 L296.7,1665.6 L298.2,1662.7 L299.7,1659.9 L301.2,1657.1 L302.7,1654.4 L304.2,1651.6 L305.7,1649.0 L307.2,1646.4 L308.7,1644.0 L310.2,1641.6 L311.7,1639.3 L313.2,1637.1 L314.7,1635.0 L316.2,1632.9 L317.7,1631.0 L319.2,1629.1 L320.7,1627.2 L322.2,1625.4 L323.8,1623.6 L325.3,1621.8 L326.8,1620.0 L328.3,1618.2 L329.8,1616.5 L331.3,1614.7 L332.8,1613.0 L334.3,1611.2 L335.8,1609.5 L337.3,1607.9 L338.8,1606.3 L340.3,1604.7 L341.8,1603.3 L343.3,1601.9 L344.8,1600.6 L346.3,1599.4 L347.8,1598.2 L349.3,1597.2 L350.8,1596.3 L352.3,1595.5 L353.8,1594.8 L355.3,1594.2 L356.8,1593.8 L358.3,1593.4 L359.8,1593.2 L361.3,1593.1 L362.8,1593.1 L364.3,1593.2 L365.8,1593.4 L367.3,1593.7 L368.8,1594.1 L370.3,1594.5 L371.8,1595.1 L373.4,1595.6 L374.9,1596.3 L376.4,1597.0 L377.9,1597.7 L379.4,1598.5 L380.9,1599.3 L382.4,1600.1 L383.9,1600.9 L385.4,1601.8 L386.9,1602.7 L388.4,1603.6 L389.9,1604.5 L391.4,1605.5 L392.9,1606.4 L394.4,1607.3 L395.9,1608.3 L397.4,1609.2 L398.9,1610.1 L400.4,1611.1 L401.9,1611.9 L403.4,1612.8 L404.9,1613.6 L406.4,1614.4 L407.9,1615.1 L409.4,1615.8 L410.9,1616.5 L412.4,1617.0 L413.9,1617.5 L415.4,1617.9 L416.9,1618.2 L418.4,1618.3 L419.9,1618.4 L421.5,1618.4 L423.0,1618.2 L424.5,1618.0 L426.0,1617.6 L427.5,1617.1 L429.0,1616.5 L430.5,1615.8 L432.0,1615.0 L433.5,1614.1 L435.0,1613.1 L436.5,1612.0 L438.0,1610.8 L439.5,1609.5 L441.0,1608.0 L442.5,1606.5 L444.0,1604.9 L445.5,1603.3 L447.0,1601.5 L448.5,1599.6 L450.0,1597.6 L451.5,1595.6 L453.0,1593.4 L454.5,1591.2 L456.0,1588.9 L457.5,1586.5 L459.0,1583.9 L460.5,1581.3 L462.0,1578.6 L463.5,1575.9 L465.0,1573.0 L466.5,1570.0 L468.0,1567.0 L469.5,1563.9 L471.1,1560.7 L472.6,1557.5 L474.1,1554.2 L475.6,1550.8 L477.1,1547.3 L478.6,1543.8 L480.1,1540.2 L481.6,1536.6 L483.1,1532.9 L484.6,1529.2 L486.1,1525.4 L487.6,1521.6 L489.1,1517.8 L490.6,1514.0 L492.1,1510.2 L493.6,1506.4 L495.1,1502.7 L496.6,1498.9 L498.1,1495.2 L499.6,1491.5 L501.1,1487.9 L502.6,1484.3 L504.1,1480.7 L505.6,1477.2 L507.1,1473.8 L508.6,1470.4 L510.1,1467.1 L511.6,1463.8 L513.1,1460.6 L514.6,1457.4 L516.1,1454.3 L517.6,1451.3 L519.2,1448.4 L520.7,1445.5 L522.2,1442.7 L523.7,1439.9 L525.2,1437.3 L526.7,1434.7 L528.2,1432.2 L529.7,1429.9 L531.2,1427.6 L532.7,1425.4 L534.2,1423.3 L535.7,1421.4 L537.2,1419.5 L538.7,1417.7 L540.2,1416.0 L541.7,1414.4 L543.2,1413.0 L544.7,1411.6 L546.2,1410.3 L547.7,1409.1 L549.2,1408.0 L550.7,1407.0 L552.2,1406.1 L553.7,1405.3 L555.2,1404.6 L556.7,1404.0 L558.2,1403.5 L559.7,1403.1 L561.2,1402.8 L562.7,1402.6 L564.2,1402.5 L565.7,1402.5 L567.2,1402.7 L568.8,1402.9 L570.3,1403.3 L571.8,1403.7 L573.3,1404.3 L574.8,1405.0 L576.3,1405.8 L577.8,1406.8 L579.3,1407.8 L580.8,1409.0 L582.3,1410.3 L583.8,1411.7 L585.3,1413.3 L586.8,1414.9 L588.3,1416.7 L589.8,1418.6 L591.3,1420.6 L592.8,1422.7 L594.3,1424.9 L595.8,1427.3 L597.3,1429.7 L598.8,1432.3 L600.3,1435.0 L601.8,1437.8 L603.3,1440.7 L604.8,1443.7 L606.3,1446.9 L607.8,1450.1 L609.3,1453.5 L610.8,1456.9 L612.3,1460.4 L613.8,1464.0 L615.3,1467.6 L616.8,1471.3 L618.4,1475.0 L619.9,1478.8 L621.4,1482.5 L622.9,1486.3 L624.4,1490.0 L625.9,1493.7 L627.4,1497.4 L628.9,1501.1 L630.4,1504.7 L631.9,1508.2 L633.4,1511.6 L634.9,1515.0 L636.4,1518.3 L637.9,1521.5 L639.4,1524.7 L640.9,1527.8 L642.4,1530.8 L643.9,1533.7 L645.4,1536.6 L646.9,1539.4 L648.4,1542.2 L649.9,1544.9 L651.4,1547.5 L652.9,1550.1 L654.4,1552.6 L655.9,1555.1 L657.4,1557.6 L658.9,1560.0 L660.4,1562.3 L661.9,1564.6 L663.4,1566.9 L664.9,1569.1 L666.5,1571.2 L668.0,1573.4 L669.5,1575.4 L671.0,1577.5 L672.5,1579.4 L674.0,1581.4 L675.5,1583.3 L677.0,1585.1 L678.5,1586.9 L680.0,1588.7 L681.5,1590.4 L683.0,1592.1 L684.5,1593.8 L686.0,1595.4 L687.5,1597.0 L689.0,1598.6 L690.5,1600.2 L692.0,1601.7 L693.5,1603.3 L695.0,1604.7 L696.5,1606.2 L698.0,1607.6 L699.5,1609.1 L701.0,1610.4 L702.5,1611.8 L704.0,1613.1 L705.5,1614.4 L707.0,1615.7 L708.5,1616.9 L710.0,1618.2 L711.5,1619.4 L713.0,1620.6 L714.5,1621.8 L716.1,1623.0 L717.6,1624.1 L719.1,1625.3 L720.6,1626.5 L722.1,1627.6 L723.6,1628.7 L725.1,1629.9 L726.6,1631.0 L728.1,1632.1 L729.6,1633.2 L731.1,1634.3 L732.6,1635.4 L734.1,1636.5 L735.6,1637.6 L737.1,1638.7 L738.6,1639.8 L740.1,1640.8 L741.6,1641.9 L743.1,1643.0 L744.6,1644.0 L746.1,1645.1 L747.6,1646.1 L749.1,1647.2 L750.6,1648.2 L752.1,1649.3 L753.6,1650.3 L755.1,1651.3 L756.6,1652.3 L758.1,1653.3 L759.6,1654.3 L761.1,1655.2 L762.6,1656.2 L764.2,1657.1 L765.7,1658.0 L767.2,1659.0 L768.7,1659.9 L770.2,1660.8 L771.7,1661.7 L773.2,1662.6 L774.7,1663.6 L776.2,1664.5 L777.7,1665.5 L779.2,1666.4 L780.7,1667.4 L782.2,1668.4 L783.7,1669.4 L785.2,1670.4 L786.7,1671.5 L788.2,1672.5 L789.7,1673.5 L791.2,1674.5 L792.7,1675.6 L794.2,1676.5 L795.7,1677.5 L797.2,1678.5 L798.7,1679.4 L800.2,1680.3 L801.7,1681.2 L803.2,1682.0 L804.7,1682.8 L806.2,1683.6 L807.7,1684.3 L809.2,1685.0 L810.7,1685.7 L812.2,1686.4 L813.8,1687.0 L815.3,1687.6 L816.8,1688.2 L818.3,1688.7 L819.8,1689.2 L821.3,1689.7 L822.8,1690.2 L824.3,1690.6 L825.8,1691.0 L827.3,1691.4 L828.8,1691.8 L830.3,1692.1 L831.8,1692.5 L833.3,1692.7 L834.8,1693.0 L836.3,1693.2 L837.8,1693.4 L839.3,1693.5 L840.8,1693.6 L842.3,1693.6 L843.8,1693.6 L845.3,1693.5 L846.8,1693.4 L848.3,1693.2 L849.8,1692.9 L851.3,1692.5 L852.8,1692.1 L854.3,1691.6 L855.8,1691.0 L857.3,1690.3 L858.8,1689.5 L860.3,1688.6 L861.8,1687.6 L863.4,1686.6 L864.9,1685.5 L866.4,1684.3 L867.9,1683.0 L869.4,1681.7 L870.9,1680.4 L872.4,1679.0 L873.9,1677.6 L875.4,1676.2 L876.9,1674.8 L878.4,1673.4 L879.9,1672.0 L881.4,1670.6 L882.9,1669.2 L884.4,1667.9 L885.9,1666.6 L887.4,1665.4 L888.9,1664.2 L890.4,1663.1 L891.9,1662.1 L893.4,1661.2 L894.9,1660.3 L896.4,1659.5 L897.9,1658.8 L899.4,1658.1 L900.9,1657.5 L902.4,1657.0 L903.9,1656.5 L905.4,1656.1 L906.9,1655.7 L908.4,1655.4 L909.9,1655.2 L911.5,1655.0 L913.0,1654.8 L914.5,1654.7 L916.0,1654.7 L917.5,1654.7 L919.0,1654.7 L920.5,1654.8 L922.0,1654.9 L923.5,1655.1 L925.0,1655.2 L926.5,1655.5 L928.0,1655.7 L929.5,1655.9 L931.0,1656.1 L932.5,1656.3 L934.0,1656.5 L935.5,1656.6 L937.0,1656.7 L938.5,1656.7 L940.0,1656.7 L941.5,1656.5 L943.0,1656.3 L944.5,1655.9 L946.0,1655.5 L947.5,1654.8 L949.0,1654.1 L950.5,1653.1 L952.0,1652.1 L953.5,1650.9 L955.0,1649.5 L956.5,1648.1 L958.0,1646.5 L959.5,1644.8 L961.1,1643.0 L962.6,1641.0 L964.1,1639.0 L965.6,1636.9 L967.1,1634.7 L968.6,1632.4 L970.1,1630.1 L971.6,1627.7 L973.1,1625.2 L974.6,1622.7 L976.1,1620.2 L977.6,1617.7 L979.1,1615.2 L980.6,1612.7 L982.1,1610.2 L983.6,1607.7 L985.1,1605.3 L986.6,1602.9 L988.1,1600.6 L989.6,1598.3 L991.1,1596.1 L992.6,1594.0 L994.1,1592.0 L995.6,1590.1 L997.1,1588.3 L998.6,1586.6 L1000.1,1585.0 L1001.6,1583.5 L1003.1,1582.1 L1004.6,1580.9 L1006.1,1579.7 L1007.6,1578.7 L1009.2,1577.7 L1010.7,1576.9 L1012.2,1576.2 L1013.7,1575.5 L1015.2,1575.0 L1016.7,1574.6 L1018.2,1574.3 L1019.7,1574.1 L1021.2,1573.9 L1022.7,1573.9 L1024.2,1573.9 L1025.7,1574.1 L1027.2,1574.4 L1028.7,1574.7 L1030.2,1575.2 L1031.7,1575.7 L1033.2,1576.4 L1034.7,1577.2 L1036.2,1578.2 L1037.7,1579.2 L1039.2,1580.4 L1040.7,1581.7 L1042.2,1583.1 L1043.7,1584.6 L1045.2,1586.2 L1046.7,1588.0 L1048.2,1589.9 L1049.7,1591.9 L1051.2,1594.0 L1052.7,1596.2 L1054.2,1598.5 L1055.7,1601.0 L1057.2,1603.5 L1058.8,1606.2 L1060.3,1608.9 L1061.8,1611.8 L1063.3,1614.8 L1064.8,1617.9 L1066.3,1621.1 L1067.8,1624.4 L1069.3,1627.7 L1070.8,1631.1 L1072.3,1634.6 L1073.8,1638.1 L1075.3,1641.7 L1076.8,1645.2 L1078.3,1648.8 L1079.8,1652.3 L1081.3,1655.8 L1082.8,1659.2 L1084.3,1662.6 L1085.8,1665.9 L1087.3,1669.2 L1088.8,1672.3 L1090.3,1675.4 L1091.8,1678.4 L1093.3,1681.3 L1094.8,1684.1 L1096.3,1686.8 L1097.8,1689.5 L1099.3,1692.1 L1100.8,1694.7 L1102.3,1697.1 L1103.8,1699.6 L1105.3,1701.9 L1106.8,1704.2 L1108.4,1706.4 L1109.9,1708.6 L1111.4,1710.7 L1112.9,1712.8 L1114.4,1714.8 L1115.9,1716.7 L1117.4,1718.6 L1118.9,1720.5 L1120.4,1722.3 L1121.9,1724.1 L1123.4,1725.8 L1124.9,1727.5 L1126.4,1729.2 L1127.9,1730.8 L1129.4,1732.4 L1130.9,1734.0 L1132.4,1735.5 L1133.9,1737.0 L1135.4,1738.4 L1136.9,1739.7 L1138.4,1741.0 L1139.9,1742.3 L1141.4,1743.4 L1142.9,1744.5 L1144.4,1745.6 L1145.9,1746.5 L1147.4,1747.4 L1148.9,1748.3 L1150.4,1749.1 L1151.9,1749.9 L1153.4,1750.6 L1154.9,1751.3 L1156.5,1751.9 L1158.0,1752.6 L1159.5,1753.2 L1161.0,1753.8 L1162.5,1754.5 L1164.0,1755.1 L1165.5,1755.6 L1167.0,1756.2 L1168.5,1756.8 L1170.0,1757.4 L1171.5,1758.0 L1173.0,1758.5 L1174.5,1759.1 L1176.0,1759.7 L1177.5,1760.2 L1179.0,1760.8 L1180.5,1761.4" fill="none" stroke="#000080" stroke-width="2.2" stroke-linejoin="round"/>
<path d="M200.5,1761.4 L202.0,1760.3 L203.5,1759.2 L205.0,1758.2 L206.5,1757.1 L208.0,1756.1 L209.5,1755.1 L211.0,1754.1 L212.5,1753.1 L214.0,1752.2 L215.5,1751.2 L217.0,1750.2 L218.5,1749.3 L220.0,1748.3 L221.5,1747.4 L223.0,1746.5 L224.5,1745.5 L226.1,1744.6 L227.6,1743.6 L229.1,1742.7 L230.6,1741.7 L232.1,1740.7 L233.6,1739.7 L235.1,1738.7 L236.6,1737.7 L238.1,1736.6 L239.6,1735.6 L241.1,1734.5 L242.6,1733.4 L244.1,1732.3 L245.6,1731.1 L247.1,1730.0 L248.6,1728.8 L250.1,1727.6 L251.6,1726.3 L253.1,1725.0 L254.6,1723.7 L256.1,1722.4 L257.6,1721.0 L259.1,1719.6 L260.6,1718.1 L262.1,1716.7 L263.6,1715.1 L265.1,1713.6 L266.6,1712.0 L268.1,1710.3 L269.6,1708.6 L271.1,1706.9 L272.6,1705.1 L274.2,1703.2 L275.7,1701.4 L277.2,1699.4 L278.7,1697.4 L280.2,1695.4 L281.7,1693.3 L283.2,1691.2 L284.7,1689.0 L286.2,1686.7 L287.7,1684.4 L289.2,1682.1 L290.7,1679.7 L292.2,1677.2 L293.7,1674.7 L295.2,1672.1 L296.7,1669.4 L298.2,1666.7 L299.7,1664.0 L301.2,1661.2 L302.7,1658.4 L304.2,1655.5 L305.7,1652.6 L307.2,1649.7 L308.7,1646.8 L310.2,1643.9 L311.7,1641.0 L313.2,1638.1 L314.7,1635.2 L316.2,1632.4 L317.7,1629.5 L319.2,1626.7 L320.7,1624.0 L322.2,1621.3 L323.8,1618.7 L325.3,1616.1 L326.8,1613.6 L328.3,1611.1 L329.8,1608.8 L331.3,1606.5 L332.8,1604.3 L334.3,1602.1 L335.8,1600.1 L337.3,1598.1 L338.8,1596.3 L340.3,1594.5 L341.8,1592.8 L343.3,1591.2 L344.8,1589.7 L346.3,1588.4 L347.8,1587.1 L349.3,1585.9 L350.8,1584.9 L352.3,1584.0 L353.8,1583.2 L355.3,1582.5 L356.8,1581.9 L358.3,1581.5 L359.8,1581.2 L361.3,1581.1 L362.8,1581.0 L364.3,1581.1 L365.8,1581.3 L367.3,1581.7 L368.8,1582.1 L370.3,1582.7 L371.8,1583.3 L373.4,1584.0 L374.9,1584.8 L376.4,1585.6 L377.9,1586.5 L379.4,1587.5 L380.9,1588.5 L382.4,1589.5 L383.9,1590.6 L385.4,1591.7 L386.9,1592.9 L388.4,1594.0 L389.9,1595.2 L391.4,1596.4 L392.9,1597.6 L394.4,1598.8 L395.9,1600.0 L397.4,1601.2 L398.9,1602.4 L400.4,1603.5 L401.9,1604.6 L403.4,1605.7 L404.9,1606.7 L406.4,1607.7 L407.9,1608.6 L409.4,1609.4 L410.9,1610.2 L412.4,1610.9 L413.9,1611.5 L415.4,1611.9 L416.9,1612.3 L418.4,1612.5 L419.9,1612.6 L421.5,1612.5 L423.0,1612.3 L424.5,1612.0 L426.0,1611.6 L427.5,1611.0 L429.0,1610.3 L430.5,1609.4 L432.0,1608.5 L433.5,1607.4 L435.0,1606.2 L436.5,1604.8 L438.0,1603.4 L439.5,1601.8 L441.0,1600.1 L442.5,1598.3 L444.0,1596.4 L445.5,1594.4 L447.0,1592.2 L448.5,1590.0 L450.0,1587.7 L451.5,1585.2 L453.0,1582.6 L454.5,1580.0 L456.0,1577.2 L457.5,1574.3 L459.0,1571.3 L460.5,1568.2 L462.0,1565.0 L463.5,1561.7 L465.0,1558.3 L466.5,1554.8 L468.0,1551.2 L469.5,1547.5 L471.1,1543.7 L472.6,1539.9 L474.1,1535.9 L475.6,1531.9 L477.1,1527.9 L478.6,1523.7 L480.1,1519.5 L481.6,1515.2 L483.1,1510.8 L484.6,1506.4 L486.1,1502.0 L487.6,1497.5 L489.1,1493.0 L490.6,1488.5 L492.1,1484.1 L493.6,1479.6 L495.1,1475.1 L496.6,1470.7 L498.1,1466.3 L499.6,1462.0 L501.1,1457.7 L502.6,1453.4 L504.1,1449.3 L505.6,1445.2 L507.1,1441.1 L508.6,1437.2 L510.1,1433.3 L511.6,1429.5 L513.1,1425.8 L514.6,1422.1 L516.1,1418.6 L517.6,1415.1 L519.2,1411.7 L520.7,1408.4 L522.2,1405.2 L523.7,1402.1 L525.2,1399.1 L526.7,1396.2 L528.2,1393.4 L529.7,1390.8 L531.2,1388.2 L532.7,1385.8 L534.2,1383.5 L535.7,1381.4 L537.2,1379.3 L538.7,1377.4 L540.2,1375.6 L541.7,1373.9 L543.2,1372.3 L544.7,1370.9 L546.2,1369.5 L547.7,1368.3 L549.2,1367.2 L550.7,1366.2 L552.2,1365.4 L553.7,1364.6 L555.2,1363.9 L556.7,1363.4 L558.2,1363.0 L559.7,1362.7 L561.2,1362.5 L562.7,1362.4 L564.2,1362.4 L565.7,1362.5 L567.2,1362.8 L568.8,1363.2 L570.3,1363.6 L571.8,1364.2 L573.3,1365.0 L574.8,1365.8 L576.3,1366.8 L577.8,1367.9 L579.3,1369.2 L580.8,1370.6 L582.3,1372.1 L583.8,1373.7 L585.3,1375.5 L586.8,1377.4 L588.3,1379.5 L589.8,1381.6 L591.3,1383.9 L592.8,1386.4 L594.3,1389.0 L595.8,1391.6 L597.3,1394.5 L598.8,1397.4 L600.3,1400.5 L601.8,1403.7 L603.3,1407.0 L604.8,1410.5 L606.3,1414.1 L607.8,1417.8 L609.3,1421.6 L610.8,1425.5 L612.3,1429.4 L613.8,1433.5 L615.3,1437.6 L616.8,1441.8 L618.4,1446.0 L619.9,1450.2 L621.4,1454.4 L622.9,1458.7 L624.4,1462.9 L625.9,1467.1 L627.4,1471.2 L628.9,1475.3 L630.4,1479.4 L631.9,1483.4 L633.4,1487.2 L634.9,1491.0 L636.4,1494.7 L637.9,1498.4 L639.4,1501.9 L640.9,1505.4 L642.4,1508.7 L643.9,1512.1 L645.4,1515.3 L646.9,1518.4 L648.4,1521.5 L649.9,1524.6 L651.4,1527.5 L652.9,1530.4 L654.4,1533.3 L655.9,1536.1 L657.4,1538.8 L658.9,1541.5 L660.4,1544.1 L661.9,1546.7 L663.4,1549.2 L664.9,1551.7 L666.5,1554.1 L668.0,1556.5 L669.5,1558.8 L671.0,1561.1 L672.5,1563.3 L674.0,1565.5 L675.5,1567.6 L677.0,1569.7 L678.5,1571.8 L680.0,1573.7 L681.5,1575.7 L683.0,1577.6 L684.5,1579.4 L686.0,1581.2 L687.5,1582.9 L689.0,1584.6 L690.5,1586.2 L692.0,1587.8 L693.5,1589.4 L695.0,1591.0 L696.5,1592.5 L698.0,1594.0 L699.5,1595.5 L701.0,1596.9 L702.5,1598.4 L704.0,1599.8 L705.5,1601.3 L707.0,1602.8 L708.5,1604.2 L710.0,1605.7 L711.5,1607.2 L713.0,1608.6 L714.5,1610.1 L716.1,1611.6 L717.6,1613.0 L719.1,1614.4 L720.6,1615.8 L722.1,1617.2 L723.6,1618.5 L725.1,1619.8 L726.6,1621.1 L728.1,1622.3 L729.6,1623.5 L731.1,1624.7 L732.6,1625.9 L734.1,1627.1 L735.6,1628.2 L737.1,1629.4 L738.6,1630.5 L740.1,1631.7 L741.6,1632.8 L743.1,1634.0 L744.6,1635.1 L746.1,1636.3 L747.6,1637.5 L749.1,1638.6 L750.6,1639.8 L752.1,1641.0 L753.6,1642.2 L755.1,1643.4 L756.6,1644.6 L758.1,1645.8 L759.6,1647.0 L761.1,1648.2 L762.6,1649.4 L764.2,1650.5 L765.7,1651.7 L767.2,1652.8 L768.7,1654.0 L770.2,1655.1 L771.7,1656.2 L773.2,1657.2 L774.7,1658.3 L776.2,1659.3 L777.7,1660.3 L779.2,1661.3 L780.7,1662.3 L782.2,1663.3 L783.7,1664.2 L785.2,1665.2 L786.7,1666.1 L788.2,1667.0 L789.7,1667.9 L791.2,1668.8 L792.7,1669.7 L794.2,1670.6 L795.7,1671.4 L797.2,1672.3 L798.7,1673.1 L800.2,1673.9 L801.7,1674.8 L803.2,1675.5 L804.7,1676.3 L806.2,1677.1 L807.7,1677.8 L809.2,1678.5 L810.7,1679.3 L812.2,1679.9 L813.8,1680.6 L815.3,1681.3 L816.8,1681.9 L818.3,1682.5 L819.8,1683.1 L821.3,1683.7 L822.8,1684.2 L824.3,1684.7 L825.8,1685.2 L827.3,1685.7 L828.8,1686.1 L830.3,1686.5 L831.8,1686.9 L833.3,1687.2 L834.8,1687.5 L836.3,1687.8 L837.8,1688.0 L839.3,1688.2 L840.8,1688.3 L842.3,1688.4 L843.8,1688.3 L845.3,1688.3 L846.8,1688.1 L848.3,1687.9 L849.8,1687.6 L851.3,1687.3 L852.8,1686.8 L854.3,1686.3 L855.8,1685.6 L857.3,1684.9 L858.8,1684.1 L860.3,1683.2 L861.8,1682.2 L863.4,1681.1 L864.9,1679.9 L866.4,1678.6 L867.9,1677.3 L869.4,1676.0 L870.9,1674.6 L872.4,1673.1 L873.9,1671.7 L875.4,1670.2 L876.9,1668.7 L878.4,1667.3 L879.9,1665.8 L881.4,1664.4 L882.9,1662.9 L884.4,1661.6 L885.9,1660.3 L887.4,1659.0 L888.9,1657.8 L890.4,1656.7 L891.9,1655.6 L893.4,1654.7 L894.9,1653.8 L896.4,1652.9 L897.9,1652.2 L899.4,1651.5 L900.9,1650.9 L902.4,1650.4 L903.9,1649.9 L905.4,1649.5 L906.9,1649.1 L908.4,1648.8 L909.9,1648.6 L911.5,1648.4 L913.0,1648.3 L914.5,1648.2 L916.0,1648.2 L917.5,1648.2 L919.0,1648.2 L920.5,1648.4 L922.0,1648.5 L923.5,1648.7 L925.0,1649.0 L926.5,1649.2 L928.0,1649.5 L929.5,1649.7 L931.0,1650.0 L932.5,1650.2 L934.0,1650.4 L935.5,1650.6 L937.0,1650.7 L938.5,1650.7 L940.0,1650.6 L941.5,1650.5 L943.0,1650.2 L944.5,1649.8 L946.0,1649.3 L947.5,1648.6 L949.0,1647.7 L950.5,1646.6 L952.0,1645.4 L953.5,1644.1 L955.0,1642.5 L956.5,1640.9 L958.0,1639.0 L959.5,1637.1 L961.1,1634.9 L962.6,1632.7 L964.1,1630.3 L965.6,1627.9 L967.1,1625.3 L968.6,1622.6 L970.1,1619.9 L971.6,1617.0 L973.1,1614.2 L974.6,1611.2 L976.1,1608.2 L977.6,1605.3 L979.1,1602.2 L980.6,1599.2 L982.1,1596.3 L983.6,1593.3 L985.1,1590.4 L986.6,1587.5 L988.1,1584.7 L989.6,1582.0 L991.1,1579.4 L992.6,1576.9 L994.1,1574.5 L995.6,1572.2 L997.1,1570.0 L998.6,1568.0 L1000.1,1566.1 L1001.6,1564.3 L1003.1,1562.7 L1004.6,1561.2 L1006.1,1559.9 L1007.6,1558.6 L1009.2,1557.6 L1010.7,1556.6 L1012.2,1555.7 L1013.7,1555.0 L1015.2,1554.4 L1016.7,1554.0 L1018.2,1553.6 L1019.7,1553.4 L1021.2,1553.2 L1022.7,1553.2 L1024.2,1553.3 L1025.7,1553.4 L1027.2,1553.7 L1028.7,1554.1 L1030.2,1554.6 L1031.7,1555.2 L1033.2,1555.9 L1034.7,1556.8 L1036.2,1557.8 L1037.7,1558.9 L1039.2,1560.2 L1040.7,1561.6 L1042.2,1563.1 L1043.7,1564.8 L1045.2,1566.6 L1046.7,1568.5 L1048.2,1570.6 L1049.7,1572.8 L1051.2,1575.2 L1052.7,1577.6 L1054.2,1580.2 L1055.7,1582.9 L1057.2,1585.8 L1058.8,1588.8 L1060.3,1591.9 L1061.8,1595.1 L1063.3,1598.4 L1064.8,1601.9 L1066.3,1605.5 L1067.8,1609.2 L1069.3,1613.0 L1070.8,1616.9 L1072.3,1620.8 L1073.8,1624.7 L1075.3,1628.7 L1076.8,1632.7 L1078.3,1636.6 L1079.8,1640.6 L1081.3,1644.5 L1082.8,1648.4 L1084.3,1652.1 L1085.8,1655.8 L1087.3,1659.4 L1088.8,1662.9 L1090.3,1666.3 L1091.8,1669.7 L1093.3,1672.9 L1094.8,1676.0 L1096.3,1679.1 L1097.8,1682.1 L1099.3,1684.9 L1100.8,1687.8 L1102.3,1690.5 L1103.8,1693.2 L1105.3,1695.8 L1106.8,1698.3 L1108.4,1700.8 L1109.9,1703.2 L1111.4,1705.5 L1112.9,1707.8 L1114.4,1710.0 L1115.9,1712.1 L1117.4,1714.2 L1118.9,1716.3 L1120.4,1718.3 L1121.9,1720.2 L1123.4,1722.2 L1124.9,1724.0 L1126.4,1725.9 L1127.9,1727.7 L1129.4,1729.4 L1130.9,1731.1 L1132.4,1732.8 L1133.9,1734.4 L1135.4,1735.9 L1136.9,1737.4 L1138.4,1738.9 L1139.9,1740.2 L1141.4,1741.5 L1142.9,1742.7 L1144.4,1743.8 L1145.9,1744.9 L1147.4,1745.9 L1148.9,1746.8 L1150.4,1747.7 L1151.9,1748.6 L1153.4,1749.4 L1154.9,1750.1 L1156.5,1750.9 L1158.0,1751.6 L1159.5,1752.3 L1161.0,1753.0 L1162.5,1753.7 L1164.0,1754.3 L1165.5,1755.0 L1167.0,1755.7 L1168.5,1756.3 L1170.0,1756.9 L1171.5,1757.6 L1173.0,1758.2 L1174.5,1758.8 L1176.0,1759.5 L1177.5,1760.1 L1179.0,1760.7 L1180.5,1761.3" fill="none" stroke="#008000" stroke-width="2.2" stroke-linejoin="round"/>
<path d="M200.5,1761.4 L202.0,1760.2 L203.5,1759.1 L205.0,1758.0 L206.5,1756.9 L208.0,1755.8 L209.5,1754.8 L211.0,1753.7 L212.5,1752.7 L214.0,1751.7 L215.5,1750.7 L217.0,1749.7 L218.5,1748.7 L220.0,1747.7 L221.5,1746.7 L223.0,1745.7 L224.5,1744.7 L226.1,1743.7 L227.6,1742.7 L229.1,1741.7 L230.6,1740.7 L232.1,1739.7 L233.6,1738.6 L235.1,1737.5 L236.6,1736.4 L238.1,1735.3 L239.6,1734.2 L241.1,1733.1 L242.6,1731.9 L244.1,1730.7 L245.6,1729.5 L247.1,1728.2 L248.6,1727.0 L250.1,1725.7 L251.6,1724.4 L253.1,1723.0 L254.6,1721.6 L256.1,1720.2 L257.6,1718.7 L259.1,1717.3 L260.6,1715.7 L262.1,1714.2 L263.6,1712.5 L265.1,1710.9 L266.6,1709.2 L268.1,1707.5 L269.6,1705.7 L271.1,1703.8 L272.6,1701.9 L274.2,1700.0 L275.7,1698.0 L277.2,1696.0 L278.7,1693.9 L280.2,1691.8 L281.7,1689.6 L283.2,1687.3 L284.7,1685.0 L286.2,1682.7 L287.7,1680.3 L289.2,1677.8 L290.7,1675.3 L292.2,1672.7 L293.7,1670.1 L295.2,1667.4 L296.7,1664.6 L298.2,1661.8 L299.7,1658.9 L301.2,1656.0 L302.7,1653.1 L304.2,1650.1 L305.7,1647.1 L307.2,1644.1 L308.7,1641.1 L310.2,1638.1 L311.7,1635.1 L313.2,1632.1 L314.7,1629.1 L316.2,1626.2 L317.7,1623.2 L319.2,1620.4 L320.7,1617.6 L322.2,1614.8 L323.8,1612.1 L325.3,1609.5 L326.8,1606.9 L328.3,1604.4 L329.8,1602.0 L331.3,1599.7 L332.8,1597.4 L334.3,1595.3 L335.8,1593.2 L337.3,1591.2 L338.8,1589.4 L340.3,1587.6 L341.8,1585.9 L343.3,1584.3 L344.8,1582.9 L346.3,1581.5 L347.8,1580.3 L349.3,1579.2 L350.8,1578.2 L352.3,1577.3 L353.8,1576.6 L355.3,1575.9 L356.8,1575.5 L358.3,1575.1 L359.8,1574.9 L361.3,1574.8 L362.8,1574.9 L364.3,1575.1 L365.8,1575.4 L367.3,1575.8 L368.8,1576.4 L370.3,1577.0 L371.8,1577.8 L373.4,1578.6 L374.9,1579.6 L376.4,1580.6 L377.9,1581.6 L379.4,1582.7 L380.9,1583.9 L382.4,1585.1 L383.9,1586.3 L385.4,1587.6 L386.9,1588.9 L388.4,1590.2 L389.9,1591.5 L391.4,1592.9 L392.9,1594.2 L394.4,1595.6 L395.9,1596.9 L397.4,1598.2 L398.9,1599.5 L400.4,1600.7 L401.9,1601.9 L403.4,1603.1 L404.9,1604.2 L406.4,1605.3 L407.9,1606.3 L409.4,1607.2 L410.9,1608.0 L412.4,1608.7 L413.9,1609.3 L415.4,1609.8 L416.9,1610.2 L418.4,1610.4 L419.9,1610.5 L421.5,1610.5 L423.0,1610.3 L424.5,1610.0 L426.0,1609.5 L427.5,1609.0 L429.0,1608.2 L430.5,1607.4 L432.0,1606.4 L433.5,1605.3 L435.0,1604.1 L436.5,1602.7 L438.0,1601.2 L439.5,1599.6 L441.0,1597.9 L442.5,1596.1 L444.0,1594.1 L445.5,1592.1 L447.0,1589.9 L448.5,1587.6 L450.0,1585.2 L451.5,1582.7 L453.0,1580.1 L454.5,1577.4 L456.0,1574.6 L457.5,1571.6 L459.0,1568.6 L460.5,1565.4 L462.0,1562.1 L463.5,1558.7 L465.0,1555.2 L466.5,1551.6 L468.0,1547.9 L469.5,1544.1 L471.1,1540.1 L472.6,1536.1 L474.1,1532.0 L475.6,1527.7 L477.1,1523.4 L478.6,1519.0 L480.1,1514.5 L481.6,1509.8 L483.1,1505.1 L484.6,1500.4 L486.1,1495.5 L487.6,1490.6 L489.1,1485.7 L490.6,1480.8 L492.1,1475.8 L493.6,1470.8 L495.1,1465.9 L496.6,1460.9 L498.1,1456.0 L499.6,1451.1 L501.1,1446.2 L502.6,1441.4 L504.1,1436.6 L505.6,1431.9 L507.1,1427.3 L508.6,1422.7 L510.1,1418.3 L511.6,1413.9 L513.1,1409.6 L514.6,1405.4 L516.1,1401.3 L517.6,1397.2 L519.2,1393.3 L520.7,1389.5 L522.2,1385.7 L523.7,1382.1 L525.2,1378.6 L526.7,1375.2 L528.2,1371.9 L529.7,1368.8 L531.2,1365.7 L532.7,1362.8 L534.2,1360.1 L535.7,1357.4 L537.2,1354.9 L538.7,1352.5 L540.2,1350.3 L541.7,1348.1 L543.2,1346.1 L544.7,1344.3 L546.2,1342.6 L547.7,1341.0 L549.2,1339.5 L550.7,1338.2 L552.2,1337.0 L553.7,1335.9 L555.2,1335.0 L556.7,1334.3 L558.2,1333.6 L559.7,1333.1 L561.2,1332.8 L562.7,1332.5 L564.2,1332.5 L565.7,1332.5 L567.2,1332.7 L568.8,1333.0 L570.3,1333.5 L571.8,1334.1 L573.3,1334.9 L574.8,1335.8 L576.3,1336.8 L577.8,1338.0 L579.3,1339.3 L580.8,1340.8 L582.3,1342.4 L583.8,1344.2 L585.3,1346.1 L586.8,1348.2 L588.3,1350.4 L589.8,1352.7 L591.3,1355.2 L592.8,1357.8 L594.3,1360.6 L595.8,1363.5 L597.3,1366.6 L598.8,1369.8 L600.3,1373.1 L601.8,1376.5 L603.3,1380.1 L604.8,1383.9 L606.3,1387.7 L607.8,1391.7 L609.3,1395.8 L610.8,1400.0 L612.3,1404.3 L613.8,1408.7 L615.3,1413.2 L616.8,1417.7 L618.4,1422.2 L619.9,1426.8 L621.4,1431.4 L622.9,1435.9 L624.4,1440.5 L625.9,1445.1 L627.4,1449.6 L628.9,1454.0 L630.4,1458.4 L631.9,1462.7 L633.4,1466.9 L634.9,1471.0 L636.4,1475.1 L637.9,1479.0 L639.4,1482.9 L640.9,1486.6 L642.4,1490.3 L643.9,1493.9 L645.4,1497.4 L646.9,1500.9 L648.4,1504.3 L649.9,1507.6 L651.4,1510.8 L652.9,1514.0 L654.4,1517.1 L655.9,1520.2 L657.4,1523.2 L658.9,1526.1 L660.4,1529.0 L661.9,1531.8 L663.4,1534.6 L664.9,1537.3 L666.5,1540.0 L668.0,1542.6 L669.5,1545.2 L671.0,1547.7 L672.5,1550.2 L674.0,1552.6 L675.5,1555.0 L677.0,1557.3 L678.5,1559.6 L680.0,1561.8 L681.5,1564.0 L683.0,1566.2 L684.5,1568.2 L686.0,1570.3 L687.5,1572.3 L689.0,1574.2 L690.5,1576.1 L692.0,1578.0 L693.5,1579.8 L695.0,1581.6 L696.5,1583.4 L698.0,1585.1 L699.5,1586.7 L701.0,1588.4 L702.5,1590.0 L704.0,1591.5 L705.5,1593.1 L707.0,1594.6 L708.5,1596.1 L710.0,1597.6 L711.5,1599.0 L713.0,1600.4 L714.5,1601.8 L716.1,1603.2 L717.6,1604.6 L719.1,1606.0 L720.6,1607.4 L722.1,1608.8 L723.6,1610.1 L725.1,1611.5 L726.6,1612.8 L728.1,1614.2 L729.6,1615.5 L731.1,1616.9 L732.6,1618.2 L734.1,1619.6 L735.6,1620.9 L737.1,1622.3 L738.6,1623.6 L740.1,1625.0 L741.6,1626.4 L743.1,1627.7 L744.6,1629.1 L746.1,1630.4 L747.6,1631.8 L749.1,1633.1 L750.6,1634.5 L752.1,1635.8 L753.6,1637.1 L755.1,1638.5 L756.6,1639.8 L758.1,1641.1 L759.6,1642.4 L761.1,1643.6 L762.6,1644.9 L764.2,1646.1 L765.7,1647.4 L767.2,1648.6 L768.7,1649.8 L770.2,1651.0 L771.7,1652.2 L773.2,1653.4 L774.7,1654.5 L776.2,1655.7 L777.7,1656.8 L779.2,1657.9 L780.7,1658.9 L782.2,1660.0 L783.7,1661.0 L785.2,1662.0 L786.7,1662.9 L788.2,1663.8 L789.7,1664.8 L791.2,1665.6 L792.7,1666.5 L794.2,1667.4 L795.7,1668.2 L797.2,1669.0 L798.7,1669.8 L800.2,1670.6 L801.7,1671.4 L803.2,1672.2 L804.7,1672.9 L806.2,1673.7 L807.7,1674.4 L809.2,1675.2 L810.7,1675.9 L812.2,1676.6 L813.8,1677.3 L815.3,1677.9 L816.8,1678.6 L818.3,1679.2 L819.8,1679.8 L821.3,1680.4 L822.8,1681.0 L824.3,1681.5 L825.8,1682.1 L827.3,1682.5 L828.8,1683.0 L830.3,1683.4 L831.8,1683.8 L833.3,1684.2 L834.8,1684.5 L836.3,1684.8 L837.8,1685.0 L839.3,1685.2 L840.8,1685.3 L842.3,1685.4 L843.8,1685.4 L845.3,1685.3 L846.8,1685.2 L848.3,1684.9 L849.8,1684.7 L851.3,1684.3 L852.8,1683.8 L854.3,1683.3 L855.8,1682.6 L857.3,1681.9 L858.8,1681.0 L860.3,1680.1 L861.8,1679.0 L863.4,1677.9 L864.9,1676.7 L866.4,1675.4 L867.9,1674.1 L869.4,1672.7 L870.9,1671.2 L872.4,1669.8 L873.9,1668.3 L875.4,1666.8 L876.9,1665.2 L878.4,1663.7 L879.9,1662.2 L881.4,1660.8 L882.9,1659.3 L884.4,1657.9 L885.9,1656.6 L887.4,1655.3 L888.9,1654.1 L890.4,1652.9 L891.9,1651.9 L893.4,1650.9 L894.9,1650.0 L896.4,1649.1 L897.9,1648.4 L899.4,1647.7 L900.9,1647.1 L902.4,1646.6 L903.9,1646.1 L905.4,1645.7 L906.9,1645.3 L908.4,1645.0 L909.9,1644.8 L911.5,1644.6 L913.0,1644.5 L914.5,1644.5 L916.0,1644.5 L917.5,1644.5 L919.0,1644.6 L920.5,1644.8 L922.0,1645.0 L923.5,1645.2 L925.0,1645.5 L926.5,1645.8 L928.0,1646.1 L929.5,1646.4 L931.0,1646.7 L932.5,1646.9 L934.0,1647.1 L935.5,1647.3 L937.0,1647.4 L938.5,1647.4 L940.0,1647.3 L941.5,1647.1 L943.0,1646.8 L944.5,1646.3 L946.0,1645.7 L947.5,1644.9 L949.0,1643.9 L950.5,1642.8 L952.0,1641.4 L953.5,1639.9 L955.0,1638.3 L956.5,1636.5 L958.0,1634.5 L959.5,1632.3 L961.1,1630.0 L962.6,1627.6 L964.1,1625.0 L965.6,1622.2 L967.1,1619.4 L968.6,1616.4 L970.1,1613.3 L971.6,1610.2 L973.1,1606.9 L974.6,1603.6 L976.1,1600.3 L977.6,1596.9 L979.1,1593.5 L980.6,1590.1 L982.1,1586.8 L983.6,1583.4 L985.1,1580.2 L986.6,1577.0 L988.1,1573.9 L989.6,1570.8 L991.1,1567.9 L992.6,1565.1 L994.1,1562.4 L995.6,1559.9 L997.1,1557.4 L998.6,1555.1 L1000.1,1553.0 L1001.6,1550.9 L1003.1,1549.0 L1004.6,1547.3 L1006.1,1545.7 L1007.6,1544.2 L1009.2,1542.9 L1010.7,1541.7 L1012.2,1540.6 L1013.7,1539.7 L1015.2,1538.9 L1016.7,1538.3 L1018.2,1537.8 L1019.7,1537.5 L1021.2,1537.2 L1022.7,1537.1 L1024.2,1537.1 L1025.7,1537.3 L1027.2,1537.6 L1028.7,1537.9 L1030.2,1538.5 L1031.7,1539.1 L1033.2,1539.9 L1034.7,1540.9 L1036.2,1542.0 L1037.7,1543.2 L1039.2,1544.6 L1040.7,1546.1 L1042.2,1547.8 L1043.7,1549.6 L1045.2,1551.5 L1046.7,1553.6 L1048.2,1555.8 L1049.7,1558.2 L1051.2,1560.7 L1052.7,1563.3 L1054.2,1566.0 L1055.7,1568.9 L1057.2,1571.9 L1058.8,1575.0 L1060.3,1578.3 L1061.8,1581.7 L1063.3,1585.2 L1064.8,1588.9 L1066.3,1592.7 L1067.8,1596.7 L1069.3,1600.7 L1070.8,1604.9 L1072.3,1609.1 L1073.8,1613.4 L1075.3,1617.7 L1076.8,1622.1 L1078.3,1626.5 L1079.8,1630.9 L1081.3,1635.3 L1082.8,1639.6 L1084.3,1643.9 L1085.8,1648.1 L1087.3,1652.2 L1088.8,1656.2 L1090.3,1660.2 L1091.8,1664.0 L1093.3,1667.8 L1094.8,1671.4 L1096.3,1675.0 L1097.8,1678.4 L1099.3,1681.8 L1100.8,1685.0 L1102.3,1688.2 L1103.8,1691.3 L1105.3,1694.3 L1106.8,1697.1 L1108.4,1699.9 L1109.9,1702.6 L1111.4,1705.2 L1112.9,1707.7 L1114.4,1710.1 L1115.9,1712.5 L1117.4,1714.7 L1118.9,1716.9 L1120.4,1719.0 L1121.9,1721.0 L1123.4,1722.9 L1124.9,1724.8 L1126.4,1726.5 L1127.9,1728.3 L1129.4,1729.9 L1130.9,1731.5 L1132.4,1733.0 L1133.9,1734.4 L1135.4,1735.8 L1136.9,1737.1 L1138.4,1738.4 L1139.9,1739.6 L1141.4,1740.8 L1142.9,1741.9 L1144.4,1742.9 L1145.9,1743.9 L1147.4,1744.9 L1148.9,1745.8 L1150.4,1746.7 L1151.9,1747.6 L1153.4,1748.4 L1154.9,1749.2 L1156.5,1750.0 L1158.0,1750.8 L1159.5,1751.6 L1161.0,1752.3 L1162.5,1753.1 L1164.0,1753.8 L1165.5,1754.5 L1167.0,1755.2 L1168.5,1755.9 L1170.0,1756.6 L1171.5,1757.3 L1173.0,1758.0 L1174.5,1758.6 L1176.0,1759.3 L1177.5,1760.0 L1179.0,1760.7 L1180.5,1761.3" fill="none" stroke="#ff00ff" stroke-width="2.2" stroke-linejoin="round"/>
<path d="M200.5,1761.3 L202.0,1760.2 L203.5,1759.0 L205.0,1757.8 L206.5,1756.7 L208.0,1755.6 L209.5,1754.5 L211.0,1753.4 L212.5,1752.3 L214.0,1751.2 L215.5,1750.2 L217.0,1749.1 L218.5,1748.1 L220.0,1747.0 L221.5,1746.0 L223.0,1745.0 L224.5,1743.9 L226.1,1742.9 L227.6,1741.9 L229.1,1740.8 L230.6,1739.7 L232.1,1738.6 L233.6,1737.5 L235.1,1736.4 L236.6,1735.2 L238.1,1734.0 L239.6,1732.8 L241.1,1731.6 L242.6,1730.4 L244.1,1729.1 L245.6,1727.8 L247.1,1726.5 L248.6,1725.1 L250.1,1723.7 L251.6,1722.3 L253.1,1720.9 L254.6,1719.4 L256.1,1717.9 L257.6,1716.3 L259.1,1714.7 L260.6,1713.1 L262.1,1711.4 L263.6,1709.7 L265.1,1707.9 L266.6,1706.1 L268.1,1704.3 L269.6,1702.4 L271.1,1700.4 L272.6,1698.4 L274.2,1696.4 L275.7,1694.3 L277.2,1692.1 L278.7,1689.9 L280.2,1687.7 L281.7,1685.4 L283.2,1683.0 L284.7,1680.6 L286.2,1678.1 L287.7,1675.6 L289.2,1673.0 L290.7,1670.4 L292.2,1667.7 L293.7,1664.9 L295.2,1662.1 L296.7,1659.2 L298.2,1656.3 L299.7,1653.3 L301.2,1650.3 L302.7,1647.2 L304.2,1644.1 L305.7,1641.0 L307.2,1637.9 L308.7,1634.8 L310.2,1631.6 L311.7,1628.5 L313.2,1625.4 L314.7,1622.3 L316.2,1619.3 L317.7,1616.3 L319.2,1613.4 L320.7,1610.5 L322.2,1607.6 L323.8,1604.9 L325.3,1602.2 L326.8,1599.6 L328.3,1597.0 L329.8,1594.6 L331.3,1592.2 L332.8,1589.9 L334.3,1587.8 L335.8,1585.7 L337.3,1583.7 L338.8,1581.8 L340.3,1580.0 L341.8,1578.4 L343.3,1576.8 L344.8,1575.4 L346.3,1574.1 L347.8,1572.9 L349.3,1571.8 L350.8,1570.8 L352.3,1570.0 L353.8,1569.3 L355.3,1568.8 L356.8,1568.4 L358.3,1568.1 L359.8,1568.0 L361.3,1568.0 L362.8,1568.2 L364.3,1568.5 L365.8,1569.0 L367.3,1569.6 L368.8,1570.4 L370.3,1571.3 L371.8,1572.3 L373.4,1573.4 L374.9,1574.6 L376.4,1575.9 L377.9,1577.3 L379.4,1578.8 L380.9,1580.3 L382.4,1581.9 L383.9,1583.5 L385.4,1585.2 L386.9,1586.8 L388.4,1588.5 L389.9,1590.3 L391.4,1592.0 L392.9,1593.7 L394.4,1595.4 L395.9,1597.0 L397.4,1598.7 L398.9,1600.3 L400.4,1601.8 L401.9,1603.3 L403.4,1604.7 L404.9,1606.1 L406.4,1607.3 L407.9,1608.5 L409.4,1609.6 L410.9,1610.5 L412.4,1611.3 L413.9,1612.0 L415.4,1612.6 L416.9,1613.0 L418.4,1613.3 L419.9,1613.3 L421.5,1613.3 L423.0,1613.1 L424.5,1612.7 L426.0,1612.2 L427.5,1611.5 L429.0,1610.7 L430.5,1609.7 L432.0,1608.6 L433.5,1607.3 L435.0,1606.0 L436.5,1604.4 L438.0,1602.8 L439.5,1601.0 L441.0,1599.1 L442.5,1597.1 L444.0,1594.9 L445.5,1592.6 L447.0,1590.2 L448.5,1587.8 L450.0,1585.1 L451.5,1582.4 L453.0,1579.6 L454.5,1576.6 L456.0,1573.6 L457.5,1570.4 L459.0,1567.1 L460.5,1563.7 L462.0,1560.2 L463.5,1556.6 L465.0,1552.9 L466.5,1549.1 L468.0,1545.1 L469.5,1541.0 L471.1,1536.9 L472.6,1532.5 L474.1,1528.1 L475.6,1523.6 L477.1,1518.9 L478.6,1514.1 L480.1,1509.2 L481.6,1504.1 L483.1,1498.9 L484.6,1493.7 L486.1,1488.3 L487.6,1482.9 L489.1,1477.4 L490.6,1471.8 L492.1,1466.2 L493.6,1460.6 L495.1,1454.9 L496.6,1449.3 L498.1,1443.6 L499.6,1437.9 L501.1,1432.3 L502.6,1426.7 L504.1,1421.2 L505.6,1415.7 L507.1,1410.3 L508.6,1405.0 L510.1,1399.8 L511.6,1394.6 L513.1,1389.5 L514.6,1384.6 L516.1,1379.8 L517.6,1375.0 L519.2,1370.4 L520.7,1365.9 L522.2,1361.6 L523.7,1357.4 L525.2,1353.3 L526.7,1349.4 L528.2,1345.7 L529.7,1342.1 L531.2,1338.7 L532.7,1335.4 L534.2,1332.3 L535.7,1329.4 L537.2,1326.6 L538.7,1324.0 L540.2,1321.5 L541.7,1319.2 L543.2,1317.1 L544.7,1315.1 L546.2,1313.3 L547.7,1311.6 L549.2,1310.1 L550.7,1308.8 L552.2,1307.5 L553.7,1306.5 L555.2,1305.5 L556.7,1304.8 L558.2,1304.1 L559.7,1303.6 L561.2,1303.3 L562.7,1303.1 L564.2,1303.0 L565.7,1303.1 L567.2,1303.3 L568.8,1303.7 L570.3,1304.2 L571.8,1304.9 L573.3,1305.7 L574.8,1306.7 L576.3,1307.9 L577.8,1309.2 L579.3,1310.6 L580.8,1312.2 L582.3,1314.0 L583.8,1315.9 L585.3,1318.0 L586.8,1320.3 L588.3,1322.7 L589.8,1325.2 L591.3,1327.9 L592.8,1330.8 L594.3,1333.8 L595.8,1337.0 L597.3,1340.3 L598.8,1343.8 L600.3,1347.4 L601.8,1351.2 L603.3,1355.1 L604.8,1359.1 L606.3,1363.3 L607.8,1367.7 L609.3,1372.1 L610.8,1376.7 L612.3,1381.3 L613.8,1386.1 L615.3,1390.9 L616.8,1395.8 L618.4,1400.7 L619.9,1405.6 L621.4,1410.6 L622.9,1415.5 L624.4,1420.5 L625.9,1425.4 L627.4,1430.2 L628.9,1435.0 L630.4,1439.8 L631.9,1444.4 L633.4,1449.0 L634.9,1453.4 L636.4,1457.8 L637.9,1462.0 L639.4,1466.1 L640.9,1470.2 L642.4,1474.2 L643.9,1478.1 L645.4,1481.8 L646.9,1485.6 L648.4,1489.2 L649.9,1492.8 L651.4,1496.2 L652.9,1499.7 L654.4,1503.0 L655.9,1506.3 L657.4,1509.5 L658.9,1512.6 L660.4,1515.7 L661.9,1518.8 L663.4,1521.7 L664.9,1524.7 L666.5,1527.5 L668.0,1530.3 L669.5,1533.1 L671.0,1535.8 L672.5,1538.4 L674.0,1541.0 L675.5,1543.5 L677.0,1546.0 L678.5,1548.4 L680.0,1550.8 L681.5,1553.1 L683.0,1555.3 L684.5,1557.5 L686.0,1559.7 L687.5,1561.8 L689.0,1563.8 L690.5,1565.8 L692.0,1567.8 L693.5,1569.7 L695.0,1571.6 L696.5,1573.4 L698.0,1575.2 L699.5,1577.0 L701.0,1578.7 L702.5,1580.4 L704.0,1582.1 L705.5,1583.8 L707.0,1585.4 L708.5,1587.1 L710.0,1588.7 L711.5,1590.4 L713.0,1592.0 L714.5,1593.6 L716.1,1595.2 L717.6,1596.8 L719.1,1598.4 L720.6,1599.9 L722.1,1601.4 L723.6,1602.8 L725.1,1604.3 L726.6,1605.7 L728.1,1607.1 L729.6,1608.4 L731.1,1609.8 L732.6,1611.1 L734.1,1612.4 L735.6,1613.7 L737.1,1615.0 L738.6,1616.3 L740.1,1617.6 L741.6,1618.9 L743.1,1620.2 L744.6,1621.5 L746.1,1622.8 L747.6,1624.1 L749.1,1625.5 L750.6,1626.8 L752.1,1628.1 L753.6,1629.5 L755.1,1630.8 L756.6,1632.2 L758.1,1633.5 L759.6,1634.9 L761.1,1636.2 L762.6,1637.6 L764.2,1638.9 L765.7,1640.2 L767.2,1641.5 L768.7,1642.8 L770.2,1644.1 L771.7,1645.3 L773.2,1646.6 L774.7,1647.8 L776.2,1649.0 L777.7,1650.3 L779.2,1651.5 L780.7,1652.7 L782.2,1653.8 L783.7,1655.0 L785.2,1656.2 L786.7,1657.3 L788.2,1658.5 L789.7,1659.6 L791.2,1660.8 L792.7,1661.9 L794.2,1663.0 L795.7,1664.1 L797.2,1665.1 L798.7,1666.2 L800.2,1667.2 L801.7,1668.2 L803.2,1669.1 L804.7,1670.1 L806.2,1671.0 L807.7,1671.9 L809.2,1672.8 L810.7,1673.6 L812.2,1674.4 L813.8,1675.2 L815.3,1676.0 L816.8,1676.7 L818.3,1677.4 L819.8,1678.0 L821.3,1678.7 L822.8,1679.3 L824.3,1679.9 L825.8,1680.4 L827.3,1680.9 L828.8,1681.4 L830.3,1681.8 L831.8,1682.2 L833.3,1682.6 L834.8,1682.9 L836.3,1683.2 L837.8,1683.4 L839.3,1683.6 L840.8,1683.7 L842.3,1683.7 L843.8,1683.7 L845.3,1683.6 L846.8,1683.5 L848.3,1683.2 L849.8,1682.9 L851.3,1682.5 L852.8,1681.9 L854.3,1681.3 L855.8,1680.6 L857.3,1679.8 L858.8,1678.9 L860.3,1677.9 L861.8,1676.8 L863.4,1675.5 L864.9,1674.2 L866.4,1672.8 L867.9,1671.4 L869.4,1669.9 L870.9,1668.3 L872.4,1666.7 L873.9,1665.1 L875.4,1663.5 L876.9,1661.8 L878.4,1660.2 L879.9,1658.5 L881.4,1656.9 L882.9,1655.4 L884.4,1653.8 L885.9,1652.4 L887.4,1651.0 L888.9,1649.6 L890.4,1648.3 L891.9,1647.2 L893.4,1646.1 L894.9,1645.1 L896.4,1644.2 L897.9,1643.4 L899.4,1642.6 L900.9,1642.0 L902.4,1641.4 L903.9,1640.9 L905.4,1640.4 L906.9,1640.1 L908.4,1639.8 L909.9,1639.6 L911.5,1639.4 L913.0,1639.4 L914.5,1639.3 L916.0,1639.4 L917.5,1639.5 L919.0,1639.7 L920.5,1639.9 L922.0,1640.3 L923.5,1640.6 L925.0,1641.0 L926.5,1641.4 L928.0,1641.8 L929.5,1642.2 L931.0,1642.6 L932.5,1642.9 L934.0,1643.2 L935.5,1643.4 L937.0,1643.6 L938.5,1643.6 L940.0,1643.6 L941.5,1643.4 L943.0,1643.1 L944.5,1642.6 L946.0,1642.0 L947.5,1641.1 L949.0,1640.1 L950.5,1638.9 L952.0,1637.5 L953.5,1635.9 L955.0,1634.1 L956.5,1632.2 L958.0,1630.1 L959.5,1627.8 L961.1,1625.3 L962.6,1622.7 L964.1,1619.8 L965.6,1616.9 L967.1,1613.8 L968.6,1610.5 L970.1,1607.1 L971.6,1603.7 L973.1,1600.1 L974.6,1596.4 L976.1,1592.7 L977.6,1589.0 L979.1,1585.3 L980.6,1581.5 L982.1,1577.8 L983.6,1574.2 L985.1,1570.6 L986.6,1567.1 L988.1,1563.7 L989.6,1560.5 L991.1,1557.3 L992.6,1554.2 L994.1,1551.3 L995.6,1548.5 L997.1,1545.9 L998.6,1543.4 L1000.1,1541.0 L1001.6,1538.8 L1003.1,1536.7 L1004.6,1534.8 L1006.1,1533.0 L1007.6,1531.4 L1009.2,1530.0 L1010.7,1528.7 L1012.2,1527.5 L1013.7,1526.6 L1015.2,1525.8 L1016.7,1525.1 L1018.2,1524.7 L1019.7,1524.4 L1021.2,1524.3 L1022.7,1524.3 L1024.2,1524.5 L1025.7,1524.8 L1027.2,1525.3 L1028.7,1526.0 L1030.2,1526.8 L1031.7,1527.7 L1033.2,1528.8 L1034.7,1530.1 L1036.2,1531.5 L1037.7,1533.1 L1039.2,1534.7 L1040.7,1536.6 L1042.2,1538.5 L1043.7,1540.6 L1045.2,1542.9 L1046.7,1545.2 L1048.2,1547.7 L1049.7,1550.3 L1051.2,1553.1 L1052.7,1556.0 L1054.2,1559.1 L1055.7,1562.2 L1057.2,1565.6 L1058.8,1569.0 L1060.3,1572.6 L1061.8,1576.4 L1063.3,1580.3 L1064.8,1584.3 L1066.3,1588.5 L1067.8,1592.7 L1069.3,1597.1 L1070.8,1601.5 L1072.3,1606.1 L1073.8,1610.6 L1075.3,1615.2 L1076.8,1619.7 L1078.3,1624.3 L1079.8,1628.9 L1081.3,1633.3 L1082.8,1637.8 L1084.3,1642.1 L1085.8,1646.4 L1087.3,1650.5 L1088.8,1654.6 L1090.3,1658.5 L1091.8,1662.3 L1093.3,1666.1 L1094.8,1669.7 L1096.3,1673.2 L1097.8,1676.6 L1099.3,1679.9 L1100.8,1683.2 L1102.3,1686.3 L1103.8,1689.3 L1105.3,1692.3 L1106.8,1695.1 L1108.4,1697.9 L1109.9,1700.5 L1111.4,1703.1 L1112.9,1705.6 L1114.4,1708.0 L1115.9,1710.4 L1117.4,1712.6 L1118.9,1714.8 L1120.4,1716.9 L1121.9,1718.9 L1123.4,1720.9 L1124.9,1722.8 L1126.4,1724.6 L1127.9,1726.3 L1129.4,1728.0 L1130.9,1729.6 L1132.4,1731.2 L1133.9,1732.7 L1135.4,1734.1 L1136.9,1735.5 L1138.4,1736.9 L1139.9,1738.1 L1141.4,1739.4 L1142.9,1740.5 L1144.4,1741.6 L1145.9,1742.7 L1147.4,1743.8 L1148.9,1744.7 L1150.4,1745.7 L1151.9,1746.6 L1153.4,1747.5 L1154.9,1748.4 L1156.5,1749.2 L1158.0,1750.1 L1159.5,1750.9 L1161.0,1751.7 L1162.5,1752.5 L1164.0,1753.2 L1165.5,1754.0 L1167.0,1754.8 L1168.5,1755.5 L1170.0,1756.3 L1171.5,1757.0 L1173.0,1757.7 L1174.5,1758.4 L1176.0,1759.2 L1177.5,1759.9 L1179.0,1760.6 L1180.5,1761.3" fill="none" stroke="#000000" stroke-width="2.2" stroke-linejoin="round"/>
<path d="M200.5,1761.3 L202.0,1760.1 L203.5,1759.0 L205.0,1757.8 L206.5,1756.7 L208.0,1755.5 L209.5,1754.4 L211.0,1753.3 L212.5,1752.2 L214.0,1751.1 L215.5,1750.1 L217.0,1749.0 L218.5,1748.0 L220.0,1746.9 L221.5,1745.9 L223.0,1744.8 L224.5,1743.8 L226.1,1742.7 L227.6,1741.7 L229.1,1740.6 L230.6,1739.5 L232.1,1738.4 L233.6,1737.3 L235.1,1736.1 L236.6,1735.0 L238.1,1733.8 L239.6,1732.6 L241.1,1731.3 L242.6,1730.1 L244.1,1728.8 L245.6,1727.5 L247.1,1726.2 L248.6,1724.8 L250.1,1723.4 L251.6,1722.0 L253.1,1720.6 L254.6,1719.1 L256.1,1717.6 L257.6,1716.0 L259.1,1714.4 L260.6,1712.8 L262.1,1711.1 L263.6,1709.4 L265.1,1707.6 L266.6,1705.8 L268.1,1704.0 L269.6,1702.1 L271.1,1700.1 L272.6,1698.1 L274.2,1696.0 L275.7,1693.9 L277.2,1691.7 L278.7,1689.5 L280.2,1687.2 L281.7,1684.9 L283.2,1682.5 L284.7,1680.0 L286.2,1677.5 L287.7,1674.9 L289.2,1672.3 L290.7,1669.6 L292.2,1666.8 L293.7,1664.0 L295.2,1661.1 L296.7,1658.2 L298.2,1655.2 L299.7,1652.1 L301.2,1649.0 L302.7,1645.9 L304.2,1642.7 L305.7,1639.5 L307.2,1636.3 L308.7,1633.1 L310.2,1629.9 L311.7,1626.6 L313.2,1623.4 L314.7,1620.3 L316.2,1617.1 L317.7,1614.0 L319.2,1610.9 L320.7,1607.9 L322.2,1605.0 L323.8,1602.1 L325.3,1599.3 L326.8,1596.5 L328.3,1593.9 L329.8,1591.3 L331.3,1588.8 L332.8,1586.4 L334.3,1584.1 L335.8,1581.9 L337.3,1579.8 L338.8,1577.8 L340.3,1575.9 L341.8,1574.1 L343.3,1572.4 L344.8,1570.9 L346.3,1569.4 L347.8,1568.1 L349.3,1566.9 L350.8,1565.8 L352.3,1564.9 L353.8,1564.1 L355.3,1563.4 L356.8,1562.9 L358.3,1562.6 L359.8,1562.4 L361.3,1562.3 L362.8,1562.4 L364.3,1562.6 L365.8,1563.0 L367.3,1563.6 L368.8,1564.3 L370.3,1565.1 L371.8,1566.0 L373.4,1567.1 L374.9,1568.2 L376.4,1569.4 L377.9,1570.8 L379.4,1572.1 L380.9,1573.6 L382.4,1575.1 L383.9,1576.7 L385.4,1578.3 L386.9,1579.9 L388.4,1581.6 L389.9,1583.3 L391.4,1585.0 L392.9,1586.6 L394.4,1588.3 L395.9,1590.0 L397.4,1591.6 L398.9,1593.2 L400.4,1594.7 L401.9,1596.2 L403.4,1597.6 L404.9,1598.9 L406.4,1600.2 L407.9,1601.4 L409.4,1602.4 L410.9,1603.4 L412.4,1604.3 L413.9,1605.0 L415.4,1605.6 L416.9,1606.0 L418.4,1606.3 L419.9,1606.4 L421.5,1606.4 L423.0,1606.2 L424.5,1605.9 L426.0,1605.4 L427.5,1604.8 L429.0,1604.1 L430.5,1603.2 L432.0,1602.2 L433.5,1601.0 L435.0,1599.7 L436.5,1598.3 L438.0,1596.7 L439.5,1595.1 L441.0,1593.3 L442.5,1591.3 L444.0,1589.3 L445.5,1587.1 L447.0,1584.9 L448.5,1582.5 L450.0,1580.0 L451.5,1577.3 L453.0,1574.6 L454.5,1571.7 L456.0,1568.7 L457.5,1565.6 L459.0,1562.4 L460.5,1559.0 L462.0,1555.6 L463.5,1552.0 L465.0,1548.3 L466.5,1544.4 L468.0,1540.5 L469.5,1536.4 L471.1,1532.2 L472.6,1527.8 L474.1,1523.4 L475.6,1518.8 L477.1,1514.1 L478.6,1509.3 L480.1,1504.3 L481.6,1499.3 L483.1,1494.1 L484.6,1488.8 L486.1,1483.5 L487.6,1478.1 L489.1,1472.6 L490.6,1467.0 L492.1,1461.5 L493.6,1455.9 L495.1,1450.3 L496.6,1444.6 L498.1,1439.0 L499.6,1433.5 L501.1,1427.9 L502.6,1422.4 L504.1,1417.0 L505.6,1411.6 L507.1,1406.3 L508.6,1401.1 L510.1,1395.9 L511.6,1390.9 L513.1,1385.9 L514.6,1381.1 L516.1,1376.3 L517.6,1371.7 L519.2,1367.2 L520.7,1362.7 L522.2,1358.4 L523.7,1354.3 L525.2,1350.2 L526.7,1346.3 L528.2,1342.5 L529.7,1338.9 L531.2,1335.4 L532.7,1332.0 L534.2,1328.8 L535.7,1325.7 L537.2,1322.8 L538.7,1320.0 L540.2,1317.4 L541.7,1314.9 L543.2,1312.5 L544.7,1310.4 L546.2,1308.3 L547.7,1306.4 L549.2,1304.7 L550.7,1303.2 L552.2,1301.8 L553.7,1300.5 L555.2,1299.4 L556.7,1298.5 L558.2,1297.7 L559.7,1297.1 L561.2,1296.7 L562.7,1296.4 L564.2,1296.3 L565.7,1296.3 L567.2,1296.5 L568.8,1296.8 L570.3,1297.3 L571.8,1298.0 L573.3,1298.8 L574.8,1299.8 L576.3,1301.0 L577.8,1302.3 L579.3,1303.7 L580.8,1305.4 L582.3,1307.1 L583.8,1309.1 L585.3,1311.2 L586.8,1313.4 L588.3,1315.8 L589.8,1318.4 L591.3,1321.1 L592.8,1324.0 L594.3,1327.0 L595.8,1330.2 L597.3,1333.6 L598.8,1337.0 L600.3,1340.7 L601.8,1344.4 L603.3,1348.4 L604.8,1352.4 L606.3,1356.7 L607.8,1361.0 L609.3,1365.5 L610.8,1370.1 L612.3,1374.8 L613.8,1379.6 L615.3,1384.4 L616.8,1389.3 L618.4,1394.3 L619.9,1399.3 L621.4,1404.2 L622.9,1409.2 L624.4,1414.2 L625.9,1419.1 L627.4,1424.0 L628.9,1428.9 L630.4,1433.7 L631.9,1438.3 L633.4,1442.9 L634.9,1447.4 L636.4,1451.8 L637.9,1456.1 L639.4,1460.2 L640.9,1464.3 L642.4,1468.3 L643.9,1472.3 L645.4,1476.1 L646.9,1479.8 L648.4,1483.5 L649.9,1487.1 L651.4,1490.6 L652.9,1494.1 L654.4,1497.4 L655.9,1500.7 L657.4,1504.0 L658.9,1507.2 L660.4,1510.3 L661.9,1513.4 L663.4,1516.4 L664.9,1519.3 L666.5,1522.2 L668.0,1525.0 L669.5,1527.8 L671.0,1530.6 L672.5,1533.2 L674.0,1535.8 L675.5,1538.4 L677.0,1540.9 L678.5,1543.3 L680.0,1545.7 L681.5,1548.1 L683.0,1550.4 L684.5,1552.6 L686.0,1554.8 L687.5,1556.9 L689.0,1559.0 L690.5,1561.0 L692.0,1563.0 L693.5,1564.9 L695.0,1566.8 L696.5,1568.6 L698.0,1570.4 L699.5,1572.1 L701.0,1573.8 L702.5,1575.5 L704.0,1577.1 L705.5,1578.7 L707.0,1580.2 L708.5,1581.8 L710.0,1583.3 L711.5,1584.8 L713.0,1586.3 L714.5,1587.8 L716.1,1589.3 L717.6,1590.8 L719.1,1592.2 L720.6,1593.7 L722.1,1595.1 L723.6,1596.6 L725.1,1598.0 L726.6,1599.4 L728.1,1600.8 L729.6,1602.2 L731.1,1603.6 L732.6,1604.9 L734.1,1606.3 L735.6,1607.7 L737.1,1609.0 L738.6,1610.4 L740.1,1611.7 L741.6,1613.1 L743.1,1614.4 L744.6,1615.7 L746.1,1617.0 L747.6,1618.4 L749.1,1619.7 L750.6,1621.0 L752.1,1622.3 L753.6,1623.6 L755.1,1624.9 L756.6,1626.2 L758.1,1627.5 L759.6,1628.8 L761.1,1630.1 L762.6,1631.4 L764.2,1632.7 L765.7,1634.0 L767.2,1635.3 L768.7,1636.6 L770.2,1637.9 L771.7,1639.2 L773.2,1640.6 L774.7,1641.9 L776.2,1643.3 L777.7,1644.6 L779.2,1646.0 L780.7,1647.3 L782.2,1648.7 L783.7,1650.0 L785.2,1651.4 L786.7,1652.7 L788.2,1654.0 L789.7,1655.3 L791.2,1656.6 L792.7,1657.9 L794.2,1659.1 L795.7,1660.3 L797.2,1661.5 L798.7,1662.7 L800.2,1663.8 L801.7,1664.9 L803.2,1666.0 L804.7,1667.0 L806.2,1668.0 L807.7,1669.0 L809.2,1669.9 L810.7,1670.9 L812.2,1671.8 L813.8,1672.6 L815.3,1673.5 L816.8,1674.3 L818.3,1675.0 L819.8,1675.8 L821.3,1676.5 L822.8,1677.2 L824.3,1677.8 L825.8,1678.4 L827.3,1679.0 L828.8,1679.6 L830.3,1680.0 L831.8,1680.5 L833.3,1680.9 L834.8,1681.3 L836.3,1681.6 L837.8,1681.8 L839.3,1682.0 L840.8,1682.2 L842.3,1682.2 L843.8,1682.2 L845.3,1682.1 L846.8,1682.0 L848.3,1681.7 L849.8,1681.4 L851.3,1681.0 L852.8,1680.5 L854.3,1679.9 L855.8,1679.2 L857.3,1678.4 L858.8,1677.4 L860.3,1676.4 L861.8,1675.3 L863.4,1674.1 L864.9,1672.7 L866.4,1671.4 L867.9,1669.9 L869.4,1668.4 L870.9,1666.8 L872.4,1665.2 L873.9,1663.6 L875.4,1662.0 L876.9,1660.3 L878.4,1658.7 L879.9,1657.0 L881.4,1655.4 L882.9,1653.9 L884.4,1652.3 L885.9,1650.8 L887.4,1649.4 L888.9,1648.1 L890.4,1646.8 L891.9,1645.7 L893.4,1644.6 L894.9,1643.6 L896.4,1642.7 L897.9,1641.9 L899.4,1641.1 L900.9,1640.5 L902.4,1639.9 L903.9,1639.4 L905.4,1638.9 L906.9,1638.6 L908.4,1638.3 L909.9,1638.0 L911.5,1637.9 L913.0,1637.8 L914.5,1637.7 L916.0,1637.8 L917.5,1637.8 L919.0,1638.0 L920.5,1638.2 L922.0,1638.4 L923.5,1638.7 L925.0,1639.1 L926.5,1639.4 L928.0,1639.8 L929.5,1640.1 L931.0,1640.4 L932.5,1640.7 L934.0,1640.9 L935.5,1641.0 L937.0,1641.1 L938.5,1641.1 L940.0,1640.9 L941.5,1640.7 L943.0,1640.3 L944.5,1639.7 L946.0,1639.0 L947.5,1638.1 L949.0,1636.9 L950.5,1635.6 L952.0,1634.2 L953.5,1632.5 L955.0,1630.7 L956.5,1628.7 L958.0,1626.5 L959.5,1624.2 L961.1,1621.7 L962.6,1619.1 L964.1,1616.3 L965.6,1613.4 L967.1,1610.4 L968.6,1607.2 L970.1,1604.0 L971.6,1600.6 L973.1,1597.2 L974.6,1593.7 L976.1,1590.2 L977.6,1586.7 L979.1,1583.1 L980.6,1579.5 L982.1,1576.0 L983.6,1572.5 L985.1,1569.0 L986.6,1565.6 L988.1,1562.3 L989.6,1559.0 L991.1,1555.8 L992.6,1552.8 L994.1,1549.8 L995.6,1547.0 L997.1,1544.2 L998.6,1541.6 L1000.1,1539.1 L1001.6,1536.8 L1003.1,1534.6 L1004.6,1532.5 L1006.1,1530.6 L1007.6,1528.8 L1009.2,1527.1 L1010.7,1525.6 L1012.2,1524.3 L1013.7,1523.1 L1015.2,1522.1 L1016.7,1521.2 L1018.2,1520.5 L1019.7,1519.9 L1021.2,1519.5 L1022.7,1519.2 L1024.2,1519.0 L1025.7,1518.9 L1027.2,1519.0 L1028.7,1519.2 L1030.2,1519.6 L1031.7,1520.1 L1033.2,1520.7 L1034.7,1521.4 L1036.2,1522.4 L1037.7,1523.4 L1039.2,1524.7 L1040.7,1526.1 L1042.2,1527.7 L1043.7,1529.5 L1045.2,1531.4 L1046.7,1533.6 L1048.2,1536.0 L1049.7,1538.6 L1051.2,1541.4 L1052.7,1544.3 L1054.2,1547.5 L1055.7,1550.9 L1057.2,1554.5 L1058.8,1558.2 L1060.3,1562.1 L1061.8,1566.2 L1063.3,1570.5 L1064.8,1574.9 L1066.3,1579.5 L1067.8,1584.1 L1069.3,1588.9 L1070.8,1593.8 L1072.3,1598.7 L1073.8,1603.6 L1075.3,1608.5 L1076.8,1613.5 L1078.3,1618.4 L1079.8,1623.3 L1081.3,1628.1 L1082.8,1632.8 L1084.3,1637.5 L1085.8,1642.0 L1087.3,1646.4 L1088.8,1650.7 L1090.3,1654.9 L1091.8,1658.9 L1093.3,1662.8 L1094.8,1666.7 L1096.3,1670.4 L1097.8,1674.0 L1099.3,1677.4 L1100.8,1680.8 L1102.3,1684.1 L1103.8,1687.3 L1105.3,1690.4 L1106.8,1693.3 L1108.4,1696.2 L1109.9,1699.0 L1111.4,1701.7 L1112.9,1704.3 L1114.4,1706.8 L1115.9,1709.2 L1117.4,1711.6 L1118.9,1713.8 L1120.4,1716.0 L1121.9,1718.1 L1123.4,1720.1 L1124.9,1722.1 L1126.4,1723.9 L1127.9,1725.7 L1129.4,1727.4 L1130.9,1729.1 L1132.4,1730.7 L1133.9,1732.2 L1135.4,1733.7 L1136.9,1735.1 L1138.4,1736.5 L1139.9,1737.8 L1141.4,1739.0 L1142.9,1740.2 L1144.4,1741.4 L1145.9,1742.4 L1147.4,1743.5 L1148.9,1744.5 L1150.4,1745.5 L1151.9,1746.4 L1153.4,1747.3 L1154.9,1748.2 L1156.5,1749.1 L1158.0,1749.9 L1159.5,1750.7 L1161.0,1751.5 L1162.5,1752.3 L1164.0,1753.1 L1165.5,1753.9 L1167.0,1754.7 L1168.5,1755.4 L1170.0,1756.2 L1171.5,1756.9 L1173.0,1757.7 L1174.5,1758.4 L1176.0,1759.1 L1177.5,1759.9 L1179.0,1760.6 L1180.5,1761.3" fill="none" stroke="#0000ff" stroke-width="2.2" stroke-linejoin="round"/>
<path d="M200.5,1761.3 L202.0,1760.1 L203.5,1759.0 L205.0,1757.8 L206.5,1756.6 L208.0,1755.5 L209.5,1754.4 L211.0,1753.3 L212.5,1752.1 L214.0,1751.0 L215.5,1750.0 L217.0,1748.9 L218.5,1747.8 L220.0,1746.7 L221.5,1745.6 L223.0,1744.5 L224.5,1743.4 L226.1,1742.3 L227.6,1741.2 L229.1,1740.1 L230.6,1739.0 L232.1,1737.9 L233.6,1736.7 L235.1,1735.6 L236.6,1734.4 L238.1,1733.2 L239.6,1732.0 L241.1,1730.7 L242.6,1729.5 L244.1,1728.2 L245.6,1726.9 L247.1,1725.6 L248.6,1724.2 L250.1,1722.8 L251.6,1721.4 L253.1,1720.0 L254.6,1718.5 L256.1,1716.9 L257.6,1715.4 L259.1,1713.8 L260.6,1712.1 L262.1,1710.4 L263.6,1708.7 L265.1,1706.9 L266.6,1705.1 L268.1,1703.3 L269.6,1701.3 L271.1,1699.4 L272.6,1697.3 L274.2,1695.3 L275.7,1693.1 L277.2,1690.9 L278.7,1688.7 L280.2,1686.4 L281.7,1684.0 L283.2,1681.6 L284.7,1679.2 L286.2,1676.6 L287.7,1674.0 L289.2,1671.4 L290.7,1668.7 L292.2,1665.9 L293.7,1663.1 L295.2,1660.2 L296.7,1657.2 L298.2,1654.2 L299.7,1651.1 L301.2,1648.0 L302.7,1644.8 L304.2,1641.6 L305.7,1638.4 L307.2,1635.2 L308.7,1632.0 L310.2,1628.7 L311.7,1625.5 L313.2,1622.3 L314.7,1619.1 L316.2,1615.9 L317.7,1612.8 L319.2,1609.7 L320.7,1606.7 L322.2,1603.8 L323.8,1600.9 L325.3,1598.1 L326.8,1595.3 L328.3,1592.7 L329.8,1590.1 L331.3,1587.6 L332.8,1585.2 L334.3,1582.9 L335.8,1580.7 L337.3,1578.6 L338.8,1576.6 L340.3,1574.7 L341.8,1572.9 L343.3,1571.3 L344.8,1569.7 L346.3,1568.3 L347.8,1567.0 L349.3,1565.8 L350.8,1564.8 L352.3,1563.9 L353.8,1563.1 L355.3,1562.5 L356.8,1562.0 L358.3,1561.7 L359.8,1561.5 L361.3,1561.5 L362.8,1561.7 L364.3,1562.0 L365.8,1562.4 L367.3,1563.0 L368.8,1563.8 L370.3,1564.7 L371.8,1565.7 L373.4,1566.8 L374.9,1568.0 L376.4,1569.3 L377.9,1570.7 L379.4,1572.2 L380.9,1573.7 L382.4,1575.3 L383.9,1576.9 L385.4,1578.6 L386.9,1580.3 L388.4,1582.1 L389.9,1583.8 L391.4,1585.6 L392.9,1587.3 L394.4,1589.0 L395.9,1590.7 L397.4,1592.4 L398.9,1594.0 L400.4,1595.6 L401.9,1597.1 L403.4,1598.6 L404.9,1600.0 L406.4,1601.3 L407.9,1602.5 L409.4,1603.5 L410.9,1604.5 L412.4,1605.4 L413.9,1606.1 L415.4,1606.7 L416.9,1607.2 L418.4,1607.5 L419.9,1607.6 L421.5,1607.6 L423.0,1607.4 L424.5,1607.1 L426.0,1606.6 L427.5,1606.0 L429.0,1605.3 L430.5,1604.4 L432.0,1603.4 L433.5,1602.2 L435.0,1600.9 L436.5,1599.5 L438.0,1598.0 L439.5,1596.3 L441.0,1594.5 L442.5,1592.6 L444.0,1590.6 L445.5,1588.4 L447.0,1586.1 L448.5,1583.7 L450.0,1581.2 L451.5,1578.6 L453.0,1575.9 L454.5,1573.0 L456.0,1570.1 L457.5,1566.9 L459.0,1563.7 L460.5,1560.4 L462.0,1556.9 L463.5,1553.3 L465.0,1549.6 L466.5,1545.8 L468.0,1541.8 L469.5,1537.7 L471.1,1533.5 L472.6,1529.1 L474.1,1524.6 L475.6,1520.0 L477.1,1515.3 L478.6,1510.4 L480.1,1505.4 L481.6,1500.3 L483.1,1495.0 L484.6,1489.7 L486.1,1484.3 L487.6,1478.7 L489.1,1473.1 L490.6,1467.5 L492.1,1461.8 L493.6,1456.1 L495.1,1450.3 L496.6,1444.6 L498.1,1438.8 L499.6,1433.1 L501.1,1427.3 L502.6,1421.6 L504.1,1416.0 L505.6,1410.4 L507.1,1404.9 L508.6,1399.5 L510.1,1394.1 L511.6,1388.9 L513.1,1383.7 L514.6,1378.6 L516.1,1373.6 L517.6,1368.7 L519.2,1363.9 L520.7,1359.2 L522.2,1354.6 L523.7,1350.1 L525.2,1345.8 L526.7,1341.5 L528.2,1337.4 L529.7,1333.4 L531.2,1329.5 L532.7,1325.7 L534.2,1322.1 L535.7,1318.6 L537.2,1315.3 L538.7,1312.1 L540.2,1309.1 L541.7,1306.2 L543.2,1303.4 L544.7,1300.8 L546.2,1298.4 L547.7,1296.1 L549.2,1294.0 L550.7,1292.1 L552.2,1290.4 L553.7,1288.8 L555.2,1287.4 L556.7,1286.2 L558.2,1285.2 L559.7,1284.4 L561.2,1283.7 L562.7,1283.3 L564.2,1283.0 L565.7,1282.9 L567.2,1283.0 L568.8,1283.3 L570.3,1283.8 L571.8,1284.5 L573.3,1285.3 L574.8,1286.3 L576.3,1287.5 L577.8,1288.9 L579.3,1290.4 L580.8,1292.1 L582.3,1294.0 L583.8,1296.0 L585.3,1298.3 L586.8,1300.6 L588.3,1303.2 L589.8,1305.9 L591.3,1308.8 L592.8,1311.8 L594.3,1315.0 L595.8,1318.4 L597.3,1321.9 L598.8,1325.6 L600.3,1329.4 L601.8,1333.4 L603.3,1337.5 L604.8,1341.8 L606.3,1346.3 L607.8,1350.8 L609.3,1355.6 L610.8,1360.4 L612.3,1365.3 L613.8,1370.3 L615.3,1375.4 L616.8,1380.5 L618.4,1385.7 L619.9,1390.9 L621.4,1396.2 L622.9,1401.4 L624.4,1406.6 L625.9,1411.7 L627.4,1416.9 L628.9,1421.9 L630.4,1426.9 L631.9,1431.8 L633.4,1436.6 L634.9,1441.2 L636.4,1445.8 L637.9,1450.3 L639.4,1454.7 L640.9,1458.9 L642.4,1463.1 L643.9,1467.2 L645.4,1471.2 L646.9,1475.1 L648.4,1478.9 L649.9,1482.6 L651.4,1486.3 L652.9,1489.9 L654.4,1493.4 L655.9,1496.8 L657.4,1500.2 L658.9,1503.5 L660.4,1506.8 L661.9,1510.0 L663.4,1513.1 L664.9,1516.1 L666.5,1519.1 L668.0,1522.1 L669.5,1525.0 L671.0,1527.8 L672.5,1530.5 L674.0,1533.2 L675.5,1535.9 L677.0,1538.5 L678.5,1541.0 L680.0,1543.5 L681.5,1545.9 L683.0,1548.2 L684.5,1550.5 L686.0,1552.7 L687.5,1554.9 L689.0,1557.1 L690.5,1559.1 L692.0,1561.1 L693.5,1563.1 L695.0,1565.0 L696.5,1566.9 L698.0,1568.7 L699.5,1570.4 L701.0,1572.1 L702.5,1573.8 L704.0,1575.4 L705.5,1577.0 L707.0,1578.5 L708.5,1580.0 L710.0,1581.5 L711.5,1583.0 L713.0,1584.4 L714.5,1585.9 L716.1,1587.3 L717.6,1588.7 L719.1,1590.1 L720.6,1591.5 L722.1,1592.9 L723.6,1594.2 L725.1,1595.6 L726.6,1597.0 L728.1,1598.4 L729.6,1599.7 L731.1,1601.1 L732.6,1602.4 L734.1,1603.8 L735.6,1605.2 L737.1,1606.5 L738.6,1607.9 L740.1,1609.2 L741.6,1610.6 L743.1,1611.9 L744.6,1613.3 L746.1,1614.6 L747.6,1616.0 L749.1,1617.3 L750.6,1618.7 L752.1,1620.0 L753.6,1621.4 L755.1,1622.7 L756.6,1624.0 L758.1,1625.4 L759.6,1626.7 L761.1,1628.0 L762.6,1629.4 L764.2,1630.7 L765.7,1632.0 L767.2,1633.3 L768.7,1634.6 L770.2,1636.0 L771.7,1637.3 L773.2,1638.5 L774.7,1639.8 L776.2,1641.1 L777.7,1642.4 L779.2,1643.7 L780.7,1644.9 L782.2,1646.2 L783.7,1647.5 L785.2,1648.7 L786.7,1649.9 L788.2,1651.2 L789.7,1652.4 L791.2,1653.6 L792.7,1654.8 L794.2,1656.0 L795.7,1657.2 L797.2,1658.4 L798.7,1659.6 L800.2,1660.8 L801.7,1661.9 L803.2,1663.1 L804.7,1664.2 L806.2,1665.3 L807.7,1666.4 L809.2,1667.5 L810.7,1668.6 L812.2,1669.7 L813.8,1670.8 L815.3,1671.8 L816.8,1672.8 L818.3,1673.7 L819.8,1674.7 L821.3,1675.6 L822.8,1676.4 L824.3,1677.3 L825.8,1678.0 L827.3,1678.8 L828.8,1679.4 L830.3,1680.1 L831.8,1680.6 L833.3,1681.1 L834.8,1681.6 L836.3,1682.0 L837.8,1682.3 L839.3,1682.5 L840.8,1682.7 L842.3,1682.8 L843.8,1682.8 L845.3,1682.7 L846.8,1682.6 L848.3,1682.3 L849.8,1682.0 L851.3,1681.6 L852.8,1681.1 L854.3,1680.4 L855.8,1679.7 L857.3,1678.9 L858.8,1678.0 L860.3,1676.9 L861.8,1675.7 L863.4,1674.5 L864.9,1673.1 L866.4,1671.7 L867.9,1670.2 L869.4,1668.7 L870.9,1667.1 L872.4,1665.4 L873.9,1663.8 L875.4,1662.1 L876.9,1660.4 L878.4,1658.7 L879.9,1657.0 L881.4,1655.3 L882.9,1653.7 L884.4,1652.1 L885.9,1650.5 L887.4,1649.1 L888.9,1647.7 L890.4,1646.3 L891.9,1645.1 L893.4,1643.9 L894.9,1642.9 L896.4,1641.9 L897.9,1641.0 L899.4,1640.2 L900.9,1639.5 L902.4,1638.8 L903.9,1638.2 L905.4,1637.7 L906.9,1637.3 L908.4,1637.0 L909.9,1636.7 L911.5,1636.5 L913.0,1636.3 L914.5,1636.2 L916.0,1636.2 L917.5,1636.2 L919.0,1636.3 L920.5,1636.5 L922.0,1636.7 L923.5,1637.0 L925.0,1637.2 L926.5,1637.5 L928.0,1637.8 L929.5,1638.1 L931.0,1638.4 L932.5,1638.6 L934.0,1638.7 L935.5,1638.8 L937.0,1638.8 L938.5,1638.6 L940.0,1638.4 L941.5,1638.0 L943.0,1637.5 L944.5,1636.8 L946.0,1635.9 L947.5,1634.9 L949.0,1633.6 L950.5,1632.2 L952.0,1630.6 L953.5,1628.8 L955.0,1626.9 L956.5,1624.8 L958.0,1622.6 L959.5,1620.2 L961.1,1617.8 L962.6,1615.2 L964.1,1612.5 L965.6,1609.6 L967.1,1606.8 L968.6,1603.8 L970.1,1600.7 L971.6,1597.6 L973.1,1594.4 L974.6,1591.2 L976.1,1588.0 L977.6,1584.7 L979.1,1581.4 L980.6,1578.0 L982.1,1574.7 L983.6,1571.4 L985.1,1568.0 L986.6,1564.7 L988.1,1561.5 L989.6,1558.2 L991.1,1555.1 L992.6,1551.9 L994.1,1548.8 L995.6,1545.8 L997.1,1542.9 L998.6,1540.1 L1000.1,1537.3 L1001.6,1534.7 L1003.1,1532.2 L1004.6,1529.8 L1006.1,1527.5 L1007.6,1525.4 L1009.2,1523.4 L1010.7,1521.6 L1012.2,1519.9 L1013.7,1518.4 L1015.2,1517.1 L1016.7,1516.0 L1018.2,1515.0 L1019.7,1514.2 L1021.2,1513.7 L1022.7,1513.3 L1024.2,1513.0 L1025.7,1513.0 L1027.2,1513.1 L1028.7,1513.4 L1030.2,1513.9 L1031.7,1514.6 L1033.2,1515.4 L1034.7,1516.5 L1036.2,1517.6 L1037.7,1519.0 L1039.2,1520.5 L1040.7,1522.2 L1042.2,1524.1 L1043.7,1526.1 L1045.2,1528.3 L1046.7,1530.7 L1048.2,1533.3 L1049.7,1536.0 L1051.2,1538.8 L1052.7,1541.9 L1054.2,1545.1 L1055.7,1548.4 L1057.2,1551.9 L1058.8,1555.6 L1060.3,1559.5 L1061.8,1563.5 L1063.3,1567.6 L1064.8,1571.9 L1066.3,1576.4 L1067.8,1580.9 L1069.3,1585.6 L1070.8,1590.4 L1072.3,1595.2 L1073.8,1600.0 L1075.3,1604.9 L1076.8,1609.8 L1078.3,1614.7 L1079.8,1619.6 L1081.3,1624.4 L1082.8,1629.1 L1084.3,1633.8 L1085.8,1638.3 L1087.3,1642.7 L1088.8,1647.1 L1090.3,1651.3 L1091.8,1655.3 L1093.3,1659.3 L1094.8,1663.2 L1096.3,1666.9 L1097.8,1670.6 L1099.3,1674.1 L1100.8,1677.6 L1102.3,1680.9 L1103.8,1684.2 L1105.3,1687.3 L1106.8,1690.3 L1108.4,1693.3 L1109.9,1696.1 L1111.4,1698.9 L1112.9,1701.6 L1114.4,1704.2 L1115.9,1706.7 L1117.4,1709.1 L1118.9,1711.4 L1120.4,1713.7 L1121.9,1715.8 L1123.4,1717.9 L1124.9,1719.9 L1126.4,1721.9 L1127.9,1723.8 L1129.4,1725.6 L1130.9,1727.3 L1132.4,1729.0 L1133.9,1730.6 L1135.4,1732.2 L1136.9,1733.7 L1138.4,1735.1 L1139.9,1736.5 L1141.4,1737.8 L1142.9,1739.1 L1144.4,1740.3 L1145.9,1741.5 L1147.4,1742.7 L1148.9,1743.8 L1150.4,1744.9 L1151.9,1745.9 L1153.4,1746.9 L1154.9,1747.9 L1156.5,1748.8 L1158.0,1749.7 L1159.5,1750.6 L1161.0,1751.5 L1162.5,1752.3 L1164.0,1753.1 L1165.5,1753.9 L1167.0,1754.7 L1168.5,1755.4 L1170.0,1756.2 L1171.5,1756.9 L1173.0,1757.7 L1174.5,1758.4 L1176.0,1759.2 L1177.5,1759.9 L1179.0,1760.6 L1180.5,1761.3" fill="none" stroke="#ff0000" stroke-width="2.2" stroke-linejoin="round"/>
<line x1="571.00" y1="113.00" x2="571.00" y2="529.00" stroke="#000" stroke-width="2" stroke-linecap="butt"/>
<line x1="513.00" y1="152.00" x2="513.00" y2="214.00" stroke="#000" stroke-width="2.2" stroke-linecap="butt"/>
<polygon points="507,158 519,158 513,137" fill="#000"/>
<line x1="660.00" y1="141.00" x2="660.00" y2="405.00" stroke="#000" stroke-width="2.2" stroke-linecap="butt"/>
<polygon points="654,398 666,398 660,419" fill="#000"/>
<line x1="1844.00" y1="203.00" x2="1844.00" y2="640.00" stroke="#000" stroke-width="2" stroke-linecap="butt"/>
<line x1="1808.00" y1="240.00" x2="1808.00" y2="251.00" stroke="#000" stroke-width="2" stroke-linecap="butt"/>
<polygon points="1802.5,247 1813.5,247 1808,227" fill="#000"/>
<line x1="1980.00" y1="229.00" x2="1980.00" y2="525.00" stroke="#000" stroke-width="2" stroke-linecap="butt"/>
<polygon points="1974.5,505 1985.5,505 1980,525" fill="#000"/>
<line x1="568.00" y1="1210.00" x2="568.00" y2="1718.00" stroke="#000" stroke-width="2" stroke-linecap="butt"/>
<line x1="524.40" y1="1298.00" x2="524.40" y2="1306.00" stroke="#000" stroke-width="2" stroke-linecap="butt"/>
<polygon points="519,1303.8 529.8,1303.8 524.4,1284" fill="#000"/>
<line x1="844.70" y1="1284.00" x2="844.70" y2="1650.00" stroke="#000" stroke-width="2" stroke-linecap="butt"/>
<polygon points="839,1647 850.4,1647 844.7,1667" fill="#000"/>
<text transform="translate(677.80,46.20) scale(0.99,1)" font-size="40" text-anchor="middle" font-weight="bold" fill="#000">Polymer 3a</text>
<text transform="translate(1972.50,54.60) scale(1.005,1)" font-size="39.5" text-anchor="middle" font-weight="bold" fill="#000">Polymer 3b</text>
<text transform="translate(692.00,1088.10) scale(0.976,1)" font-size="40" text-anchor="middle" font-weight="bold" fill="#000">Polymer 3c</text>
<text transform="translate(16.00,91.30)" font-size="57.5" text-anchor="start" font-weight="bold" fill="#000">(a)</text>
<text transform="translate(1314.30,94.60)" font-size="56" text-anchor="start" font-weight="bold" fill="#000">(b)</text>
<text transform="translate(28.00,1126.60)" font-size="55" text-anchor="start" font-weight="bold" fill="#000">(c)</text>
<text transform="translate(1335.60,1119.40)" font-size="55" text-anchor="start" font-weight="bold" fill="#000">(d)</text>
<text transform="translate(50.20,466.00) rotate(-90)" font-size="40.3" text-anchor="middle" fill="#000">Absorbance</text>
<text transform="translate(1346.10,465.70) rotate(-90)" font-size="39.4" text-anchor="middle" fill="#000">Absorbance</text>
<text transform="translate(75.70,1489.20) rotate(-90)" font-size="38.5" text-anchor="middle" fill="#000">Absorbance</text>
<text transform="translate(677.6,935.5)" font-size="40.2" text-anchor="middle">Wavenumber (cm<tspan font-size="22.1" dy="-20.1">−1</tspan><tspan dy="20.1">)</tspan></text>
<text transform="translate(1971,925.1)" font-size="40" text-anchor="middle">Wavenumber (cm<tspan font-size="22.0" dy="-20.0">−1</tspan><tspan dy="20.0">)</tspan></text>
<text transform="translate(690,1940.1)" font-size="39.5" text-anchor="middle">Wavenumber (cm<tspan font-size="21.7" dy="-19.8">−1</tspan><tspan dy="19.8">)</tspan></text>
<text x="255.5" y="387" font-size="41">CH<tspan font-size="23.0" dy="13.5">3</tspan><tspan dy="-13.5"> asym</tspan></text>
<text x="453.7" y="654.4" font-size="41">CH<tspan font-size="23.0" dy="13.5">2</tspan><tspan dy="-13.5"> asym</tspan></text>
<text x="681.6" y="712.8" font-size="41">CH<tspan font-size="23.0" dy="13.5">3</tspan><tspan dy="-13.5"> sym</tspan></text>
<text x="858.7" y="361.9" font-size="41">CH<tspan font-size="23.0" dy="13.5">2</tspan><tspan dy="-13.5"> sym</tspan></text>
<text transform="translate(1371.5,1488.5) rotate(-90)" font-size="39.2" text-anchor="middle">I(CH<tspan font-size="23" dy="14">2</tspan><tspan dy="-14"> asym/sym)</tspan></text>
<text transform="translate(1972.00,1931.50)" font-size="38.8" text-anchor="middle" fill="#000">UV/vis loss (%)</text>
<path d="M1535.7,1169.6 L1542.1,1168.0 L1548.4,1172.3 L1557.1,1167.3 L1561.0,1168.9 L1577.2,1185.0 L1601.5,1184.5 L1602.0,1170.3 L1622.0,1191.0 L1626.7,1179.2 L1651.5,1185.0 L1665.4,1199.0 L1667.0,1203.0 L1695.8,1201.0 L1713.0,1198.0 L1725.2,1193.0 L1749.9,1212.2 L1766.0,1209.2 L1802.9,1217.2 L1840.4,1211.0 L1872.0,1211.0 L1926.8,1227.2 L1937.1,1224.9 L1992.4,1247.2 L2034.4,1240.8 L2066.7,1243.9 L2131.4,1225.9 L2165.6,1248.0 L2229.4,1230.0 L2279.6,1250.1 L2332.5,1254.3" fill="none" stroke="#0000ff" stroke-width="2.5" stroke-linejoin="round"/>
<polygon points="1524.6,1179.4 1546.8,1179.4 1535.7,1159.7" fill="#0000ff"/>
<polygon points="1531.0,1177.8 1553.2,1177.8 1542.1,1158.1" fill="#0000ff"/>
<polygon points="1537.3,1182.1 1559.5,1182.1 1548.4,1162.4" fill="#0000ff"/>
<polygon points="1546.0,1177.1 1568.2,1177.1 1557.1,1157.4" fill="#0000ff"/>
<polygon points="1549.9,1178.7 1572.1,1178.7 1561.0,1159.0" fill="#0000ff"/>
<polygon points="1566.1,1194.8 1588.3,1194.8 1577.2,1175.1" fill="#0000ff"/>
<polygon points="1590.4,1194.3 1612.6,1194.3 1601.5,1174.6" fill="#0000ff"/>
<polygon points="1590.9,1180.1 1613.1,1180.1 1602.0,1160.4" fill="#0000ff"/>
<polygon points="1610.9,1200.8 1633.1,1200.8 1622.0,1181.1" fill="#0000ff"/>
<polygon points="1615.6,1189.0 1637.8,1189.0 1626.7,1169.3" fill="#0000ff"/>
<polygon points="1640.4,1194.8 1662.6,1194.8 1651.5,1175.1" fill="#0000ff"/>
<polygon points="1654.3,1208.8 1676.5,1208.8 1665.4,1189.1" fill="#0000ff"/>
<polygon points="1655.9,1212.8 1678.1,1212.8 1667.0,1193.1" fill="#0000ff"/>
<polygon points="1684.7,1210.8 1706.9,1210.8 1695.8,1191.1" fill="#0000ff"/>
<polygon points="1701.9,1207.8 1724.1,1207.8 1713.0,1188.1" fill="#0000ff"/>
<polygon points="1714.1,1202.8 1736.3,1202.8 1725.2,1183.1" fill="#0000ff"/>
<polygon points="1738.8,1222.0 1761.0,1222.0 1749.9,1202.3" fill="#0000ff"/>
<polygon points="1754.9,1219.0 1777.1,1219.0 1766.0,1199.3" fill="#0000ff"/>
<polygon points="1791.8,1227.0 1814.0,1227.0 1802.9,1207.3" fill="#0000ff"/>
<polygon points="1829.3,1220.8 1851.5,1220.8 1840.4,1201.1" fill="#0000ff"/>
<polygon points="1860.9,1220.8 1883.1,1220.8 1872.0,1201.1" fill="#0000ff"/>
<polygon points="1915.7,1237.0 1937.9,1237.0 1926.8,1217.3" fill="#0000ff"/>
<polygon points="1926.0,1234.7 1948.2,1234.7 1937.1,1215.0" fill="#0000ff"/>
<polygon points="1981.3,1257.0 2003.5,1257.0 1992.4,1237.3" fill="#0000ff"/>
<polygon points="2023.3,1250.6 2045.5,1250.6 2034.4,1230.9" fill="#0000ff"/>
<polygon points="2055.6,1253.7 2077.8,1253.7 2066.7,1234.0" fill="#0000ff"/>
<polygon points="2120.3,1235.7 2142.5,1235.7 2131.4,1216.0" fill="#0000ff"/>
<polygon points="2154.5,1257.8 2176.7,1257.8 2165.6,1238.1" fill="#0000ff"/>
<polygon points="2218.3,1239.8 2240.5,1239.8 2229.4,1220.1" fill="#0000ff"/>
<polygon points="2268.5,1259.9 2290.7,1259.9 2279.6,1240.2" fill="#0000ff"/>
<polygon points="2321.4,1264.1 2343.6,1264.1 2332.5,1244.4" fill="#0000ff"/>
<path d="M1535.4,1615.9 L1542.0,1647.2 L1549.0,1639.4 L1572.6,1654.9 L1576.0,1630.0 L1586.7,1660.3 L1592.1,1621.9 L1592.8,1633.4 L1619.0,1632.7 L1627.1,1631.4 L1639.9,1609.1 L1661.5,1592.7 L1673.6,1636.1 L1687.0,1638.8 L1669.9,1644.1 L1685.4,1588.3 L1707.6,1644.1 L1746.5,1646.2 L1754.3,1616.5 L1754.9,1600.6 L1784.4,1618.4 L1779.0,1631.6 L1817.1,1676.1 L1875.6,1656.2 L1875.6,1617.2 L1901.7,1657.0 L1948.9,1596.8 L1987.1,1657.5 L2038.1,1653.7 L2095.8,1648.2 L2135.6,1648.2 L2145.5,1639.9 L2186.2,1645.8 L2230.7,1648.2 L2346.6,1635.2 L2375.4,1642.3 L2410.4,1624.0" fill="none" stroke="#ff0000" stroke-width="1.8" stroke-linejoin="round"/>
<circle cx="1535.4" cy="1615.9" r="9.6" fill="#ff0000"/>
<circle cx="1542.0" cy="1647.2" r="9.6" fill="#ff0000"/>
<circle cx="1549.0" cy="1639.4" r="9.6" fill="#ff0000"/>
<circle cx="1572.6" cy="1654.9" r="9.6" fill="#ff0000"/>
<circle cx="1576.0" cy="1630.0" r="9.6" fill="#ff0000"/>
<circle cx="1586.7" cy="1660.3" r="9.6" fill="#ff0000"/>
<circle cx="1592.1" cy="1621.9" r="9.6" fill="#ff0000"/>
<circle cx="1592.8" cy="1633.4" r="9.6" fill="#ff0000"/>
<circle cx="1619.0" cy="1632.7" r="9.6" fill="#ff0000"/>
<circle cx="1627.1" cy="1631.4" r="9.6" fill="#ff0000"/>
<circle cx="1639.9" cy="1609.1" r="9.6" fill="#ff0000"/>
<circle cx="1661.5" cy="1592.7" r="9.6" fill="#ff0000"/>
<circle cx="1673.6" cy="1636.1" r="9.6" fill="#ff0000"/>
<circle cx="1687.0" cy="1638.8" r="9.6" fill="#ff0000"/>
<circle cx="1669.9" cy="1644.1" r="9.6" fill="#ff0000"/>
<circle cx="1685.4" cy="1588.3" r="9.6" fill="#ff0000"/>
<circle cx="1707.6" cy="1644.1" r="9.6" fill="#ff0000"/>
<circle cx="1746.5" cy="1646.2" r="9.6" fill="#ff0000"/>
<circle cx="1754.3" cy="1616.5" r="9.6" fill="#ff0000"/>
<circle cx="1754.9" cy="1600.6" r="9.6" fill="#ff0000"/>
<circle cx="1784.4" cy="1618.4" r="9.6" fill="#ff0000"/>
<circle cx="1779.0" cy="1631.6" r="9.6" fill="#ff0000"/>
<circle cx="1817.1" cy="1676.1" r="9.6" fill="#ff0000"/>
<circle cx="1875.6" cy="1656.2" r="9.6" fill="#ff0000"/>
<circle cx="1875.6" cy="1617.2" r="9.6" fill="#ff0000"/>
<circle cx="1901.7" cy="1657.0" r="9.6" fill="#ff0000"/>
<circle cx="1948.9" cy="1596.8" r="9.6" fill="#ff0000"/>
<circle cx="1987.1" cy="1657.5" r="9.6" fill="#ff0000"/>
<circle cx="2038.1" cy="1653.7" r="9.6" fill="#ff0000"/>
<circle cx="2095.8" cy="1648.2" r="9.6" fill="#ff0000"/>
<circle cx="2135.6" cy="1648.2" r="9.6" fill="#ff0000"/>
<circle cx="2145.5" cy="1639.9" r="9.6" fill="#ff0000"/>
<circle cx="2186.2" cy="1645.8" r="9.6" fill="#ff0000"/>
<circle cx="2230.7" cy="1648.2" r="9.6" fill="#ff0000"/>
<circle cx="2346.6" cy="1635.2" r="9.6" fill="#ff0000"/>
<circle cx="2375.4" cy="1642.3" r="9.6" fill="#ff0000"/>
<circle cx="2410.4" cy="1624.0" r="9.6" fill="#ff0000"/>
<path d="M1535.4,1769.3 L1543.5,1733.5 L1554.0,1756.4 L1547.7,1739.0 L1560.5,1720.2 L1564.4,1731.9 L1577.6,1692.9 L1579.5,1704.3 L1583.8,1683.5 L1588.5,1698.3 L1597.2,1678.5 L1599.5,1694.2 L1618.6,1684.9 L1627.4,1680.5 L1630.5,1692.3 L1637.9,1667.3 L1641.3,1680.1 L1659.4,1671.5 L1659.4,1684.1 L1665.6,1676.9 L1681.2,1683.3 L1703.9,1689.4 L1712.3,1674.4 L1732.9,1668.9 L1776.5,1655.3 L1798.9,1680.7 L1829.5,1670.3 L1859.4,1675.6 L1898.0,1661.5 L1920.7,1665.3 L1944.4,1657.3 L1989.2,1674.4 L2024.4,1663.1 L2093.5,1658.8 L2147.9,1651.7 L2196.4,1629.7 L2236.1,1630.0 L2277.5,1621.4 L2296.4,1629.2 L2334.3,1585.5 L2390.3,1570.8" fill="none" stroke="#000" stroke-width="1.8" stroke-linejoin="round"/>
<rect x="1526.8" y="1760.7" width="17.2" height="17.2" rx="1.5" fill="#000"/>
<rect x="1534.9" y="1724.9" width="17.2" height="17.2" rx="1.5" fill="#000"/>
<rect x="1545.4" y="1747.8" width="17.2" height="17.2" rx="1.5" fill="#000"/>
<rect x="1539.1" y="1730.4" width="17.2" height="17.2" rx="1.5" fill="#000"/>
<rect x="1551.9" y="1711.6" width="17.2" height="17.2" rx="1.5" fill="#000"/>
<rect x="1555.8" y="1723.3" width="17.2" height="17.2" rx="1.5" fill="#000"/>
<rect x="1569.0" y="1684.3" width="17.2" height="17.2" rx="1.5" fill="#000"/>
<rect x="1570.9" y="1695.7" width="17.2" height="17.2" rx="1.5" fill="#000"/>
<rect x="1575.2" y="1674.9" width="17.2" height="17.2" rx="1.5" fill="#000"/>
<rect x="1579.9" y="1689.7" width="17.2" height="17.2" rx="1.5" fill="#000"/>
<rect x="1588.6" y="1669.9" width="17.2" height="17.2" rx="1.5" fill="#000"/>
<rect x="1590.9" y="1685.6" width="17.2" height="17.2" rx="1.5" fill="#000"/>
<rect x="1610.0" y="1676.3" width="17.2" height="17.2" rx="1.5" fill="#000"/>
<rect x="1618.8" y="1671.9" width="17.2" height="17.2" rx="1.5" fill="#000"/>
<rect x="1621.9" y="1683.7" width="17.2" height="17.2" rx="1.5" fill="#000"/>
<rect x="1629.3" y="1658.7" width="17.2" height="17.2" rx="1.5" fill="#000"/>
<rect x="1632.7" y="1671.5" width="17.2" height="17.2" rx="1.5" fill="#000"/>
<rect x="1650.8" y="1662.9" width="17.2" height="17.2" rx="1.5" fill="#000"/>
<rect x="1650.8" y="1675.5" width="17.2" height="17.2" rx="1.5" fill="#000"/>
<rect x="1657.0" y="1668.3" width="17.2" height="17.2" rx="1.5" fill="#000"/>
<rect x="1672.6" y="1674.7" width="17.2" height="17.2" rx="1.5" fill="#000"/>
<rect x="1695.3" y="1680.8" width="17.2" height="17.2" rx="1.5" fill="#000"/>
<rect x="1703.7" y="1665.8" width="17.2" height="17.2" rx="1.5" fill="#000"/>
<rect x="1724.3" y="1660.3" width="17.2" height="17.2" rx="1.5" fill="#000"/>
<rect x="1767.9" y="1646.7" width="17.2" height="17.2" rx="1.5" fill="#000"/>
<rect x="1790.3" y="1672.1" width="17.2" height="17.2" rx="1.5" fill="#000"/>
<rect x="1820.9" y="1661.7" width="17.2" height="17.2" rx="1.5" fill="#000"/>
<rect x="1850.8" y="1667.0" width="17.2" height="17.2" rx="1.5" fill="#000"/>
<rect x="1889.4" y="1652.9" width="17.2" height="17.2" rx="1.5" fill="#000"/>
<rect x="1912.1" y="1656.7" width="17.2" height="17.2" rx="1.5" fill="#000"/>
<rect x="1935.8" y="1648.7" width="17.2" height="17.2" rx="1.5" fill="#000"/>
<rect x="1980.6" y="1665.8" width="17.2" height="17.2" rx="1.5" fill="#000"/>
<rect x="2015.8" y="1654.5" width="17.2" height="17.2" rx="1.5" fill="#000"/>
<rect x="2084.9" y="1650.2" width="17.2" height="17.2" rx="1.5" fill="#000"/>
<rect x="2139.3" y="1643.1" width="17.2" height="17.2" rx="1.5" fill="#000"/>
<rect x="2187.8" y="1621.1" width="17.2" height="17.2" rx="1.5" fill="#000"/>
<rect x="2227.5" y="1621.4" width="17.2" height="17.2" rx="1.5" fill="#000"/>
<rect x="2268.9" y="1612.8" width="17.2" height="17.2" rx="1.5" fill="#000"/>
<rect x="2287.8" y="1620.6" width="17.2" height="17.2" rx="1.5" fill="#000"/>
<rect x="2325.7" y="1576.9" width="17.2" height="17.2" rx="1.5" fill="#000"/>
<rect x="2381.7" y="1562.2" width="17.2" height="17.2" rx="1.5" fill="#000"/>
<rect x="1542" y="1324" width="323" height="149" fill="#000"/>
<rect x="1532.7" y="1314.3" width="320.1" height="146.7" fill="#fff" stroke="#000" stroke-width="2.6"/>
<line x1="1552.00" y1="1343.90" x2="1640.00" y2="1343.90" stroke="#000" stroke-width="1.8" stroke-linecap="butt"/>
<rect x="1587.2" y="1336.1" width="17.7" height="17.8" rx="1.5" fill="#000"/>
<line x1="1552.00" y1="1391.70" x2="1640.00" y2="1391.70" stroke="#ff0000" stroke-width="1.8" stroke-linecap="butt"/>
<circle cx="1596" cy="1392.4" r="9.6" fill="#ff0000"/>
<line x1="1552.00" y1="1439.30" x2="1640.00" y2="1439.30" stroke="#0000ff" stroke-width="2.6" stroke-linecap="butt"/>
<polygon points="1584.7,1447.1 1607,1447.1 1595.9,1426.8" fill="#0000ff"/>
<text transform="translate(1651.00,1358.00) scale(0.985,1)" font-size="39" text-anchor="start" fill="#000">Polymer 3a</text>
<text transform="translate(1651.00,1404.80) scale(0.985,1)" font-size="39" text-anchor="start" fill="#000">Polymer 3b</text>
<text transform="translate(1651.00,1452.50) scale(0.985,1)" font-size="39" text-anchor="start" fill="#000">Polymer 3c</text></svg></body></html>
